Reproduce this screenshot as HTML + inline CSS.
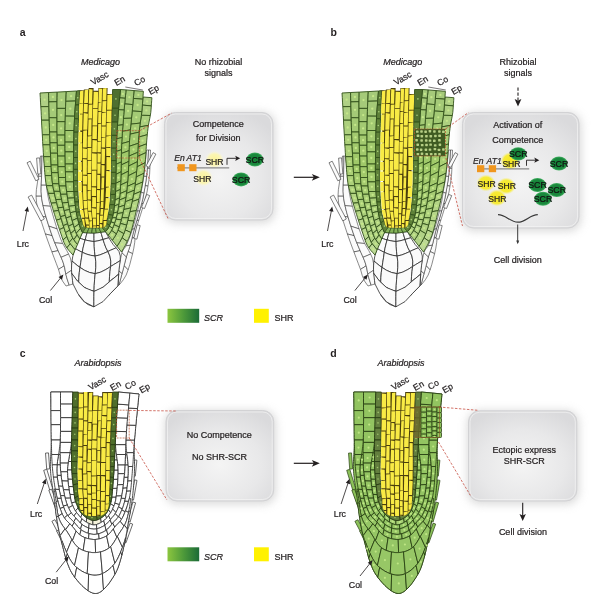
<!DOCTYPE html>
<html><head><meta charset="utf-8"><style>
html,body{margin:0;padding:0;background:#fff;width:600px;height:615px;overflow:hidden}
svg{display:block;will-change:transform}
text{font-family:"Liberation Sans",sans-serif}
</style></head><body>
<svg width="600" height="615" viewBox="0 0 600 615" font-family="Liberation Sans, sans-serif"><defs>
<radialGradient id="boxg" cx="50%" cy="60%" r="65%">
  <stop offset="0" stop-color="#f4f4f4"/>
  <stop offset="0.6" stop-color="#e8e8e9"/>
  <stop offset="1" stop-color="#dadadc"/>
</radialGradient>
<linearGradient id="scrg" x1="0" x2="1" y1="0" y2="0">
  <stop offset="0" stop-color="#8cc63f"/>
  <stop offset="0.5" stop-color="#4e9a3a"/>
  <stop offset="1" stop-color="#1b6b37"/>
</linearGradient>
<radialGradient id="shrA" cx="50%" cy="50%" r="50%">
  <stop offset="0" stop-color="#fbf39a"/>
  <stop offset="0.65" stop-color="#fbf5b4"/>
  <stop offset="1" stop-color="#fbf8d8" stop-opacity="0"/>
</radialGradient>
<radialGradient id="shrB" cx="50%" cy="50%" r="50%">
  <stop offset="0" stop-color="#f5e81e"/>
  <stop offset="0.7" stop-color="#f7eb3a"/>
  <stop offset="1" stop-color="#f8f080" stop-opacity="0"/>
</radialGradient>
<radialGradient id="scrBlob" cx="50%" cy="50%" r="50%">
  <stop offset="0" stop-color="#157d35"/>
  <stop offset="0.78" stop-color="#1a8a3d"/>
  <stop offset="1" stop-color="#47b266"/>
</radialGradient>
<filter id="shadow" x="-20%" y="-20%" width="140%" height="140%">
  <feGaussianBlur stdDeviation="4"/>
</filter>
<marker id="ah" viewBox="0 0 10 10" refX="9" refY="5" markerWidth="8" markerHeight="8" orient="auto" markerUnits="userSpaceOnUse">
  <path d="M0,0 L10,5 L0,10 L2.5,5 Z" fill="#231f20"/>
</marker>
</defs><rect width="600" height="615" fill="#fff"/><text x="19.8" y="36.4" font-size="10.5" font-weight="bold" fill="#231f20">a</text>
<text x="330.6" y="36.4" font-size="10.5" font-weight="bold" fill="#231f20">b</text>
<text x="19.8" y="357" font-size="10.5" font-weight="bold" fill="#231f20">c</text>
<text x="330.3" y="357" font-size="10.5" font-weight="bold" fill="#231f20">d</text>
<text x="81" y="64.6" font-size="9" font-style="italic" fill="#231f20" stroke="#231f20" stroke-width="0.22">Medicago</text>
<text x="383.3" y="64.6" font-size="9" font-style="italic" fill="#231f20" stroke="#231f20" stroke-width="0.22">Medicago</text>
<text x="74.5" y="365.8" font-size="9" font-style="italic" fill="#231f20" stroke="#231f20" stroke-width="0.22">Arabidopsis</text>
<text x="377.5" y="365.8" font-size="9" font-style="italic" fill="#231f20" stroke="#231f20" stroke-width="0.22">Arabidopsis</text>
<text x="218.5" y="65" font-size="9" text-anchor="middle" fill="#231f20" stroke="#231f20" stroke-width="0.22">No rhizobial</text>
<text x="218.5" y="75.8" font-size="9" text-anchor="middle" fill="#231f20" stroke="#231f20" stroke-width="0.22">signals</text>
<text x="518" y="65" font-size="9" text-anchor="middle" fill="#231f20" stroke="#231f20" stroke-width="0.22">Rhizobial</text>
<text x="518" y="75.6" font-size="9" text-anchor="middle" fill="#231f20" stroke="#231f20" stroke-width="0.22">signals</text>
<line x1="518" y1="87.5" x2="518" y2="100" stroke="#231f20" stroke-width="1.1" stroke-dasharray="3.2,1.8"/>
<path d="M518,106.6 L514.6,99 L518,100.5 L521.4,99 Z" fill="#231f20"/>
<rect x="163.0" y="112.0" width="112.5" height="111.5" rx="13" fill="#c4c4c4" opacity="0.6" filter="url(#shadow)"/>
<rect x="164.5" y="112.5" width="108.5" height="107.5" rx="11" fill="url(#boxg)" stroke="#d2d2d4" stroke-width="1"/>
<rect x="166.0" y="114.0" width="105.5" height="104.5" rx="9.5" fill="none" stroke="#f6f6f6" stroke-width="0.8" opacity="0.8"/>
<rect x="461.0" y="112.0" width="120.5" height="119.5" rx="13" fill="#c4c4c4" opacity="0.6" filter="url(#shadow)"/>
<rect x="462.5" y="112.5" width="116.5" height="115.5" rx="11" fill="url(#boxg)" stroke="#d2d2d4" stroke-width="1"/>
<rect x="464.0" y="114.0" width="113.5" height="112.5" rx="9.5" fill="none" stroke="#f6f6f6" stroke-width="0.8" opacity="0.8"/>
<rect x="164.5" y="410.0" width="111.69999999999999" height="94.5" rx="13" fill="#c4c4c4" opacity="0.6" filter="url(#shadow)"/>
<rect x="166" y="410.5" width="107.69999999999999" height="90.5" rx="11" fill="url(#boxg)" stroke="#d2d2d4" stroke-width="1"/>
<rect x="167.5" y="412.0" width="104.69999999999999" height="87.5" rx="9.5" fill="none" stroke="#f6f6f6" stroke-width="0.8" opacity="0.8"/>
<rect x="467.0" y="410.3" width="112.29999999999995" height="94.19999999999999" rx="13" fill="#c4c4c4" opacity="0.6" filter="url(#shadow)"/>
<rect x="468.5" y="410.8" width="108.29999999999995" height="90.19999999999999" rx="11" fill="url(#boxg)" stroke="#d2d2d4" stroke-width="1"/>
<rect x="470.0" y="412.3" width="105.29999999999995" height="87.19999999999999" rx="9.5" fill="none" stroke="#f6f6f6" stroke-width="0.8" opacity="0.8"/>
<line x1="293.8" y1="177.3" x2="314.8" y2="177.3" stroke="#231f20" stroke-width="1.2"/>
<path d="M319.8,177.3 L311.8,173.9 L313.8,177.3 L311.8,180.70000000000002 Z" fill="#231f20"/>
<line x1="293.8" y1="463.3" x2="314.8" y2="463.3" stroke="#231f20" stroke-width="1.2"/>
<path d="M319.8,463.3 L311.8,459.90000000000003 L313.8,463.3 L311.8,466.7 Z" fill="#231f20"/>
<rect x="167.5" y="308.8" width="31.7" height="14" fill="url(#scrg)"/>
<text x="204" y="321.40000000000003" font-size="9" font-style="italic" fill="#231f20" stroke="#231f20" stroke-width="0.22">SCR</text>
<rect x="254" y="308.8" width="14.8" height="14" fill="#fff100"/>
<text x="274.5" y="321.40000000000003" font-size="9" fill="#231f20" stroke="#231f20" stroke-width="0.22">SHR</text>
<rect x="167.5" y="547.3" width="31.7" height="14" fill="url(#scrg)"/>
<text x="204" y="559.9" font-size="9" font-style="italic" fill="#231f20" stroke="#231f20" stroke-width="0.22">SCR</text>
<rect x="254" y="547.3" width="14.8" height="14" fill="#fff100"/>
<text x="274.5" y="559.9" font-size="9" fill="#231f20" stroke="#231f20" stroke-width="0.22">SHR</text>
<text x="218.3" y="126.9" font-size="9" text-anchor="middle" fill="#231f20" stroke="#231f20" stroke-width="0.22">Competence</text>
<text x="218.3" y="141.2" font-size="9" text-anchor="middle" fill="#231f20" stroke="#231f20" stroke-width="0.22">for Division</text>
<text x="517.7" y="127.8" font-size="9" text-anchor="middle" fill="#231f20" stroke="#231f20" stroke-width="0.22">Activation of</text>
<text x="517.7" y="143" font-size="9" text-anchor="middle" fill="#231f20" stroke="#231f20" stroke-width="0.22">Competence</text>
<text x="219.3" y="437.8" font-size="9" text-anchor="middle" fill="#231f20" stroke="#231f20" stroke-width="0.22">No Competence</text>
<text x="219.4" y="460.2" font-size="9" text-anchor="middle" fill="#231f20" stroke="#231f20" stroke-width="0.22">No SHR-SCR</text>
<text x="524.3" y="453.3" font-size="9" text-anchor="middle" fill="#231f20" stroke="#231f20" stroke-width="0.22">Ectopic express</text>
<text x="524.3" y="463.7" font-size="9" text-anchor="middle" fill="#231f20" stroke="#231f20" stroke-width="0.22">SHR-SCR</text>
<text x="517.7" y="262.6" font-size="9" text-anchor="middle" fill="#231f20" stroke="#231f20" stroke-width="0.22">Cell division</text>
<text x="522.9" y="534.8" font-size="9" text-anchor="middle" fill="#231f20" stroke="#231f20" stroke-width="0.22">Cell division</text>
<line x1="522.7" y1="502.8" x2="522.7" y2="517" stroke="#231f20" stroke-width="1.1"/>
<path d="M522.7,521 L519.5,514 L522.7,515.5 L525.9000000000001,514 Z" fill="#231f20"/>
<path d="M498,214.6 C506,214.6 510,222.2 517.9,222.2 C525.8,222.2 529.8,214.6 537.8,214.6" fill="none" stroke="#3a3a3a" stroke-width="1.2"/>
<line x1="517.7" y1="224.5" x2="517.7" y2="243" stroke="#3a3a3a" stroke-width="1"/>
<path d="M517.7,244.2 L516.2,240.5 L519.2,240.5 Z" fill="#3a3a3a"/>
<ellipse cx="214.5" cy="159.8" rx="9.5" ry="9" fill="url(#shrA)"/>
<ellipse cx="203.5" cy="177.5" rx="9.5" ry="9" fill="url(#shrA)"/>
<line x1="177" y1="167.8" x2="229.2" y2="167.8" stroke="#8a8a8a" stroke-width="1.3"/>
<rect x="177.5" y="164.20000000000002" width="7.3" height="7" fill="#f0961e"/>
<rect x="189.2" y="164.20000000000002" width="7.3" height="7" fill="#f0961e"/>
<path d="M227,164.8 L227,158.3 L236.2,158.3" fill="none" stroke="#231f20" stroke-width="0.9"/>
<path d="M240.2,158.3 L235.2,155.70000000000002 L236.2,158.3 L235.2,160.9 Z" fill="#231f20"/>
<text x="174.3" y="161" font-size="8.6" font-style="italic" fill="#231f20" stroke="#231f20" stroke-width="0.22">En</text>
<text x="186.6" y="161" font-size="8.6" font-style="italic" fill="#231f20" stroke="#231f20" stroke-width="0.22">AT1</text>
<text x="205.4" y="165" font-size="8.6" fill="#231f20" stroke="#231f20" stroke-width="0.22">SHR</text>
<text x="193.2" y="182" font-size="8.6" fill="#231f20" stroke="#231f20" stroke-width="0.22">SHR</text>
<ellipse cx="254.9" cy="159.5" rx="8.5" ry="7" fill="url(#scrBlob)"/>
<text x="254.9" y="162.6" font-size="8.8" text-anchor="middle" fill="#111" stroke="#111" stroke-width="0.22">SCR</text>
<ellipse cx="241.1" cy="179.4" rx="8.5" ry="7" fill="url(#scrBlob)"/>
<text x="241.1" y="182.5" font-size="8.8" text-anchor="middle" fill="#111" stroke="#111" stroke-width="0.22">SCR</text>
<ellipse cx="510" cy="161" rx="9.5" ry="9" fill="url(#shrB)"/>
<ellipse cx="486" cy="183" rx="9.5" ry="8.5" fill="url(#shrB)"/>
<ellipse cx="506.3" cy="186" rx="9.5" ry="8.5" fill="url(#shrB)"/>
<ellipse cx="497" cy="197.8" rx="9.5" ry="8.5" fill="url(#shrB)"/>
<line x1="477" y1="168.8" x2="529.2" y2="168.8" stroke="#8a8a8a" stroke-width="1.3"/>
<rect x="477" y="165.20000000000002" width="7.3" height="7" fill="#f0961e"/>
<rect x="488.8" y="165.20000000000002" width="7.3" height="7" fill="#f0961e"/>
<path d="M526.5,165.8 L526.5,160.2 L535.3,160.2" fill="none" stroke="#231f20" stroke-width="0.9"/>
<path d="M539.3,160.2 L534.3,157.6 L535.3,160.2 L534.3,162.79999999999998 Z" fill="#231f20"/>
<ellipse cx="518.2" cy="153.8" rx="8.5" ry="6.6" fill="url(#scrBlob)"/>
<text x="518.2" y="156.9" font-size="8.8" text-anchor="middle" fill="#111" stroke="#111" stroke-width="0.22">SCR</text>
<text x="473" y="163.5" font-size="8.6" font-style="italic" fill="#231f20" stroke="#231f20" stroke-width="0.22">En</text>
<text x="486.6" y="163.5" font-size="8.6" font-style="italic" fill="#231f20" stroke="#231f20" stroke-width="0.22">AT1</text>
<text x="502.4" y="166.6" font-size="8.6" fill="#231f20" stroke="#231f20" stroke-width="0.22">SHR</text>
<text x="477.6" y="186.8" font-size="8.6" fill="#231f20" stroke="#231f20" stroke-width="0.22">SHR</text>
<text x="497.8" y="189.2" font-size="8.6" fill="#231f20" stroke="#231f20" stroke-width="0.22">SHR</text>
<text x="488.3" y="201.5" font-size="8.6" fill="#231f20" stroke="#231f20" stroke-width="0.22">SHR</text>
<ellipse cx="559" cy="163.5" rx="8.7" ry="7" fill="url(#scrBlob)"/>
<text x="559" y="166.6" font-size="8.8" text-anchor="middle" fill="#111" stroke="#111" stroke-width="0.22">SCR</text>
<ellipse cx="537.5" cy="185" rx="8.7" ry="7" fill="url(#scrBlob)"/>
<text x="537.5" y="188.1" font-size="8.8" text-anchor="middle" fill="#111" stroke="#111" stroke-width="0.22">SCR</text>
<ellipse cx="556.7" cy="190" rx="8.7" ry="7" fill="url(#scrBlob)"/>
<text x="556.7" y="193.1" font-size="8.8" text-anchor="middle" fill="#111" stroke="#111" stroke-width="0.22">SCR</text>
<ellipse cx="543" cy="198.7" rx="8.7" ry="7" fill="url(#scrBlob)"/>
<text x="543" y="201.79999999999998" font-size="8.8" text-anchor="middle" fill="#111" stroke="#111" stroke-width="0.22">SCR</text>
<polygon points="40.5,156.0 39.8,162.8 39.1,169.5 38.3,176.3 41.6,176.3 41.7,169.5 41.9,162.8 42.0,156.0" fill="#fbfbfb" stroke="#2b2b2b" stroke-width="0.55" stroke-linejoin="round"/>
<polygon points="38.3,176.3 37.4,182.9 36.4,189.5 36.0,196.2 41.4,196.2 41.1,189.5 41.3,182.9 41.6,176.3" fill="#fbfbfb" stroke="#2b2b2b" stroke-width="0.55" stroke-linejoin="round"/>
<polygon points="36.0,196.2 36.6,202.8 37.8,209.2 39.5,215.6 46.0,217.1 44.1,210.0 42.4,203.1 41.4,196.2" fill="#fbfbfb" stroke="#2b2b2b" stroke-width="0.55" stroke-linejoin="round"/>
<polygon points="39.5,215.6 41.4,221.7 43.4,227.9 45.4,234.0 52.1,235.7 50.2,230.1 48.1,223.8 46.0,217.1" fill="#fbfbfb" stroke="#2b2b2b" stroke-width="0.55" stroke-linejoin="round"/>
<polygon points="45.4,234.0 47.5,240.0 49.7,246.0 51.9,251.9 58.2,250.7 56.1,245.9 54.0,240.9 52.1,235.7" fill="#fbfbfb" stroke="#2b2b2b" stroke-width="0.55" stroke-linejoin="round"/>
<polygon points="51.9,251.9 54.1,257.8 56.3,263.6 58.5,269.4 64.2,265.8 62.4,260.4 60.3,255.5 58.2,250.7" fill="#fbfbfb" stroke="#2b2b2b" stroke-width="0.55" stroke-linejoin="round"/>
<polygon points="58.5,269.4 60.2,275.3 62.5,281.0 66.0,286.0 69.2,285.1 66.9,278.2 65.4,271.8 64.2,265.8" fill="#fbfbfb" stroke="#2b2b2b" stroke-width="0.55" stroke-linejoin="round"/>
<polygon points="42.0,156.0 41.8,165.8 41.6,175.6 41.2,185.2 46.4,185.2 45.6,175.6 44.6,165.8 43.8,156.0" fill="#fbfbfb" stroke="#2b2b2b" stroke-width="0.55" stroke-linejoin="round"/>
<polygon points="41.2,185.2 41.1,191.8 41.7,198.6 43.0,205.6 50.4,206.3 48.5,198.8 47.2,191.8 46.4,185.2" fill="#fbfbfb" stroke="#2b2b2b" stroke-width="0.55" stroke-linejoin="round"/>
<polygon points="43.0,205.6 44.7,212.5 46.8,219.5 48.9,226.2 57.1,228.9 54.8,221.6 52.5,213.8 50.4,206.3" fill="#fbfbfb" stroke="#2b2b2b" stroke-width="0.55" stroke-linejoin="round"/>
<polygon points="48.9,226.2 50.9,232.1 52.8,237.5 54.8,242.8 62.7,243.5 60.8,239.3 59.1,234.6 57.1,228.9" fill="#fbfbfb" stroke="#2b2b2b" stroke-width="0.55" stroke-linejoin="round"/>
<polygon points="54.8,242.8 56.8,247.6 58.9,252.4 61.1,257.3 68.6,254.1 66.7,250.4 64.7,247.0 62.7,243.5" fill="#fbfbfb" stroke="#2b2b2b" stroke-width="0.55" stroke-linejoin="round"/>
<polygon points="61.1,257.3 63.1,262.2 64.7,267.8 65.8,274.1 71.9,270.0 71.5,263.3 70.4,258.1 68.6,254.1" fill="#fbfbfb" stroke="#2b2b2b" stroke-width="0.55" stroke-linejoin="round"/>
<polygon points="65.8,274.1 66.7,277.6 67.9,281.3 69.2,285.1 73.0,284.0 72.6,278.9 72.2,274.1 71.9,270.0" fill="#fbfbfb" stroke="#2b2b2b" stroke-width="0.55" stroke-linejoin="round"/>
<polygon points="150.5,150.0 150.3,156.1 150.1,162.2 149.9,168.3 147.3,168.4 147.7,162.3 148.1,156.1 148.5,150.0" fill="#fbfbfb" stroke="#2b2b2b" stroke-width="0.55" stroke-linejoin="round"/>
<polygon points="149.9,168.3 149.6,174.3 148.9,180.3 148.0,186.2 145.2,185.5 146.1,180.0 146.8,174.3 147.3,168.4" fill="#fbfbfb" stroke="#2b2b2b" stroke-width="0.55" stroke-linejoin="round"/>
<polygon points="148.0,186.2 147.0,192.0 145.6,197.8 144.0,203.5 141.6,203.5 143.1,197.6 144.2,191.0 145.2,185.5" fill="#fbfbfb" stroke="#2b2b2b" stroke-width="0.55" stroke-linejoin="round"/>
<polygon points="144.0,203.5 142.3,209.1 140.6,214.6 138.8,220.2 136.9,220.5 138.6,214.6 140.2,209.0 141.6,203.5" fill="#fbfbfb" stroke="#2b2b2b" stroke-width="0.55" stroke-linejoin="round"/>
<polygon points="138.8,220.2 137.1,225.7 135.8,231.3 135.2,237.0 132.0,238.1 133.4,232.3 135.1,226.5 136.9,220.5" fill="#fbfbfb" stroke="#2b2b2b" stroke-width="0.55" stroke-linejoin="round"/>
<polygon points="135.2,237.0 134.7,242.6 133.8,248.2 132.6,253.7 128.1,251.5 129.4,247.9 130.8,243.4 132.0,238.1" fill="#fbfbfb" stroke="#2b2b2b" stroke-width="0.55" stroke-linejoin="round"/>
<polygon points="132.6,253.7 131.2,259.1 129.8,264.5 128.1,269.9 124.1,265.7 125.5,260.2 126.8,255.3 128.1,251.5" fill="#fbfbfb" stroke="#2b2b2b" stroke-width="0.55" stroke-linejoin="round"/>
<polygon points="128.1,269.9 126.2,275.0 123.4,279.7 120.0,284.0 118.9,285.0 120.8,278.0 122.6,271.5 124.1,265.7" fill="#fbfbfb" stroke="#2b2b2b" stroke-width="0.55" stroke-linejoin="round"/>
<polygon points="148.5,150.0 147.9,158.9 147.4,167.7 146.6,176.4 143.8,176.3 144.8,167.8 145.7,158.9 146.5,150.0" fill="#fbfbfb" stroke="#2b2b2b" stroke-width="0.55" stroke-linejoin="round"/>
<polygon points="146.6,176.4 145.8,182.0 144.9,187.4 143.9,193.2 141.2,192.3 142.1,186.6 143.0,181.6 143.8,176.3" fill="#fbfbfb" stroke="#2b2b2b" stroke-width="0.55" stroke-linejoin="round"/>
<polygon points="143.9,193.2 142.6,199.8 141.1,205.5 139.6,211.0 137.5,211.0 138.8,205.5 140.0,199.8 141.2,192.3" fill="#fbfbfb" stroke="#2b2b2b" stroke-width="0.55" stroke-linejoin="round"/>
<polygon points="139.6,211.0 138.0,216.7 136.2,222.6 134.4,228.6 132.3,229.5 134.3,223.1 136.0,216.8 137.5,211.0" fill="#fbfbfb" stroke="#2b2b2b" stroke-width="0.55" stroke-linejoin="round"/>
<polygon points="134.4,228.6 132.9,234.3 131.6,240.0 130.3,245.2 126.1,245.8 128.1,241.1 130.3,235.4 132.3,229.5" fill="#fbfbfb" stroke="#2b2b2b" stroke-width="0.55" stroke-linejoin="round"/>
<polygon points="130.3,245.2 129.0,249.2 127.7,252.7 126.3,257.0 121.9,252.8 123.2,249.8 124.5,248.3 126.1,245.8" fill="#fbfbfb" stroke="#2b2b2b" stroke-width="0.55" stroke-linejoin="round"/>
<polygon points="126.3,257.0 125.0,262.1 123.6,267.7 122.0,273.7 118.7,270.7 119.6,263.6 120.8,257.7 121.9,252.8" fill="#fbfbfb" stroke="#2b2b2b" stroke-width="0.55" stroke-linejoin="round"/>
<polygon points="122.0,273.7 121.0,277.4 120.0,281.2 118.9,285.0 117.8,286.0 118.1,280.7 118.3,275.5 118.7,270.7" fill="#fbfbfb" stroke="#2b2b2b" stroke-width="0.55" stroke-linejoin="round"/>
<polygon points="30.2,161.2 39.0,179.2 35.8,180.8 27.0,162.8" fill="#fbfbfb" stroke="#2b2b2b" stroke-width="0.6" stroke-linejoin="round"/>
<polygon points="39.6,157.9 40.8,173.9 37.8,174.1 36.6,158.1" fill="#fbfbfb" stroke="#2b2b2b" stroke-width="0.6" stroke-linejoin="round"/>
<polygon points="31.6,195.1 44.3,219.0 40.8,220.9 28.1,197.0" fill="#fbfbfb" stroke="#2b2b2b" stroke-width="0.6" stroke-linejoin="round"/>
<polygon points="155.9,154.1 148.9,167.4 146.1,165.9 153.1,152.6" fill="#fbfbfb" stroke="#2b2b2b" stroke-width="0.6" stroke-linejoin="round"/>
<polygon points="149.7,195.6 144.5,208.6 141.5,207.4 146.7,194.4" fill="#fbfbfb" stroke="#2b2b2b" stroke-width="0.6" stroke-linejoin="round"/>
<polygon points="140.2,225.6 136.9,239.2 133.8,238.4 137.1,224.8" fill="#fbfbfb" stroke="#2b2b2b" stroke-width="0.6" stroke-linejoin="round"/>
<polygon points="82.5,232.5 84.0,232.6 85.6,232.7 87.1,232.8 86.4,235.2 85.8,237.5 85.1,239.9 83.2,239.4 81.4,238.8 79.6,238.2 80.6,236.3 81.5,234.4" fill="#fbfbfb" stroke="#2b2b2b" stroke-width="0.8" stroke-linejoin="round"/>
<polygon points="79.6,238.2 81.4,238.8 83.2,239.4 85.1,239.9 84.0,244.0 83.0,248.2 82.3,252.3 79.8,251.1 77.4,249.8 75.1,248.5 76.4,245.0 77.9,241.6" fill="#fbfbfb" stroke="#2b2b2b" stroke-width="0.8" stroke-linejoin="round"/>
<polygon points="75.1,248.5 77.4,249.8 79.8,251.1 82.3,252.3 81.6,257.2 80.8,262.3 80.0,267.4 77.2,265.4 74.5,263.2 72.0,261.0 72.7,256.8 73.8,252.6" fill="#fbfbfb" stroke="#2b2b2b" stroke-width="0.8" stroke-linejoin="round"/>
<polygon points="72.0,261.0 74.5,263.2 77.2,265.4 80.0,267.4 79.3,272.4 78.9,277.4 78.7,282.4 76.2,279.5 73.9,276.4 71.7,273.3 71.5,269.2 71.6,265.1" fill="#fbfbfb" stroke="#2b2b2b" stroke-width="0.8" stroke-linejoin="round"/>
<polygon points="87.1,232.8 89.4,232.9 91.7,233.0 94.0,233.0 94.0,235.8 94.0,238.6 94.1,241.5 91.0,241.2 88.0,240.6 85.1,239.9 85.8,237.5 86.4,235.2" fill="#fbfbfb" stroke="#2b2b2b" stroke-width="0.8" stroke-linejoin="round"/>
<polygon points="85.1,239.9 88.0,240.6 91.0,241.2 94.1,241.5 94.2,246.4 94.5,251.3 95.1,256.0 90.5,255.3 86.2,254.0 82.3,252.3 83.0,248.2 84.0,244.0" fill="#fbfbfb" stroke="#2b2b2b" stroke-width="0.8" stroke-linejoin="round"/>
<polygon points="82.3,252.3 86.2,254.0 90.5,255.3 95.1,256.0 95.8,261.6 95.8,267.6 95.2,273.7 89.6,272.5 84.5,270.3 80.0,267.4 80.8,262.3 81.6,257.2" fill="#fbfbfb" stroke="#2b2b2b" stroke-width="0.8" stroke-linejoin="round"/>
<polygon points="80.0,267.4 84.5,270.3 89.6,272.5 95.2,273.7 94.6,279.6 94.2,285.5 94.0,291.4 88.1,289.6 83.0,286.5 78.7,282.4 78.9,277.4 79.3,272.4" fill="#fbfbfb" stroke="#2b2b2b" stroke-width="0.8" stroke-linejoin="round"/>
<polygon points="78.7,282.4 83.0,286.5 88.1,289.6 94.0,291.4 93.9,296.5 93.9,301.7 93.9,306.8 87.9,304.5 82.9,300.5 79.0,295.4 78.9,291.1 78.8,286.7" fill="#fbfbfb" stroke="#2b2b2b" stroke-width="0.8" stroke-linejoin="round"/>
<polygon points="94.0,233.0 96.3,232.8 98.6,232.6 100.8,232.3 101.6,234.7 102.3,237.1 103.0,239.5 100.1,240.3 97.2,241.0 94.1,241.5 94.0,238.6 94.0,235.8" fill="#fbfbfb" stroke="#2b2b2b" stroke-width="0.8" stroke-linejoin="round"/>
<polygon points="94.1,241.5 97.2,241.0 100.1,240.3 103.0,239.5 104.4,243.6 105.9,247.7 107.9,251.5 103.9,253.3 99.6,255.0 95.1,256.0 94.5,251.3 94.2,246.4" fill="#fbfbfb" stroke="#2b2b2b" stroke-width="0.8" stroke-linejoin="round"/>
<polygon points="95.1,256.0 99.6,255.0 103.9,253.3 107.9,251.5 109.9,256.0 110.8,261.2 110.6,266.5 105.9,269.5 100.8,272.1 95.2,273.7 95.8,267.6 95.8,261.6" fill="#fbfbfb" stroke="#2b2b2b" stroke-width="0.8" stroke-linejoin="round"/>
<polygon points="95.2,273.7 100.8,272.1 105.9,269.5 110.6,266.5 110.0,271.6 109.5,276.7 109.3,281.9 104.8,285.9 99.7,289.3 94.0,291.4 94.2,285.5 94.6,279.6" fill="#fbfbfb" stroke="#2b2b2b" stroke-width="0.8" stroke-linejoin="round"/>
<polygon points="100.8,232.3 102.4,232.0 103.9,231.8 105.4,231.6 106.6,233.7 107.7,235.7 108.9,237.8 106.9,238.3 105.0,238.9 103.0,239.5 102.3,237.1 101.6,234.7" fill="#fbfbfb" stroke="#2b2b2b" stroke-width="0.8" stroke-linejoin="round"/>
<polygon points="103.0,239.5 105.0,238.9 106.9,238.3 108.9,237.8 111.0,241.3 113.3,244.7 116.1,247.8 113.4,249.0 110.6,250.2 107.9,251.5 105.9,247.7 104.4,243.6" fill="#fbfbfb" stroke="#2b2b2b" stroke-width="0.8" stroke-linejoin="round"/>
<polygon points="107.9,251.5 110.6,250.2 113.4,249.0 116.1,247.8 119.0,251.5 120.3,256.0 120.2,260.7 117.0,262.6 113.7,264.6 110.6,266.5 110.8,261.2 109.9,256.0" fill="#fbfbfb" stroke="#2b2b2b" stroke-width="0.8" stroke-linejoin="round"/>
<polygon points="110.6,266.5 113.7,264.6 117.0,262.6 120.2,260.7 119.6,265.2 119.0,269.7 118.7,274.2 115.6,276.8 112.4,279.3 109.3,281.9 109.5,276.7 110.0,271.6" fill="#fbfbfb" stroke="#2b2b2b" stroke-width="0.8" stroke-linejoin="round"/>
<polygon points="109.3,281.9 112.4,279.3 115.6,276.8 118.7,274.2 118.4,278.1 118.1,282.1 117.8,286.0 114.8,289.1 111.8,292.1 108.8,295.3 109.0,290.8 109.1,286.3" fill="#fbfbfb" stroke="#2b2b2b" stroke-width="0.8" stroke-linejoin="round"/>
<polygon points="71.7,273.3 77.4,281.0 84.6,287.6 94.0,291.4 93.9,296.5 93.9,301.7 93.9,306.8 84.5,301.9 77.9,293.6 73.0,284.0 72.5,280.5 72.1,276.9" fill="#fbfbfb" stroke="#2b2b2b" stroke-width="0.8" stroke-linejoin="round"/>
<polygon points="94.0,291.4 103.2,287.1 110.8,280.6 118.7,274.2 118.4,278.1 118.1,282.1 117.8,286.0 110.3,293.7 103.0,301.6 93.9,306.8 93.9,301.7 93.9,296.5" fill="#fbfbfb" stroke="#2b2b2b" stroke-width="0.8" stroke-linejoin="round"/>
<polygon points="40.0,93.0 40.3,97.6 40.5,102.1 40.8,106.7 48.9,106.6 48.8,101.9 48.7,97.2 48.6,92.5" fill="#afd085" stroke="#31501a" stroke-width="0.9" stroke-linejoin="round"/>
<polygon points="40.8,106.7 41.1,111.2 41.3,115.7 41.5,120.2 49.2,120.2 49.1,115.7 49.0,111.2 48.9,106.6" fill="#aed082" stroke="#31501a" stroke-width="0.9" stroke-linejoin="round"/>
<polygon points="41.5,120.2 41.7,125.1 42.0,129.9 42.3,134.8 49.7,134.8 49.5,129.9 49.4,125.1 49.2,120.2" fill="#add07e" stroke="#31501a" stroke-width="0.9" stroke-linejoin="round"/>
<polygon points="42.3,134.8 42.5,138.1 42.6,141.4 42.8,144.8 50.1,144.8 49.9,141.4 49.8,138.1 49.7,134.8" fill="#accf7a" stroke="#31501a" stroke-width="0.9" stroke-linejoin="round"/>
<polygon points="42.8,144.8 43.1,148.8 43.3,152.7 43.6,156.7 50.6,156.7 50.4,152.7 50.3,148.8 50.1,144.8" fill="#abcf77" stroke="#31501a" stroke-width="0.9" stroke-linejoin="round"/>
<polygon points="43.6,156.7 43.8,160.0 44.1,163.3 44.3,166.5 51.2,166.5 51.0,163.3 50.8,160.0 50.6,156.7" fill="#aacf75" stroke="#31501a" stroke-width="0.9" stroke-linejoin="round"/>
<polygon points="44.3,166.5 44.5,169.6 44.8,172.6 45.0,175.6 51.7,175.6 51.5,172.6 51.3,169.6 51.2,166.5" fill="#abcf76" stroke="#31501a" stroke-width="0.9" stroke-linejoin="round"/>
<polygon points="45.0,175.6 45.4,179.0 45.8,182.3 46.4,185.7 52.8,185.7 52.3,182.3 52.0,179.0 51.7,175.6" fill="#add17a" stroke="#31501a" stroke-width="0.9" stroke-linejoin="round"/>
<polygon points="46.4,185.7 47.0,188.3 47.7,190.8 48.4,193.4 54.4,193.4 53.9,190.9 53.3,188.3 52.8,185.7" fill="#afd27e" stroke="#31501a" stroke-width="0.9" stroke-linejoin="round"/>
<polygon points="48.4,193.4 49.2,196.7 50.1,199.9 51.1,203.2 56.7,202.7 55.9,199.6 55.1,196.5 54.4,193.4" fill="#b2d381" stroke="#31501a" stroke-width="0.9" stroke-linejoin="round"/>
<polygon points="51.1,203.2 51.9,205.9 52.7,208.6 53.5,211.3 58.7,210.4 58.0,207.8 57.3,205.3 56.7,202.7" fill="#b4d485" stroke="#31501a" stroke-width="0.9" stroke-linejoin="round"/>
<polygon points="53.5,211.3 54.5,214.3 55.4,217.3 56.4,220.2 61.2,218.7 60.3,215.9 59.5,213.2 58.7,210.4" fill="#b6d589" stroke="#31501a" stroke-width="0.9" stroke-linejoin="round"/>
<polygon points="56.4,220.2 57.4,223.4 58.5,226.5 59.5,229.6 63.9,227.5 62.9,224.6 62.0,221.6 61.2,218.7" fill="#b8d68c" stroke="#31501a" stroke-width="0.9" stroke-linejoin="round"/>
<polygon points="59.5,229.6 60.7,233.1 61.8,236.5 63.0,239.9 66.9,236.6 65.9,233.6 64.9,230.6 63.9,227.5" fill="#bad890" stroke="#31501a" stroke-width="0.9" stroke-linejoin="round"/>
<polygon points="63.0,239.9 64.0,242.7 65.3,245.4 66.9,247.9 70.2,243.6 68.9,241.4 67.8,239.0 66.9,236.6" fill="#bcd994" stroke="#31501a" stroke-width="0.9" stroke-linejoin="round"/>
<polygon points="66.9,247.9 68.8,250.4 70.9,252.7 73.0,255.0 75.2,249.7 73.5,247.7 71.8,245.7 70.2,243.6" fill="#beda97" stroke="#31501a" stroke-width="0.9" stroke-linejoin="round"/>
<polygon points="48.6,92.5 48.6,95.6 48.7,98.8 48.8,101.9 57.0,101.7 57.1,98.5 57.1,95.3 57.2,92.1" fill="#a5ca7a" stroke="#31501a" stroke-width="0.9" stroke-linejoin="round"/>
<polygon points="48.8,101.9 48.9,107.2 49.1,112.5 49.2,117.7 57.0,117.8 57.0,112.5 57.0,107.2 57.0,101.7" fill="#a4ca77" stroke="#31501a" stroke-width="0.9" stroke-linejoin="round"/>
<polygon points="49.2,117.7 49.3,122.5 49.4,127.2 49.6,132.0 57.1,132.0 57.0,127.2 57.0,122.5 57.0,117.8" fill="#a3ca73" stroke="#31501a" stroke-width="0.9" stroke-linejoin="round"/>
<polygon points="49.6,132.0 49.7,135.6 49.9,139.2 50.0,142.8 57.3,142.8 57.2,139.2 57.1,135.6 57.1,132.0" fill="#a2c96f" stroke="#31501a" stroke-width="0.9" stroke-linejoin="round"/>
<polygon points="50.0,142.8 50.1,146.3 50.3,149.8 50.5,153.2 57.5,153.2 57.4,149.8 57.4,146.3 57.3,142.8" fill="#a1c96c" stroke="#31501a" stroke-width="0.9" stroke-linejoin="round"/>
<polygon points="50.5,153.2 50.7,157.2 50.9,161.1 51.1,165.0 57.9,165.0 57.8,161.1 57.7,157.2 57.5,153.2" fill="#a0c969" stroke="#31501a" stroke-width="0.9" stroke-linejoin="round"/>
<polygon points="51.1,165.0 51.2,167.6 51.4,170.2 51.5,172.7 58.3,172.7 58.1,170.2 58.0,167.6 57.9,165.0" fill="#a0c969" stroke="#31501a" stroke-width="0.9" stroke-linejoin="round"/>
<polygon points="51.5,172.7 51.8,176.4 52.1,180.1 52.5,183.7 59.0,183.8 58.7,180.1 58.4,176.4 58.3,172.7" fill="#a3ca6d" stroke="#31501a" stroke-width="0.9" stroke-linejoin="round"/>
<polygon points="52.5,183.7 52.9,186.3 53.4,188.9 54.0,191.3 60.1,191.4 59.7,188.9 59.3,186.4 59.0,183.8" fill="#a5cb71" stroke="#31501a" stroke-width="0.9" stroke-linejoin="round"/>
<polygon points="54.0,191.3 54.6,194.1 55.2,196.9 55.9,199.6 61.6,199.3 61.1,196.7 60.6,194.1 60.1,191.4" fill="#a7cd74" stroke="#31501a" stroke-width="0.9" stroke-linejoin="round"/>
<polygon points="55.9,199.6 56.6,202.4 57.3,205.2 58.0,207.9 63.4,207.2 62.8,204.6 62.2,202.0 61.6,199.3" fill="#a9ce78" stroke="#31501a" stroke-width="0.9" stroke-linejoin="round"/>
<polygon points="58.0,207.9 58.8,210.9 59.7,213.8 60.5,216.7 65.4,215.3 64.7,212.7 64.0,210.0 63.4,207.2" fill="#abcf7b" stroke="#31501a" stroke-width="0.9" stroke-linejoin="round"/>
<polygon points="60.5,216.7 61.5,219.7 62.4,222.7 63.3,225.7 67.7,223.7 66.9,220.9 66.1,218.1 65.4,215.3" fill="#add07f" stroke="#31501a" stroke-width="0.9" stroke-linejoin="round"/>
<polygon points="63.3,225.7 64.1,228.1 64.8,230.4 65.6,232.7 69.7,230.0 69.1,228.0 68.4,225.9 67.7,223.7" fill="#afd182" stroke="#31501a" stroke-width="0.9" stroke-linejoin="round"/>
<polygon points="65.6,232.7 66.7,236.0 67.9,239.2 69.3,242.3 72.8,238.1 71.6,235.5 70.7,232.8 69.7,230.0" fill="#b1d285" stroke="#31501a" stroke-width="0.9" stroke-linejoin="round"/>
<polygon points="69.3,242.3 71.2,244.9 73.2,247.3 75.2,249.7 77.5,244.4 75.8,242.4 74.3,240.3 72.8,238.1" fill="#b3d389" stroke="#31501a" stroke-width="0.9" stroke-linejoin="round"/>
<polygon points="57.2,92.1 57.1,97.5 57.0,103.0 57.0,108.4 65.5,108.4 65.8,102.8 66.0,97.2 66.3,91.6" fill="#a5ca79" stroke="#31501a" stroke-width="0.9" stroke-linejoin="round"/>
<polygon points="57.0,108.4 57.0,112.9 57.0,117.3 57.0,121.7 65.2,121.7 65.3,117.3 65.4,112.9 65.5,108.4" fill="#a4ca75" stroke="#31501a" stroke-width="0.9" stroke-linejoin="round"/>
<polygon points="57.0,121.7 57.0,126.1 57.0,130.6 57.1,135.1 65.0,135.1 65.0,130.6 65.1,126.1 65.2,121.7" fill="#a3ca72" stroke="#31501a" stroke-width="0.9" stroke-linejoin="round"/>
<polygon points="57.1,135.1 57.2,138.5 57.3,141.9 57.3,145.3 65.0,145.3 65.0,141.9 65.0,138.5 65.0,135.1" fill="#a2c96e" stroke="#31501a" stroke-width="0.9" stroke-linejoin="round"/>
<polygon points="57.3,145.3 57.4,148.9 57.5,152.5 57.6,156.1 65.1,156.1 65.1,152.5 65.0,148.9 65.0,145.3" fill="#a1c96b" stroke="#31501a" stroke-width="0.9" stroke-linejoin="round"/>
<polygon points="57.6,156.1 57.8,159.6 57.9,163.1 58.0,166.7 65.3,166.7 65.2,163.1 65.2,159.6 65.1,156.1" fill="#a0c969" stroke="#31501a" stroke-width="0.9" stroke-linejoin="round"/>
<polygon points="58.0,166.7 58.1,170.3 58.3,173.9 58.5,177.5 65.6,177.5 65.5,173.9 65.4,170.3 65.3,166.7" fill="#a1c96a" stroke="#31501a" stroke-width="0.9" stroke-linejoin="round"/>
<polygon points="58.5,177.5 58.7,180.3 58.9,183.1 59.2,186.0 66.0,186.0 65.8,183.2 65.7,180.3 65.6,177.5" fill="#a4cb6e" stroke="#31501a" stroke-width="0.9" stroke-linejoin="round"/>
<polygon points="59.2,186.0 59.7,188.9 60.2,191.6 60.6,194.3 67.0,194.2 66.7,191.7 66.3,188.9 66.0,186.0" fill="#a6cc72" stroke="#31501a" stroke-width="0.9" stroke-linejoin="round"/>
<polygon points="60.6,194.3 61.2,197.2 61.8,200.1 62.4,203.0 68.3,202.4 67.9,199.8 67.4,197.0 67.0,194.2" fill="#a8cd76" stroke="#31501a" stroke-width="0.9" stroke-linejoin="round"/>
<polygon points="62.4,203.0 63.0,205.5 63.6,208.1 64.2,210.6 69.6,209.5 69.2,207.2 68.7,204.8 68.3,202.4" fill="#aace79" stroke="#31501a" stroke-width="0.9" stroke-linejoin="round"/>
<polygon points="64.2,210.6 64.8,213.0 65.4,215.5 66.1,218.0 71.1,216.3 70.6,214.0 70.1,211.8 69.6,209.5" fill="#abcf7c" stroke="#31501a" stroke-width="0.9" stroke-linejoin="round"/>
<polygon points="66.1,218.0 66.9,220.8 67.7,223.6 68.5,226.3 73.1,223.9 72.4,221.4 71.7,218.8 71.1,216.3" fill="#add07f" stroke="#31501a" stroke-width="0.9" stroke-linejoin="round"/>
<polygon points="68.5,226.3 69.4,228.8 70.1,231.2 70.9,233.4 75.0,229.9 74.4,228.0 73.8,226.0 73.1,223.9" fill="#afd182" stroke="#31501a" stroke-width="0.9" stroke-linejoin="round"/>
<polygon points="70.9,233.4 71.7,235.6 72.6,237.7 73.8,239.7 77.2,234.9 76.4,233.3 75.7,231.6 75.0,229.9" fill="#b0d285" stroke="#31501a" stroke-width="0.9" stroke-linejoin="round"/>
<polygon points="73.8,239.7 75.0,241.3 76.2,242.9 77.5,244.4 79.8,238.8 79.0,237.5 78.1,236.3 77.2,234.9" fill="#b2d287" stroke="#31501a" stroke-width="0.9" stroke-linejoin="round"/>
<polygon points="66.3,91.6 66.1,94.8 66.0,98.0 65.8,101.3 75.7,101.0 75.9,97.7 76.2,94.3 76.5,91.0" fill="#a5ca7a" stroke="#31501a" stroke-width="0.9" stroke-linejoin="round"/>
<polygon points="65.8,101.3 65.6,106.4 65.4,111.3 65.3,116.1 74.6,116.2 74.9,111.3 75.3,106.3 75.7,101.0" fill="#a4ca77" stroke="#31501a" stroke-width="0.9" stroke-linejoin="round"/>
<polygon points="65.3,116.1 65.2,120.9 65.1,125.7 65.0,130.5 74.0,130.5 74.2,125.7 74.4,121.0 74.6,116.2" fill="#a3ca73" stroke="#31501a" stroke-width="0.9" stroke-linejoin="round"/>
<polygon points="65.0,130.5 65.0,134.4 65.0,138.2 65.0,142.1 73.7,142.1 73.8,138.2 73.9,134.4 74.0,130.5" fill="#a2c96f" stroke="#31501a" stroke-width="0.9" stroke-linejoin="round"/>
<polygon points="65.0,142.1 65.0,145.4 65.0,148.6 65.1,151.9 73.5,151.9 73.6,148.6 73.6,145.4 73.7,142.1" fill="#a1c96d" stroke="#31501a" stroke-width="0.9" stroke-linejoin="round"/>
<polygon points="65.1,151.9 65.1,156.0 65.2,160.0 65.2,164.0 73.4,164.0 73.5,160.0 73.5,156.0 73.5,151.9" fill="#a0c96a" stroke="#31501a" stroke-width="0.9" stroke-linejoin="round"/>
<polygon points="65.2,164.0 65.3,166.7 65.3,169.3 65.4,171.9 73.4,171.9 73.4,169.3 73.4,166.7 73.4,164.0" fill="#a0c969" stroke="#31501a" stroke-width="0.9" stroke-linejoin="round"/>
<polygon points="65.4,171.9 65.5,175.3 65.6,178.6 65.7,181.9 73.5,181.9 73.5,178.6 73.5,175.3 73.4,171.9" fill="#a2ca6c" stroke="#31501a" stroke-width="0.9" stroke-linejoin="round"/>
<polygon points="65.7,181.9 66.0,185.2 66.3,188.4 66.7,191.5 74.0,191.5 73.8,188.5 73.6,185.2 73.5,181.9" fill="#a5cb71" stroke="#31501a" stroke-width="0.9" stroke-linejoin="round"/>
<polygon points="66.7,191.5 67.0,193.8 67.3,196.0 67.6,198.2 74.5,197.9 74.3,195.9 74.1,193.7 74.0,191.5" fill="#a7cc74" stroke="#31501a" stroke-width="0.9" stroke-linejoin="round"/>
<polygon points="67.6,198.2 68.1,201.0 68.5,203.7 69.0,206.3 75.4,205.4 75.1,203.0 74.8,200.5 74.5,197.9" fill="#a8cd77" stroke="#31501a" stroke-width="0.9" stroke-linejoin="round"/>
<polygon points="69.0,206.3 69.4,208.5 69.8,210.7 70.3,212.8 76.2,211.3 75.9,209.4 75.6,207.4 75.4,205.4" fill="#aace7a" stroke="#31501a" stroke-width="0.9" stroke-linejoin="round"/>
<polygon points="70.3,212.8 70.9,215.3 71.5,217.9 72.2,220.5 77.5,218.2 77.0,215.9 76.5,213.6 76.2,211.3" fill="#accf7d" stroke="#31501a" stroke-width="0.9" stroke-linejoin="round"/>
<polygon points="72.2,220.5 72.9,222.9 73.5,225.2 74.2,227.3 79.1,224.0 78.6,222.3 78.1,220.3 77.5,218.2" fill="#aed080" stroke="#31501a" stroke-width="0.9" stroke-linejoin="round"/>
<polygon points="74.2,227.3 74.8,229.4 75.5,231.3 76.3,233.2 80.5,228.3 80.0,227.0 79.6,225.5 79.1,224.0" fill="#afd182" stroke="#31501a" stroke-width="0.9" stroke-linejoin="round"/>
<polygon points="76.3,233.2 77.4,235.2 78.6,237.0 79.8,238.8 82.5,232.5 81.8,231.2 81.2,229.8 80.5,228.3" fill="#b0d284" stroke="#31501a" stroke-width="0.9" stroke-linejoin="round"/>
<circle cx="44.6" cy="99.7" r="1.15" fill="#c6e88a"/>
<circle cx="45.1" cy="113.4" r="1.15" fill="#c6e88a"/>
<circle cx="45.7" cy="127.5" r="1.15" fill="#c6e88a"/>
<circle cx="46.2" cy="139.8" r="1.15" fill="#c6e88a"/>
<circle cx="46.8" cy="150.8" r="1.15" fill="#c6e88a"/>
<circle cx="47.4" cy="161.6" r="1.15" fill="#c6e88a"/>
<circle cx="48.0" cy="171.1" r="1.15" fill="#c6e88a"/>
<circle cx="48.9" cy="180.6" r="1.15" fill="#c6e88a"/>
<circle cx="50.5" cy="189.6" r="1.15" fill="#c6e88a"/>
<circle cx="52.6" cy="198.2" r="1.15" fill="#c6e88a"/>
<circle cx="55.0" cy="206.9" r="1.15" fill="#c6e88a"/>
<circle cx="57.4" cy="215.1" r="1.15" fill="#c6e88a"/>
<circle cx="60.2" cy="224.0" r="1.15" fill="#c6e88a"/>
<circle cx="63.3" cy="233.4" r="1.15" fill="#c6e88a"/>
<circle cx="66.6" cy="242.1" r="1.15" fill="#c6e88a"/>
<circle cx="71.3" cy="249.1" r="1.15" fill="#c6e88a"/>
<circle cx="52.9" cy="97.0" r="1.15" fill="#c6e88a"/>
<circle cx="53.0" cy="109.8" r="1.15" fill="#c6e88a"/>
<circle cx="53.2" cy="124.9" r="1.15" fill="#c6e88a"/>
<circle cx="53.5" cy="137.4" r="1.15" fill="#c6e88a"/>
<circle cx="53.8" cy="148.0" r="1.15" fill="#c6e88a"/>
<circle cx="54.3" cy="159.1" r="1.15" fill="#c6e88a"/>
<circle cx="54.7" cy="168.9" r="1.15" fill="#c6e88a"/>
<circle cx="55.3" cy="178.2" r="1.15" fill="#c6e88a"/>
<circle cx="56.4" cy="187.6" r="1.15" fill="#c6e88a"/>
<circle cx="57.9" cy="195.4" r="1.15" fill="#c6e88a"/>
<circle cx="59.7" cy="203.5" r="1.15" fill="#c6e88a"/>
<circle cx="61.8" cy="211.8" r="1.15" fill="#c6e88a"/>
<circle cx="64.2" cy="220.4" r="1.15" fill="#c6e88a"/>
<circle cx="66.6" cy="228.1" r="1.15" fill="#c6e88a"/>
<circle cx="69.3" cy="235.8" r="1.15" fill="#c6e88a"/>
<circle cx="73.7" cy="243.7" r="1.15" fill="#c6e88a"/>
<circle cx="61.5" cy="100.1" r="1.15" fill="#c6e88a"/>
<circle cx="61.2" cy="115.1" r="1.15" fill="#c6e88a"/>
<circle cx="61.1" cy="128.4" r="1.15" fill="#c6e88a"/>
<circle cx="61.1" cy="140.2" r="1.15" fill="#c6e88a"/>
<circle cx="61.3" cy="150.7" r="1.15" fill="#c6e88a"/>
<circle cx="61.5" cy="161.4" r="1.15" fill="#c6e88a"/>
<circle cx="61.8" cy="172.1" r="1.15" fill="#c6e88a"/>
<circle cx="62.3" cy="181.7" r="1.15" fill="#c6e88a"/>
<circle cx="63.2" cy="190.2" r="1.15" fill="#c6e88a"/>
<circle cx="64.6" cy="198.5" r="1.15" fill="#c6e88a"/>
<circle cx="66.1" cy="206.4" r="1.15" fill="#c6e88a"/>
<circle cx="67.7" cy="213.6" r="1.15" fill="#c6e88a"/>
<circle cx="69.7" cy="221.1" r="1.15" fill="#c6e88a"/>
<circle cx="71.9" cy="228.4" r="1.15" fill="#c6e88a"/>
<circle cx="74.2" cy="234.5" r="1.15" fill="#c6e88a"/>
<circle cx="77.1" cy="239.5" r="1.15" fill="#c6e88a"/>
<circle cx="71.1" cy="96.2" r="1.15" fill="#c6e88a"/>
<circle cx="70.3" cy="108.7" r="1.15" fill="#c6e88a"/>
<circle cx="69.7" cy="123.3" r="1.15" fill="#c6e88a"/>
<circle cx="69.4" cy="136.3" r="1.15" fill="#c6e88a"/>
<circle cx="69.3" cy="147.0" r="1.15" fill="#c6e88a"/>
<circle cx="69.3" cy="158.0" r="1.15" fill="#c6e88a"/>
<circle cx="69.4" cy="168.0" r="1.15" fill="#c6e88a"/>
<circle cx="69.5" cy="176.9" r="1.15" fill="#c6e88a"/>
<circle cx="69.9" cy="186.8" r="1.15" fill="#c6e88a"/>
<circle cx="70.7" cy="194.8" r="1.15" fill="#c6e88a"/>
<circle cx="71.6" cy="202.0" r="1.15" fill="#c6e88a"/>
<circle cx="72.7" cy="209.0" r="1.15" fill="#c6e88a"/>
<circle cx="74.0" cy="215.7" r="1.15" fill="#c6e88a"/>
<circle cx="75.8" cy="222.6" r="1.15" fill="#c6e88a"/>
<circle cx="77.5" cy="228.2" r="1.15" fill="#c6e88a"/>
<circle cx="79.8" cy="233.2" r="1.15" fill="#c6e88a"/>
<polygon points="151.9,97.7 151.7,100.4 151.5,103.2 151.3,105.9 142.4,105.1 142.6,102.4 142.8,99.7 143.0,97.0" fill="#afd085" stroke="#31501a" stroke-width="0.9" stroke-linejoin="round"/>
<polygon points="151.3,105.9 151.1,109.1 150.8,112.3 150.3,115.5 141.4,115.3 141.8,111.8 142.1,108.4 142.4,105.1" fill="#aed082" stroke="#31501a" stroke-width="0.9" stroke-linejoin="round"/>
<polygon points="150.3,115.5 149.7,118.8 149.0,122.1 148.4,125.4 139.7,126.9 140.2,123.1 140.8,119.1 141.4,115.3" fill="#add080" stroke="#31501a" stroke-width="0.9" stroke-linejoin="round"/>
<polygon points="148.4,125.4 148.0,128.5 147.6,131.6 147.3,134.7 138.7,137.1 139.0,133.7 139.4,130.3 139.7,126.9" fill="#accf7d" stroke="#31501a" stroke-width="0.9" stroke-linejoin="round"/>
<polygon points="147.3,134.7 147.0,137.8 146.7,140.9 146.5,143.9 138.1,147.0 138.2,143.7 138.5,140.4 138.7,137.1" fill="#accf7a" stroke="#31501a" stroke-width="0.9" stroke-linejoin="round"/>
<polygon points="146.5,143.9 146.3,146.8 146.1,149.7 146.0,152.6 137.7,156.4 137.8,153.3 137.9,150.2 138.1,147.0" fill="#abcf78" stroke="#31501a" stroke-width="0.9" stroke-linejoin="round"/>
<polygon points="146.0,152.6 145.7,156.0 145.5,159.3 145.1,162.7 137.0,166.9 137.3,163.5 137.5,160.0 137.7,156.4" fill="#aacf75" stroke="#31501a" stroke-width="0.9" stroke-linejoin="round"/>
<polygon points="145.1,162.7 144.8,166.2 144.4,169.8 143.9,173.3 136.1,177.0 136.4,173.7 136.7,170.3 137.0,166.9" fill="#abcf75" stroke="#31501a" stroke-width="0.9" stroke-linejoin="round"/>
<polygon points="143.9,173.3 143.5,176.2 143.1,179.1 142.7,182.0 135.1,185.3 135.5,182.5 135.8,179.7 136.1,177.0" fill="#add079" stroke="#31501a" stroke-width="0.9" stroke-linejoin="round"/>
<polygon points="142.7,182.0 142.1,185.2 141.5,188.3 140.8,191.4 133.6,194.4 134.1,191.4 134.6,188.4 135.1,185.3" fill="#afd27d" stroke="#31501a" stroke-width="0.9" stroke-linejoin="round"/>
<polygon points="140.8,191.4 140.2,194.0 139.6,196.6 139.0,199.2 132.1,201.6 132.6,199.3 133.1,196.9 133.6,194.4" fill="#b1d381" stroke="#31501a" stroke-width="0.9" stroke-linejoin="round"/>
<polygon points="139.0,199.2 138.2,203.0 137.3,206.8 136.3,210.6 129.9,211.7 130.7,208.4 131.4,205.0 132.1,201.6" fill="#b3d485" stroke="#31501a" stroke-width="0.9" stroke-linejoin="round"/>
<polygon points="136.3,210.6 135.5,214.1 134.7,217.6 133.8,221.1 127.8,220.4 128.5,217.5 129.2,214.6 129.9,211.7" fill="#b6d589" stroke="#31501a" stroke-width="0.9" stroke-linejoin="round"/>
<polygon points="133.8,221.1 132.9,224.9 131.9,228.7 130.8,232.5 125.2,229.9 126.1,226.8 127.0,223.6 127.8,220.4" fill="#b8d78d" stroke="#31501a" stroke-width="0.9" stroke-linejoin="round"/>
<polygon points="130.8,232.5 129.8,235.6 128.6,238.5 127.2,241.5 122.0,237.7 123.2,235.1 124.3,232.5 125.2,229.9" fill="#bbd891" stroke="#31501a" stroke-width="0.9" stroke-linejoin="round"/>
<polygon points="127.2,241.5 125.5,245.1 123.5,248.5 121.5,252.0 117.0,246.3 118.8,243.5 120.5,240.7 122.0,237.7" fill="#bdd995" stroke="#31501a" stroke-width="0.9" stroke-linejoin="round"/>
<polygon points="143.4,91.3 143.2,93.9 143.0,96.6 142.8,99.2 133.3,98.4 133.6,95.8 133.8,93.2 134.0,90.6" fill="#a5ca7b" stroke="#31501a" stroke-width="0.9" stroke-linejoin="round"/>
<polygon points="142.8,99.2 142.5,103.3 142.2,107.4 141.8,111.6 132.2,111.0 132.6,106.6 133.0,102.5 133.3,98.4" fill="#a4ca78" stroke="#31501a" stroke-width="0.9" stroke-linejoin="round"/>
<polygon points="141.8,111.6 141.4,115.3 140.8,119.1 140.2,123.1 130.9,124.1 131.4,119.5 131.8,115.0 132.2,111.0" fill="#a3ca75" stroke="#31501a" stroke-width="0.9" stroke-linejoin="round"/>
<polygon points="140.2,123.1 139.8,126.1 139.5,129.1 139.2,132.1 130.0,134.2 130.3,130.9 130.6,127.6 130.9,124.1" fill="#a3ca72" stroke="#31501a" stroke-width="0.9" stroke-linejoin="round"/>
<polygon points="139.2,132.1 138.8,135.8 138.5,139.6 138.3,143.3 129.2,146.3 129.4,142.3 129.7,138.2 130.0,134.2" fill="#a2c96f" stroke="#31501a" stroke-width="0.9" stroke-linejoin="round"/>
<polygon points="138.3,143.3 138.1,146.3 137.9,149.3 137.8,152.3 128.9,156.1 129.0,152.8 129.1,149.6 129.2,146.3" fill="#a1c96c" stroke="#31501a" stroke-width="0.9" stroke-linejoin="round"/>
<polygon points="137.8,152.3 137.7,155.5 137.6,158.6 137.4,161.7 128.6,166.1 128.7,162.8 128.8,159.5 128.9,156.1" fill="#a0c969" stroke="#31501a" stroke-width="0.9" stroke-linejoin="round"/>
<polygon points="137.4,161.7 137.2,165.1 136.9,168.4 136.6,171.6 128.1,175.9 128.3,172.8 128.5,169.6 128.6,166.1" fill="#a0c969" stroke="#31501a" stroke-width="0.9" stroke-linejoin="round"/>
<polygon points="136.6,171.6 136.3,175.3 135.9,179.0 135.4,182.8 127.3,186.4 127.6,182.8 127.9,179.4 128.1,175.9" fill="#a3ca6d" stroke="#31501a" stroke-width="0.9" stroke-linejoin="round"/>
<polygon points="135.4,182.8 135.1,185.2 134.7,187.7 134.3,190.2 126.4,193.5 126.8,191.1 127.0,188.7 127.3,186.4" fill="#a5cc71" stroke="#31501a" stroke-width="0.9" stroke-linejoin="round"/>
<polygon points="134.3,190.2 133.8,193.2 133.2,196.1 132.7,199.0 125.2,201.8 125.6,199.2 126.0,196.5 126.4,193.5" fill="#a7cd75" stroke="#31501a" stroke-width="0.9" stroke-linejoin="round"/>
<polygon points="132.7,199.0 132.1,202.0 131.4,205.0 130.8,207.9 123.7,209.6 124.2,207.1 124.7,204.5 125.2,201.8" fill="#a9ce78" stroke="#31501a" stroke-width="0.9" stroke-linejoin="round"/>
<polygon points="130.8,207.9 130.0,211.3 129.2,214.6 128.4,217.8 121.8,217.7 122.5,215.1 123.1,212.4 123.7,209.6" fill="#abcf7c" stroke="#31501a" stroke-width="0.9" stroke-linejoin="round"/>
<polygon points="128.4,217.8 127.8,220.3 127.2,222.7 126.6,225.1 120.3,223.4 120.8,221.5 121.3,219.6 121.8,217.7" fill="#add07f" stroke="#31501a" stroke-width="0.9" stroke-linejoin="round"/>
<polygon points="126.6,225.1 125.8,228.0 124.9,230.8 123.8,233.7 118.0,230.3 118.9,227.9 119.6,225.6 120.3,223.4" fill="#afd182" stroke="#31501a" stroke-width="0.9" stroke-linejoin="round"/>
<polygon points="123.8,233.7 121.8,238.2 119.5,242.3 117.0,246.3 112.3,240.3 114.3,237.3 116.2,234.0 118.0,230.3" fill="#b1d286" stroke="#31501a" stroke-width="0.9" stroke-linejoin="round"/>
<polygon points="134.0,90.6 133.6,95.2 133.2,99.9 132.8,104.6 124.7,103.9 125.1,99.2 125.6,94.6 126.0,89.9" fill="#a5ca7a" stroke="#31501a" stroke-width="0.9" stroke-linejoin="round"/>
<polygon points="132.8,104.6 132.5,108.7 132.0,113.2 131.5,118.2 123.4,118.4 123.9,112.8 124.3,108.1 124.7,103.9" fill="#a4ca76" stroke="#31501a" stroke-width="0.9" stroke-linejoin="round"/>
<polygon points="131.5,118.2 131.1,122.3 130.7,126.2 130.4,129.9 122.5,131.3 122.8,127.3 123.1,122.9 123.4,118.4" fill="#a3ca73" stroke="#31501a" stroke-width="0.9" stroke-linejoin="round"/>
<polygon points="130.4,129.9 130.0,133.8 129.7,137.6 129.5,141.4 121.7,143.6 121.9,139.6 122.2,135.5 122.5,131.3" fill="#a2c96f" stroke="#31501a" stroke-width="0.9" stroke-linejoin="round"/>
<polygon points="129.5,141.4 129.3,144.5 129.2,147.5 129.0,150.6 121.4,153.5 121.5,150.2 121.6,146.9 121.7,143.6" fill="#a1c96c" stroke="#31501a" stroke-width="0.9" stroke-linejoin="round"/>
<polygon points="129.0,150.6 128.9,154.3 128.9,157.9 128.8,161.4 121.3,164.9 121.3,161.2 121.3,157.4 121.4,153.5" fill="#a0c96a" stroke="#31501a" stroke-width="0.9" stroke-linejoin="round"/>
<polygon points="128.8,161.4 128.7,164.8 128.5,168.1 128.4,171.2 121.0,174.9 121.1,171.9 121.2,168.5 121.3,164.9" fill="#a0c969" stroke="#31501a" stroke-width="0.9" stroke-linejoin="round"/>
<polygon points="128.4,171.2 128.2,174.8 127.9,178.3 127.7,181.7 120.6,185.0 120.8,181.8 120.9,178.5 121.0,174.9" fill="#a3ca6d" stroke="#31501a" stroke-width="0.9" stroke-linejoin="round"/>
<polygon points="127.7,181.7 127.4,184.6 127.1,187.6 126.8,190.7 120.0,193.6 120.2,190.6 120.4,187.7 120.6,185.0" fill="#a5cb71" stroke="#31501a" stroke-width="0.9" stroke-linejoin="round"/>
<polygon points="126.8,190.7 126.5,193.0 126.2,195.2 125.9,197.4 119.3,200.1 119.6,198.0 119.8,195.8 120.0,193.6" fill="#a7cd74" stroke="#31501a" stroke-width="0.9" stroke-linejoin="round"/>
<polygon points="125.9,197.4 125.5,200.1 125.0,202.7 124.6,205.2 118.4,207.2 118.7,205.0 119.0,202.7 119.3,200.1" fill="#a9cd77" stroke="#31501a" stroke-width="0.9" stroke-linejoin="round"/>
<polygon points="124.6,205.2 124.1,207.7 123.6,210.2 123.0,212.7 117.2,213.6 117.6,211.6 118.0,209.5 118.4,207.2" fill="#aace7a" stroke="#31501a" stroke-width="0.9" stroke-linejoin="round"/>
<polygon points="123.0,212.7 122.5,215.1 121.9,217.5 121.3,219.8 115.8,219.2 116.3,217.4 116.7,215.6 117.2,213.6" fill="#accf7d" stroke="#31501a" stroke-width="0.9" stroke-linejoin="round"/>
<polygon points="121.3,219.8 120.6,222.2 119.9,224.6 119.2,227.0 114.0,224.7 114.7,222.8 115.2,221.0 115.8,219.2" fill="#aed080" stroke="#31501a" stroke-width="0.9" stroke-linejoin="round"/>
<polygon points="119.2,227.0 118.3,229.3 117.4,231.7 116.3,233.9 111.5,230.4 112.5,228.5 113.3,226.6 114.0,224.7" fill="#afd182" stroke="#31501a" stroke-width="0.9" stroke-linejoin="round"/>
<polygon points="116.3,233.9 115.0,236.2 113.7,238.3 112.3,240.3 108.2,235.1 109.4,233.7 110.5,232.2 111.5,230.4" fill="#b1d285" stroke="#31501a" stroke-width="0.9" stroke-linejoin="round"/>
<polygon points="126.0,89.9 125.8,92.7 125.5,95.5 125.2,98.3 119.7,97.8 119.9,95.0 120.2,92.3 120.5,89.5" fill="#a5ca7b" stroke="#31501a" stroke-width="0.9" stroke-linejoin="round"/>
<polygon points="125.2,98.3 124.9,102.0 124.5,105.9 124.1,110.0 118.5,109.7 118.9,105.5 119.3,101.6 119.7,97.8" fill="#a5ca78" stroke="#31501a" stroke-width="0.9" stroke-linejoin="round"/>
<polygon points="124.1,110.0 123.8,114.4 123.4,119.5 123.0,124.8 117.5,125.4 117.8,119.7 118.2,114.3 118.5,109.7" fill="#a3ca75" stroke="#31501a" stroke-width="0.9" stroke-linejoin="round"/>
<polygon points="123.0,124.8 122.6,129.3 122.3,133.5 122.1,137.5 116.7,138.8 116.9,134.6 117.2,130.2 117.5,125.4" fill="#a2c971" stroke="#31501a" stroke-width="0.9" stroke-linejoin="round"/>
<polygon points="122.1,137.5 121.8,141.6 121.6,145.7 121.5,149.7 116.2,151.5 116.3,147.3 116.5,143.1 116.7,138.8" fill="#a1c96d" stroke="#31501a" stroke-width="0.9" stroke-linejoin="round"/>
<polygon points="121.5,149.7 121.4,153.8 121.3,157.9 121.3,162.0 116.1,164.3 116.1,160.1 116.1,155.8 116.2,151.5" fill="#a0c96a" stroke="#31501a" stroke-width="0.9" stroke-linejoin="round"/>
<polygon points="121.3,162.0 121.2,165.4 121.2,168.7 121.1,171.8 116.0,174.4 116.0,171.2 116.1,167.8 116.1,164.3" fill="#a0c969" stroke="#31501a" stroke-width="0.9" stroke-linejoin="round"/>
<polygon points="121.1,171.8 121.0,175.1 120.9,178.1 120.8,180.9 115.8,183.3 115.9,180.6 116.0,177.7 116.0,174.4" fill="#a3ca6d" stroke="#31501a" stroke-width="0.9" stroke-linejoin="round"/>
<polygon points="120.8,180.9 120.7,183.8 120.5,186.6 120.3,189.5 115.5,191.6 115.6,188.8 115.7,186.1 115.8,183.3" fill="#a5cb70" stroke="#31501a" stroke-width="0.9" stroke-linejoin="round"/>
<polygon points="120.3,189.5 120.1,192.3 119.9,195.1 119.6,197.9 115.0,199.9 115.2,197.1 115.4,194.3 115.5,191.6" fill="#a7cc74" stroke="#31501a" stroke-width="0.9" stroke-linejoin="round"/>
<polygon points="119.6,197.9 119.3,200.2 119.1,202.3 118.8,204.3 114.4,206.0 114.6,204.1 114.8,202.1 115.0,199.9" fill="#a9cd77" stroke="#31501a" stroke-width="0.9" stroke-linejoin="round"/>
<polygon points="118.8,204.3 118.4,207.1 118.0,209.7 117.5,212.1 113.4,213.0 113.8,210.9 114.1,208.5 114.4,206.0" fill="#aace7a" stroke="#31501a" stroke-width="0.9" stroke-linejoin="round"/>
<polygon points="117.5,212.1 117.1,214.2 116.6,216.0 116.2,217.8 112.3,217.7 112.7,216.3 113.1,214.7 113.4,213.0" fill="#accf7d" stroke="#31501a" stroke-width="0.9" stroke-linejoin="round"/>
<polygon points="116.2,217.8 115.7,219.6 115.1,221.4 114.6,223.1 110.9,221.9 111.4,220.5 111.9,219.1 112.3,217.7" fill="#add07f" stroke="#31501a" stroke-width="0.9" stroke-linejoin="round"/>
<polygon points="114.6,223.1 114.0,224.7 113.4,226.4 112.6,228.2 109.2,226.1 109.9,224.6 110.5,223.1 110.9,221.9" fill="#aed081" stroke="#31501a" stroke-width="0.9" stroke-linejoin="round"/>
<polygon points="112.6,228.2 111.2,231.0 109.8,233.2 108.2,235.1 105.4,231.6 106.7,230.2 108.0,228.5 109.2,226.1" fill="#afd183" stroke="#31501a" stroke-width="0.9" stroke-linejoin="round"/>
<circle cx="147.1" cy="101.4" r="1.15" fill="#c6e88a"/>
<circle cx="146.4" cy="110.4" r="1.15" fill="#c6e88a"/>
<circle cx="144.9" cy="120.8" r="1.15" fill="#c6e88a"/>
<circle cx="143.5" cy="131.0" r="1.15" fill="#c6e88a"/>
<circle cx="142.6" cy="140.7" r="1.15" fill="#c6e88a"/>
<circle cx="142.0" cy="150.0" r="1.15" fill="#c6e88a"/>
<circle cx="141.5" cy="159.7" r="1.15" fill="#c6e88a"/>
<circle cx="140.6" cy="170.0" r="1.15" fill="#c6e88a"/>
<circle cx="139.5" cy="179.4" r="1.15" fill="#c6e88a"/>
<circle cx="138.1" cy="188.3" r="1.15" fill="#c6e88a"/>
<circle cx="136.4" cy="196.7" r="1.15" fill="#c6e88a"/>
<circle cx="134.4" cy="205.8" r="1.15" fill="#c6e88a"/>
<circle cx="132.0" cy="216.0" r="1.15" fill="#c6e88a"/>
<circle cx="129.4" cy="226.0" r="1.15" fill="#c6e88a"/>
<circle cx="126.4" cy="235.4" r="1.15" fill="#c6e88a"/>
<circle cx="122.0" cy="244.4" r="1.15" fill="#c6e88a"/>
<circle cx="138.4" cy="94.9" r="1.15" fill="#c6e88a"/>
<circle cx="137.6" cy="105.0" r="1.15" fill="#c6e88a"/>
<circle cx="136.3" cy="117.3" r="1.15" fill="#c6e88a"/>
<circle cx="135.1" cy="128.4" r="1.15" fill="#c6e88a"/>
<circle cx="134.1" cy="139.0" r="1.15" fill="#c6e88a"/>
<circle cx="133.5" cy="149.5" r="1.15" fill="#c6e88a"/>
<circle cx="133.2" cy="159.1" r="1.15" fill="#c6e88a"/>
<circle cx="132.7" cy="168.9" r="1.15" fill="#c6e88a"/>
<circle cx="131.9" cy="179.2" r="1.15" fill="#c6e88a"/>
<circle cx="130.9" cy="188.2" r="1.15" fill="#c6e88a"/>
<circle cx="129.7" cy="196.2" r="1.15" fill="#c6e88a"/>
<circle cx="128.1" cy="204.6" r="1.15" fill="#c6e88a"/>
<circle cx="126.2" cy="213.3" r="1.15" fill="#c6e88a"/>
<circle cx="124.3" cy="221.0" r="1.15" fill="#c6e88a"/>
<circle cx="122.2" cy="228.1" r="1.15" fill="#c6e88a"/>
<circle cx="117.9" cy="237.8" r="1.15" fill="#c6e88a"/>
<circle cx="129.4" cy="97.2" r="1.15" fill="#c6e88a"/>
<circle cx="128.1" cy="111.0" r="1.15" fill="#c6e88a"/>
<circle cx="126.9" cy="124.6" r="1.15" fill="#c6e88a"/>
<circle cx="126.0" cy="136.6" r="1.15" fill="#c6e88a"/>
<circle cx="125.4" cy="147.3" r="1.15" fill="#c6e88a"/>
<circle cx="125.1" cy="157.7" r="1.15" fill="#c6e88a"/>
<circle cx="124.9" cy="168.2" r="1.15" fill="#c6e88a"/>
<circle cx="124.4" cy="178.3" r="1.15" fill="#c6e88a"/>
<circle cx="123.8" cy="187.7" r="1.15" fill="#c6e88a"/>
<circle cx="123.0" cy="195.5" r="1.15" fill="#c6e88a"/>
<circle cx="122.0" cy="202.6" r="1.15" fill="#c6e88a"/>
<circle cx="120.8" cy="209.7" r="1.15" fill="#c6e88a"/>
<circle cx="119.3" cy="216.4" r="1.15" fill="#c6e88a"/>
<circle cx="117.6" cy="222.7" r="1.15" fill="#c6e88a"/>
<circle cx="115.3" cy="229.0" r="1.15" fill="#c6e88a"/>
<circle cx="112.1" cy="235.0" r="1.15" fill="#c6e88a"/>
<circle cx="122.8" cy="93.9" r="1.15" fill="#c6e88a"/>
<circle cx="121.9" cy="103.8" r="1.15" fill="#c6e88a"/>
<circle cx="120.8" cy="117.2" r="1.15" fill="#c6e88a"/>
<circle cx="119.8" cy="131.8" r="1.15" fill="#c6e88a"/>
<circle cx="119.1" cy="144.4" r="1.15" fill="#c6e88a"/>
<circle cx="118.7" cy="156.9" r="1.15" fill="#c6e88a"/>
<circle cx="118.6" cy="168.2" r="1.15" fill="#c6e88a"/>
<circle cx="118.4" cy="177.7" r="1.15" fill="#c6e88a"/>
<circle cx="118.1" cy="186.3" r="1.15" fill="#c6e88a"/>
<circle cx="117.6" cy="194.7" r="1.15" fill="#c6e88a"/>
<circle cx="116.9" cy="202.1" r="1.15" fill="#c6e88a"/>
<circle cx="116.0" cy="209.0" r="1.15" fill="#c6e88a"/>
<circle cx="114.9" cy="215.2" r="1.15" fill="#c6e88a"/>
<circle cx="113.5" cy="220.1" r="1.15" fill="#c6e88a"/>
<circle cx="111.9" cy="224.8" r="1.15" fill="#c6e88a"/>
<circle cx="108.9" cy="230.5" r="1.15" fill="#c6e88a"/>
<polygon points="76.5,91.0 76.1,95.7 75.7,100.3 75.4,105.0 79.0,104.9 79.3,100.1 79.5,95.3 79.8,90.5" fill="#5f8239" stroke="#31501a" stroke-width="0.9" stroke-linejoin="round"/>
<polygon points="75.4,105.0 75.0,109.5 74.7,114.1 74.5,118.7 78.5,118.8 78.6,114.1 78.8,109.5 79.0,104.9" fill="#5f8239" stroke="#31501a" stroke-width="0.9" stroke-linejoin="round"/>
<polygon points="74.5,118.7 74.3,123.2 74.1,127.7 73.9,132.2 78.2,132.2 78.3,127.7 78.4,123.2 78.5,118.8" fill="#5f8239" stroke="#31501a" stroke-width="0.9" stroke-linejoin="round"/>
<polygon points="73.9,132.2 73.8,136.5 73.7,140.8 73.6,145.1 77.9,145.1 78.0,140.8 78.1,136.5 78.2,132.2" fill="#5f8239" stroke="#31501a" stroke-width="0.9" stroke-linejoin="round"/>
<polygon points="73.6,145.1 73.6,149.2 73.5,153.3 73.5,157.5 77.8,157.5 77.8,153.3 77.9,149.2 77.9,145.1" fill="#5f8239" stroke="#31501a" stroke-width="0.9" stroke-linejoin="round"/>
<polygon points="73.5,157.5 73.5,161.4 73.4,165.4 73.4,169.4 77.8,169.4 77.8,165.4 77.8,161.4 77.8,157.5" fill="#5f8239" stroke="#31501a" stroke-width="0.9" stroke-linejoin="round"/>
<polygon points="73.4,169.4 73.4,173.1 73.5,176.9 73.5,180.7 77.8,180.7 77.8,176.9 77.8,173.1 77.8,169.4" fill="#5f8239" stroke="#31501a" stroke-width="0.9" stroke-linejoin="round"/>
<polygon points="73.5,180.7 73.6,184.4 73.7,188.0 74.0,191.6 78.0,191.6 77.9,188.0 77.8,184.4 77.8,180.7" fill="#5f8239" stroke="#31501a" stroke-width="0.9" stroke-linejoin="round"/>
<polygon points="74.0,191.6 74.2,195.1 74.6,198.5 74.9,201.9 78.6,202.0 78.3,198.5 78.1,195.1 78.0,191.6" fill="#5f8239" stroke="#31501a" stroke-width="0.9" stroke-linejoin="round"/>
<polygon points="74.9,201.9 75.3,205.3 75.8,208.8 76.3,212.5 79.6,211.8 79.2,208.5 78.8,205.3 78.6,202.0" fill="#5f8239" stroke="#31501a" stroke-width="0.9" stroke-linejoin="round"/>
<polygon points="76.3,212.5 77.0,216.0 77.8,219.4 78.8,222.8 81.9,220.8 81.0,217.9 80.2,214.9 79.6,211.8" fill="#5f8239" stroke="#31501a" stroke-width="0.9" stroke-linejoin="round"/>
<polygon points="78.8,222.8 79.7,226.0 80.9,229.2 82.5,232.5 87.0,228.0 84.9,226.0 83.2,223.5 81.9,220.8" fill="#5f8239" stroke="#31501a" stroke-width="0.9" stroke-linejoin="round"/>
<circle cx="77.7" cy="97.8" r="0.8" fill="#a9cf7c"/>
<circle cx="76.8" cy="111.8" r="0.8" fill="#a9cf7c"/>
<circle cx="76.3" cy="125.5" r="0.8" fill="#a9cf7c"/>
<circle cx="75.9" cy="138.6" r="0.8" fill="#a9cf7c"/>
<circle cx="75.7" cy="151.3" r="0.8" fill="#a9cf7c"/>
<circle cx="75.6" cy="163.4" r="0.8" fill="#a9cf7c"/>
<circle cx="75.6" cy="175.0" r="0.8" fill="#a9cf7c"/>
<circle cx="75.8" cy="186.2" r="0.8" fill="#a9cf7c"/>
<circle cx="76.3" cy="196.8" r="0.8" fill="#a9cf7c"/>
<circle cx="77.3" cy="207.0" r="0.8" fill="#a9cf7c"/>
<circle cx="79.1" cy="217.0" r="0.8" fill="#a9cf7c"/>
<circle cx="82.4" cy="226.1" r="0.8" fill="#a9cf7c"/>
<polygon points="120.5,89.5 119.9,95.8 119.2,102.0 118.6,108.3 112.0,108.3 112.2,102.0 112.4,95.8 112.6,89.5" fill="#4f7030" stroke="#31501a" stroke-width="0.9" stroke-linejoin="round"/>
<polygon points="118.6,108.3 118.3,112.9 118.0,117.5 117.7,122.1 111.7,122.1 111.8,117.5 111.9,112.9 112.0,108.3" fill="#4f7030" stroke="#31501a" stroke-width="0.9" stroke-linejoin="round"/>
<polygon points="117.7,122.1 117.4,126.5 117.1,131.0 116.9,135.4 111.5,135.4 111.6,131.0 111.7,126.5 111.7,122.1" fill="#5f8239" stroke="#31501a" stroke-width="0.9" stroke-linejoin="round"/>
<polygon points="116.9,135.4 116.6,139.7 116.4,144.0 116.3,148.2 111.3,148.2 111.4,144.0 111.4,139.7 111.5,135.4" fill="#5f8239" stroke="#31501a" stroke-width="0.9" stroke-linejoin="round"/>
<polygon points="116.3,148.2 116.1,152.4 116.1,156.5 116.1,160.6 111.3,160.6 111.3,156.5 111.3,152.4 111.3,148.2" fill="#5f8239" stroke="#31501a" stroke-width="0.9" stroke-linejoin="round"/>
<polygon points="116.1,160.6 116.1,164.5 116.1,168.4 116.0,172.4 111.2,172.4 111.3,168.4 111.3,164.5 111.3,160.6" fill="#5f8239" stroke="#31501a" stroke-width="0.9" stroke-linejoin="round"/>
<polygon points="116.0,172.4 116.0,176.1 115.9,179.9 115.8,183.7 111.0,183.7 111.1,179.9 111.2,176.1 111.2,172.4" fill="#5f8239" stroke="#31501a" stroke-width="0.9" stroke-linejoin="round"/>
<polygon points="115.8,183.7 115.7,187.3 115.6,190.9 115.4,194.4 110.5,194.5 110.7,190.9 110.8,187.3 111.0,183.7" fill="#5f8239" stroke="#31501a" stroke-width="0.9" stroke-linejoin="round"/>
<polygon points="115.4,194.4 115.1,197.8 114.9,201.2 114.5,204.7 109.6,204.7 109.9,201.3 110.2,197.9 110.5,194.5" fill="#5f8239" stroke="#31501a" stroke-width="0.9" stroke-linejoin="round"/>
<polygon points="114.5,204.7 114.1,208.2 113.6,211.8 112.9,215.4 108.3,214.4 108.8,211.2 109.3,208.0 109.6,204.7" fill="#5f8239" stroke="#31501a" stroke-width="0.9" stroke-linejoin="round"/>
<polygon points="112.9,215.4 112.0,218.6 110.9,221.8 109.6,225.4 106.0,223.3 107.1,220.5 107.8,217.5 108.3,214.4" fill="#5f8239" stroke="#31501a" stroke-width="0.9" stroke-linejoin="round"/>
<polygon points="109.6,225.4 108.4,227.9 107.0,229.9 105.4,231.6 102.0,228.0 103.5,226.6 104.8,225.0 106.0,223.3" fill="#5f8239" stroke="#31501a" stroke-width="0.9" stroke-linejoin="round"/>
<circle cx="115.9" cy="98.9" r="0.8" fill="#a9cf7c"/>
<circle cx="115.0" cy="115.2" r="0.8" fill="#a9cf7c"/>
<circle cx="114.4" cy="128.8" r="0.8" fill="#a9cf7c"/>
<circle cx="114.0" cy="141.8" r="0.8" fill="#a9cf7c"/>
<circle cx="113.7" cy="154.4" r="0.8" fill="#a9cf7c"/>
<circle cx="113.7" cy="166.5" r="0.8" fill="#a9cf7c"/>
<circle cx="113.5" cy="178.0" r="0.8" fill="#a9cf7c"/>
<circle cx="113.2" cy="189.1" r="0.8" fill="#a9cf7c"/>
<circle cx="112.5" cy="199.6" r="0.8" fill="#a9cf7c"/>
<circle cx="111.4" cy="209.8" r="0.8" fill="#a9cf7c"/>
<circle cx="109.3" cy="219.6" r="0.8" fill="#a9cf7c"/>
<circle cx="105.8" cy="227.2" r="0.8" fill="#a9cf7c"/>
<polygon points="86.0,227.5 87.1,227.6 88.1,227.8 89.2,227.9 88.5,229.5 87.8,231.2 87.1,232.8 85.6,232.7 84.0,232.6 82.5,232.5 83.7,230.8 84.8,229.2" fill="#86b45a" stroke="#31501a" stroke-width="0.8" stroke-linejoin="round"/>
<polygon points="89.2,227.9 90.3,228.0 91.3,228.1 92.4,228.2 92.2,229.8 91.9,231.4 91.7,233.0 90.2,233.0 88.6,232.9 87.1,232.8 87.8,231.2 88.5,229.5" fill="#86b45a" stroke="#31501a" stroke-width="0.8" stroke-linejoin="round"/>
<polygon points="92.4,228.2 93.5,228.3 94.5,228.3 95.6,228.2 95.8,229.8 96.1,231.3 96.3,232.8 94.8,233.0 93.2,233.0 91.7,233.0 91.9,231.4 92.2,229.8" fill="#86b45a" stroke="#31501a" stroke-width="0.8" stroke-linejoin="round"/>
<polygon points="95.6,228.2 96.7,228.1 97.7,228.0 98.8,227.9 99.5,229.4 100.2,230.8 100.8,232.3 99.3,232.5 97.8,232.7 96.3,232.8 96.1,231.3 95.8,229.8" fill="#86b45a" stroke="#31501a" stroke-width="0.8" stroke-linejoin="round"/>
<polygon points="98.8,227.9 99.9,227.8 100.9,227.6 102.0,227.5 103.1,228.9 104.3,230.2 105.4,231.6 103.9,231.8 102.4,232.0 100.8,232.3 100.2,230.8 99.5,229.4" fill="#86b45a" stroke="#31501a" stroke-width="0.8" stroke-linejoin="round"/>
<clipPath id="yc0_0"><path d="M79.8,88.0 L79.8,89.1 L79.7,90.4 L79.6,92.0 L79.5,93.8 L79.4,95.7 L79.3,97.8 L79.2,99.9 L79.1,102.0 L79.0,104.1 L79.0,106.2 L78.9,108.2 L78.8,110.0 L78.7,111.7 L78.7,113.4 L78.6,115.0 L78.6,116.6 L78.5,118.2 L78.5,119.8 L78.4,121.4 L78.4,123.0 L78.3,124.7 L78.3,126.4 L78.2,128.2 L78.2,130.0 L78.2,131.9 L78.1,133.9 L78.1,135.9 L78.0,138.0 L78.0,140.1 L78.0,142.2 L77.9,144.3 L77.9,146.5 L77.9,148.6 L77.8,150.8 L77.8,152.9 L77.8,155.0 L77.8,157.1 L77.8,159.3 L77.8,161.6 L77.8,163.8 L77.8,166.1 L77.8,168.3 L77.8,170.5 L77.8,172.6 L77.8,174.7 L77.8,176.6 L77.8,178.4 L77.8,180.0 L77.8,181.5 L77.8,182.7 L77.8,183.9 L77.8,184.9 L77.8,185.9 L77.8,186.8 L77.9,187.6 L77.9,188.4 L77.9,189.2 L77.9,190.1 L78.0,191.0 L78.0,192.0 L78.0,193.1 L78.1,194.2 L78.1,195.3 L78.2,196.4 L78.3,197.5 L78.3,198.7 L78.4,199.8 L78.5,200.9 L78.6,202.0 L78.6,203.1 L78.7,204.1 L78.8,205.0 L78.9,205.9 L79.0,206.7 L79.0,207.6 L79.1,208.4 L79.2,209.1 L79.3,209.8 L79.4,210.6 L79.5,211.3 L79.6,211.9 L79.7,212.6 L79.9,213.3 L80.0,214.0 L80.2,214.7 L80.4,215.4 L80.6,216.2 L80.8,216.9 L81.1,217.6 L81.3,218.3 L81.6,219.0 L81.8,219.6 L82.0,220.2 L82.2,220.7 L82.4,221.1 L82.5,221.5 Q82.5,227.8 88.5,227.8 L100.8,227.8 Q106.8,227.8 106.8,221.5 L106.8,221.5 L106.9,221.1 L107.0,220.7 L107.1,220.2 L107.2,219.6 L107.4,219.0 L107.5,218.3 L107.7,217.6 L107.8,216.9 L108.0,216.2 L108.1,215.4 L108.3,214.7 L108.4,214.0 L108.5,213.3 L108.6,212.6 L108.7,211.9 L108.8,211.3 L108.9,210.6 L109.0,209.8 L109.1,209.1 L109.2,208.4 L109.3,207.6 L109.4,206.7 L109.5,205.9 L109.6,205.0 L109.7,204.1 L109.8,203.1 L109.9,202.1 L110.0,201.1 L110.1,200.1 L110.1,199.0 L110.2,197.9 L110.3,196.8 L110.4,195.6 L110.5,194.4 L110.5,193.2 L110.6,192.0 L110.7,190.7 L110.7,189.5 L110.8,188.2 L110.8,186.9 L110.9,185.6 L111.0,184.2 L111.0,182.9 L111.1,181.4 L111.1,179.9 L111.1,178.3 L111.2,176.7 L111.2,175.0 L111.2,173.2 L111.2,171.2 L111.3,169.2 L111.3,167.1 L111.3,164.9 L111.3,162.7 L111.3,160.5 L111.3,158.3 L111.3,156.1 L111.3,154.0 L111.3,151.9 L111.3,150.0 L111.3,148.2 L111.3,146.4 L111.4,144.6 L111.4,143.0 L111.4,141.3 L111.4,139.7 L111.5,138.1 L111.5,136.5 L111.5,134.9 L111.5,133.3 L111.6,131.7 L111.6,130.0 L111.6,128.3 L111.7,126.7 L111.7,125.0 L111.7,123.4 L111.7,121.8 L111.8,120.1 L111.8,118.5 L111.8,116.8 L111.9,115.1 L111.9,113.4 L112.0,111.7 L112.0,110.0 L112.0,108.2 L112.1,106.2 L112.1,104.1 L112.2,102.0 L112.3,99.9 L112.3,97.8 L112.4,95.7 L112.4,93.8 L112.5,92.0 L112.5,90.4 L112.6,89.1 L112.6,88.0 Z"/></clipPath>
<g clip-path="url(#yc0_0)">
<polygon points="79.4,90.3 84.5,90.3 86.2,231.8 82.2,231.8" fill="#4a3f0c" stroke="none" stroke-width="0" stroke-linejoin="round"/>
<polygon points="80.0,91.2 83.5,90.5 83.1,103.4 79.4,103.4" fill="#f9eb45" stroke="none" stroke-width="0" stroke-linejoin="round"/>
<polygon points="79.2,104.3 83.1,103.6 82.8,113.7 79.0,113.7" fill="#f9eb45" stroke="none" stroke-width="0" stroke-linejoin="round"/>
<polygon points="79.2,114.6 82.6,114.3 82.2,130.6 78.6,130.6" fill="#f9eb45" stroke="none" stroke-width="0" stroke-linejoin="round"/>
<polygon points="78.5,131.5 82.1,132.0 82.0,142.7 78.3,142.7" fill="#f9eb45" stroke="none" stroke-width="0" stroke-linejoin="round"/>
<polygon points="78.4,143.6 82.2,143.1 82.0,160.7 78.2,160.7" fill="#f9eb45" stroke="none" stroke-width="0" stroke-linejoin="round"/>
<polygon points="78.1,161.6 81.8,162.0 81.9,170.6 78.1,170.6" fill="#f9eb45" stroke="none" stroke-width="0" stroke-linejoin="round"/>
<polygon points="77.9,171.5 82.3,171.5 82.2,181.1 78.1,181.1" fill="#f9eb45" stroke="none" stroke-width="0" stroke-linejoin="round"/>
<polygon points="78.3,182.0 81.7,182.0 81.9,191.4 78.4,191.4" fill="#f9eb45" stroke="none" stroke-width="0" stroke-linejoin="round"/>
<polygon points="78.7,192.3 82.2,191.9 83.1,209.2 79.8,209.2" fill="#f9eb45" stroke="none" stroke-width="0" stroke-linejoin="round"/>
<polygon points="79.5,210.1 83.2,210.1 84.6,217.8 81.6,217.8" fill="#f9eb45" stroke="none" stroke-width="0" stroke-linejoin="round"/>
<polygon points="81.6,218.7 84.3,219.1 85.3,229.0 82.9,229.0" fill="#f9eb45" stroke="none" stroke-width="0" stroke-linejoin="round"/>
<polygon points="83.2,229.9 85.7,230.3 85.6,231.4 83.0,231.4" fill="#f9eb45" stroke="none" stroke-width="0" stroke-linejoin="round"/>
<polygon points="83.9,89.4 89.2,89.4 89.6,231.8 85.6,231.8" fill="#4a3f0c" stroke="none" stroke-width="0" stroke-linejoin="round"/>
<polygon points="84.7,90.2 88.4,89.6 87.9,102.9 84.1,102.9" fill="#f9eb45" stroke="none" stroke-width="0" stroke-linejoin="round"/>
<polygon points="83.9,103.8 87.8,104.1 87.5,112.2 83.6,112.2" fill="#f9eb45" stroke="none" stroke-width="0" stroke-linejoin="round"/>
<polygon points="83.7,113.1 87.9,113.8 87.3,129.8 83.2,129.8" fill="#f9eb45" stroke="none" stroke-width="0" stroke-linejoin="round"/>
<polygon points="83.2,130.7 87.0,130.3 86.8,147.4 82.9,147.4" fill="#f9eb45" stroke="none" stroke-width="0" stroke-linejoin="round"/>
<polygon points="82.7,148.3 87.0,148.9 86.8,158.2 82.7,158.2" fill="#f9eb45" stroke="none" stroke-width="0" stroke-linejoin="round"/>
<polygon points="82.8,159.1 86.9,159.5 86.8,174.7 82.8,174.7" fill="#f9eb45" stroke="none" stroke-width="0" stroke-linejoin="round"/>
<polygon points="82.9,175.6 87.1,176.0 86.9,184.5 82.9,184.5" fill="#f9eb45" stroke="none" stroke-width="0" stroke-linejoin="round"/>
<polygon points="82.8,185.4 86.5,185.8 86.8,200.2 83.3,200.2" fill="#f9eb45" stroke="none" stroke-width="0" stroke-linejoin="round"/>
<polygon points="83.5,201.1 87.3,201.0 87.4,208.6 83.9,208.6" fill="#f9eb45" stroke="none" stroke-width="0" stroke-linejoin="round"/>
<polygon points="84.1,209.5 87.4,209.1 88.2,217.5 85.3,217.5" fill="#f9eb45" stroke="none" stroke-width="0" stroke-linejoin="round"/>
<polygon points="84.9,218.4 88.4,218.8 89.1,224.6 86.2,224.6" fill="#f9eb45" stroke="none" stroke-width="0" stroke-linejoin="round"/>
<polygon points="86.5,225.5 89.3,225.7 89.1,231.4 86.4,231.4" fill="#f9eb45" stroke="none" stroke-width="0" stroke-linejoin="round"/>
<polygon points="88.7,88.0 93.6,88.0 92.8,231.8 89.0,231.8" fill="#4a3f0c" stroke="none" stroke-width="0" stroke-linejoin="round"/>
<polygon points="89.2,88.9 92.6,89.5 92.1,103.8 88.7,103.8" fill="#f9eb45" stroke="none" stroke-width="0" stroke-linejoin="round"/>
<polygon points="88.8,104.7 92.6,104.6 92.0,118.6 88.3,118.6" fill="#f9eb45" stroke="none" stroke-width="0" stroke-linejoin="round"/>
<polygon points="88.5,119.5 91.6,119.2 91.3,135.5 88.0,135.5" fill="#f9eb45" stroke="none" stroke-width="0" stroke-linejoin="round"/>
<polygon points="87.7,136.4 91.5,136.0 91.3,147.1 87.6,147.1" fill="#f9eb45" stroke="none" stroke-width="0" stroke-linejoin="round"/>
<polygon points="87.5,148.0 91.5,147.8 91.3,159.9 87.5,159.9" fill="#f9eb45" stroke="none" stroke-width="0" stroke-linejoin="round"/>
<polygon points="87.7,160.8 91.5,160.7 91.3,173.0 87.6,173.0" fill="#f9eb45" stroke="none" stroke-width="0" stroke-linejoin="round"/>
<polygon points="87.6,173.9 91.2,173.9 91.1,190.3 87.6,190.3" fill="#f9eb45" stroke="none" stroke-width="0" stroke-linejoin="round"/>
<polygon points="87.6,191.2 90.8,190.5 90.9,199.4 87.7,199.4" fill="#f9eb45" stroke="none" stroke-width="0" stroke-linejoin="round"/>
<polygon points="87.5,200.3 91.0,200.7 91.2,210.8 88.1,210.8" fill="#f9eb45" stroke="none" stroke-width="0" stroke-linejoin="round"/>
<polygon points="88.1,211.7 91.2,211.8 92.1,220.6 89.6,220.6" fill="#f9eb45" stroke="none" stroke-width="0" stroke-linejoin="round"/>
<polygon points="89.4,221.5 92.1,221.1 92.1,231.4 89.6,231.4" fill="#f9eb45" stroke="none" stroke-width="0" stroke-linejoin="round"/>
<polygon points="92.9,90.8 98.9,90.8 96.8,231.8 92.2,231.8" fill="#4a3f0c" stroke="none" stroke-width="0" stroke-linejoin="round"/>
<polygon points="93.7,91.7 98.3,92.0 97.6,108.2 93.0,108.2" fill="#f9eb45" stroke="none" stroke-width="0" stroke-linejoin="round"/>
<polygon points="92.9,109.1 97.7,109.1 97.2,125.4 92.5,125.4" fill="#f9eb45" stroke="none" stroke-width="0" stroke-linejoin="round"/>
<polygon points="92.6,126.3 97.1,126.3 96.8,139.0 92.3,139.0" fill="#f9eb45" stroke="none" stroke-width="0" stroke-linejoin="round"/>
<polygon points="92.5,139.9 97.0,140.4 96.8,152.3 92.2,152.3" fill="#f9eb45" stroke="none" stroke-width="0" stroke-linejoin="round"/>
<polygon points="91.9,153.2 96.7,153.8 96.7,169.8 91.9,169.8" fill="#f9eb45" stroke="none" stroke-width="0" stroke-linejoin="round"/>
<polygon points="91.8,170.7 96.4,170.6 96.3,186.3 91.8,186.3" fill="#f9eb45" stroke="none" stroke-width="0" stroke-linejoin="round"/>
<polygon points="91.7,187.2 96.2,187.5 96.2,196.0 91.8,196.0" fill="#f9eb45" stroke="none" stroke-width="0" stroke-linejoin="round"/>
<polygon points="92.2,196.9 96.1,197.2 96.0,207.2 92.1,207.2" fill="#f9eb45" stroke="none" stroke-width="0" stroke-linejoin="round"/>
<polygon points="91.7,208.1 96.4,208.8 96.2,217.7 92.4,217.7" fill="#f9eb45" stroke="none" stroke-width="0" stroke-linejoin="round"/>
<polygon points="92.9,218.6 95.9,218.6 96.1,225.4 93.1,225.4" fill="#f9eb45" stroke="none" stroke-width="0" stroke-linejoin="round"/>
<polygon points="93.2,226.3 95.9,226.2 96.0,231.4 93.1,231.4" fill="#f9eb45" stroke="none" stroke-width="0" stroke-linejoin="round"/>
<polygon points="98.4,87.6 103.0,87.6 99.7,231.8 96.2,231.8" fill="#4a3f0c" stroke="none" stroke-width="0" stroke-linejoin="round"/>
<polygon points="98.9,88.5 102.1,88.8 101.7,101.9 98.5,101.9" fill="#f9eb45" stroke="none" stroke-width="0" stroke-linejoin="round"/>
<polygon points="98.7,102.8 101.7,102.1 101.4,111.1 98.3,111.1" fill="#f9eb45" stroke="none" stroke-width="0" stroke-linejoin="round"/>
<polygon points="98.4,112.0 101.5,111.4 101.2,123.1 98.1,123.1" fill="#f9eb45" stroke="none" stroke-width="0" stroke-linejoin="round"/>
<polygon points="98.2,124.0 101.5,123.4 101.0,140.9 97.8,140.9" fill="#f9eb45" stroke="none" stroke-width="0" stroke-linejoin="round"/>
<polygon points="97.4,141.8 101.0,141.5 100.8,152.3 97.4,152.3" fill="#f9eb45" stroke="none" stroke-width="0" stroke-linejoin="round"/>
<polygon points="97.5,153.2 101.0,153.7 100.8,162.5 97.5,162.5" fill="#f9eb45" stroke="none" stroke-width="0" stroke-linejoin="round"/>
<polygon points="97.3,163.4 101.0,163.5 100.8,173.8 97.4,173.8" fill="#f9eb45" stroke="none" stroke-width="0" stroke-linejoin="round"/>
<polygon points="97.2,174.7 100.3,175.0 100.2,189.1 97.1,189.1" fill="#f9eb45" stroke="none" stroke-width="0" stroke-linejoin="round"/>
<polygon points="97.0,190.0 100.7,190.2 100.1,202.0 96.9,202.0" fill="#f9eb45" stroke="none" stroke-width="0" stroke-linejoin="round"/>
<polygon points="96.7,202.9 100.2,202.3 99.5,213.3 96.7,213.3" fill="#f9eb45" stroke="none" stroke-width="0" stroke-linejoin="round"/>
<polygon points="96.8,214.2 99.3,214.3 99.0,225.0 96.9,225.0" fill="#f9eb45" stroke="none" stroke-width="0" stroke-linejoin="round"/>
<polygon points="96.8,225.9 98.8,226.0 98.9,231.4 96.9,231.4" fill="#f9eb45" stroke="none" stroke-width="0" stroke-linejoin="round"/>
<polygon points="102.4,87.6 107.6,87.6 103.2,231.8 99.1,231.8" fill="#4a3f0c" stroke="none" stroke-width="0" stroke-linejoin="round"/>
<polygon points="102.8,88.5 106.6,88.0 106.4,100.3 102.6,100.3" fill="#f9eb45" stroke="none" stroke-width="0" stroke-linejoin="round"/>
<polygon points="102.5,101.2 106.7,100.9 106.3,112.1 102.2,112.1" fill="#f9eb45" stroke="none" stroke-width="0" stroke-linejoin="round"/>
<polygon points="102.1,113.0 106.1,112.3 105.8,125.6 101.8,125.6" fill="#f9eb45" stroke="none" stroke-width="0" stroke-linejoin="round"/>
<polygon points="101.6,126.5 106.1,126.6 105.8,136.9 101.6,136.9" fill="#f9eb45" stroke="none" stroke-width="0" stroke-linejoin="round"/>
<polygon points="101.7,137.8 106.0,137.2 105.7,147.6 101.6,147.6" fill="#f9eb45" stroke="none" stroke-width="0" stroke-linejoin="round"/>
<polygon points="101.5,148.5 105.5,149.0 105.5,164.0 101.5,164.0" fill="#f9eb45" stroke="none" stroke-width="0" stroke-linejoin="round"/>
<polygon points="101.5,164.9 105.6,165.5 105.5,176.5 101.5,176.5" fill="#f9eb45" stroke="none" stroke-width="0" stroke-linejoin="round"/>
<polygon points="101.7,177.4 105.5,177.6 105.1,188.6 101.3,188.6" fill="#f9eb45" stroke="none" stroke-width="0" stroke-linejoin="round"/>
<polygon points="101.1,189.5 104.7,189.0 104.3,201.2 100.7,201.2" fill="#f9eb45" stroke="none" stroke-width="0" stroke-linejoin="round"/>
<polygon points="101.0,202.1 104.3,201.6 103.9,208.0 100.6,208.0" fill="#f9eb45" stroke="none" stroke-width="0" stroke-linejoin="round"/>
<polygon points="100.8,208.9 104.2,209.1 103.4,214.8 100.3,214.8" fill="#f9eb45" stroke="none" stroke-width="0" stroke-linejoin="round"/>
<polygon points="100.0,215.7 103.1,215.6 102.4,222.9 99.8,222.9" fill="#f9eb45" stroke="none" stroke-width="0" stroke-linejoin="round"/>
<polygon points="99.8,223.8 102.3,224.4 102.4,230.2 99.8,230.2" fill="#f9eb45" stroke="none" stroke-width="0" stroke-linejoin="round"/>
<polygon points="106.9,94.0 112.7,94.0 107.1,231.8 102.6,231.8" fill="#4a3f0c" stroke="none" stroke-width="0" stroke-linejoin="round"/>
<polygon points="107.4,94.9 112.3,94.6 111.7,109.8 107.0,109.8" fill="#f9eb45" stroke="none" stroke-width="0" stroke-linejoin="round"/>
<polygon points="106.8,110.7 111.5,110.6 111.3,122.0 106.6,122.0" fill="#f9eb45" stroke="none" stroke-width="0" stroke-linejoin="round"/>
<polygon points="106.6,122.9 111.3,122.2 111.1,135.5 106.4,135.5" fill="#f9eb45" stroke="none" stroke-width="0" stroke-linejoin="round"/>
<polygon points="106.3,136.4 111.0,135.8 110.9,146.9 106.2,146.9" fill="#f9eb45" stroke="none" stroke-width="0" stroke-linejoin="round"/>
<polygon points="106.2,147.8 110.7,147.9 110.8,156.1 106.3,156.1" fill="#f9eb45" stroke="none" stroke-width="0" stroke-linejoin="round"/>
<polygon points="106.5,157.0 111.0,157.3 110.9,169.9 106.4,169.9" fill="#f9eb45" stroke="none" stroke-width="0" stroke-linejoin="round"/>
<polygon points="106.2,170.8 110.7,171.4 110.4,186.8 105.9,186.8" fill="#f9eb45" stroke="none" stroke-width="0" stroke-linejoin="round"/>
<polygon points="106.1,187.7 110.5,187.0 109.9,197.1 105.6,197.1" fill="#f9eb45" stroke="none" stroke-width="0" stroke-linejoin="round"/>
<polygon points="105.8,198.0 109.9,198.3 108.8,208.7 104.9,208.7" fill="#f9eb45" stroke="none" stroke-width="0" stroke-linejoin="round"/>
<polygon points="104.5,209.6 108.7,209.6 106.6,220.1 103.3,220.1" fill="#f9eb45" stroke="none" stroke-width="0" stroke-linejoin="round"/>
<polygon points="103.6,221.0 106.8,221.1 106.5,231.4 103.4,231.4" fill="#f9eb45" stroke="none" stroke-width="0" stroke-linejoin="round"/>
</g>
<rect x="116.8" y="130.7" width="22.799999999999997" height="27.30000000000001" fill="none" stroke="#b5522e" stroke-width="0.7" stroke-dasharray="2,1"/>
<polygon points="342.5,156.0 341.8,162.8 341.1,169.5 340.3,176.3 343.6,176.3 343.7,169.5 343.9,162.8 344.0,156.0" fill="#fbfbfb" stroke="#2b2b2b" stroke-width="0.55" stroke-linejoin="round"/>
<polygon points="340.3,176.3 339.4,182.9 338.4,189.5 338.0,196.2 343.4,196.2 343.1,189.5 343.3,182.9 343.6,176.3" fill="#fbfbfb" stroke="#2b2b2b" stroke-width="0.55" stroke-linejoin="round"/>
<polygon points="338.0,196.2 338.6,202.8 339.8,209.2 341.5,215.6 348.0,217.1 346.1,210.0 344.4,203.1 343.4,196.2" fill="#fbfbfb" stroke="#2b2b2b" stroke-width="0.55" stroke-linejoin="round"/>
<polygon points="341.5,215.6 343.4,221.7 345.4,227.9 347.4,234.0 354.1,235.7 352.2,230.1 350.1,223.8 348.0,217.1" fill="#fbfbfb" stroke="#2b2b2b" stroke-width="0.55" stroke-linejoin="round"/>
<polygon points="347.4,234.0 349.5,240.0 351.7,246.0 353.9,251.9 360.2,250.7 358.1,245.9 356.0,240.9 354.1,235.7" fill="#fbfbfb" stroke="#2b2b2b" stroke-width="0.55" stroke-linejoin="round"/>
<polygon points="353.9,251.9 356.1,257.8 358.3,263.6 360.5,269.4 366.2,265.8 364.4,260.4 362.3,255.5 360.2,250.7" fill="#fbfbfb" stroke="#2b2b2b" stroke-width="0.55" stroke-linejoin="round"/>
<polygon points="360.5,269.4 362.2,275.3 364.5,281.0 368.0,286.0 371.1,285.1 368.9,278.2 367.4,271.8 366.2,265.8" fill="#fbfbfb" stroke="#2b2b2b" stroke-width="0.55" stroke-linejoin="round"/>
<polygon points="344.0,156.0 343.8,165.8 343.6,175.6 343.2,185.2 348.4,185.2 347.6,175.6 346.6,165.8 345.8,156.0" fill="#fbfbfb" stroke="#2b2b2b" stroke-width="0.55" stroke-linejoin="round"/>
<polygon points="343.2,185.2 343.1,191.8 343.7,198.6 345.0,205.6 352.4,206.3 350.5,198.8 349.2,191.8 348.4,185.2" fill="#fbfbfb" stroke="#2b2b2b" stroke-width="0.55" stroke-linejoin="round"/>
<polygon points="345.0,205.6 346.7,212.5 348.8,219.5 350.9,226.2 359.1,228.9 356.8,221.6 354.5,213.8 352.4,206.3" fill="#fbfbfb" stroke="#2b2b2b" stroke-width="0.55" stroke-linejoin="round"/>
<polygon points="350.9,226.2 352.9,232.1 354.8,237.5 356.8,242.8 364.7,243.5 362.8,239.3 361.1,234.6 359.1,228.9" fill="#fbfbfb" stroke="#2b2b2b" stroke-width="0.55" stroke-linejoin="round"/>
<polygon points="356.8,242.8 358.8,247.6 360.9,252.4 363.1,257.3 370.6,254.1 368.7,250.4 366.7,247.0 364.7,243.5" fill="#fbfbfb" stroke="#2b2b2b" stroke-width="0.55" stroke-linejoin="round"/>
<polygon points="363.1,257.3 365.1,262.2 366.7,267.8 367.8,274.1 373.9,270.0 373.5,263.3 372.4,258.1 370.6,254.1" fill="#fbfbfb" stroke="#2b2b2b" stroke-width="0.55" stroke-linejoin="round"/>
<polygon points="367.8,274.1 368.7,277.6 369.9,281.3 371.1,285.1 375.0,284.0 374.6,278.9 374.2,274.1 373.9,270.0" fill="#fbfbfb" stroke="#2b2b2b" stroke-width="0.55" stroke-linejoin="round"/>
<polygon points="452.5,150.0 452.3,156.1 452.1,162.2 451.9,168.3 449.3,168.4 449.7,162.3 450.1,156.1 450.5,150.0" fill="#fbfbfb" stroke="#2b2b2b" stroke-width="0.55" stroke-linejoin="round"/>
<polygon points="451.9,168.3 451.6,174.3 450.9,180.3 450.0,186.2 447.2,185.5 448.1,180.0 448.8,174.3 449.3,168.4" fill="#fbfbfb" stroke="#2b2b2b" stroke-width="0.55" stroke-linejoin="round"/>
<polygon points="450.0,186.2 449.0,192.0 447.6,197.8 446.0,203.5 443.6,203.5 445.1,197.6 446.2,191.0 447.2,185.5" fill="#fbfbfb" stroke="#2b2b2b" stroke-width="0.55" stroke-linejoin="round"/>
<polygon points="446.0,203.5 444.3,209.1 442.6,214.6 440.8,220.2 438.9,220.5 440.6,214.6 442.2,209.0 443.6,203.5" fill="#fbfbfb" stroke="#2b2b2b" stroke-width="0.55" stroke-linejoin="round"/>
<polygon points="440.8,220.2 439.1,225.7 437.8,231.3 437.2,237.0 434.0,238.1 435.4,232.3 437.1,226.5 438.9,220.5" fill="#fbfbfb" stroke="#2b2b2b" stroke-width="0.55" stroke-linejoin="round"/>
<polygon points="437.2,237.0 436.7,242.6 435.8,248.2 434.6,253.7 430.1,251.5 431.4,247.9 432.8,243.4 434.0,238.1" fill="#fbfbfb" stroke="#2b2b2b" stroke-width="0.55" stroke-linejoin="round"/>
<polygon points="434.6,253.7 433.2,259.1 431.8,264.5 430.1,269.9 426.1,265.7 427.5,260.2 428.8,255.3 430.1,251.5" fill="#fbfbfb" stroke="#2b2b2b" stroke-width="0.55" stroke-linejoin="round"/>
<polygon points="430.1,269.9 428.2,275.0 425.4,279.7 422.0,284.0 420.9,285.0 422.8,278.0 424.6,271.5 426.1,265.7" fill="#fbfbfb" stroke="#2b2b2b" stroke-width="0.55" stroke-linejoin="round"/>
<polygon points="450.5,150.0 449.9,158.9 449.4,167.7 448.6,176.4 445.8,176.3 446.8,167.8 447.7,158.9 448.5,150.0" fill="#fbfbfb" stroke="#2b2b2b" stroke-width="0.55" stroke-linejoin="round"/>
<polygon points="448.6,176.4 447.8,182.0 446.9,187.4 445.9,193.2 443.2,192.3 444.1,186.6 445.0,181.6 445.8,176.3" fill="#fbfbfb" stroke="#2b2b2b" stroke-width="0.55" stroke-linejoin="round"/>
<polygon points="445.9,193.2 444.6,199.8 443.1,205.5 441.6,211.0 439.5,211.0 440.8,205.5 442.0,199.8 443.2,192.3" fill="#fbfbfb" stroke="#2b2b2b" stroke-width="0.55" stroke-linejoin="round"/>
<polygon points="441.6,211.0 440.0,216.7 438.2,222.6 436.4,228.6 434.3,229.5 436.3,223.1 438.0,216.8 439.5,211.0" fill="#fbfbfb" stroke="#2b2b2b" stroke-width="0.55" stroke-linejoin="round"/>
<polygon points="436.4,228.6 434.9,234.3 433.6,240.0 432.3,245.2 428.1,245.8 430.1,241.1 432.3,235.4 434.3,229.5" fill="#fbfbfb" stroke="#2b2b2b" stroke-width="0.55" stroke-linejoin="round"/>
<polygon points="432.3,245.2 431.0,249.2 429.7,252.7 428.3,257.0 423.9,252.8 425.2,249.8 426.5,248.3 428.1,245.8" fill="#fbfbfb" stroke="#2b2b2b" stroke-width="0.55" stroke-linejoin="round"/>
<polygon points="428.3,257.0 427.0,262.1 425.6,267.7 424.0,273.7 420.7,270.7 421.6,263.6 422.8,257.7 423.9,252.8" fill="#fbfbfb" stroke="#2b2b2b" stroke-width="0.55" stroke-linejoin="round"/>
<polygon points="424.0,273.7 423.0,277.4 422.0,281.2 420.9,285.0 419.8,286.0 420.1,280.7 420.3,275.5 420.7,270.7" fill="#fbfbfb" stroke="#2b2b2b" stroke-width="0.55" stroke-linejoin="round"/>
<polygon points="332.2,161.2 341.0,179.2 337.8,180.8 329.0,162.8" fill="#fbfbfb" stroke="#2b2b2b" stroke-width="0.6" stroke-linejoin="round"/>
<polygon points="341.6,157.9 342.8,173.9 339.8,174.1 338.6,158.1" fill="#fbfbfb" stroke="#2b2b2b" stroke-width="0.6" stroke-linejoin="round"/>
<polygon points="333.6,195.1 346.3,219.0 342.8,220.9 330.1,197.0" fill="#fbfbfb" stroke="#2b2b2b" stroke-width="0.6" stroke-linejoin="round"/>
<polygon points="457.9,154.1 450.9,167.4 448.1,165.9 455.1,152.6" fill="#fbfbfb" stroke="#2b2b2b" stroke-width="0.6" stroke-linejoin="round"/>
<polygon points="451.7,195.6 446.5,208.6 443.5,207.4 448.7,194.4" fill="#fbfbfb" stroke="#2b2b2b" stroke-width="0.6" stroke-linejoin="round"/>
<polygon points="442.2,225.6 438.9,239.2 435.8,238.4 439.1,224.8" fill="#fbfbfb" stroke="#2b2b2b" stroke-width="0.6" stroke-linejoin="round"/>
<polygon points="384.5,232.5 386.0,232.6 387.6,232.7 389.1,232.8 388.4,235.2 387.8,237.5 387.1,239.9 385.2,239.4 383.4,238.8 381.6,238.2 382.6,236.3 383.5,234.4" fill="#fbfbfb" stroke="#2b2b2b" stroke-width="0.8" stroke-linejoin="round"/>
<polygon points="381.6,238.2 383.4,238.8 385.2,239.4 387.1,239.9 386.0,244.0 385.0,248.2 384.3,252.3 381.8,251.1 379.4,249.8 377.1,248.5 378.4,245.0 379.9,241.6" fill="#fbfbfb" stroke="#2b2b2b" stroke-width="0.8" stroke-linejoin="round"/>
<polygon points="377.1,248.5 379.4,249.8 381.8,251.1 384.3,252.3 383.6,257.2 382.8,262.3 382.0,267.4 379.2,265.4 376.5,263.2 374.0,261.0 374.7,256.8 375.8,252.6" fill="#fbfbfb" stroke="#2b2b2b" stroke-width="0.8" stroke-linejoin="round"/>
<polygon points="374.0,261.0 376.5,263.2 379.2,265.4 382.0,267.4 381.3,272.4 380.9,277.4 380.7,282.4 378.2,279.5 375.9,276.4 373.7,273.3 373.5,269.2 373.6,265.1" fill="#fbfbfb" stroke="#2b2b2b" stroke-width="0.8" stroke-linejoin="round"/>
<polygon points="389.1,232.8 391.4,232.9 393.7,233.0 396.0,233.0 396.0,235.8 396.0,238.6 396.1,241.5 393.0,241.2 390.0,240.6 387.1,239.9 387.8,237.5 388.4,235.2" fill="#fbfbfb" stroke="#2b2b2b" stroke-width="0.8" stroke-linejoin="round"/>
<polygon points="387.1,239.9 390.0,240.6 393.0,241.2 396.1,241.5 396.2,246.4 396.5,251.3 397.1,256.0 392.5,255.3 388.2,254.0 384.3,252.3 385.0,248.2 386.0,244.0" fill="#fbfbfb" stroke="#2b2b2b" stroke-width="0.8" stroke-linejoin="round"/>
<polygon points="384.3,252.3 388.2,254.0 392.5,255.3 397.1,256.0 397.8,261.6 397.8,267.6 397.2,273.7 391.6,272.5 386.5,270.3 382.0,267.4 382.8,262.3 383.6,257.2" fill="#fbfbfb" stroke="#2b2b2b" stroke-width="0.8" stroke-linejoin="round"/>
<polygon points="382.0,267.4 386.5,270.3 391.6,272.5 397.2,273.7 396.6,279.6 396.2,285.5 396.0,291.4 390.1,289.6 385.0,286.5 380.7,282.4 380.9,277.4 381.3,272.4" fill="#fbfbfb" stroke="#2b2b2b" stroke-width="0.8" stroke-linejoin="round"/>
<polygon points="380.7,282.4 385.0,286.5 390.1,289.6 396.0,291.4 395.9,296.5 395.9,301.7 395.9,306.8 389.9,304.5 384.9,300.5 381.0,295.4 380.9,291.1 380.8,286.7" fill="#fbfbfb" stroke="#2b2b2b" stroke-width="0.8" stroke-linejoin="round"/>
<polygon points="396.0,233.0 398.3,232.8 400.6,232.6 402.8,232.3 403.6,234.7 404.3,237.1 405.0,239.5 402.1,240.3 399.2,241.0 396.1,241.5 396.0,238.6 396.0,235.8" fill="#fbfbfb" stroke="#2b2b2b" stroke-width="0.8" stroke-linejoin="round"/>
<polygon points="396.1,241.5 399.2,241.0 402.1,240.3 405.0,239.5 406.4,243.6 407.9,247.7 409.9,251.5 405.9,253.3 401.6,255.0 397.1,256.0 396.5,251.3 396.2,246.4" fill="#fbfbfb" stroke="#2b2b2b" stroke-width="0.8" stroke-linejoin="round"/>
<polygon points="397.1,256.0 401.6,255.0 405.9,253.3 409.9,251.5 411.9,256.0 412.8,261.2 412.6,266.5 407.9,269.5 402.8,272.1 397.2,273.7 397.8,267.6 397.8,261.6" fill="#fbfbfb" stroke="#2b2b2b" stroke-width="0.8" stroke-linejoin="round"/>
<polygon points="397.2,273.7 402.8,272.1 407.9,269.5 412.6,266.5 412.0,271.6 411.5,276.7 411.3,281.9 406.8,285.9 401.7,289.3 396.0,291.4 396.2,285.5 396.6,279.6" fill="#fbfbfb" stroke="#2b2b2b" stroke-width="0.8" stroke-linejoin="round"/>
<polygon points="402.8,232.3 404.4,232.0 405.9,231.8 407.4,231.6 408.6,233.7 409.7,235.7 410.9,237.8 408.9,238.3 407.0,238.9 405.0,239.5 404.3,237.1 403.6,234.7" fill="#fbfbfb" stroke="#2b2b2b" stroke-width="0.8" stroke-linejoin="round"/>
<polygon points="405.0,239.5 407.0,238.9 408.9,238.3 410.9,237.8 413.0,241.3 415.3,244.7 418.1,247.8 415.4,249.0 412.6,250.2 409.9,251.5 407.9,247.7 406.4,243.6" fill="#fbfbfb" stroke="#2b2b2b" stroke-width="0.8" stroke-linejoin="round"/>
<polygon points="409.9,251.5 412.6,250.2 415.4,249.0 418.1,247.8 421.0,251.5 422.3,256.0 422.2,260.7 419.0,262.6 415.7,264.6 412.6,266.5 412.8,261.2 411.9,256.0" fill="#fbfbfb" stroke="#2b2b2b" stroke-width="0.8" stroke-linejoin="round"/>
<polygon points="412.6,266.5 415.7,264.6 419.0,262.6 422.2,260.7 421.6,265.2 421.0,269.7 420.7,274.2 417.6,276.8 414.4,279.3 411.3,281.9 411.5,276.7 412.0,271.6" fill="#fbfbfb" stroke="#2b2b2b" stroke-width="0.8" stroke-linejoin="round"/>
<polygon points="411.3,281.9 414.4,279.3 417.6,276.8 420.7,274.2 420.4,278.1 420.1,282.1 419.8,286.0 416.8,289.1 413.8,292.1 410.8,295.3 411.0,290.8 411.1,286.3" fill="#fbfbfb" stroke="#2b2b2b" stroke-width="0.8" stroke-linejoin="round"/>
<polygon points="373.7,273.3 379.4,281.0 386.6,287.6 396.0,291.4 395.9,296.5 395.9,301.7 395.9,306.8 386.5,301.9 379.9,293.6 375.0,284.0 374.5,280.5 374.1,276.9" fill="#fbfbfb" stroke="#2b2b2b" stroke-width="0.8" stroke-linejoin="round"/>
<polygon points="396.0,291.4 405.2,287.1 412.8,280.6 420.7,274.2 420.4,278.1 420.1,282.1 419.8,286.0 412.3,293.7 405.0,301.6 395.9,306.8 395.9,301.7 395.9,296.5" fill="#fbfbfb" stroke="#2b2b2b" stroke-width="0.8" stroke-linejoin="round"/>
<polygon points="342.0,93.0 342.3,97.6 342.5,102.1 342.8,106.7 350.9,106.6 350.8,101.9 350.7,97.2 350.6,92.5" fill="#afd085" stroke="#31501a" stroke-width="0.9" stroke-linejoin="round"/>
<polygon points="342.8,106.7 343.1,111.2 343.3,115.7 343.5,120.2 351.2,120.2 351.1,115.7 351.0,111.2 350.9,106.6" fill="#aed082" stroke="#31501a" stroke-width="0.9" stroke-linejoin="round"/>
<polygon points="343.5,120.2 343.7,125.1 344.0,129.9 344.3,134.8 351.7,134.8 351.5,129.9 351.4,125.1 351.2,120.2" fill="#add07e" stroke="#31501a" stroke-width="0.9" stroke-linejoin="round"/>
<polygon points="344.3,134.8 344.5,138.1 344.6,141.4 344.8,144.8 352.1,144.8 351.9,141.4 351.8,138.1 351.7,134.8" fill="#accf7a" stroke="#31501a" stroke-width="0.9" stroke-linejoin="round"/>
<polygon points="344.8,144.8 345.1,148.8 345.3,152.7 345.6,156.7 352.6,156.7 352.4,152.7 352.3,148.8 352.1,144.8" fill="#abcf77" stroke="#31501a" stroke-width="0.9" stroke-linejoin="round"/>
<polygon points="345.6,156.7 345.8,160.0 346.1,163.3 346.3,166.5 353.2,166.5 353.0,163.3 352.8,160.0 352.6,156.7" fill="#aacf75" stroke="#31501a" stroke-width="0.9" stroke-linejoin="round"/>
<polygon points="346.3,166.5 346.5,169.6 346.8,172.6 347.0,175.6 353.7,175.6 353.5,172.6 353.3,169.6 353.2,166.5" fill="#abcf76" stroke="#31501a" stroke-width="0.9" stroke-linejoin="round"/>
<polygon points="347.0,175.6 347.4,179.0 347.8,182.3 348.4,185.7 354.8,185.7 354.3,182.3 354.0,179.0 353.7,175.6" fill="#add17a" stroke="#31501a" stroke-width="0.9" stroke-linejoin="round"/>
<polygon points="348.4,185.7 349.0,188.3 349.7,190.8 350.4,193.4 356.4,193.4 355.9,190.9 355.3,188.3 354.8,185.7" fill="#afd27e" stroke="#31501a" stroke-width="0.9" stroke-linejoin="round"/>
<polygon points="350.4,193.4 351.2,196.7 352.1,199.9 353.1,203.2 358.7,202.7 357.9,199.6 357.1,196.5 356.4,193.4" fill="#b2d381" stroke="#31501a" stroke-width="0.9" stroke-linejoin="round"/>
<polygon points="353.1,203.2 353.9,205.9 354.7,208.6 355.5,211.3 360.7,210.4 360.0,207.8 359.3,205.3 358.7,202.7" fill="#b4d485" stroke="#31501a" stroke-width="0.9" stroke-linejoin="round"/>
<polygon points="355.5,211.3 356.5,214.3 357.4,217.3 358.4,220.2 363.2,218.7 362.3,215.9 361.5,213.2 360.7,210.4" fill="#b6d589" stroke="#31501a" stroke-width="0.9" stroke-linejoin="round"/>
<polygon points="358.4,220.2 359.4,223.4 360.5,226.5 361.5,229.6 365.9,227.5 364.9,224.6 364.0,221.6 363.2,218.7" fill="#b8d68c" stroke="#31501a" stroke-width="0.9" stroke-linejoin="round"/>
<polygon points="361.5,229.6 362.7,233.1 363.8,236.5 365.0,239.9 368.9,236.6 367.9,233.6 366.9,230.6 365.9,227.5" fill="#bad890" stroke="#31501a" stroke-width="0.9" stroke-linejoin="round"/>
<polygon points="365.0,239.9 366.0,242.7 367.3,245.4 368.9,247.9 372.2,243.6 370.9,241.4 369.8,239.0 368.9,236.6" fill="#bcd994" stroke="#31501a" stroke-width="0.9" stroke-linejoin="round"/>
<polygon points="368.9,247.9 370.8,250.4 372.9,252.7 375.0,255.0 377.2,249.7 375.5,247.7 373.8,245.7 372.2,243.6" fill="#beda97" stroke="#31501a" stroke-width="0.9" stroke-linejoin="round"/>
<polygon points="350.6,92.5 350.6,95.6 350.7,98.8 350.8,101.9 359.0,101.7 359.1,98.5 359.1,95.3 359.2,92.1" fill="#a5ca7a" stroke="#31501a" stroke-width="0.9" stroke-linejoin="round"/>
<polygon points="350.8,101.9 350.9,107.2 351.1,112.5 351.2,117.7 359.0,117.8 359.0,112.5 359.0,107.2 359.0,101.7" fill="#a4ca77" stroke="#31501a" stroke-width="0.9" stroke-linejoin="round"/>
<polygon points="351.2,117.7 351.3,122.5 351.4,127.2 351.6,132.0 359.1,132.0 359.0,127.2 359.0,122.5 359.0,117.8" fill="#a3ca73" stroke="#31501a" stroke-width="0.9" stroke-linejoin="round"/>
<polygon points="351.6,132.0 351.7,135.6 351.9,139.2 352.0,142.8 359.3,142.8 359.2,139.2 359.1,135.6 359.1,132.0" fill="#a2c96f" stroke="#31501a" stroke-width="0.9" stroke-linejoin="round"/>
<polygon points="352.0,142.8 352.1,146.3 352.3,149.8 352.5,153.2 359.5,153.2 359.4,149.8 359.4,146.3 359.3,142.8" fill="#a1c96c" stroke="#31501a" stroke-width="0.9" stroke-linejoin="round"/>
<polygon points="352.5,153.2 352.7,157.2 352.9,161.1 353.1,165.0 359.9,165.0 359.8,161.1 359.7,157.2 359.5,153.2" fill="#a0c969" stroke="#31501a" stroke-width="0.9" stroke-linejoin="round"/>
<polygon points="353.1,165.0 353.2,167.6 353.4,170.2 353.5,172.7 360.3,172.7 360.1,170.2 360.0,167.6 359.9,165.0" fill="#a0c969" stroke="#31501a" stroke-width="0.9" stroke-linejoin="round"/>
<polygon points="353.5,172.7 353.8,176.4 354.1,180.1 354.5,183.7 361.0,183.8 360.7,180.1 360.4,176.4 360.3,172.7" fill="#a3ca6d" stroke="#31501a" stroke-width="0.9" stroke-linejoin="round"/>
<polygon points="354.5,183.7 354.9,186.3 355.4,188.9 356.0,191.3 362.1,191.4 361.7,188.9 361.3,186.4 361.0,183.8" fill="#a5cb71" stroke="#31501a" stroke-width="0.9" stroke-linejoin="round"/>
<polygon points="356.0,191.3 356.6,194.1 357.2,196.9 357.9,199.6 363.6,199.3 363.1,196.7 362.6,194.1 362.1,191.4" fill="#a7cd74" stroke="#31501a" stroke-width="0.9" stroke-linejoin="round"/>
<polygon points="357.9,199.6 358.6,202.4 359.3,205.2 360.0,207.9 365.4,207.2 364.8,204.6 364.2,202.0 363.6,199.3" fill="#a9ce78" stroke="#31501a" stroke-width="0.9" stroke-linejoin="round"/>
<polygon points="360.0,207.9 360.8,210.9 361.7,213.8 362.5,216.7 367.4,215.3 366.7,212.7 366.0,210.0 365.4,207.2" fill="#abcf7b" stroke="#31501a" stroke-width="0.9" stroke-linejoin="round"/>
<polygon points="362.5,216.7 363.5,219.7 364.4,222.7 365.3,225.7 369.7,223.7 368.9,220.9 368.1,218.1 367.4,215.3" fill="#add07f" stroke="#31501a" stroke-width="0.9" stroke-linejoin="round"/>
<polygon points="365.3,225.7 366.1,228.1 366.8,230.4 367.6,232.7 371.7,230.0 371.1,228.0 370.4,225.9 369.7,223.7" fill="#afd182" stroke="#31501a" stroke-width="0.9" stroke-linejoin="round"/>
<polygon points="367.6,232.7 368.7,236.0 369.9,239.2 371.3,242.3 374.8,238.1 373.6,235.5 372.7,232.8 371.7,230.0" fill="#b1d285" stroke="#31501a" stroke-width="0.9" stroke-linejoin="round"/>
<polygon points="371.3,242.3 373.2,244.9 375.2,247.3 377.2,249.7 379.5,244.4 377.8,242.4 376.3,240.3 374.8,238.1" fill="#b3d389" stroke="#31501a" stroke-width="0.9" stroke-linejoin="round"/>
<polygon points="359.2,92.1 359.1,97.5 359.0,103.0 359.0,108.4 367.5,108.4 367.8,102.8 368.0,97.2 368.3,91.6" fill="#a5ca79" stroke="#31501a" stroke-width="0.9" stroke-linejoin="round"/>
<polygon points="359.0,108.4 359.0,112.9 359.0,117.3 359.0,121.7 367.2,121.7 367.3,117.3 367.4,112.9 367.5,108.4" fill="#a4ca75" stroke="#31501a" stroke-width="0.9" stroke-linejoin="round"/>
<polygon points="359.0,121.7 359.0,126.1 359.0,130.6 359.1,135.1 367.0,135.1 367.0,130.6 367.1,126.1 367.2,121.7" fill="#a3ca72" stroke="#31501a" stroke-width="0.9" stroke-linejoin="round"/>
<polygon points="359.1,135.1 359.2,138.5 359.3,141.9 359.3,145.3 367.0,145.3 367.0,141.9 367.0,138.5 367.0,135.1" fill="#a2c96e" stroke="#31501a" stroke-width="0.9" stroke-linejoin="round"/>
<polygon points="359.3,145.3 359.4,148.9 359.5,152.5 359.6,156.1 367.1,156.1 367.1,152.5 367.0,148.9 367.0,145.3" fill="#a1c96b" stroke="#31501a" stroke-width="0.9" stroke-linejoin="round"/>
<polygon points="359.6,156.1 359.8,159.6 359.9,163.1 360.0,166.7 367.3,166.7 367.2,163.1 367.2,159.6 367.1,156.1" fill="#a0c969" stroke="#31501a" stroke-width="0.9" stroke-linejoin="round"/>
<polygon points="360.0,166.7 360.1,170.3 360.3,173.9 360.5,177.5 367.6,177.5 367.5,173.9 367.4,170.3 367.3,166.7" fill="#a1c96a" stroke="#31501a" stroke-width="0.9" stroke-linejoin="round"/>
<polygon points="360.5,177.5 360.7,180.3 360.9,183.1 361.2,186.0 368.0,186.0 367.8,183.2 367.7,180.3 367.6,177.5" fill="#a4cb6e" stroke="#31501a" stroke-width="0.9" stroke-linejoin="round"/>
<polygon points="361.2,186.0 361.7,188.9 362.2,191.6 362.6,194.3 369.0,194.2 368.7,191.7 368.3,188.9 368.0,186.0" fill="#a6cc72" stroke="#31501a" stroke-width="0.9" stroke-linejoin="round"/>
<polygon points="362.6,194.3 363.2,197.2 363.8,200.1 364.4,203.0 370.3,202.4 369.9,199.8 369.4,197.0 369.0,194.2" fill="#a8cd76" stroke="#31501a" stroke-width="0.9" stroke-linejoin="round"/>
<polygon points="364.4,203.0 365.0,205.5 365.6,208.1 366.2,210.6 371.6,209.5 371.2,207.2 370.7,204.8 370.3,202.4" fill="#aace79" stroke="#31501a" stroke-width="0.9" stroke-linejoin="round"/>
<polygon points="366.2,210.6 366.8,213.0 367.4,215.5 368.1,218.0 373.1,216.3 372.6,214.0 372.1,211.8 371.6,209.5" fill="#abcf7c" stroke="#31501a" stroke-width="0.9" stroke-linejoin="round"/>
<polygon points="368.1,218.0 368.9,220.8 369.7,223.6 370.5,226.3 375.1,223.9 374.4,221.4 373.7,218.8 373.1,216.3" fill="#add07f" stroke="#31501a" stroke-width="0.9" stroke-linejoin="round"/>
<polygon points="370.5,226.3 371.4,228.8 372.1,231.2 372.9,233.4 377.0,229.9 376.4,228.0 375.8,226.0 375.1,223.9" fill="#afd182" stroke="#31501a" stroke-width="0.9" stroke-linejoin="round"/>
<polygon points="372.9,233.4 373.7,235.6 374.6,237.7 375.8,239.7 379.2,234.9 378.4,233.3 377.7,231.6 377.0,229.9" fill="#b0d285" stroke="#31501a" stroke-width="0.9" stroke-linejoin="round"/>
<polygon points="375.8,239.7 377.0,241.3 378.2,242.9 379.5,244.4 381.8,238.8 381.0,237.5 380.1,236.3 379.2,234.9" fill="#b2d287" stroke="#31501a" stroke-width="0.9" stroke-linejoin="round"/>
<polygon points="368.3,91.6 368.1,94.8 368.0,98.0 367.8,101.3 377.7,101.0 377.9,97.7 378.2,94.3 378.5,91.0" fill="#a5ca7a" stroke="#31501a" stroke-width="0.9" stroke-linejoin="round"/>
<polygon points="367.8,101.3 367.6,106.4 367.4,111.3 367.3,116.1 376.6,116.2 376.9,111.3 377.3,106.3 377.7,101.0" fill="#a4ca77" stroke="#31501a" stroke-width="0.9" stroke-linejoin="round"/>
<polygon points="367.3,116.1 367.2,120.9 367.1,125.7 367.0,130.5 376.0,130.5 376.2,125.7 376.4,121.0 376.6,116.2" fill="#a3ca73" stroke="#31501a" stroke-width="0.9" stroke-linejoin="round"/>
<polygon points="367.0,130.5 367.0,134.4 367.0,138.2 367.0,142.1 375.7,142.1 375.8,138.2 375.9,134.4 376.0,130.5" fill="#a2c96f" stroke="#31501a" stroke-width="0.9" stroke-linejoin="round"/>
<polygon points="367.0,142.1 367.0,145.4 367.0,148.6 367.1,151.9 375.5,151.9 375.6,148.6 375.6,145.4 375.7,142.1" fill="#a1c96d" stroke="#31501a" stroke-width="0.9" stroke-linejoin="round"/>
<polygon points="367.1,151.9 367.1,156.0 367.2,160.0 367.2,164.0 375.4,164.0 375.5,160.0 375.5,156.0 375.5,151.9" fill="#a0c96a" stroke="#31501a" stroke-width="0.9" stroke-linejoin="round"/>
<polygon points="367.2,164.0 367.3,166.7 367.3,169.3 367.4,171.9 375.4,171.9 375.4,169.3 375.4,166.7 375.4,164.0" fill="#a0c969" stroke="#31501a" stroke-width="0.9" stroke-linejoin="round"/>
<polygon points="367.4,171.9 367.5,175.3 367.6,178.6 367.7,181.9 375.5,181.9 375.5,178.6 375.5,175.3 375.4,171.9" fill="#a2ca6c" stroke="#31501a" stroke-width="0.9" stroke-linejoin="round"/>
<polygon points="367.7,181.9 368.0,185.2 368.3,188.4 368.7,191.5 376.0,191.5 375.8,188.5 375.6,185.2 375.5,181.9" fill="#a5cb71" stroke="#31501a" stroke-width="0.9" stroke-linejoin="round"/>
<polygon points="368.7,191.5 369.0,193.8 369.3,196.0 369.6,198.2 376.5,197.9 376.3,195.9 376.1,193.7 376.0,191.5" fill="#a7cc74" stroke="#31501a" stroke-width="0.9" stroke-linejoin="round"/>
<polygon points="369.6,198.2 370.1,201.0 370.5,203.7 371.0,206.3 377.4,205.4 377.1,203.0 376.8,200.5 376.5,197.9" fill="#a8cd77" stroke="#31501a" stroke-width="0.9" stroke-linejoin="round"/>
<polygon points="371.0,206.3 371.4,208.5 371.8,210.7 372.3,212.8 378.2,211.3 377.9,209.4 377.6,207.4 377.4,205.4" fill="#aace7a" stroke="#31501a" stroke-width="0.9" stroke-linejoin="round"/>
<polygon points="372.3,212.8 372.9,215.3 373.5,217.9 374.2,220.5 379.5,218.2 379.0,215.9 378.5,213.6 378.2,211.3" fill="#accf7d" stroke="#31501a" stroke-width="0.9" stroke-linejoin="round"/>
<polygon points="374.2,220.5 374.9,222.9 375.5,225.2 376.2,227.3 381.1,224.0 380.6,222.3 380.1,220.3 379.5,218.2" fill="#aed080" stroke="#31501a" stroke-width="0.9" stroke-linejoin="round"/>
<polygon points="376.2,227.3 376.8,229.4 377.5,231.3 378.3,233.2 382.5,228.3 382.0,227.0 381.6,225.5 381.1,224.0" fill="#afd182" stroke="#31501a" stroke-width="0.9" stroke-linejoin="round"/>
<polygon points="378.3,233.2 379.4,235.2 380.6,237.0 381.8,238.8 384.5,232.5 383.8,231.2 383.2,229.8 382.5,228.3" fill="#b0d284" stroke="#31501a" stroke-width="0.9" stroke-linejoin="round"/>
<circle cx="346.6" cy="99.7" r="1.15" fill="#c6e88a"/>
<circle cx="347.1" cy="113.4" r="1.15" fill="#c6e88a"/>
<circle cx="347.7" cy="127.5" r="1.15" fill="#c6e88a"/>
<circle cx="348.2" cy="139.8" r="1.15" fill="#c6e88a"/>
<circle cx="348.8" cy="150.8" r="1.15" fill="#c6e88a"/>
<circle cx="349.4" cy="161.6" r="1.15" fill="#c6e88a"/>
<circle cx="350.0" cy="171.1" r="1.15" fill="#c6e88a"/>
<circle cx="350.9" cy="180.6" r="1.15" fill="#c6e88a"/>
<circle cx="352.5" cy="189.6" r="1.15" fill="#c6e88a"/>
<circle cx="354.6" cy="198.2" r="1.15" fill="#c6e88a"/>
<circle cx="357.0" cy="206.9" r="1.15" fill="#c6e88a"/>
<circle cx="359.4" cy="215.1" r="1.15" fill="#c6e88a"/>
<circle cx="362.2" cy="224.0" r="1.15" fill="#c6e88a"/>
<circle cx="365.3" cy="233.4" r="1.15" fill="#c6e88a"/>
<circle cx="368.6" cy="242.1" r="1.15" fill="#c6e88a"/>
<circle cx="373.3" cy="249.1" r="1.15" fill="#c6e88a"/>
<circle cx="354.9" cy="97.0" r="1.15" fill="#c6e88a"/>
<circle cx="355.0" cy="109.8" r="1.15" fill="#c6e88a"/>
<circle cx="355.2" cy="124.9" r="1.15" fill="#c6e88a"/>
<circle cx="355.5" cy="137.4" r="1.15" fill="#c6e88a"/>
<circle cx="355.8" cy="148.0" r="1.15" fill="#c6e88a"/>
<circle cx="356.3" cy="159.1" r="1.15" fill="#c6e88a"/>
<circle cx="356.7" cy="168.9" r="1.15" fill="#c6e88a"/>
<circle cx="357.3" cy="178.2" r="1.15" fill="#c6e88a"/>
<circle cx="358.4" cy="187.6" r="1.15" fill="#c6e88a"/>
<circle cx="359.9" cy="195.4" r="1.15" fill="#c6e88a"/>
<circle cx="361.7" cy="203.5" r="1.15" fill="#c6e88a"/>
<circle cx="363.8" cy="211.8" r="1.15" fill="#c6e88a"/>
<circle cx="366.2" cy="220.4" r="1.15" fill="#c6e88a"/>
<circle cx="368.6" cy="228.1" r="1.15" fill="#c6e88a"/>
<circle cx="371.3" cy="235.8" r="1.15" fill="#c6e88a"/>
<circle cx="375.7" cy="243.7" r="1.15" fill="#c6e88a"/>
<circle cx="363.5" cy="100.1" r="1.15" fill="#c6e88a"/>
<circle cx="363.2" cy="115.1" r="1.15" fill="#c6e88a"/>
<circle cx="363.1" cy="128.4" r="1.15" fill="#c6e88a"/>
<circle cx="363.1" cy="140.2" r="1.15" fill="#c6e88a"/>
<circle cx="363.3" cy="150.7" r="1.15" fill="#c6e88a"/>
<circle cx="363.5" cy="161.4" r="1.15" fill="#c6e88a"/>
<circle cx="363.8" cy="172.1" r="1.15" fill="#c6e88a"/>
<circle cx="364.3" cy="181.7" r="1.15" fill="#c6e88a"/>
<circle cx="365.2" cy="190.2" r="1.15" fill="#c6e88a"/>
<circle cx="366.6" cy="198.5" r="1.15" fill="#c6e88a"/>
<circle cx="368.1" cy="206.4" r="1.15" fill="#c6e88a"/>
<circle cx="369.7" cy="213.6" r="1.15" fill="#c6e88a"/>
<circle cx="371.7" cy="221.1" r="1.15" fill="#c6e88a"/>
<circle cx="373.9" cy="228.4" r="1.15" fill="#c6e88a"/>
<circle cx="376.2" cy="234.5" r="1.15" fill="#c6e88a"/>
<circle cx="379.1" cy="239.5" r="1.15" fill="#c6e88a"/>
<circle cx="373.1" cy="96.2" r="1.15" fill="#c6e88a"/>
<circle cx="372.3" cy="108.7" r="1.15" fill="#c6e88a"/>
<circle cx="371.7" cy="123.3" r="1.15" fill="#c6e88a"/>
<circle cx="371.4" cy="136.3" r="1.15" fill="#c6e88a"/>
<circle cx="371.3" cy="147.0" r="1.15" fill="#c6e88a"/>
<circle cx="371.3" cy="158.0" r="1.15" fill="#c6e88a"/>
<circle cx="371.4" cy="168.0" r="1.15" fill="#c6e88a"/>
<circle cx="371.5" cy="176.9" r="1.15" fill="#c6e88a"/>
<circle cx="371.9" cy="186.8" r="1.15" fill="#c6e88a"/>
<circle cx="372.7" cy="194.8" r="1.15" fill="#c6e88a"/>
<circle cx="373.6" cy="202.0" r="1.15" fill="#c6e88a"/>
<circle cx="374.7" cy="209.0" r="1.15" fill="#c6e88a"/>
<circle cx="376.0" cy="215.7" r="1.15" fill="#c6e88a"/>
<circle cx="377.8" cy="222.6" r="1.15" fill="#c6e88a"/>
<circle cx="379.5" cy="228.2" r="1.15" fill="#c6e88a"/>
<circle cx="381.8" cy="233.2" r="1.15" fill="#c6e88a"/>
<polygon points="453.9,97.7 453.7,100.4 453.5,103.2 453.3,105.9 444.4,105.1 444.6,102.4 444.8,99.7 445.0,97.0" fill="#afd085" stroke="#31501a" stroke-width="0.9" stroke-linejoin="round"/>
<polygon points="453.3,105.9 453.1,109.1 452.8,112.3 452.3,115.5 443.4,115.3 443.8,111.8 444.1,108.4 444.4,105.1" fill="#aed082" stroke="#31501a" stroke-width="0.9" stroke-linejoin="round"/>
<polygon points="452.3,115.5 451.7,118.8 451.0,122.1 450.4,125.4 441.7,126.9 442.2,123.1 442.8,119.1 443.4,115.3" fill="#add080" stroke="#31501a" stroke-width="0.9" stroke-linejoin="round"/>
<polygon points="450.4,125.4 450.0,128.5 449.6,131.6 449.3,134.7 440.7,137.1 441.0,133.7 441.4,130.3 441.7,126.9" fill="#accf7d" stroke="#31501a" stroke-width="0.9" stroke-linejoin="round"/>
<polygon points="449.3,134.7 449.0,137.8 448.7,140.9 448.5,143.9 440.1,147.0 440.2,143.7 440.5,140.4 440.7,137.1" fill="#accf7a" stroke="#31501a" stroke-width="0.9" stroke-linejoin="round"/>
<polygon points="448.5,143.9 448.3,146.8 448.1,149.7 448.0,152.6 439.7,156.4 439.8,153.3 439.9,150.2 440.1,147.0" fill="#abcf78" stroke="#31501a" stroke-width="0.9" stroke-linejoin="round"/>
<polygon points="448.0,152.6 447.7,156.0 447.5,159.3 447.1,162.7 439.0,166.9 439.3,163.5 439.5,160.0 439.7,156.4" fill="#aacf75" stroke="#31501a" stroke-width="0.9" stroke-linejoin="round"/>
<polygon points="447.1,162.7 446.8,166.2 446.4,169.8 445.9,173.3 438.1,177.0 438.4,173.7 438.7,170.3 439.0,166.9" fill="#abcf75" stroke="#31501a" stroke-width="0.9" stroke-linejoin="round"/>
<polygon points="445.9,173.3 445.5,176.2 445.1,179.1 444.7,182.0 437.1,185.3 437.5,182.5 437.8,179.7 438.1,177.0" fill="#add079" stroke="#31501a" stroke-width="0.9" stroke-linejoin="round"/>
<polygon points="444.7,182.0 444.1,185.2 443.5,188.3 442.8,191.4 435.6,194.4 436.1,191.4 436.6,188.4 437.1,185.3" fill="#afd27d" stroke="#31501a" stroke-width="0.9" stroke-linejoin="round"/>
<polygon points="442.8,191.4 442.2,194.0 441.6,196.6 441.0,199.2 434.1,201.6 434.6,199.3 435.1,196.9 435.6,194.4" fill="#b1d381" stroke="#31501a" stroke-width="0.9" stroke-linejoin="round"/>
<polygon points="441.0,199.2 440.2,203.0 439.3,206.8 438.3,210.6 431.9,211.7 432.7,208.4 433.4,205.0 434.1,201.6" fill="#b3d485" stroke="#31501a" stroke-width="0.9" stroke-linejoin="round"/>
<polygon points="438.3,210.6 437.5,214.1 436.7,217.6 435.8,221.1 429.8,220.4 430.5,217.5 431.2,214.6 431.9,211.7" fill="#b6d589" stroke="#31501a" stroke-width="0.9" stroke-linejoin="round"/>
<polygon points="435.8,221.1 434.9,224.9 433.9,228.7 432.8,232.5 427.2,229.9 428.1,226.8 429.0,223.6 429.8,220.4" fill="#b8d78d" stroke="#31501a" stroke-width="0.9" stroke-linejoin="round"/>
<polygon points="432.8,232.5 431.8,235.6 430.6,238.5 429.2,241.5 424.0,237.7 425.2,235.1 426.3,232.5 427.2,229.9" fill="#bbd891" stroke="#31501a" stroke-width="0.9" stroke-linejoin="round"/>
<polygon points="429.2,241.5 427.5,245.1 425.5,248.5 423.5,252.0 419.0,246.3 420.8,243.5 422.5,240.7 424.0,237.7" fill="#bdd995" stroke="#31501a" stroke-width="0.9" stroke-linejoin="round"/>
<polygon points="445.4,91.3 445.2,93.9 445.0,96.6 444.8,99.2 435.3,98.4 435.6,95.8 435.8,93.2 436.0,90.6" fill="#a5ca7b" stroke="#31501a" stroke-width="0.9" stroke-linejoin="round"/>
<polygon points="444.8,99.2 444.5,103.3 444.2,107.4 443.8,111.6 434.2,111.0 434.6,106.6 435.0,102.5 435.3,98.4" fill="#a4ca78" stroke="#31501a" stroke-width="0.9" stroke-linejoin="round"/>
<polygon points="443.8,111.6 443.4,115.3 442.8,119.1 442.2,123.1 432.9,124.1 433.4,119.5 433.8,115.0 434.2,111.0" fill="#a3ca75" stroke="#31501a" stroke-width="0.9" stroke-linejoin="round"/>
<polygon points="442.2,123.1 441.8,126.1 441.5,129.1 441.2,132.1 432.0,134.2 432.3,130.9 432.6,127.6 432.9,124.1" fill="#a3ca72" stroke="#31501a" stroke-width="0.9" stroke-linejoin="round"/>
<polygon points="441.2,132.1 440.8,135.8 440.5,139.6 440.3,143.3 431.2,146.3 431.4,142.3 431.7,138.2 432.0,134.2" fill="#a2c96f" stroke="#31501a" stroke-width="0.9" stroke-linejoin="round"/>
<polygon points="440.3,143.3 440.1,146.3 439.9,149.3 439.8,152.3 430.9,156.1 431.0,152.8 431.1,149.6 431.2,146.3" fill="#a1c96c" stroke="#31501a" stroke-width="0.9" stroke-linejoin="round"/>
<polygon points="439.8,152.3 439.7,155.5 439.6,158.6 439.4,161.7 430.6,166.1 430.7,162.8 430.8,159.5 430.9,156.1" fill="#a0c969" stroke="#31501a" stroke-width="0.9" stroke-linejoin="round"/>
<polygon points="439.4,161.7 439.2,165.1 438.9,168.4 438.6,171.6 430.1,175.9 430.3,172.8 430.5,169.6 430.6,166.1" fill="#a0c969" stroke="#31501a" stroke-width="0.9" stroke-linejoin="round"/>
<polygon points="438.6,171.6 438.3,175.3 437.9,179.0 437.4,182.8 429.3,186.4 429.6,182.8 429.9,179.4 430.1,175.9" fill="#a3ca6d" stroke="#31501a" stroke-width="0.9" stroke-linejoin="round"/>
<polygon points="437.4,182.8 437.1,185.2 436.7,187.7 436.3,190.2 428.4,193.5 428.8,191.1 429.0,188.7 429.3,186.4" fill="#a5cc71" stroke="#31501a" stroke-width="0.9" stroke-linejoin="round"/>
<polygon points="436.3,190.2 435.8,193.2 435.2,196.1 434.7,199.0 427.2,201.8 427.6,199.2 428.0,196.5 428.4,193.5" fill="#a7cd75" stroke="#31501a" stroke-width="0.9" stroke-linejoin="round"/>
<polygon points="434.7,199.0 434.1,202.0 433.4,205.0 432.8,207.9 425.7,209.6 426.2,207.1 426.7,204.5 427.2,201.8" fill="#a9ce78" stroke="#31501a" stroke-width="0.9" stroke-linejoin="round"/>
<polygon points="432.8,207.9 432.0,211.3 431.2,214.6 430.4,217.8 423.8,217.7 424.5,215.1 425.1,212.4 425.7,209.6" fill="#abcf7c" stroke="#31501a" stroke-width="0.9" stroke-linejoin="round"/>
<polygon points="430.4,217.8 429.8,220.3 429.2,222.7 428.6,225.1 422.3,223.4 422.8,221.5 423.3,219.6 423.8,217.7" fill="#add07f" stroke="#31501a" stroke-width="0.9" stroke-linejoin="round"/>
<polygon points="428.6,225.1 427.8,228.0 426.9,230.8 425.8,233.7 420.0,230.3 420.9,227.9 421.6,225.6 422.3,223.4" fill="#afd182" stroke="#31501a" stroke-width="0.9" stroke-linejoin="round"/>
<polygon points="425.8,233.7 423.8,238.2 421.5,242.3 419.0,246.3 414.3,240.3 416.3,237.3 418.2,234.0 420.0,230.3" fill="#b1d286" stroke="#31501a" stroke-width="0.9" stroke-linejoin="round"/>
<polygon points="436.0,90.6 435.6,95.2 435.2,99.9 434.8,104.6 426.7,103.9 427.1,99.2 427.6,94.6 428.0,89.9" fill="#a5ca7a" stroke="#31501a" stroke-width="0.9" stroke-linejoin="round"/>
<polygon points="434.8,104.6 434.5,108.7 434.0,113.2 433.5,118.2 425.4,118.4 425.9,112.8 426.3,108.1 426.7,103.9" fill="#a4ca76" stroke="#31501a" stroke-width="0.9" stroke-linejoin="round"/>
<polygon points="433.5,118.2 433.1,122.3 432.7,126.2 432.4,129.9 424.5,131.3 424.8,127.3 425.1,122.9 425.4,118.4" fill="#a3ca73" stroke="#31501a" stroke-width="0.9" stroke-linejoin="round"/>
<polygon points="432.4,129.9 432.0,133.8 431.7,137.6 431.5,141.4 423.7,143.6 423.9,139.6 424.2,135.5 424.5,131.3" fill="#a2c96f" stroke="#31501a" stroke-width="0.9" stroke-linejoin="round"/>
<polygon points="431.5,141.4 431.3,144.5 431.2,147.5 431.0,150.6 423.4,153.5 423.5,150.2 423.6,146.9 423.7,143.6" fill="#a1c96c" stroke="#31501a" stroke-width="0.9" stroke-linejoin="round"/>
<polygon points="431.0,150.6 430.9,154.3 430.9,157.9 430.8,161.4 423.3,164.9 423.3,161.2 423.3,157.4 423.4,153.5" fill="#a0c96a" stroke="#31501a" stroke-width="0.9" stroke-linejoin="round"/>
<polygon points="430.8,161.4 430.7,164.8 430.5,168.1 430.4,171.2 423.0,174.9 423.1,171.9 423.2,168.5 423.3,164.9" fill="#a0c969" stroke="#31501a" stroke-width="0.9" stroke-linejoin="round"/>
<polygon points="430.4,171.2 430.2,174.8 429.9,178.3 429.7,181.7 422.6,185.0 422.8,181.8 422.9,178.5 423.0,174.9" fill="#a3ca6d" stroke="#31501a" stroke-width="0.9" stroke-linejoin="round"/>
<polygon points="429.7,181.7 429.4,184.6 429.1,187.6 428.8,190.7 422.0,193.6 422.2,190.6 422.4,187.7 422.6,185.0" fill="#a5cb71" stroke="#31501a" stroke-width="0.9" stroke-linejoin="round"/>
<polygon points="428.8,190.7 428.5,193.0 428.2,195.2 427.9,197.4 421.3,200.1 421.6,198.0 421.8,195.8 422.0,193.6" fill="#a7cd74" stroke="#31501a" stroke-width="0.9" stroke-linejoin="round"/>
<polygon points="427.9,197.4 427.5,200.1 427.0,202.7 426.6,205.2 420.4,207.2 420.7,205.0 421.0,202.7 421.3,200.1" fill="#a9cd77" stroke="#31501a" stroke-width="0.9" stroke-linejoin="round"/>
<polygon points="426.6,205.2 426.1,207.7 425.6,210.2 425.0,212.7 419.2,213.6 419.6,211.6 420.0,209.5 420.4,207.2" fill="#aace7a" stroke="#31501a" stroke-width="0.9" stroke-linejoin="round"/>
<polygon points="425.0,212.7 424.5,215.1 423.9,217.5 423.3,219.8 417.8,219.2 418.3,217.4 418.7,215.6 419.2,213.6" fill="#accf7d" stroke="#31501a" stroke-width="0.9" stroke-linejoin="round"/>
<polygon points="423.3,219.8 422.6,222.2 421.9,224.6 421.2,227.0 416.0,224.7 416.7,222.8 417.2,221.0 417.8,219.2" fill="#aed080" stroke="#31501a" stroke-width="0.9" stroke-linejoin="round"/>
<polygon points="421.2,227.0 420.3,229.3 419.4,231.7 418.3,233.9 413.5,230.4 414.5,228.5 415.3,226.6 416.0,224.7" fill="#afd182" stroke="#31501a" stroke-width="0.9" stroke-linejoin="round"/>
<polygon points="418.3,233.9 417.0,236.2 415.7,238.3 414.3,240.3 410.2,235.1 411.4,233.7 412.5,232.2 413.5,230.4" fill="#b1d285" stroke="#31501a" stroke-width="0.9" stroke-linejoin="round"/>
<polygon points="428.0,89.9 427.8,92.7 427.5,95.5 427.2,98.3 421.7,97.8 421.9,95.0 422.2,92.3 422.5,89.5" fill="#a5ca7b" stroke="#31501a" stroke-width="0.9" stroke-linejoin="round"/>
<polygon points="427.2,98.3 426.9,102.0 426.5,105.9 426.1,110.0 420.5,109.7 420.9,105.5 421.3,101.6 421.7,97.8" fill="#a5ca78" stroke="#31501a" stroke-width="0.9" stroke-linejoin="round"/>
<polygon points="426.1,110.0 425.8,114.4 425.4,119.5 425.0,124.8 419.5,125.4 419.8,119.7 420.2,114.3 420.5,109.7" fill="#a3ca75" stroke="#31501a" stroke-width="0.9" stroke-linejoin="round"/>
<polygon points="425.0,124.8 424.6,129.3 424.3,133.5 424.1,137.5 418.7,138.8 418.9,134.6 419.2,130.2 419.5,125.4" fill="#a2c971" stroke="#31501a" stroke-width="0.9" stroke-linejoin="round"/>
<polygon points="424.1,137.5 423.8,141.6 423.6,145.7 423.5,149.7 418.2,151.5 418.3,147.3 418.5,143.1 418.7,138.8" fill="#a1c96d" stroke="#31501a" stroke-width="0.9" stroke-linejoin="round"/>
<polygon points="423.5,149.7 423.4,153.8 423.3,157.9 423.3,162.0 418.1,164.3 418.1,160.1 418.1,155.8 418.2,151.5" fill="#a0c96a" stroke="#31501a" stroke-width="0.9" stroke-linejoin="round"/>
<polygon points="423.3,162.0 423.2,165.4 423.2,168.7 423.1,171.8 418.0,174.4 418.0,171.2 418.1,167.8 418.1,164.3" fill="#a0c969" stroke="#31501a" stroke-width="0.9" stroke-linejoin="round"/>
<polygon points="423.1,171.8 423.0,175.1 422.9,178.1 422.8,180.9 417.8,183.3 417.9,180.6 418.0,177.7 418.0,174.4" fill="#a3ca6d" stroke="#31501a" stroke-width="0.9" stroke-linejoin="round"/>
<polygon points="422.8,180.9 422.7,183.8 422.5,186.6 422.3,189.5 417.5,191.6 417.6,188.8 417.7,186.1 417.8,183.3" fill="#a5cb70" stroke="#31501a" stroke-width="0.9" stroke-linejoin="round"/>
<polygon points="422.3,189.5 422.1,192.3 421.9,195.1 421.6,197.9 417.0,199.9 417.2,197.1 417.4,194.3 417.5,191.6" fill="#a7cc74" stroke="#31501a" stroke-width="0.9" stroke-linejoin="round"/>
<polygon points="421.6,197.9 421.3,200.2 421.1,202.3 420.8,204.3 416.4,206.0 416.6,204.1 416.8,202.1 417.0,199.9" fill="#a9cd77" stroke="#31501a" stroke-width="0.9" stroke-linejoin="round"/>
<polygon points="420.8,204.3 420.4,207.1 420.0,209.7 419.5,212.1 415.4,213.0 415.8,210.9 416.1,208.5 416.4,206.0" fill="#aace7a" stroke="#31501a" stroke-width="0.9" stroke-linejoin="round"/>
<polygon points="419.5,212.1 419.1,214.2 418.6,216.0 418.2,217.8 414.3,217.7 414.7,216.3 415.1,214.7 415.4,213.0" fill="#accf7d" stroke="#31501a" stroke-width="0.9" stroke-linejoin="round"/>
<polygon points="418.2,217.8 417.7,219.6 417.1,221.4 416.6,223.1 412.9,221.9 413.4,220.5 413.9,219.1 414.3,217.7" fill="#add07f" stroke="#31501a" stroke-width="0.9" stroke-linejoin="round"/>
<polygon points="416.6,223.1 416.0,224.7 415.4,226.4 414.6,228.2 411.2,226.1 411.9,224.6 412.5,223.1 412.9,221.9" fill="#aed081" stroke="#31501a" stroke-width="0.9" stroke-linejoin="round"/>
<polygon points="414.6,228.2 413.2,231.0 411.8,233.2 410.2,235.1 407.4,231.6 408.7,230.2 410.0,228.5 411.2,226.1" fill="#afd183" stroke="#31501a" stroke-width="0.9" stroke-linejoin="round"/>
<circle cx="449.1" cy="101.4" r="1.15" fill="#c6e88a"/>
<circle cx="448.4" cy="110.4" r="1.15" fill="#c6e88a"/>
<circle cx="446.9" cy="120.8" r="1.15" fill="#c6e88a"/>
<circle cx="445.5" cy="131.0" r="1.15" fill="#c6e88a"/>
<circle cx="444.6" cy="140.7" r="1.15" fill="#c6e88a"/>
<circle cx="444.0" cy="150.0" r="1.15" fill="#c6e88a"/>
<circle cx="443.5" cy="159.7" r="1.15" fill="#c6e88a"/>
<circle cx="442.6" cy="170.0" r="1.15" fill="#c6e88a"/>
<circle cx="441.5" cy="179.4" r="1.15" fill="#c6e88a"/>
<circle cx="440.1" cy="188.3" r="1.15" fill="#c6e88a"/>
<circle cx="438.4" cy="196.7" r="1.15" fill="#c6e88a"/>
<circle cx="436.4" cy="205.8" r="1.15" fill="#c6e88a"/>
<circle cx="434.0" cy="216.0" r="1.15" fill="#c6e88a"/>
<circle cx="431.4" cy="226.0" r="1.15" fill="#c6e88a"/>
<circle cx="428.4" cy="235.4" r="1.15" fill="#c6e88a"/>
<circle cx="424.0" cy="244.4" r="1.15" fill="#c6e88a"/>
<circle cx="440.4" cy="94.9" r="1.15" fill="#c6e88a"/>
<circle cx="439.6" cy="105.0" r="1.15" fill="#c6e88a"/>
<circle cx="438.3" cy="117.3" r="1.15" fill="#c6e88a"/>
<circle cx="437.1" cy="128.4" r="1.15" fill="#c6e88a"/>
<circle cx="436.1" cy="139.0" r="1.15" fill="#c6e88a"/>
<circle cx="435.5" cy="149.5" r="1.15" fill="#c6e88a"/>
<circle cx="435.2" cy="159.1" r="1.15" fill="#c6e88a"/>
<circle cx="434.7" cy="168.9" r="1.15" fill="#c6e88a"/>
<circle cx="433.9" cy="179.2" r="1.15" fill="#c6e88a"/>
<circle cx="432.9" cy="188.2" r="1.15" fill="#c6e88a"/>
<circle cx="431.7" cy="196.2" r="1.15" fill="#c6e88a"/>
<circle cx="430.1" cy="204.6" r="1.15" fill="#c6e88a"/>
<circle cx="428.2" cy="213.3" r="1.15" fill="#c6e88a"/>
<circle cx="426.3" cy="221.0" r="1.15" fill="#c6e88a"/>
<circle cx="424.2" cy="228.1" r="1.15" fill="#c6e88a"/>
<circle cx="419.9" cy="237.8" r="1.15" fill="#c6e88a"/>
<circle cx="431.4" cy="97.2" r="1.15" fill="#c6e88a"/>
<circle cx="430.1" cy="111.0" r="1.15" fill="#c6e88a"/>
<circle cx="428.9" cy="124.6" r="1.15" fill="#c6e88a"/>
<circle cx="428.0" cy="136.6" r="1.15" fill="#c6e88a"/>
<circle cx="427.4" cy="147.3" r="1.15" fill="#c6e88a"/>
<circle cx="427.1" cy="157.7" r="1.15" fill="#c6e88a"/>
<circle cx="426.9" cy="168.2" r="1.15" fill="#c6e88a"/>
<circle cx="426.4" cy="178.3" r="1.15" fill="#c6e88a"/>
<circle cx="425.8" cy="187.7" r="1.15" fill="#c6e88a"/>
<circle cx="425.0" cy="195.5" r="1.15" fill="#c6e88a"/>
<circle cx="424.0" cy="202.6" r="1.15" fill="#c6e88a"/>
<circle cx="422.8" cy="209.7" r="1.15" fill="#c6e88a"/>
<circle cx="421.3" cy="216.4" r="1.15" fill="#c6e88a"/>
<circle cx="419.6" cy="222.7" r="1.15" fill="#c6e88a"/>
<circle cx="417.3" cy="229.0" r="1.15" fill="#c6e88a"/>
<circle cx="414.1" cy="235.0" r="1.15" fill="#c6e88a"/>
<circle cx="424.8" cy="93.9" r="1.15" fill="#c6e88a"/>
<circle cx="423.9" cy="103.8" r="1.15" fill="#c6e88a"/>
<circle cx="422.8" cy="117.2" r="1.15" fill="#c6e88a"/>
<circle cx="421.8" cy="131.8" r="1.15" fill="#c6e88a"/>
<circle cx="421.1" cy="144.4" r="1.15" fill="#c6e88a"/>
<circle cx="420.7" cy="156.9" r="1.15" fill="#c6e88a"/>
<circle cx="420.6" cy="168.2" r="1.15" fill="#c6e88a"/>
<circle cx="420.4" cy="177.7" r="1.15" fill="#c6e88a"/>
<circle cx="420.1" cy="186.3" r="1.15" fill="#c6e88a"/>
<circle cx="419.6" cy="194.7" r="1.15" fill="#c6e88a"/>
<circle cx="418.9" cy="202.1" r="1.15" fill="#c6e88a"/>
<circle cx="418.0" cy="209.0" r="1.15" fill="#c6e88a"/>
<circle cx="416.9" cy="215.2" r="1.15" fill="#c6e88a"/>
<circle cx="415.5" cy="220.1" r="1.15" fill="#c6e88a"/>
<circle cx="413.9" cy="224.8" r="1.15" fill="#c6e88a"/>
<circle cx="410.9" cy="230.5" r="1.15" fill="#c6e88a"/>
<polygon points="378.5,91.0 378.1,95.7 377.7,100.3 377.4,105.0 381.0,104.9 381.3,100.1 381.5,95.3 381.8,90.5" fill="#5f8239" stroke="#31501a" stroke-width="0.9" stroke-linejoin="round"/>
<polygon points="377.4,105.0 377.0,109.5 376.7,114.1 376.5,118.7 380.5,118.8 380.6,114.1 380.8,109.5 381.0,104.9" fill="#5f8239" stroke="#31501a" stroke-width="0.9" stroke-linejoin="round"/>
<polygon points="376.5,118.7 376.3,123.2 376.1,127.7 375.9,132.2 380.2,132.2 380.3,127.7 380.4,123.2 380.5,118.8" fill="#5f8239" stroke="#31501a" stroke-width="0.9" stroke-linejoin="round"/>
<polygon points="375.9,132.2 375.8,136.5 375.7,140.8 375.6,145.1 379.9,145.1 380.0,140.8 380.1,136.5 380.2,132.2" fill="#5f8239" stroke="#31501a" stroke-width="0.9" stroke-linejoin="round"/>
<polygon points="375.6,145.1 375.6,149.2 375.5,153.3 375.5,157.5 379.8,157.5 379.8,153.3 379.9,149.2 379.9,145.1" fill="#5f8239" stroke="#31501a" stroke-width="0.9" stroke-linejoin="round"/>
<polygon points="375.5,157.5 375.5,161.4 375.4,165.4 375.4,169.4 379.8,169.4 379.8,165.4 379.8,161.4 379.8,157.5" fill="#5f8239" stroke="#31501a" stroke-width="0.9" stroke-linejoin="round"/>
<polygon points="375.4,169.4 375.4,173.1 375.5,176.9 375.5,180.7 379.8,180.7 379.8,176.9 379.8,173.1 379.8,169.4" fill="#5f8239" stroke="#31501a" stroke-width="0.9" stroke-linejoin="round"/>
<polygon points="375.5,180.7 375.6,184.4 375.7,188.0 376.0,191.6 380.0,191.6 379.9,188.0 379.8,184.4 379.8,180.7" fill="#5f8239" stroke="#31501a" stroke-width="0.9" stroke-linejoin="round"/>
<polygon points="376.0,191.6 376.2,195.1 376.6,198.5 376.9,201.9 380.6,202.0 380.3,198.5 380.1,195.1 380.0,191.6" fill="#5f8239" stroke="#31501a" stroke-width="0.9" stroke-linejoin="round"/>
<polygon points="376.9,201.9 377.3,205.3 377.8,208.8 378.3,212.5 381.6,211.8 381.2,208.5 380.8,205.3 380.6,202.0" fill="#5f8239" stroke="#31501a" stroke-width="0.9" stroke-linejoin="round"/>
<polygon points="378.3,212.5 379.0,216.0 379.8,219.4 380.8,222.8 383.9,220.8 383.0,217.9 382.2,214.9 381.6,211.8" fill="#5f8239" stroke="#31501a" stroke-width="0.9" stroke-linejoin="round"/>
<polygon points="380.8,222.8 381.7,226.0 382.9,229.2 384.5,232.5 389.0,228.0 386.9,226.0 385.2,223.5 383.9,220.8" fill="#5f8239" stroke="#31501a" stroke-width="0.9" stroke-linejoin="round"/>
<circle cx="379.7" cy="97.8" r="0.8" fill="#a9cf7c"/>
<circle cx="378.8" cy="111.8" r="0.8" fill="#a9cf7c"/>
<circle cx="378.3" cy="125.5" r="0.8" fill="#a9cf7c"/>
<circle cx="377.9" cy="138.6" r="0.8" fill="#a9cf7c"/>
<circle cx="377.7" cy="151.3" r="0.8" fill="#a9cf7c"/>
<circle cx="377.6" cy="163.4" r="0.8" fill="#a9cf7c"/>
<circle cx="377.6" cy="175.0" r="0.8" fill="#a9cf7c"/>
<circle cx="377.8" cy="186.2" r="0.8" fill="#a9cf7c"/>
<circle cx="378.3" cy="196.8" r="0.8" fill="#a9cf7c"/>
<circle cx="379.3" cy="207.0" r="0.8" fill="#a9cf7c"/>
<circle cx="381.1" cy="217.0" r="0.8" fill="#a9cf7c"/>
<circle cx="384.4" cy="226.1" r="0.8" fill="#a9cf7c"/>
<polygon points="422.5,89.5 421.9,95.8 421.2,102.0 420.6,108.3 414.0,108.3 414.2,102.0 414.4,95.8 414.6,89.5" fill="#4f7030" stroke="#31501a" stroke-width="0.9" stroke-linejoin="round"/>
<polygon points="420.6,108.3 420.3,112.9 420.0,117.5 419.7,122.1 413.7,122.1 413.8,117.5 413.9,112.9 414.0,108.3" fill="#4f7030" stroke="#31501a" stroke-width="0.9" stroke-linejoin="round"/>
<polygon points="419.7,122.1 419.4,126.5 419.1,131.0 418.9,135.4 413.5,135.4 413.6,131.0 413.7,126.5 413.7,122.1" fill="#5f8239" stroke="#31501a" stroke-width="0.9" stroke-linejoin="round"/>
<polygon points="418.9,135.4 418.6,139.7 418.4,144.0 418.3,148.2 413.3,148.2 413.4,144.0 413.4,139.7 413.5,135.4" fill="#5f8239" stroke="#31501a" stroke-width="0.9" stroke-linejoin="round"/>
<polygon points="418.3,148.2 418.1,152.4 418.1,156.5 418.1,160.6 413.3,160.6 413.3,156.5 413.3,152.4 413.3,148.2" fill="#5f8239" stroke="#31501a" stroke-width="0.9" stroke-linejoin="round"/>
<polygon points="418.1,160.6 418.1,164.5 418.1,168.4 418.0,172.4 413.2,172.4 413.3,168.4 413.3,164.5 413.3,160.6" fill="#5f8239" stroke="#31501a" stroke-width="0.9" stroke-linejoin="round"/>
<polygon points="418.0,172.4 418.0,176.1 417.9,179.9 417.8,183.7 413.0,183.7 413.1,179.9 413.2,176.1 413.2,172.4" fill="#5f8239" stroke="#31501a" stroke-width="0.9" stroke-linejoin="round"/>
<polygon points="417.8,183.7 417.7,187.3 417.6,190.9 417.4,194.4 412.5,194.5 412.7,190.9 412.8,187.3 413.0,183.7" fill="#5f8239" stroke="#31501a" stroke-width="0.9" stroke-linejoin="round"/>
<polygon points="417.4,194.4 417.1,197.8 416.9,201.2 416.5,204.7 411.6,204.7 411.9,201.3 412.2,197.9 412.5,194.5" fill="#5f8239" stroke="#31501a" stroke-width="0.9" stroke-linejoin="round"/>
<polygon points="416.5,204.7 416.1,208.2 415.6,211.8 414.9,215.4 410.3,214.4 410.8,211.2 411.3,208.0 411.6,204.7" fill="#5f8239" stroke="#31501a" stroke-width="0.9" stroke-linejoin="round"/>
<polygon points="414.9,215.4 414.0,218.6 412.9,221.8 411.6,225.4 408.0,223.3 409.1,220.5 409.8,217.5 410.3,214.4" fill="#5f8239" stroke="#31501a" stroke-width="0.9" stroke-linejoin="round"/>
<polygon points="411.6,225.4 410.4,227.9 409.0,229.9 407.4,231.6 404.0,228.0 405.5,226.6 406.8,225.0 408.0,223.3" fill="#5f8239" stroke="#31501a" stroke-width="0.9" stroke-linejoin="round"/>
<circle cx="417.9" cy="98.9" r="0.8" fill="#a9cf7c"/>
<circle cx="417.0" cy="115.2" r="0.8" fill="#a9cf7c"/>
<circle cx="416.4" cy="128.8" r="0.8" fill="#a9cf7c"/>
<circle cx="416.0" cy="141.8" r="0.8" fill="#a9cf7c"/>
<circle cx="415.7" cy="154.4" r="0.8" fill="#a9cf7c"/>
<circle cx="415.7" cy="166.5" r="0.8" fill="#a9cf7c"/>
<circle cx="415.5" cy="178.0" r="0.8" fill="#a9cf7c"/>
<circle cx="415.2" cy="189.1" r="0.8" fill="#a9cf7c"/>
<circle cx="414.5" cy="199.6" r="0.8" fill="#a9cf7c"/>
<circle cx="413.4" cy="209.8" r="0.8" fill="#a9cf7c"/>
<circle cx="411.3" cy="219.6" r="0.8" fill="#a9cf7c"/>
<circle cx="407.8" cy="227.2" r="0.8" fill="#a9cf7c"/>
<polygon points="388.0,227.5 389.1,227.6 390.1,227.8 391.2,227.9 390.5,229.5 389.8,231.2 389.1,232.8 387.6,232.7 386.0,232.6 384.5,232.5 385.7,230.8 386.8,229.2" fill="#86b45a" stroke="#31501a" stroke-width="0.8" stroke-linejoin="round"/>
<polygon points="391.2,227.9 392.3,228.0 393.3,228.1 394.4,228.2 394.2,229.8 393.9,231.4 393.7,233.0 392.2,233.0 390.6,232.9 389.1,232.8 389.8,231.2 390.5,229.5" fill="#86b45a" stroke="#31501a" stroke-width="0.8" stroke-linejoin="round"/>
<polygon points="394.4,228.2 395.5,228.3 396.5,228.3 397.6,228.2 397.8,229.8 398.1,231.3 398.3,232.8 396.8,233.0 395.2,233.0 393.7,233.0 393.9,231.4 394.2,229.8" fill="#86b45a" stroke="#31501a" stroke-width="0.8" stroke-linejoin="round"/>
<polygon points="397.6,228.2 398.7,228.1 399.7,228.0 400.8,227.9 401.5,229.4 402.2,230.8 402.8,232.3 401.3,232.5 399.8,232.7 398.3,232.8 398.1,231.3 397.8,229.8" fill="#86b45a" stroke="#31501a" stroke-width="0.8" stroke-linejoin="round"/>
<polygon points="400.8,227.9 401.9,227.8 402.9,227.6 404.0,227.5 405.1,228.9 406.3,230.2 407.4,231.6 405.9,231.8 404.4,232.0 402.8,232.3 402.2,230.8 401.5,229.4" fill="#86b45a" stroke="#31501a" stroke-width="0.8" stroke-linejoin="round"/>
<clipPath id="yc302_0"><path d="M381.8,88.0 L381.8,89.1 L381.7,90.4 L381.6,92.0 L381.5,93.8 L381.4,95.7 L381.3,97.8 L381.2,99.9 L381.1,102.0 L381.0,104.1 L381.0,106.2 L380.9,108.2 L380.8,110.0 L380.7,111.7 L380.7,113.4 L380.6,115.0 L380.6,116.6 L380.5,118.2 L380.5,119.8 L380.4,121.4 L380.4,123.0 L380.3,124.7 L380.3,126.4 L380.2,128.2 L380.2,130.0 L380.2,131.9 L380.1,133.9 L380.1,135.9 L380.0,138.0 L380.0,140.1 L380.0,142.2 L379.9,144.3 L379.9,146.5 L379.9,148.6 L379.8,150.8 L379.8,152.9 L379.8,155.0 L379.8,157.1 L379.8,159.3 L379.8,161.6 L379.8,163.8 L379.8,166.1 L379.8,168.3 L379.8,170.5 L379.8,172.6 L379.8,174.7 L379.8,176.6 L379.8,178.4 L379.8,180.0 L379.8,181.5 L379.8,182.7 L379.8,183.9 L379.8,184.9 L379.8,185.9 L379.9,186.8 L379.9,187.6 L379.9,188.4 L379.9,189.2 L379.9,190.1 L380.0,191.0 L380.0,192.0 L380.0,193.1 L380.1,194.2 L380.1,195.3 L380.2,196.4 L380.3,197.5 L380.3,198.7 L380.4,199.8 L380.5,200.9 L380.6,202.0 L380.6,203.1 L380.7,204.1 L380.8,205.0 L380.9,205.9 L381.0,206.7 L381.0,207.6 L381.1,208.4 L381.2,209.1 L381.3,209.8 L381.4,210.6 L381.5,211.3 L381.6,211.9 L381.7,212.6 L381.9,213.3 L382.0,214.0 L382.2,214.7 L382.4,215.4 L382.6,216.2 L382.8,216.9 L383.1,217.6 L383.3,218.3 L383.6,219.0 L383.8,219.6 L384.0,220.2 L384.2,220.7 L384.4,221.1 L384.5,221.5 Q384.5,227.8 390.5,227.8 L402.8,227.8 Q408.8,227.8 408.8,221.5 L408.8,221.5 L408.9,221.1 L409.0,220.7 L409.1,220.2 L409.2,219.6 L409.4,219.0 L409.5,218.3 L409.7,217.6 L409.8,216.9 L410.0,216.2 L410.1,215.4 L410.3,214.7 L410.4,214.0 L410.5,213.3 L410.6,212.6 L410.7,211.9 L410.8,211.3 L410.9,210.6 L411.0,209.8 L411.1,209.1 L411.2,208.4 L411.3,207.6 L411.4,206.7 L411.5,205.9 L411.6,205.0 L411.7,204.1 L411.8,203.1 L411.9,202.1 L412.0,201.1 L412.1,200.1 L412.1,199.0 L412.2,197.9 L412.3,196.8 L412.4,195.6 L412.5,194.4 L412.5,193.2 L412.6,192.0 L412.7,190.7 L412.7,189.5 L412.8,188.2 L412.8,186.9 L412.9,185.6 L413.0,184.2 L413.0,182.9 L413.1,181.4 L413.1,179.9 L413.1,178.3 L413.2,176.7 L413.2,175.0 L413.2,173.2 L413.2,171.2 L413.3,169.2 L413.3,167.1 L413.3,164.9 L413.3,162.7 L413.3,160.5 L413.3,158.3 L413.3,156.1 L413.3,154.0 L413.3,151.9 L413.3,150.0 L413.3,148.2 L413.3,146.4 L413.4,144.6 L413.4,143.0 L413.4,141.3 L413.4,139.7 L413.5,138.1 L413.5,136.5 L413.5,134.9 L413.5,133.3 L413.6,131.7 L413.6,130.0 L413.6,128.3 L413.7,126.7 L413.7,125.0 L413.7,123.4 L413.7,121.8 L413.8,120.1 L413.8,118.5 L413.8,116.8 L413.9,115.1 L413.9,113.4 L414.0,111.7 L414.0,110.0 L414.0,108.2 L414.1,106.2 L414.2,104.1 L414.2,102.0 L414.3,99.9 L414.3,97.8 L414.4,95.7 L414.4,93.8 L414.5,92.0 L414.5,90.4 L414.6,89.1 L414.6,88.0 Z"/></clipPath>
<g clip-path="url(#yc302_0)">
<polygon points="381.4,90.3 386.5,90.3 388.2,231.8 384.2,231.8" fill="#4a3f0c" stroke="none" stroke-width="0" stroke-linejoin="round"/>
<polygon points="382.0,91.2 385.5,90.5 385.1,103.4 381.4,103.4" fill="#f9eb45" stroke="none" stroke-width="0" stroke-linejoin="round"/>
<polygon points="381.2,104.3 385.1,103.6 384.8,113.7 381.0,113.7" fill="#f9eb45" stroke="none" stroke-width="0" stroke-linejoin="round"/>
<polygon points="381.2,114.6 384.6,114.3 384.2,130.6 380.6,130.6" fill="#f9eb45" stroke="none" stroke-width="0" stroke-linejoin="round"/>
<polygon points="380.5,131.5 384.1,132.0 384.0,142.7 380.3,142.7" fill="#f9eb45" stroke="none" stroke-width="0" stroke-linejoin="round"/>
<polygon points="380.4,143.6 384.2,143.1 384.0,160.7 380.2,160.7" fill="#f9eb45" stroke="none" stroke-width="0" stroke-linejoin="round"/>
<polygon points="380.1,161.6 383.8,162.0 383.9,170.6 380.1,170.6" fill="#f9eb45" stroke="none" stroke-width="0" stroke-linejoin="round"/>
<polygon points="379.9,171.5 384.3,171.5 384.2,181.1 380.1,181.1" fill="#f9eb45" stroke="none" stroke-width="0" stroke-linejoin="round"/>
<polygon points="380.3,182.0 383.7,182.0 383.9,191.4 380.4,191.4" fill="#f9eb45" stroke="none" stroke-width="0" stroke-linejoin="round"/>
<polygon points="380.7,192.3 384.2,191.9 385.1,209.2 381.8,209.2" fill="#f9eb45" stroke="none" stroke-width="0" stroke-linejoin="round"/>
<polygon points="381.5,210.1 385.2,210.1 386.6,217.8 383.6,217.8" fill="#f9eb45" stroke="none" stroke-width="0" stroke-linejoin="round"/>
<polygon points="383.6,218.7 386.3,219.1 387.3,229.0 384.9,229.0" fill="#f9eb45" stroke="none" stroke-width="0" stroke-linejoin="round"/>
<polygon points="385.2,229.9 387.7,230.3 387.6,231.4 385.0,231.4" fill="#f9eb45" stroke="none" stroke-width="0" stroke-linejoin="round"/>
<polygon points="385.9,89.4 391.2,89.4 391.6,231.8 387.6,231.8" fill="#4a3f0c" stroke="none" stroke-width="0" stroke-linejoin="round"/>
<polygon points="386.7,90.2 390.4,89.6 389.9,102.9 386.1,102.9" fill="#f9eb45" stroke="none" stroke-width="0" stroke-linejoin="round"/>
<polygon points="385.9,103.8 389.8,104.1 389.5,112.2 385.6,112.2" fill="#f9eb45" stroke="none" stroke-width="0" stroke-linejoin="round"/>
<polygon points="385.7,113.1 389.9,113.8 389.3,129.8 385.2,129.8" fill="#f9eb45" stroke="none" stroke-width="0" stroke-linejoin="round"/>
<polygon points="385.2,130.7 389.0,130.3 388.8,147.4 384.9,147.4" fill="#f9eb45" stroke="none" stroke-width="0" stroke-linejoin="round"/>
<polygon points="384.7,148.3 389.0,148.9 388.8,158.2 384.7,158.2" fill="#f9eb45" stroke="none" stroke-width="0" stroke-linejoin="round"/>
<polygon points="384.8,159.1 388.9,159.5 388.8,174.7 384.8,174.7" fill="#f9eb45" stroke="none" stroke-width="0" stroke-linejoin="round"/>
<polygon points="384.9,175.6 389.1,176.0 388.9,184.5 384.9,184.5" fill="#f9eb45" stroke="none" stroke-width="0" stroke-linejoin="round"/>
<polygon points="384.8,185.4 388.5,185.8 388.8,200.2 385.3,200.2" fill="#f9eb45" stroke="none" stroke-width="0" stroke-linejoin="round"/>
<polygon points="385.5,201.1 389.3,201.0 389.4,208.6 385.9,208.6" fill="#f9eb45" stroke="none" stroke-width="0" stroke-linejoin="round"/>
<polygon points="386.1,209.5 389.4,209.1 390.2,217.5 387.3,217.5" fill="#f9eb45" stroke="none" stroke-width="0" stroke-linejoin="round"/>
<polygon points="386.9,218.4 390.4,218.8 391.1,224.6 388.2,224.6" fill="#f9eb45" stroke="none" stroke-width="0" stroke-linejoin="round"/>
<polygon points="388.5,225.5 391.3,225.7 391.1,231.4 388.4,231.4" fill="#f9eb45" stroke="none" stroke-width="0" stroke-linejoin="round"/>
<polygon points="390.7,88.0 395.6,88.0 394.8,231.8 391.0,231.8" fill="#4a3f0c" stroke="none" stroke-width="0" stroke-linejoin="round"/>
<polygon points="391.2,88.9 394.6,89.5 394.1,103.8 390.7,103.8" fill="#f9eb45" stroke="none" stroke-width="0" stroke-linejoin="round"/>
<polygon points="390.8,104.7 394.6,104.6 394.0,118.6 390.3,118.6" fill="#f9eb45" stroke="none" stroke-width="0" stroke-linejoin="round"/>
<polygon points="390.5,119.5 393.6,119.2 393.3,135.5 390.0,135.5" fill="#f9eb45" stroke="none" stroke-width="0" stroke-linejoin="round"/>
<polygon points="389.7,136.4 393.5,136.0 393.3,147.1 389.6,147.1" fill="#f9eb45" stroke="none" stroke-width="0" stroke-linejoin="round"/>
<polygon points="389.5,148.0 393.5,147.8 393.3,159.9 389.5,159.9" fill="#f9eb45" stroke="none" stroke-width="0" stroke-linejoin="round"/>
<polygon points="389.7,160.8 393.5,160.7 393.3,173.0 389.6,173.0" fill="#f9eb45" stroke="none" stroke-width="0" stroke-linejoin="round"/>
<polygon points="389.6,173.9 393.2,173.9 393.1,190.3 389.6,190.3" fill="#f9eb45" stroke="none" stroke-width="0" stroke-linejoin="round"/>
<polygon points="389.6,191.2 392.8,190.5 392.9,199.4 389.7,199.4" fill="#f9eb45" stroke="none" stroke-width="0" stroke-linejoin="round"/>
<polygon points="389.5,200.3 393.0,200.7 393.2,210.8 390.1,210.8" fill="#f9eb45" stroke="none" stroke-width="0" stroke-linejoin="round"/>
<polygon points="390.1,211.7 393.2,211.8 394.1,220.6 391.6,220.6" fill="#f9eb45" stroke="none" stroke-width="0" stroke-linejoin="round"/>
<polygon points="391.4,221.5 394.1,221.1 394.1,231.4 391.6,231.4" fill="#f9eb45" stroke="none" stroke-width="0" stroke-linejoin="round"/>
<polygon points="394.9,90.8 400.9,90.8 398.8,231.8 394.2,231.8" fill="#4a3f0c" stroke="none" stroke-width="0" stroke-linejoin="round"/>
<polygon points="395.7,91.7 400.3,92.0 399.6,108.2 395.0,108.2" fill="#f9eb45" stroke="none" stroke-width="0" stroke-linejoin="round"/>
<polygon points="394.9,109.1 399.7,109.1 399.2,125.4 394.5,125.4" fill="#f9eb45" stroke="none" stroke-width="0" stroke-linejoin="round"/>
<polygon points="394.6,126.3 399.1,126.3 398.8,139.0 394.3,139.0" fill="#f9eb45" stroke="none" stroke-width="0" stroke-linejoin="round"/>
<polygon points="394.5,139.9 399.0,140.4 398.8,152.3 394.2,152.3" fill="#f9eb45" stroke="none" stroke-width="0" stroke-linejoin="round"/>
<polygon points="393.9,153.2 398.7,153.8 398.7,169.8 393.9,169.8" fill="#f9eb45" stroke="none" stroke-width="0" stroke-linejoin="round"/>
<polygon points="393.8,170.7 398.4,170.6 398.3,186.3 393.8,186.3" fill="#f9eb45" stroke="none" stroke-width="0" stroke-linejoin="round"/>
<polygon points="393.7,187.2 398.2,187.5 398.2,196.0 393.8,196.0" fill="#f9eb45" stroke="none" stroke-width="0" stroke-linejoin="round"/>
<polygon points="394.2,196.9 398.1,197.2 398.0,207.2 394.1,207.2" fill="#f9eb45" stroke="none" stroke-width="0" stroke-linejoin="round"/>
<polygon points="393.7,208.1 398.4,208.8 398.2,217.7 394.4,217.7" fill="#f9eb45" stroke="none" stroke-width="0" stroke-linejoin="round"/>
<polygon points="394.9,218.6 397.9,218.6 398.1,225.4 395.1,225.4" fill="#f9eb45" stroke="none" stroke-width="0" stroke-linejoin="round"/>
<polygon points="395.2,226.3 397.9,226.2 398.0,231.4 395.1,231.4" fill="#f9eb45" stroke="none" stroke-width="0" stroke-linejoin="round"/>
<polygon points="400.4,87.6 405.0,87.6 401.7,231.8 398.2,231.8" fill="#4a3f0c" stroke="none" stroke-width="0" stroke-linejoin="round"/>
<polygon points="400.9,88.5 404.1,88.8 403.7,101.9 400.5,101.9" fill="#f9eb45" stroke="none" stroke-width="0" stroke-linejoin="round"/>
<polygon points="400.7,102.8 403.7,102.1 403.4,111.1 400.3,111.1" fill="#f9eb45" stroke="none" stroke-width="0" stroke-linejoin="round"/>
<polygon points="400.4,112.0 403.5,111.4 403.2,123.1 400.1,123.1" fill="#f9eb45" stroke="none" stroke-width="0" stroke-linejoin="round"/>
<polygon points="400.2,124.0 403.5,123.4 403.0,140.9 399.8,140.9" fill="#f9eb45" stroke="none" stroke-width="0" stroke-linejoin="round"/>
<polygon points="399.4,141.8 403.0,141.5 402.8,152.3 399.4,152.3" fill="#f9eb45" stroke="none" stroke-width="0" stroke-linejoin="round"/>
<polygon points="399.5,153.2 403.0,153.7 402.8,162.5 399.5,162.5" fill="#f9eb45" stroke="none" stroke-width="0" stroke-linejoin="round"/>
<polygon points="399.3,163.4 403.0,163.5 402.8,173.8 399.4,173.8" fill="#f9eb45" stroke="none" stroke-width="0" stroke-linejoin="round"/>
<polygon points="399.2,174.7 402.3,175.0 402.2,189.1 399.1,189.1" fill="#f9eb45" stroke="none" stroke-width="0" stroke-linejoin="round"/>
<polygon points="399.0,190.0 402.7,190.2 402.1,202.0 398.9,202.0" fill="#f9eb45" stroke="none" stroke-width="0" stroke-linejoin="round"/>
<polygon points="398.7,202.9 402.2,202.3 401.5,213.3 398.7,213.3" fill="#f9eb45" stroke="none" stroke-width="0" stroke-linejoin="round"/>
<polygon points="398.8,214.2 401.3,214.3 401.0,225.0 398.9,225.0" fill="#f9eb45" stroke="none" stroke-width="0" stroke-linejoin="round"/>
<polygon points="398.8,225.9 400.8,226.0 400.9,231.4 398.9,231.4" fill="#f9eb45" stroke="none" stroke-width="0" stroke-linejoin="round"/>
<polygon points="404.4,87.6 409.6,87.6 405.2,231.8 401.1,231.8" fill="#4a3f0c" stroke="none" stroke-width="0" stroke-linejoin="round"/>
<polygon points="404.8,88.5 408.6,88.0 408.4,100.3 404.6,100.3" fill="#f9eb45" stroke="none" stroke-width="0" stroke-linejoin="round"/>
<polygon points="404.5,101.2 408.7,100.9 408.3,112.1 404.2,112.1" fill="#f9eb45" stroke="none" stroke-width="0" stroke-linejoin="round"/>
<polygon points="404.1,113.0 408.1,112.3 407.8,125.6 403.8,125.6" fill="#f9eb45" stroke="none" stroke-width="0" stroke-linejoin="round"/>
<polygon points="403.6,126.5 408.1,126.6 407.8,136.9 403.6,136.9" fill="#f9eb45" stroke="none" stroke-width="0" stroke-linejoin="round"/>
<polygon points="403.7,137.8 408.0,137.2 407.7,147.6 403.6,147.6" fill="#f9eb45" stroke="none" stroke-width="0" stroke-linejoin="round"/>
<polygon points="403.5,148.5 407.5,149.0 407.5,164.0 403.5,164.0" fill="#f9eb45" stroke="none" stroke-width="0" stroke-linejoin="round"/>
<polygon points="403.5,164.9 407.6,165.5 407.5,176.5 403.5,176.5" fill="#f9eb45" stroke="none" stroke-width="0" stroke-linejoin="round"/>
<polygon points="403.7,177.4 407.5,177.6 407.1,188.6 403.3,188.6" fill="#f9eb45" stroke="none" stroke-width="0" stroke-linejoin="round"/>
<polygon points="403.1,189.5 406.7,189.0 406.3,201.2 402.7,201.2" fill="#f9eb45" stroke="none" stroke-width="0" stroke-linejoin="round"/>
<polygon points="403.0,202.1 406.3,201.6 405.9,208.0 402.6,208.0" fill="#f9eb45" stroke="none" stroke-width="0" stroke-linejoin="round"/>
<polygon points="402.8,208.9 406.2,209.1 405.4,214.8 402.3,214.8" fill="#f9eb45" stroke="none" stroke-width="0" stroke-linejoin="round"/>
<polygon points="402.0,215.7 405.1,215.6 404.4,222.9 401.8,222.9" fill="#f9eb45" stroke="none" stroke-width="0" stroke-linejoin="round"/>
<polygon points="401.8,223.8 404.3,224.4 404.4,230.2 401.8,230.2" fill="#f9eb45" stroke="none" stroke-width="0" stroke-linejoin="round"/>
<polygon points="408.9,94.0 414.7,94.0 409.1,231.8 404.6,231.8" fill="#4a3f0c" stroke="none" stroke-width="0" stroke-linejoin="round"/>
<polygon points="409.4,94.9 414.3,94.6 413.7,109.8 409.0,109.8" fill="#f9eb45" stroke="none" stroke-width="0" stroke-linejoin="round"/>
<polygon points="408.8,110.7 413.5,110.6 413.3,122.0 408.6,122.0" fill="#f9eb45" stroke="none" stroke-width="0" stroke-linejoin="round"/>
<polygon points="408.6,122.9 413.3,122.2 413.1,135.5 408.4,135.5" fill="#f9eb45" stroke="none" stroke-width="0" stroke-linejoin="round"/>
<polygon points="408.3,136.4 413.0,135.8 412.9,146.9 408.2,146.9" fill="#f9eb45" stroke="none" stroke-width="0" stroke-linejoin="round"/>
<polygon points="408.2,147.8 412.7,147.9 412.8,156.1 408.3,156.1" fill="#f9eb45" stroke="none" stroke-width="0" stroke-linejoin="round"/>
<polygon points="408.5,157.0 413.0,157.3 412.9,169.9 408.4,169.9" fill="#f9eb45" stroke="none" stroke-width="0" stroke-linejoin="round"/>
<polygon points="408.2,170.8 412.7,171.4 412.4,186.8 407.9,186.8" fill="#f9eb45" stroke="none" stroke-width="0" stroke-linejoin="round"/>
<polygon points="408.1,187.7 412.5,187.0 411.9,197.1 407.6,197.1" fill="#f9eb45" stroke="none" stroke-width="0" stroke-linejoin="round"/>
<polygon points="407.8,198.0 411.9,198.3 410.8,208.7 406.9,208.7" fill="#f9eb45" stroke="none" stroke-width="0" stroke-linejoin="round"/>
<polygon points="406.5,209.6 410.7,209.6 408.6,220.1 405.3,220.1" fill="#f9eb45" stroke="none" stroke-width="0" stroke-linejoin="round"/>
<polygon points="405.6,221.0 408.8,221.1 408.5,231.4 405.4,231.4" fill="#f9eb45" stroke="none" stroke-width="0" stroke-linejoin="round"/>
</g>
<rect x="414.5" y="129" width="30.5" height="27" fill="#3f5b22"/>
<rect x="416.0" y="130.4" width="2.6" height="2.4" rx="0.6" fill="#b7cf86"/>
<rect x="416.7" y="134.6" width="2.6" height="2.4" rx="0.6" fill="#b7cf86"/>
<rect x="415.3" y="139.0" width="2.6" height="2.4" rx="0.6" fill="#b7cf86"/>
<rect x="416.4" y="143.5" width="2.6" height="2.4" rx="0.6" fill="#b7cf86"/>
<rect x="416.0" y="148.3" width="2.6" height="2.4" rx="0.6" fill="#b7cf86"/>
<rect x="416.6" y="152.9" width="2.6" height="2.4" rx="0.6" fill="#b7cf86"/>
<rect x="420.2" y="130.3" width="2.6" height="2.4" rx="0.6" fill="#b7cf86"/>
<rect x="420.5" y="135.0" width="2.6" height="2.4" rx="0.6" fill="#b7cf86"/>
<rect x="420.3" y="139.3" width="2.6" height="2.4" rx="0.6" fill="#b7cf86"/>
<rect x="420.9" y="143.9" width="2.6" height="2.4" rx="0.6" fill="#b7cf86"/>
<rect x="419.8" y="148.5" width="2.6" height="2.4" rx="0.6" fill="#b7cf86"/>
<rect x="420.7" y="152.5" width="2.6" height="2.4" rx="0.6" fill="#b7cf86"/>
<rect x="424.3" y="130.5" width="2.6" height="2.4" rx="0.6" fill="#b7cf86"/>
<rect x="425.1" y="135.0" width="2.6" height="2.4" rx="0.6" fill="#b7cf86"/>
<rect x="424.9" y="139.3" width="2.6" height="2.4" rx="0.6" fill="#b7cf86"/>
<rect x="425.2" y="143.8" width="2.6" height="2.4" rx="0.6" fill="#b7cf86"/>
<rect x="424.6" y="148.5" width="2.6" height="2.4" rx="0.6" fill="#b7cf86"/>
<rect x="425.4" y="152.9" width="2.6" height="2.4" rx="0.6" fill="#b7cf86"/>
<rect x="428.6" y="130.0" width="2.6" height="2.4" rx="0.6" fill="#b7cf86"/>
<rect x="429.5" y="135.0" width="2.6" height="2.4" rx="0.6" fill="#b7cf86"/>
<rect x="428.7" y="139.4" width="2.6" height="2.4" rx="0.6" fill="#b7cf86"/>
<rect x="429.3" y="143.4" width="2.6" height="2.4" rx="0.6" fill="#b7cf86"/>
<rect x="428.7" y="148.4" width="2.6" height="2.4" rx="0.6" fill="#b7cf86"/>
<rect x="429.9" y="152.9" width="2.6" height="2.4" rx="0.6" fill="#b7cf86"/>
<rect x="433.1" y="130.3" width="2.6" height="2.4" rx="0.6" fill="#b7cf86"/>
<rect x="434.1" y="134.8" width="2.6" height="2.4" rx="0.6" fill="#b7cf86"/>
<rect x="433.0" y="139.6" width="2.6" height="2.4" rx="0.6" fill="#b7cf86"/>
<rect x="433.9" y="144.2" width="2.6" height="2.4" rx="0.6" fill="#b7cf86"/>
<rect x="433.6" y="147.9" width="2.6" height="2.4" rx="0.6" fill="#b7cf86"/>
<rect x="434.1" y="153.1" width="2.6" height="2.4" rx="0.6" fill="#b7cf86"/>
<rect x="438.1" y="130.3" width="2.6" height="2.4" rx="0.6" fill="#b7cf86"/>
<rect x="438.3" y="134.6" width="2.6" height="2.4" rx="0.6" fill="#b7cf86"/>
<rect x="438.1" y="139.1" width="2.6" height="2.4" rx="0.6" fill="#b7cf86"/>
<rect x="438.6" y="143.5" width="2.6" height="2.4" rx="0.6" fill="#b7cf86"/>
<rect x="437.7" y="148.7" width="2.6" height="2.4" rx="0.6" fill="#b7cf86"/>
<rect x="438.2" y="153.1" width="2.6" height="2.4" rx="0.6" fill="#b7cf86"/>
<rect x="442.1" y="130.6" width="2.6" height="2.4" rx="0.6" fill="#b7cf86"/>
<rect x="442.1" y="148.3" width="2.6" height="2.4" rx="0.6" fill="#b7cf86"/>
<rect x="414.5" y="129" width="31.0" height="27" fill="none" stroke="#b5522e" stroke-width="0.7" stroke-dasharray="2,1"/>
<polygon points="48.5,452.9 49.7,468.9 46.7,469.1 45.5,453.1" fill="#fbfbfb" stroke="#2b2b2b" stroke-width="0.7" stroke-linejoin="round"/>
<polygon points="46.8,469.3 57.3,503.7 54.2,504.7 43.7,470.3" fill="#fbfbfb" stroke="#2b2b2b" stroke-width="0.7" stroke-linejoin="round"/>
<polygon points="51.6,489.2 59.2,509.8 56.4,510.8 48.8,490.2" fill="#fbfbfb" stroke="#2b2b2b" stroke-width="0.7" stroke-linejoin="round"/>
<polygon points="54.9,519.7 67.1,542.7 64.1,544.3 51.9,521.3" fill="#fbfbfb" stroke="#2b2b2b" stroke-width="0.7" stroke-linejoin="round"/>
<polygon points="59.7,529.4 69.4,549.1 66.3,550.6 56.6,530.9" fill="#fbfbfb" stroke="#2b2b2b" stroke-width="0.7" stroke-linejoin="round"/>
<polygon points="136.9,460.2 135.3,476.1 132.7,475.8 134.3,459.9" fill="#fbfbfb" stroke="#2b2b2b" stroke-width="0.7" stroke-linejoin="round"/>
<polygon points="137.0,480.4 133.5,500.1 131.0,499.6 134.5,479.9" fill="#fbfbfb" stroke="#2b2b2b" stroke-width="0.7" stroke-linejoin="round"/>
<polygon points="135.6,502.8 130.1,522.0 127.4,521.2 132.9,502.0" fill="#fbfbfb" stroke="#2b2b2b" stroke-width="0.7" stroke-linejoin="round"/>
<polygon points="132.7,524.1 125.9,542.9 123.3,541.9 130.1,523.1" fill="#fbfbfb" stroke="#2b2b2b" stroke-width="0.7" stroke-linejoin="round"/>
<polygon points="50.8,392.0 50.8,393.7 50.8,395.8 50.9,398.3 50.9,401.0 51.0,404.1 51.0,407.3 51.1,410.6 51.1,414.1 51.1,417.7 51.2,421.2 51.2,424.7 51.3,428.1 51.3,431.4 51.3,434.5 51.3,437.4 51.3,440.0 51.3,442.4 51.2,444.6 51.2,446.8 51.1,448.8 51.0,450.8 50.9,452.7 50.8,454.5 50.7,456.3 50.6,458.1 50.5,459.8 50.5,461.5 50.4,463.1 50.4,464.8 50.4,466.5 50.4,468.2 50.5,470.0 50.6,471.8 50.7,473.5 50.9,475.3 51.1,477.1 51.3,478.8 51.5,480.5 51.8,482.2 52.0,483.9 52.3,485.6 52.5,487.3 52.8,489.0 53.1,490.6 53.3,492.2 53.6,493.8 53.8,495.4 54.0,497.0 54.2,498.5 54.4,500.1 54.6,501.6 54.8,503.1 54.9,504.5 55.1,506.0 55.3,507.4 55.4,508.8 55.6,510.2 55.8,511.6 56.0,513.0 56.2,514.4 56.4,515.8 56.6,517.2 56.8,518.6 57.0,520.0 57.2,521.4 57.4,522.7 57.7,524.0 57.9,525.3 58.1,526.6 58.3,527.9 58.5,529.2 58.8,530.4 59.0,531.7 59.3,533.1 59.6,534.4 59.9,535.8 60.2,537.3 60.6,538.8 61.0,540.4 61.5,542.0 62.0,543.7 62.5,545.6 63.0,547.6 63.5,549.6 64.1,551.7 64.6,553.8 65.2,556.0 65.8,558.2 66.5,560.3 67.2,562.5 68.0,564.6 68.8,566.6 69.6,568.6 70.5,570.5 71.5,572.3 72.5,574.0 73.6,575.6 74.8,577.3 76.1,579.0 77.5,580.7 78.9,582.3 80.4,583.9 81.9,585.5 83.5,587.0 85.0,588.3 86.6,589.6 88.2,590.7 89.7,591.7 91.2,592.4 92.7,593.0 94.1,593.4 95.5,593.5 96.8,593.4 98.2,593.0 99.5,592.4 100.9,591.6 102.2,590.6 103.5,589.5 104.8,588.2 106.1,586.8 107.3,585.4 108.6,583.8 109.8,582.2 110.9,580.5 112.0,578.9 113.1,577.2 114.1,575.6 115.0,574.0 115.9,572.4 116.7,570.7 117.5,568.9 118.2,567.1 118.9,565.1 119.5,563.2 120.1,561.2 120.7,559.2 121.3,557.1 121.8,555.1 122.3,553.1 122.8,551.2 123.2,549.3 123.6,547.4 124.1,545.7 124.5,544.0 124.9,542.4 125.3,540.9 125.6,539.4 125.9,538.0 126.1,536.6 126.4,535.3 126.6,534.0 126.8,532.7 127.0,531.4 127.2,530.1 127.4,528.8 127.5,527.5 127.7,526.2 127.9,524.8 128.2,523.4 128.4,522.0 128.7,520.5 128.9,519.0 129.2,517.5 129.5,516.0 129.7,514.5 130.0,512.9 130.3,511.4 130.6,509.8 130.8,508.2 131.1,506.7 131.4,505.1 131.6,503.5 131.9,501.9 132.1,500.2 132.3,498.6 132.5,497.0 132.7,495.4 132.9,493.7 133.0,492.1 133.2,490.5 133.3,488.8 133.5,487.2 133.6,485.5 133.8,483.8 133.9,482.1 134.0,480.4 134.1,478.7 134.2,477.0 134.3,475.3 134.4,473.5 134.4,471.8 134.5,470.0 134.5,468.2 134.6,466.5 134.6,464.8 134.5,463.1 134.5,461.4 134.4,459.7 134.4,457.9 134.3,456.2 134.3,454.4 134.3,452.6 134.2,450.7 134.2,448.7 134.3,446.7 134.3,444.5 134.4,442.3 134.5,440.0 134.7,437.5 134.9,434.7 135.1,431.7 135.4,428.5 135.7,425.3 136.1,421.9 136.4,418.5 136.8,415.1 137.1,411.8 137.4,408.6 137.8,405.5 138.1,402.6 138.4,400.0 138.6,397.7 138.8,395.6 139.0,394.0 118.3,392.0 118.2,393.7 118.1,395.8 117.9,398.3 117.7,401.0 117.6,404.1 117.4,407.3 117.2,410.6 116.9,414.1 116.7,417.7 116.5,421.2 116.3,424.7 116.1,428.1 115.9,431.4 115.7,434.5 115.5,437.4 115.4,440.0 115.3,442.4 115.2,444.6 115.1,446.8 115.0,448.8 114.9,450.8 114.8,452.7 114.7,454.5 114.7,456.3 114.6,458.1 114.5,459.8 114.4,461.5 114.4,463.1 114.3,464.8 114.2,466.5 114.1,468.2 114.0,470.0 113.9,471.8 113.8,473.6 113.6,475.5 113.5,477.4 113.4,479.3 113.2,481.2 113.1,483.0 112.9,484.9 112.8,486.7 112.6,488.4 112.5,490.1 112.3,491.7 112.2,493.2 112.1,494.6 111.9,495.8 111.8,497.0 111.7,498.0 111.6,498.9 111.4,499.7 111.3,500.4 111.2,501.0 111.1,501.5 111.0,501.9 110.9,502.3 110.8,502.6 110.7,502.9 110.6,503.2 110.5,503.6 110.4,503.9 110.3,504.2 110.1,504.6 110.0,505.0 109.9,505.4 109.7,505.9 109.6,506.3 109.5,506.8 109.4,507.2 109.2,507.6 109.1,508.0 109.0,508.4 108.8,508.8 108.7,509.2 108.5,509.6 108.3,510.0 108.1,510.4 107.9,510.7 107.7,511.1 107.5,511.5 107.3,511.9 107.0,512.2 106.8,512.6 106.5,513.0 106.2,513.4 106.0,513.7 105.7,514.1 105.4,514.4 105.1,514.8 104.7,515.1 104.4,515.5 104.1,515.8 103.7,516.1 103.3,516.4 102.9,516.7 102.5,517.0 102.1,517.3 101.6,517.6 101.1,517.9 100.6,518.2 100.1,518.5 99.6,518.8 99.0,519.0 98.5,519.3 97.9,519.6 97.3,519.8 96.8,520.0 96.2,520.2 95.6,520.3 95.1,520.4 94.5,520.5 94.0,520.5 93.5,520.5 92.9,520.4 92.4,520.3 91.8,520.2 91.2,520.0 90.7,519.8 90.1,519.6 89.6,519.3 89.0,519.0 88.5,518.8 87.9,518.5 87.4,518.2 86.9,517.9 86.4,517.6 85.9,517.3 85.5,517.0 85.1,516.7 84.7,516.4 84.2,516.1 83.9,515.8 83.5,515.5 83.1,515.1 82.8,514.8 82.4,514.4 82.1,514.1 81.7,513.7 81.4,513.4 81.1,513.0 80.8,512.6 80.5,512.2 80.3,511.9 80.0,511.5 79.7,511.1 79.5,510.7 79.3,510.4 79.1,510.0 78.9,509.6 78.7,509.2 78.5,508.8 78.3,508.4 78.1,508.0 78.0,507.6 77.8,507.2 77.6,506.8 77.5,506.3 77.3,505.9 77.2,505.4 77.0,505.0 76.8,504.6 76.7,504.2 76.5,503.9 76.4,503.6 76.2,503.2 76.1,502.9 75.9,502.6 75.8,502.3 75.6,501.9 75.5,501.5 75.4,501.0 75.2,500.4 75.1,499.7 74.9,498.9 74.8,498.0 74.6,497.0 74.4,495.8 74.3,494.6 74.1,493.2 73.9,491.7 73.7,490.1 73.5,488.4 73.3,486.7 73.1,484.9 72.9,483.0 72.7,481.2 72.5,479.3 72.3,477.4 72.2,475.5 72.0,473.6 71.9,471.8 71.8,470.0 71.7,468.2 71.6,466.5 71.6,464.8 71.5,463.1 71.5,461.5 71.5,459.8 71.5,458.1 71.5,456.3 71.5,454.5 71.5,452.7 71.5,450.8 71.5,448.8 71.5,446.8 71.5,444.6 71.6,442.4 71.6,440.0 71.6,437.4 71.7,434.5 71.8,431.4 71.8,428.1 71.9,424.7 72.0,421.2 72.1,417.7 72.2,414.1 72.3,410.6 72.4,407.3 72.5,404.1 72.6,401.0 72.6,398.3 72.7,395.8 72.8,393.7 72.8,392.0" fill="#ffffff" stroke="#2e2e2e" stroke-width="0.85" stroke-linejoin="round"/>
<polygon points="71.5,452.7 71.5,454.5 71.5,456.3 71.5,458.1 71.5,459.8 71.5,461.5 68.4,461.5 68.7,459.8 69.0,458.1 69.3,456.3 69.7,454.5 70.0,452.7" fill="#ffffff" stroke="#2e2e2e" stroke-width="0.85" stroke-linejoin="round"/>
<polygon points="71.5,461.5 71.5,463.1 71.6,464.8 71.6,466.5 71.7,468.2 71.8,470.0 67.5,470.0 67.6,468.2 67.7,466.5 67.9,464.8 68.1,463.1 68.4,461.5" fill="#ffffff" stroke="#2e2e2e" stroke-width="0.85" stroke-linejoin="round"/>
<polygon points="71.8,470.0 71.9,471.8 72.0,473.6 72.2,475.5 72.3,477.4 72.5,479.3 67.9,479.2 67.7,477.3 67.6,475.5 67.6,473.6 67.5,471.8 67.5,470.0" fill="#ffffff" stroke="#2e2e2e" stroke-width="0.85" stroke-linejoin="round"/>
<polygon points="72.5,479.3 72.7,481.2 72.9,483.0 73.1,484.9 73.3,486.7 68.7,486.5 68.4,484.7 68.2,482.9 68.0,481.1 67.9,479.2" fill="#ffffff" stroke="#2e2e2e" stroke-width="0.85" stroke-linejoin="round"/>
<polygon points="73.3,486.7 73.5,488.4 73.7,490.1 73.9,491.7 74.1,493.2 74.3,494.6 69.9,494.4 69.6,493.0 69.4,491.5 69.1,489.9 68.9,488.2 68.7,486.5" fill="#ffffff" stroke="#2e2e2e" stroke-width="0.85" stroke-linejoin="round"/>
<polygon points="74.3,494.6 74.4,495.8 74.6,497.0 74.8,498.0 74.9,498.9 75.1,499.7 75.2,500.4 75.4,501.0 75.5,501.5 75.6,501.9 71.6,502.9 71.4,502.3 71.2,501.6 71.0,500.9 70.8,500.0 70.7,499.1 70.5,498.1 70.3,497.0 70.1,495.8 69.9,494.4" fill="#ffffff" stroke="#2e2e2e" stroke-width="0.85" stroke-linejoin="round"/>
<polygon points="75.6,501.9 75.8,502.3 75.9,502.6 76.1,502.9 76.2,503.2 76.4,503.6 76.5,503.9 76.7,504.2 76.8,504.6 77.0,505.0 77.2,505.4 77.3,505.9 77.5,506.3 77.6,506.8 77.8,507.2 78.0,507.6 78.1,508.0 75.4,510.9 75.1,510.5 74.9,510.0 74.6,509.6 74.4,509.1 74.1,508.6 73.8,508.1 73.6,507.6 73.4,507.0 73.1,506.5 72.9,506.0 72.7,505.5 72.5,505.1 72.2,504.6 72.0,504.1 71.8,503.5 71.6,502.9" fill="#ffffff" stroke="#2e2e2e" stroke-width="0.85" stroke-linejoin="round"/>
<polygon points="78.1,508.0 78.3,508.4 78.5,508.8 78.7,509.2 78.9,509.6 79.1,510.0 79.3,510.4 79.5,510.7 79.7,511.1 80.0,511.5 80.3,511.9 80.5,512.2 80.8,512.6 81.1,513.0 81.4,513.4 81.7,513.7 82.1,514.1 80.7,517.5 80.3,517.1 79.9,516.7 79.6,516.3 79.2,515.8 78.8,515.4 78.5,515.0 78.2,514.5 77.8,514.1 77.5,513.7 77.2,513.3 76.9,512.9 76.5,512.5 76.3,512.1 76.0,511.7 75.7,511.3 75.4,510.9" fill="#ffffff" stroke="#2e2e2e" stroke-width="0.85" stroke-linejoin="round"/>
<polygon points="82.1,514.1 82.4,514.4 82.8,514.8 83.1,515.1 83.5,515.5 83.9,515.8 84.2,516.1 84.7,516.4 85.1,516.7 85.5,517.0 85.9,517.3 86.4,517.6 86.9,517.9 86.2,522.0 85.6,521.7 85.1,521.3 84.6,521.0 84.1,520.7 83.6,520.3 83.2,519.9 82.7,519.6 82.3,519.2 81.9,518.8 81.5,518.4 81.1,518.0 80.7,517.5" fill="#ffffff" stroke="#2e2e2e" stroke-width="0.85" stroke-linejoin="round"/>
<polygon points="86.9,517.9 87.4,518.2 87.9,518.5 88.5,518.8 89.0,519.0 89.6,519.3 90.1,519.6 90.7,519.8 91.2,520.0 91.8,520.2 92.4,520.3 92.9,520.4 92.9,524.8 92.3,524.7 91.7,524.5 91.0,524.3 90.4,524.1 89.8,523.9 89.2,523.6 88.5,523.3 87.9,523.0 87.3,522.7 86.8,522.3 86.2,522.0" fill="#f3f1da" stroke="#2e2e2e" stroke-width="0.85" stroke-linejoin="round"/>
<polygon points="92.9,520.4 93.5,520.5 94.0,520.5 94.5,520.5 95.1,520.4 95.6,520.3 96.2,520.2 96.8,520.0 97.3,519.8 97.9,519.6 98.5,519.3 99.0,519.0 99.6,518.8 100.1,518.5 100.6,518.2 101.3,522.3 100.7,522.6 100.2,523.0 99.6,523.3 99.0,523.6 98.4,523.8 97.7,524.1 97.1,524.3 96.5,524.5 95.9,524.7 95.3,524.8 94.7,524.9 94.1,524.9 93.5,524.9 92.9,524.8" fill="#f3f1da" stroke="#2e2e2e" stroke-width="0.85" stroke-linejoin="round"/>
<polygon points="100.6,518.2 101.1,517.9 101.6,517.6 102.1,517.3 102.5,517.0 102.9,516.7 103.3,516.4 103.7,516.1 104.1,515.8 104.4,515.5 104.7,515.1 105.1,514.8 105.4,514.4 106.6,518.1 106.3,518.5 105.9,518.8 105.5,519.2 105.1,519.6 104.7,520.0 104.3,520.3 103.8,520.7 103.4,521.0 102.9,521.3 102.4,521.6 101.9,522.0 101.3,522.3" fill="#ffffff" stroke="#2e2e2e" stroke-width="0.85" stroke-linejoin="round"/>
<polygon points="105.4,514.4 105.7,514.1 106.0,513.7 106.2,513.4 106.5,513.0 106.8,512.6 107.0,512.2 107.3,511.9 107.5,511.5 107.7,511.1 107.9,510.7 108.1,510.4 108.3,510.0 108.5,509.6 110.6,512.8 110.3,513.2 110.1,513.6 109.8,513.9 109.5,514.3 109.2,514.8 108.9,515.2 108.6,515.6 108.3,516.0 108.0,516.4 107.6,516.8 107.3,517.2 107.0,517.6 106.6,518.1" fill="#ffffff" stroke="#2e2e2e" stroke-width="0.85" stroke-linejoin="round"/>
<polygon points="108.5,509.6 108.7,509.2 108.8,508.8 109.0,508.4 109.1,508.0 109.2,507.6 109.4,507.2 109.5,506.8 109.6,506.3 109.7,505.9 109.9,505.4 110.0,505.0 110.1,504.6 110.3,504.2 110.4,503.9 110.5,503.6 114.0,505.8 113.8,506.3 113.6,506.8 113.3,507.3 113.1,507.9 112.9,508.4 112.7,508.9 112.5,509.4 112.3,509.9 112.0,510.4 111.8,510.8 111.6,511.2 111.3,511.6 111.1,512.0 110.9,512.4 110.6,512.8" fill="#ffffff" stroke="#2e2e2e" stroke-width="0.85" stroke-linejoin="round"/>
<polygon points="110.5,503.6 110.6,503.2 110.7,502.9 110.8,502.6 110.9,502.3 111.0,501.9 111.1,501.5 111.2,501.0 111.3,500.4 111.4,499.7 111.6,498.9 111.7,498.0 111.8,497.0 116.1,497.0 116.0,498.1 115.8,499.2 115.7,500.1 115.5,500.9 115.3,501.7 115.1,502.4 114.9,503.1 114.8,503.7 114.6,504.3 114.4,504.8 114.2,505.3 114.0,505.8" fill="#ffffff" stroke="#2e2e2e" stroke-width="0.85" stroke-linejoin="round"/>
<polygon points="111.8,497.0 111.9,495.8 112.1,494.6 112.2,493.2 112.3,491.7 112.5,490.1 112.6,488.4 117.2,488.2 117.0,489.9 116.8,491.5 116.6,493.0 116.5,494.4 116.3,495.8 116.1,497.0" fill="#ffffff" stroke="#2e2e2e" stroke-width="0.85" stroke-linejoin="round"/>
<polygon points="112.6,488.4 112.8,486.7 112.9,484.9 113.1,483.0 113.2,481.2 113.4,479.3 117.9,479.2 117.8,481.1 117.6,482.9 117.5,484.7 117.3,486.5 117.2,488.2" fill="#ffffff" stroke="#2e2e2e" stroke-width="0.85" stroke-linejoin="round"/>
<polygon points="113.4,479.3 113.5,477.4 113.6,475.5 113.8,473.6 113.9,471.8 114.0,470.0 118.1,470.0 118.1,471.8 118.1,473.6 118.0,475.5 118.0,477.3 117.9,479.2" fill="#ffffff" stroke="#2e2e2e" stroke-width="0.85" stroke-linejoin="round"/>
<polygon points="114.0,470.0 114.1,468.2 114.2,466.5 114.3,464.8 114.4,463.1 114.4,461.5 114.5,459.8 117.2,459.8 117.4,461.5 117.6,463.1 117.8,464.8 117.9,466.5 118.0,468.2 118.1,470.0" fill="#ffffff" stroke="#2e2e2e" stroke-width="0.85" stroke-linejoin="round"/>
<polygon points="114.5,459.8 114.6,458.1 114.7,456.3 114.7,454.5 114.8,452.7 114.9,450.8 116.0,450.8 116.2,452.7 116.4,454.5 116.7,456.3 116.9,458.1 117.2,459.8" fill="#ffffff" stroke="#2e2e2e" stroke-width="0.85" stroke-linejoin="round"/>
<polygon points="72.8,392.0 72.8,393.7 72.7,395.8 72.7,398.3 72.7,401.0 72.6,404.1 60.4,404.1 60.4,401.0 60.4,398.3 60.5,395.8 60.5,393.7 60.5,392.0" fill="#ffffff" stroke="#2e2e2e" stroke-width="0.85" stroke-linejoin="round"/>
<polygon points="72.6,404.1 72.6,407.3 72.5,410.6 72.5,414.1 72.4,417.7 60.3,417.7 60.3,414.1 60.4,410.6 60.4,407.3 60.4,404.1" fill="#ffffff" stroke="#2e2e2e" stroke-width="0.85" stroke-linejoin="round"/>
<polygon points="72.4,417.7 72.3,421.2 72.2,424.7 72.1,428.1 72.0,431.4 60.2,431.4 60.3,428.1 60.3,424.7 60.3,421.2 60.3,417.7" fill="#ffffff" stroke="#2e2e2e" stroke-width="0.85" stroke-linejoin="round"/>
<polygon points="72.0,431.4 71.9,434.5 71.8,437.4 71.6,440.0 71.4,442.4 60.2,442.4 60.2,440.0 60.2,437.4 60.2,434.5 60.2,431.4" fill="#ffffff" stroke="#2e2e2e" stroke-width="0.85" stroke-linejoin="round"/>
<polygon points="71.4,442.4 71.2,444.6 70.9,446.8 70.6,448.8 70.3,450.8 70.0,452.7 60.1,452.7 60.1,450.8 60.2,448.8 60.2,446.8 60.2,444.6 60.2,442.4" fill="#ffffff" stroke="#2e2e2e" stroke-width="0.85" stroke-linejoin="round"/>
<polygon points="70.0,452.7 69.7,454.5 69.3,456.3 69.0,458.1 68.7,459.8 68.4,461.5 68.1,463.1 60.1,463.1 60.1,461.5 60.1,459.8 60.1,458.1 60.1,456.3 60.1,454.5 60.1,452.7" fill="#ffffff" stroke="#2e2e2e" stroke-width="0.85" stroke-linejoin="round"/>
<polygon points="68.1,463.1 67.9,464.8 67.7,466.5 67.6,468.2 67.5,470.0 67.5,471.8 60.7,471.8 60.5,470.0 60.4,468.2 60.3,466.5 60.2,464.8 60.1,463.1" fill="#ffffff" stroke="#2e2e2e" stroke-width="0.85" stroke-linejoin="round"/>
<polygon points="67.5,471.8 67.6,473.6 67.6,475.5 67.7,477.3 67.9,479.2 68.0,481.1 61.8,480.9 61.6,479.1 61.3,477.3 61.1,475.4 60.9,473.6 60.7,471.8" fill="#ffffff" stroke="#2e2e2e" stroke-width="0.85" stroke-linejoin="round"/>
<polygon points="68.0,481.1 68.2,482.9 68.4,484.7 68.7,486.5 68.9,488.2 69.1,489.9 63.4,489.7 63.0,488.0 62.7,486.3 62.4,484.5 62.1,482.8 61.8,480.9" fill="#ffffff" stroke="#2e2e2e" stroke-width="0.85" stroke-linejoin="round"/>
<polygon points="69.1,489.9 69.4,491.5 69.6,493.0 69.9,494.4 70.1,495.8 70.3,497.0 70.5,498.1 65.2,498.2 64.9,497.0 64.6,495.7 64.3,494.3 64.0,492.8 63.7,491.3 63.4,489.7" fill="#ffffff" stroke="#2e2e2e" stroke-width="0.85" stroke-linejoin="round"/>
<polygon points="70.5,498.1 70.7,499.1 70.8,500.0 71.0,500.9 71.2,501.6 71.4,502.3 71.6,502.9 71.8,503.5 72.0,504.1 72.2,504.6 72.5,505.1 72.7,505.5 68.5,507.8 68.2,507.1 67.9,506.4 67.6,505.7 67.3,504.9 67.0,504.1 66.7,503.3 66.4,502.4 66.1,501.4 65.8,500.4 65.5,499.4 65.2,498.2" fill="#ffffff" stroke="#2e2e2e" stroke-width="0.85" stroke-linejoin="round"/>
<polygon points="72.7,505.5 72.9,506.0 73.1,506.5 73.4,507.0 73.6,507.6 73.8,508.1 74.1,508.6 74.4,509.1 74.6,509.6 74.9,510.0 75.1,510.5 75.4,510.9 75.7,511.3 76.0,511.7 76.3,512.1 76.5,512.5 73.9,516.0 73.5,515.6 73.1,515.1 72.7,514.7 72.3,514.2 71.9,513.8 71.6,513.3 71.2,512.8 70.9,512.2 70.5,511.6 70.1,511.0 69.8,510.4 69.5,509.7 69.1,509.1 68.8,508.4 68.5,507.8" fill="#ffffff" stroke="#2e2e2e" stroke-width="0.85" stroke-linejoin="round"/>
<polygon points="76.5,512.5 76.9,512.9 77.2,513.3 77.5,513.7 77.8,514.1 78.2,514.5 78.5,515.0 78.8,515.4 79.2,515.8 79.6,516.3 79.9,516.7 80.3,517.1 80.7,517.5 81.1,518.0 81.5,518.4 81.9,518.8 80.4,523.1 79.9,522.6 79.5,522.1 79.0,521.7 78.5,521.2 78.1,520.7 77.7,520.2 77.2,519.7 76.8,519.2 76.4,518.7 75.9,518.2 75.5,517.7 75.1,517.3 74.7,516.9 74.3,516.4 73.9,516.0" fill="#ffffff" stroke="#2e2e2e" stroke-width="0.85" stroke-linejoin="round"/>
<polygon points="81.9,518.8 82.3,519.2 82.7,519.6 83.2,519.9 83.6,520.3 84.1,520.7 84.6,521.0 85.1,521.3 85.6,521.7 86.2,522.0 86.8,522.3 87.3,522.7 87.9,523.0 88.5,523.3 89.2,523.6 88.7,528.0 88.0,527.8 87.3,527.5 86.7,527.2 86.0,526.9 85.4,526.6 84.7,526.2 84.1,525.9 83.5,525.5 83.0,525.2 82.4,524.8 81.9,524.4 81.4,524.0 80.9,523.6 80.4,523.1" fill="#ffffff" stroke="#2e2e2e" stroke-width="0.85" stroke-linejoin="round"/>
<polygon points="89.2,523.6 89.8,523.9 90.4,524.1 91.0,524.3 91.7,524.5 92.3,524.7 92.9,524.8 93.5,524.9 94.1,524.9 94.7,524.9 95.3,524.8 95.9,524.7 96.5,524.5 96.8,528.8 96.2,528.9 95.5,529.0 94.8,529.1 94.2,529.1 93.5,529.1 92.8,529.0 92.2,528.9 91.5,528.8 90.8,528.7 90.1,528.5 89.4,528.3 88.7,528.0" fill="#ffffff" stroke="#2e2e2e" stroke-width="0.85" stroke-linejoin="round"/>
<polygon points="96.5,524.5 97.1,524.3 97.7,524.1 98.4,523.8 99.0,523.6 99.6,523.3 100.2,523.0 100.7,522.6 101.3,522.3 101.9,522.0 102.4,521.6 102.9,521.3 103.4,521.0 103.8,520.7 104.9,525.2 104.4,525.5 103.8,525.9 103.3,526.2 102.7,526.5 102.1,526.8 101.4,527.1 100.8,527.4 100.2,527.7 99.5,528.0 98.8,528.2 98.2,528.4 97.5,528.6 96.8,528.8" fill="#ffffff" stroke="#2e2e2e" stroke-width="0.85" stroke-linejoin="round"/>
<polygon points="103.8,520.7 104.3,520.3 104.7,520.0 105.1,519.6 105.5,519.2 105.9,518.8 106.3,518.5 106.6,518.1 107.0,517.6 107.3,517.2 107.6,516.8 108.0,516.4 108.3,516.0 108.6,515.6 110.5,519.6 110.1,520.0 109.7,520.5 109.3,521.0 108.9,521.4 108.5,521.9 108.1,522.3 107.7,522.8 107.3,523.2 106.8,523.7 106.4,524.1 105.9,524.5 105.4,524.9 104.9,525.2" fill="#ffffff" stroke="#2e2e2e" stroke-width="0.85" stroke-linejoin="round"/>
<polygon points="108.6,515.6 108.9,515.2 109.2,514.8 109.5,514.3 109.8,513.9 110.1,513.6 110.3,513.2 110.6,512.8 110.9,512.4 111.1,512.0 111.3,511.6 111.6,511.2 111.8,510.8 112.0,510.4 112.3,509.9 112.5,509.4 112.7,508.9 116.0,512.4 115.7,512.9 115.3,513.5 115.0,514.0 114.7,514.5 114.4,514.9 114.1,515.3 113.7,515.8 113.4,516.2 113.0,516.6 112.7,517.0 112.3,517.4 112.0,517.8 111.6,518.2 111.2,518.6 110.9,519.1 110.5,519.6" fill="#ffffff" stroke="#2e2e2e" stroke-width="0.85" stroke-linejoin="round"/>
<polygon points="112.7,508.9 112.9,508.4 113.1,507.9 113.3,507.3 113.6,506.8 113.8,506.3 114.0,505.8 114.2,505.3 114.4,504.8 114.6,504.3 114.8,503.7 114.9,503.1 119.5,504.4 119.2,505.3 118.9,506.1 118.6,506.9 118.2,507.6 117.9,508.4 117.6,509.1 117.3,509.8 116.9,510.4 116.6,511.1 116.3,511.8 116.0,512.4" fill="#ffffff" stroke="#2e2e2e" stroke-width="0.85" stroke-linejoin="round"/>
<polygon points="114.9,503.1 115.1,502.4 115.3,501.7 115.5,500.9 115.7,500.1 115.8,499.2 116.0,498.1 116.1,497.0 116.3,495.8 121.8,495.7 121.5,497.0 121.3,498.2 121.0,499.4 120.7,500.5 120.4,501.6 120.1,502.6 119.8,503.5 119.5,504.4" fill="#ffffff" stroke="#2e2e2e" stroke-width="0.85" stroke-linejoin="round"/>
<polygon points="116.3,495.8 116.5,494.4 116.6,493.0 116.8,491.5 117.0,489.9 117.2,488.2 117.3,486.5 117.5,484.7 123.4,484.5 123.2,486.2 123.0,488.0 122.8,489.6 122.5,491.2 122.3,492.8 122.0,494.3 121.8,495.7" fill="#ffffff" stroke="#2e2e2e" stroke-width="0.85" stroke-linejoin="round"/>
<polygon points="117.5,484.7 117.6,482.9 117.8,481.1 117.9,479.2 118.0,477.3 118.0,475.5 118.1,473.6 124.6,473.6 124.4,475.4 124.2,477.3 124.0,479.1 123.8,480.9 123.6,482.7 123.4,484.5" fill="#ffffff" stroke="#2e2e2e" stroke-width="0.85" stroke-linejoin="round"/>
<polygon points="118.1,473.6 118.1,471.8 118.1,470.0 118.0,468.2 117.9,466.5 117.8,464.8 125.2,464.8 125.1,466.5 125.0,468.2 124.9,470.0 124.7,471.8 124.6,473.6" fill="#ffffff" stroke="#2e2e2e" stroke-width="0.85" stroke-linejoin="round"/>
<polygon points="117.8,464.8 117.6,463.1 117.4,461.5 117.2,459.8 116.9,458.1 116.7,456.3 116.4,454.5 125.5,454.5 125.5,456.2 125.4,458.0 125.4,459.7 125.3,461.4 125.3,463.1 125.2,464.8" fill="#ffffff" stroke="#2e2e2e" stroke-width="0.85" stroke-linejoin="round"/>
<polygon points="116.4,454.5 116.2,452.7 116.0,450.8 115.8,448.8 115.6,446.8 115.5,444.6 125.8,444.6 125.7,446.7 125.7,448.8 125.6,450.7 125.5,452.6 125.5,454.5" fill="#ffffff" stroke="#2e2e2e" stroke-width="0.85" stroke-linejoin="round"/>
<polygon points="115.5,444.6 115.4,442.4 115.4,440.0 115.4,437.4 115.5,434.5 115.6,431.4 126.7,431.6 126.5,434.6 126.3,437.4 126.1,440.0 126.0,442.3 125.8,444.6" fill="#ffffff" stroke="#2e2e2e" stroke-width="0.85" stroke-linejoin="round"/>
<polygon points="115.6,431.4 115.8,428.1 116.0,424.7 116.2,421.2 116.4,417.7 127.8,418.1 127.5,421.6 127.2,425.0 127.0,428.4 126.7,431.6" fill="#ffffff" stroke="#2e2e2e" stroke-width="0.85" stroke-linejoin="round"/>
<polygon points="116.4,417.7 116.7,414.1 116.9,410.6 117.2,407.3 117.4,404.1 128.9,404.9 128.6,408.0 128.4,411.3 128.1,414.7 127.8,418.1" fill="#ffffff" stroke="#2e2e2e" stroke-width="0.85" stroke-linejoin="round"/>
<polygon points="117.4,404.1 117.6,401.0 117.9,398.3 118.0,395.8 118.2,393.7 118.3,392.0 129.9,393.1 129.8,394.8 129.6,396.9 129.4,399.2 129.1,401.9 128.9,404.9" fill="#ffffff" stroke="#2e2e2e" stroke-width="0.85" stroke-linejoin="round"/>
<polygon points="60.1,454.5 60.1,456.3 60.1,458.1 60.1,459.8 60.1,461.5 60.1,463.1 60.2,464.8 57.1,464.8 57.3,463.1 57.5,461.5 57.7,459.8 58.0,458.1 58.3,456.3 58.6,454.5" fill="#ffffff" stroke="#2e2e2e" stroke-width="0.85" stroke-linejoin="round"/>
<polygon points="60.2,464.8 60.3,466.5 60.4,468.2 60.5,470.0 60.7,471.8 60.9,473.6 61.1,475.4 57.2,475.4 57.0,473.6 56.9,471.8 56.9,470.0 56.9,468.2 57.0,466.5 57.1,464.8" fill="#ffffff" stroke="#2e2e2e" stroke-width="0.85" stroke-linejoin="round"/>
<polygon points="61.1,475.4 61.3,477.3 61.6,479.1 61.8,480.9 62.1,482.8 62.4,484.5 62.7,486.3 58.6,486.1 58.3,484.4 58.0,482.6 57.8,480.8 57.5,479.0 57.3,477.2 57.2,475.4" fill="#ffffff" stroke="#2e2e2e" stroke-width="0.85" stroke-linejoin="round"/>
<polygon points="62.7,486.3 63.0,488.0 63.4,489.7 63.7,491.3 64.0,492.8 64.3,494.3 64.6,495.7 60.5,495.6 60.2,494.2 59.9,492.7 59.5,491.1 59.2,489.5 58.9,487.8 58.6,486.1" fill="#ffffff" stroke="#2e2e2e" stroke-width="0.85" stroke-linejoin="round"/>
<polygon points="64.6,495.7 64.9,497.0 65.2,498.2 65.5,499.4 65.8,500.4 66.1,501.4 66.4,502.4 66.7,503.3 67.0,504.1 67.3,504.9 63.3,506.2 62.9,505.2 62.6,504.2 62.3,503.1 62.0,502.0 61.7,500.8 61.4,499.6 61.1,498.3 60.8,497.0 60.5,495.6" fill="#ffffff" stroke="#2e2e2e" stroke-width="0.85" stroke-linejoin="round"/>
<polygon points="67.3,504.9 67.6,505.7 67.9,506.4 68.2,507.1 68.5,507.8 68.8,508.4 69.1,509.1 69.5,509.7 69.8,510.4 70.1,511.0 70.5,511.6 70.9,512.2 71.2,512.8 67.9,515.8 67.5,515.2 67.0,514.5 66.6,513.8 66.2,513.1 65.8,512.3 65.4,511.5 65.0,510.7 64.7,509.8 64.3,509.0 64.0,508.1 63.6,507.2 63.3,506.2" fill="#ffffff" stroke="#2e2e2e" stroke-width="0.85" stroke-linejoin="round"/>
<polygon points="71.2,512.8 71.6,513.3 71.9,513.8 72.3,514.2 72.7,514.7 73.1,515.1 73.5,515.6 73.9,516.0 74.3,516.4 74.7,516.9 75.1,517.3 75.5,517.7 75.9,518.2 73.7,521.9 73.2,521.3 72.7,520.8 72.2,520.3 71.7,519.8 71.2,519.4 70.7,518.9 70.2,518.4 69.8,517.9 69.3,517.4 68.8,516.9 68.4,516.4 67.9,515.8" fill="#ffffff" stroke="#2e2e2e" stroke-width="0.85" stroke-linejoin="round"/>
<polygon points="75.9,518.2 76.4,518.7 76.8,519.2 77.2,519.7 77.7,520.2 78.1,520.7 78.5,521.2 79.0,521.7 79.5,522.1 79.9,522.6 80.4,523.1 80.9,523.6 81.4,524.0 81.9,524.4 80.5,529.3 80.0,528.8 79.4,528.3 78.8,527.7 78.3,527.2 77.8,526.6 77.2,526.0 76.7,525.4 76.2,524.8 75.7,524.2 75.2,523.6 74.7,523.0 74.2,522.4 73.7,521.9" fill="#ffffff" stroke="#2e2e2e" stroke-width="0.85" stroke-linejoin="round"/>
<polygon points="81.9,524.4 82.4,524.8 83.0,525.2 83.5,525.5 84.1,525.9 84.7,526.2 85.4,526.6 86.0,526.9 86.7,527.2 87.3,527.5 88.0,527.8 88.7,528.0 88.2,533.3 87.4,533.0 86.6,532.8 85.9,532.5 85.1,532.1 84.4,531.8 83.7,531.4 83.0,531.1 82.4,530.7 81.7,530.3 81.1,529.8 80.5,529.3" fill="#ffffff" stroke="#2e2e2e" stroke-width="0.85" stroke-linejoin="round"/>
<polygon points="88.7,528.0 89.4,528.3 90.1,528.5 90.8,528.7 91.5,528.8 92.2,528.9 92.8,529.0 93.5,529.1 94.2,529.1 94.8,529.1 95.5,529.0 96.2,528.9 96.8,528.8 97.2,534.1 96.5,534.2 95.7,534.3 95.0,534.4 94.3,534.4 93.6,534.4 92.8,534.3 92.0,534.2 91.3,534.1 90.5,533.9 89.7,533.8 89.0,533.5 88.2,533.3" fill="#ffffff" stroke="#2e2e2e" stroke-width="0.85" stroke-linejoin="round"/>
<polygon points="96.8,528.8 97.5,528.6 98.2,528.4 98.8,528.2 99.5,528.0 100.2,527.7 100.8,527.4 101.4,527.1 102.1,526.8 102.7,526.5 103.3,526.2 103.8,525.9 104.4,525.5 104.9,525.2 106.1,530.3 105.5,530.7 104.9,531.0 104.3,531.4 103.6,531.8 103.0,532.1 102.3,532.4 101.6,532.7 100.9,533.0 100.2,533.3 99.4,533.5 98.7,533.7 98.0,533.9 97.2,534.1" fill="#ffffff" stroke="#2e2e2e" stroke-width="0.85" stroke-linejoin="round"/>
<polygon points="104.9,525.2 105.4,524.9 105.9,524.5 106.4,524.1 106.8,523.7 107.3,523.2 107.7,522.8 108.1,522.3 108.5,521.9 108.9,521.4 109.3,521.0 109.7,520.5 110.1,520.0 111.9,524.2 111.5,524.7 111.0,525.3 110.6,525.8 110.1,526.4 109.7,526.9 109.2,527.4 108.7,528.0 108.2,528.5 107.7,529.0 107.2,529.4 106.6,529.9 106.1,530.3" fill="#ffffff" stroke="#2e2e2e" stroke-width="0.85" stroke-linejoin="round"/>
<polygon points="110.1,520.0 110.5,519.6 110.9,519.1 111.2,518.6 111.6,518.2 112.0,517.8 112.3,517.4 112.7,517.0 113.0,516.6 113.4,516.2 113.7,515.8 114.1,515.3 114.4,514.9 114.7,514.5 115.0,514.0 115.3,513.5 118.4,516.9 118.0,517.5 117.6,518.0 117.1,518.5 116.7,518.9 116.3,519.4 115.9,519.8 115.5,520.2 115.0,520.7 114.6,521.1 114.2,521.6 113.7,522.0 113.3,522.5 112.8,523.1 112.4,523.6 111.9,524.2" fill="#ffffff" stroke="#2e2e2e" stroke-width="0.85" stroke-linejoin="round"/>
<polygon points="115.3,513.5 115.7,512.9 116.0,512.4 116.3,511.8 116.6,511.1 116.9,510.4 117.3,509.8 117.6,509.1 117.9,508.4 118.2,507.6 118.6,506.9 122.3,508.8 121.9,509.8 121.5,510.7 121.1,511.6 120.7,512.5 120.3,513.4 119.9,514.2 119.5,514.9 119.2,515.6 118.8,516.3 118.4,516.9" fill="#ffffff" stroke="#2e2e2e" stroke-width="0.85" stroke-linejoin="round"/>
<polygon points="118.6,506.9 118.9,506.1 119.2,505.3 119.5,504.4 119.8,503.5 120.1,502.6 120.4,501.6 120.7,500.5 121.0,499.4 121.3,498.2 125.4,498.4 125.1,499.7 124.8,501.0 124.5,502.2 124.1,503.4 123.8,504.5 123.4,505.7 123.1,506.8 122.7,507.8 122.3,508.8" fill="#ffffff" stroke="#2e2e2e" stroke-width="0.85" stroke-linejoin="round"/>
<polygon points="121.3,498.2 121.5,497.0 121.8,495.7 122.0,494.3 122.3,492.8 122.5,491.2 122.8,489.6 123.0,488.0 127.1,487.7 126.9,489.4 126.7,491.0 126.4,492.6 126.2,494.1 125.9,495.6 125.7,497.0 125.4,498.4" fill="#ffffff" stroke="#2e2e2e" stroke-width="0.85" stroke-linejoin="round"/>
<polygon points="123.0,488.0 123.2,486.2 123.4,484.5 123.6,482.7 123.8,480.9 124.0,479.1 124.2,477.3 128.1,477.2 128.0,479.0 127.8,480.8 127.7,482.5 127.5,484.3 127.3,486.0 127.1,487.7" fill="#ffffff" stroke="#2e2e2e" stroke-width="0.85" stroke-linejoin="round"/>
<polygon points="124.2,477.3 124.4,475.4 124.6,473.6 124.7,471.8 124.9,470.0 125.0,468.2 125.1,466.5 125.2,464.8 128.1,464.8 128.3,466.5 128.3,468.2 128.3,470.0 128.3,471.8 128.3,473.6 128.2,475.4 128.1,477.2" fill="#ffffff" stroke="#2e2e2e" stroke-width="0.85" stroke-linejoin="round"/>
<polygon points="125.2,464.8 125.3,463.1 125.3,461.4 125.4,459.7 125.4,458.0 125.5,456.2 125.5,454.5 126.9,454.5 127.2,456.2 127.4,458.0 127.6,459.7 127.8,461.4 128.0,463.1 128.1,464.8" fill="#ffffff" stroke="#2e2e2e" stroke-width="0.85" stroke-linejoin="round"/>
<polygon points="60.5,392.0 60.5,393.7 60.5,395.8 60.5,398.3 60.5,401.0 60.5,404.1 60.5,407.3 60.6,410.6 50.9,410.6 50.9,407.3 50.9,404.1 50.9,401.0 50.9,398.3 50.8,395.8 50.8,393.7 50.8,392.0" fill="#ffffff" stroke="#2e2e2e" stroke-width="0.85" stroke-linejoin="round"/>
<polygon points="60.6,410.6 60.6,414.1 60.6,417.7 60.6,421.2 60.5,424.7 51.1,424.7 51.0,421.2 51.0,417.7 51.0,414.1 50.9,410.6" fill="#ffffff" stroke="#2e2e2e" stroke-width="0.85" stroke-linejoin="round"/>
<polygon points="60.5,424.7 60.5,428.1 60.5,431.4 60.4,434.5 60.3,437.4 60.2,440.0 51.3,440.0 51.2,437.4 51.2,434.5 51.1,431.4 51.1,428.1 51.1,424.7" fill="#ffffff" stroke="#2e2e2e" stroke-width="0.85" stroke-linejoin="round"/>
<polygon points="60.2,440.0 60.1,442.4 59.9,444.6 59.7,446.8 59.4,448.8 59.2,450.8 58.9,452.7 58.6,454.5 51.7,454.5 51.6,452.7 51.6,450.8 51.5,448.8 51.5,446.8 51.4,444.6 51.4,442.4 51.3,440.0" fill="#ffffff" stroke="#2e2e2e" stroke-width="0.85" stroke-linejoin="round"/>
<polygon points="58.6,454.5 58.3,456.3 58.0,458.1 57.7,459.8 57.5,461.5 57.3,463.1 57.1,464.8 52.2,464.8 52.1,463.1 52.0,461.5 51.9,459.8 51.8,458.1 51.7,456.3 51.7,454.5" fill="#ffffff" stroke="#2e2e2e" stroke-width="0.85" stroke-linejoin="round"/>
<polygon points="57.1,464.8 57.0,466.5 56.9,468.2 56.9,470.0 56.9,471.8 57.0,473.6 57.2,475.4 57.3,477.2 53.4,477.2 53.2,475.4 53.0,473.6 52.8,471.8 52.6,470.0 52.5,468.2 52.3,466.5 52.2,464.8" fill="#ffffff" stroke="#2e2e2e" stroke-width="0.85" stroke-linejoin="round"/>
<polygon points="57.3,477.2 57.5,479.0 57.8,480.8 58.0,482.6 58.3,484.4 58.6,486.1 58.9,487.8 59.2,489.5 55.3,489.3 55.0,487.6 54.7,485.9 54.5,484.2 54.2,482.5 53.9,480.7 53.7,478.9 53.4,477.2" fill="#ffffff" stroke="#2e2e2e" stroke-width="0.85" stroke-linejoin="round"/>
<polygon points="59.2,489.5 59.5,491.1 59.9,492.7 60.2,494.2 60.5,495.6 60.8,497.0 61.1,498.3 57.2,498.4 56.9,497.0 56.6,495.6 56.2,494.1 55.9,492.5 55.6,490.9 55.3,489.3" fill="#ffffff" stroke="#2e2e2e" stroke-width="0.85" stroke-linejoin="round"/>
<polygon points="61.1,498.3 61.4,499.6 61.7,500.8 62.0,502.0 62.3,503.1 62.6,504.2 62.9,505.2 63.3,506.2 63.6,507.2 60.1,508.5 59.7,507.3 59.3,506.1 58.9,504.9 58.6,503.7 58.2,502.4 57.9,501.1 57.5,499.8 57.2,498.4" fill="#ffffff" stroke="#2e2e2e" stroke-width="0.85" stroke-linejoin="round"/>
<polygon points="63.6,507.2 64.0,508.1 64.3,509.0 64.7,509.8 65.0,510.7 65.4,511.5 65.8,512.3 66.2,513.1 66.6,513.8 67.0,514.5 67.5,515.2 64.4,517.9 63.9,517.2 63.5,516.4 63.0,515.5 62.5,514.6 62.1,513.7 61.7,512.7 61.3,511.7 60.9,510.6 60.5,509.6 60.1,508.5" fill="#ffffff" stroke="#2e2e2e" stroke-width="0.85" stroke-linejoin="round"/>
<polygon points="67.5,515.2 67.9,515.8 68.4,516.4 68.8,516.9 69.3,517.4 69.8,517.9 70.2,518.4 70.7,518.9 71.2,519.4 71.7,519.8 72.2,520.3 72.7,520.8 73.2,521.3 73.7,521.9 74.2,522.4 72.1,526.2 71.5,525.5 70.9,524.9 70.4,524.3 69.8,523.8 69.2,523.2 68.7,522.7 68.1,522.1 67.6,521.6 67.0,521.0 66.5,520.5 66.0,519.9 65.4,519.3 64.9,518.6 64.4,517.9" fill="#ffffff" stroke="#2e2e2e" stroke-width="0.85" stroke-linejoin="round"/>
<polygon points="74.2,522.4 74.7,523.0 75.2,523.6 75.7,524.2 76.2,524.8 76.7,525.4 77.2,526.0 77.8,526.6 78.3,527.2 78.8,527.7 79.4,528.3 80.0,528.8 80.5,529.3 81.1,529.8 79.8,534.8 79.2,534.3 78.5,533.7 77.9,533.1 77.3,532.4 76.7,531.8 76.1,531.1 75.5,530.4 74.9,529.7 74.3,528.9 73.8,528.2 73.2,527.5 72.6,526.8 72.1,526.2" fill="#ffffff" stroke="#2e2e2e" stroke-width="0.85" stroke-linejoin="round"/>
<polygon points="81.1,529.8 81.7,530.3 82.4,530.7 83.0,531.1 83.7,531.4 84.4,531.8 85.1,532.1 85.9,532.5 86.6,532.8 87.4,533.0 88.2,533.3 89.0,533.5 88.5,538.7 87.6,538.5 86.8,538.3 85.9,538.0 85.1,537.7 84.3,537.4 83.5,537.0 82.7,536.6 81.9,536.2 81.2,535.8 80.5,535.3 79.8,534.8" fill="#ffffff" stroke="#2e2e2e" stroke-width="0.85" stroke-linejoin="round"/>
<polygon points="89.0,533.5 89.7,533.8 90.5,533.9 91.3,534.1 92.0,534.2 92.8,534.3 93.6,534.4 94.3,534.4 95.0,534.4 95.7,534.3 96.5,534.2 97.2,534.1 98.0,533.9 98.7,533.7 99.2,538.9 98.4,539.1 97.6,539.2 96.8,539.3 96.0,539.4 95.2,539.5 94.4,539.5 93.6,539.5 92.8,539.4 91.9,539.3 91.1,539.2 90.2,539.1 89.4,538.9 88.5,538.7" fill="#ffffff" stroke="#2e2e2e" stroke-width="0.85" stroke-linejoin="round"/>
<polygon points="98.7,533.7 99.4,533.5 100.2,533.3 100.9,533.0 101.6,532.7 102.3,532.4 103.0,532.1 103.6,531.8 104.3,531.4 104.9,531.0 105.5,530.7 106.1,530.3 106.6,529.9 107.9,534.9 107.3,535.4 106.6,535.8 106.0,536.2 105.3,536.6 104.6,537.0 103.8,537.3 103.1,537.6 102.3,537.9 101.6,538.2 100.8,538.5 100.0,538.7 99.2,538.9" fill="#ffffff" stroke="#2e2e2e" stroke-width="0.85" stroke-linejoin="round"/>
<polygon points="106.6,529.9 107.2,529.4 107.7,529.0 108.2,528.5 108.7,528.0 109.2,527.4 109.7,526.9 110.1,526.4 110.6,525.8 111.0,525.3 111.5,524.7 111.9,524.2 112.4,523.6 112.8,523.1 114.8,527.1 114.3,527.7 113.8,528.3 113.3,528.9 112.8,529.6 112.3,530.2 111.8,530.9 111.3,531.5 110.7,532.1 110.2,532.7 109.6,533.3 109.1,533.9 108.5,534.4 107.9,534.9" fill="#ffffff" stroke="#2e2e2e" stroke-width="0.85" stroke-linejoin="round"/>
<polygon points="112.8,523.1 113.3,522.5 113.7,522.0 114.2,521.6 114.6,521.1 115.0,520.7 115.5,520.2 115.9,519.8 116.3,519.4 116.7,518.9 117.1,518.5 117.6,518.0 118.0,517.5 118.4,516.9 118.8,516.3 121.5,519.3 121.1,520.0 120.6,520.7 120.2,521.2 119.7,521.8 119.2,522.3 118.8,522.8 118.3,523.3 117.8,523.8 117.3,524.3 116.8,524.8 116.3,525.3 115.8,525.9 115.3,526.5 114.8,527.1" fill="#ffffff" stroke="#2e2e2e" stroke-width="0.85" stroke-linejoin="round"/>
<polygon points="118.8,516.3 119.2,515.6 119.5,514.9 119.9,514.2 120.3,513.4 120.7,512.5 121.1,511.6 121.5,510.7 121.9,509.8 125.2,511.7 124.7,512.8 124.2,513.9 123.8,515.0 123.3,516.0 122.9,516.9 122.4,517.8 122.0,518.6 121.5,519.3" fill="#ffffff" stroke="#2e2e2e" stroke-width="0.85" stroke-linejoin="round"/>
<polygon points="121.9,509.8 122.3,508.8 122.7,507.8 123.1,506.8 123.4,505.7 123.8,504.5 124.1,503.4 124.5,502.2 124.8,501.0 128.6,501.3 128.2,502.7 127.8,504.1 127.4,505.4 127.0,506.8 126.5,508.0 126.1,509.3 125.6,510.5 125.2,511.7" fill="#ffffff" stroke="#2e2e2e" stroke-width="0.85" stroke-linejoin="round"/>
<polygon points="124.8,501.0 125.1,499.7 125.4,498.4 125.7,497.0 125.9,495.6 126.2,494.1 126.4,492.6 126.7,491.0 130.6,490.8 130.4,492.4 130.1,494.0 129.9,495.5 129.6,497.0 129.3,498.5 129.0,499.9 128.6,501.3" fill="#ffffff" stroke="#2e2e2e" stroke-width="0.85" stroke-linejoin="round"/>
<polygon points="126.7,491.0 126.9,489.4 127.1,487.7 127.3,486.0 127.5,484.3 127.7,482.5 127.8,480.8 131.6,480.7 131.5,482.4 131.3,484.1 131.2,485.8 131.0,487.5 130.8,489.2 130.6,490.8" fill="#ffffff" stroke="#2e2e2e" stroke-width="0.85" stroke-linejoin="round"/>
<polygon points="127.8,480.8 128.0,479.0 128.1,477.2 128.2,475.4 128.3,473.6 128.3,471.8 128.3,470.0 128.3,468.2 128.3,466.5 132.7,466.5 132.6,468.2 132.4,470.0 132.3,471.8 132.2,473.6 132.0,475.3 131.9,477.1 131.7,478.9 131.6,480.7" fill="#ffffff" stroke="#2e2e2e" stroke-width="0.85" stroke-linejoin="round"/>
<polygon points="128.3,466.5 128.1,464.8 128.0,463.1 127.8,461.4 127.6,459.7 127.4,458.0 127.2,456.2 126.9,454.5 126.7,452.6 133.6,452.6 133.5,454.4 133.4,456.2 133.3,457.9 133.2,459.7 133.1,461.4 133.0,463.1 132.8,464.8 132.7,466.5" fill="#ffffff" stroke="#2e2e2e" stroke-width="0.85" stroke-linejoin="round"/>
<polygon points="126.7,452.6 126.5,450.7 126.3,448.8 126.2,446.7 126.1,444.6 126.1,442.3 126.1,440.0 134.5,440.0 134.3,442.3 134.1,444.5 134.0,446.7 133.8,448.7 133.7,450.7 133.6,452.6" fill="#ffffff" stroke="#2e2e2e" stroke-width="0.85" stroke-linejoin="round"/>
<polygon points="126.1,440.0 126.2,437.4 126.3,434.6 126.5,431.6 126.7,428.4 127.0,425.0 135.9,425.3 135.6,428.5 135.3,431.7 135.0,434.7 134.7,437.5 134.5,440.0" fill="#ffffff" stroke="#2e2e2e" stroke-width="0.85" stroke-linejoin="round"/>
<polygon points="127.0,425.0 127.2,421.6 127.5,418.1 127.9,414.7 128.2,411.3 128.5,408.0 137.5,408.6 137.2,411.8 136.9,415.1 136.5,418.5 136.2,421.9 135.9,425.3" fill="#ffffff" stroke="#2e2e2e" stroke-width="0.85" stroke-linejoin="round"/>
<polygon points="128.5,408.0 128.8,404.9 129.1,401.9 129.3,399.2 129.6,396.9 129.7,394.8 129.9,393.1 139.0,394.0 138.8,395.6 138.6,397.7 138.4,400.0 138.1,402.6 137.8,405.5 137.5,408.6" fill="#ffffff" stroke="#2e2e2e" stroke-width="0.85" stroke-linejoin="round"/>
<polygon points="55.3,489.3 55.6,490.9 55.9,492.5 56.2,494.1 56.6,495.6 56.9,497.0 57.2,498.4 57.5,499.8 57.9,501.1 56.1,501.5 55.9,500.0 55.7,498.5 55.4,497.0 55.2,495.5 54.9,493.9 54.7,492.3 54.4,490.7 54.1,489.1" fill="#ffffff" stroke="#2e2e2e" stroke-width="0.85" stroke-linejoin="round"/>
<polygon points="57.9,501.1 58.2,502.4 58.6,503.7 58.9,504.9 59.3,506.1 59.7,507.3 60.1,508.5 60.5,509.6 60.9,510.6 61.3,511.7 61.7,512.7 62.1,513.7 58.3,516.2 58.0,515.0 57.8,513.8 57.5,512.5 57.3,511.2 57.1,509.9 56.9,508.6 56.8,507.2 56.6,505.8 56.4,504.4 56.2,502.9 56.1,501.5" fill="#ffffff" stroke="#2e2e2e" stroke-width="0.85" stroke-linejoin="round"/>
<polygon points="62.1,513.7 62.5,514.6 63.0,515.5 63.5,516.4 63.9,517.2 64.4,517.9 64.9,518.6 65.4,519.3 66.0,519.9 66.5,520.5 67.0,521.0 67.6,521.6 68.1,522.1 68.7,522.7 69.2,523.2 69.8,523.8 65.6,529.7 65.0,528.9 64.4,528.1 63.9,527.3 63.3,526.5 62.7,525.7 62.2,525.0 61.7,524.1 61.2,523.3 60.7,522.4 60.2,521.5 59.8,520.6 59.4,519.6 59.0,518.5 58.6,517.4 58.3,516.2" fill="#ffffff" stroke="#2e2e2e" stroke-width="0.85" stroke-linejoin="round"/>
<polygon points="69.8,523.8 70.4,524.3 70.9,524.9 71.5,525.5 72.1,526.2 72.6,526.8 73.2,527.5 73.8,528.2 74.3,528.9 74.9,529.7 75.5,530.4 76.1,531.1 72.5,540.6 71.8,539.5 71.1,538.4 70.5,537.3 69.9,536.2 69.3,535.2 68.6,534.2 68.0,533.2 67.4,532.2 66.8,531.3 66.2,530.5 65.6,529.7" fill="#ffffff" stroke="#2e2e2e" stroke-width="0.85" stroke-linejoin="round"/>
<polygon points="76.1,531.1 76.7,531.8 77.3,532.4 77.9,533.1 78.5,533.7 79.2,534.3 79.8,534.8 80.5,535.3 81.2,535.8 81.9,536.2 82.7,536.6 83.5,537.0 84.3,537.4 85.1,537.7 83.2,550.4 82.2,550.0 81.2,549.5 80.3,549.0 79.4,548.4 78.5,547.8 77.6,547.1 76.8,546.3 76.1,545.5 75.3,544.6 74.6,543.7 73.8,542.7 73.1,541.6 72.5,540.6" fill="#ffffff" stroke="#2e2e2e" stroke-width="0.85" stroke-linejoin="round"/>
<polygon points="85.1,537.7 85.9,538.0 86.8,538.3 87.6,538.5 88.5,538.7 89.4,538.9 90.2,539.1 91.1,539.2 91.9,539.3 92.8,539.4 93.6,539.5 94.4,539.5 95.2,539.5 95.6,552.6 94.7,552.6 93.7,552.6 92.7,552.6 91.7,552.5 90.6,552.3 89.5,552.2 88.5,552.0 87.4,551.7 86.3,551.5 85.3,551.2 84.2,550.8 83.2,550.4" fill="#ffffff" stroke="#2e2e2e" stroke-width="0.85" stroke-linejoin="round"/>
<polygon points="95.2,539.5 96.0,539.4 96.8,539.3 97.6,539.2 98.4,539.1 99.2,538.9 100.0,538.7 100.8,538.5 101.6,538.2 102.3,537.9 103.1,537.6 103.8,537.3 104.6,537.0 105.3,536.6 106.0,536.2 106.6,535.8 109.2,547.8 108.5,548.4 107.7,548.9 106.8,549.4 106.0,549.9 105.1,550.3 104.2,550.7 103.3,551.1 102.4,551.4 101.4,551.7 100.5,551.9 99.5,552.1 98.5,552.3 97.6,552.4 96.6,552.5 95.6,552.6" fill="#ffffff" stroke="#2e2e2e" stroke-width="0.85" stroke-linejoin="round"/>
<polygon points="106.6,535.8 107.3,535.4 107.9,534.9 108.5,534.4 109.1,533.9 109.6,533.3 110.2,532.7 110.7,532.1 111.3,531.5 111.8,530.9 112.3,530.2 112.8,529.6 113.3,528.9 116.9,537.3 116.3,538.3 115.8,539.3 115.2,540.2 114.6,541.2 114.0,542.2 113.4,543.1 112.7,544.0 112.1,544.9 111.4,545.7 110.7,546.4 110.0,547.1 109.2,547.8" fill="#ffffff" stroke="#2e2e2e" stroke-width="0.85" stroke-linejoin="round"/>
<polygon points="113.3,528.9 113.8,528.3 114.3,527.7 114.8,527.1 115.3,526.5 115.8,525.9 116.3,525.3 116.8,524.8 117.3,524.3 117.8,523.8 118.3,523.3 118.8,522.8 119.2,522.3 119.7,521.8 120.2,521.2 124.1,526.0 123.6,526.8 123.1,527.5 122.7,528.3 122.2,529.0 121.7,529.7 121.2,530.4 120.7,531.2 120.1,532.0 119.6,532.8 119.1,533.6 118.5,534.5 118.0,535.4 117.4,536.3 116.9,537.3" fill="#ffffff" stroke="#2e2e2e" stroke-width="0.85" stroke-linejoin="round"/>
<polygon points="120.2,521.2 120.6,520.7 121.1,520.0 121.5,519.3 122.0,518.6 122.4,517.8 122.9,516.9 123.3,516.0 123.8,515.0 124.2,513.9 124.7,512.8 125.2,511.7 125.6,510.5 128.6,512.5 128.3,513.9 127.9,515.3 127.6,516.6 127.3,517.9 126.9,519.1 126.6,520.3 126.2,521.4 125.8,522.4 125.4,523.4 125.0,524.3 124.5,525.2 124.1,526.0" fill="#ffffff" stroke="#2e2e2e" stroke-width="0.85" stroke-linejoin="round"/>
<polygon points="125.6,510.5 126.1,509.3 126.5,508.0 127.0,506.8 127.4,505.4 127.8,504.1 128.2,502.7 128.6,501.3 129.0,499.9 129.3,498.5 130.8,498.6 130.6,500.2 130.4,501.7 130.1,503.3 129.9,504.9 129.7,506.4 129.4,508.0 129.1,509.5 128.8,511.0 128.6,512.5" fill="#ffffff" stroke="#2e2e2e" stroke-width="0.85" stroke-linejoin="round"/>
<polygon points="56.2,502.9 56.4,504.4 56.6,505.8 56.8,507.2 56.9,508.6 57.1,509.9 57.3,511.2 57.5,512.5 57.8,513.8 58.0,515.0 58.3,516.2 56.5,517.2 56.3,515.9 56.1,514.5 55.9,513.1 55.7,511.7 55.6,510.3 55.4,508.9 55.2,507.4 55.1,506.0 54.9,504.5 54.7,503.1" fill="#ffffff" stroke="#2e2e2e" stroke-width="0.85" stroke-linejoin="round"/>
<polygon points="58.3,516.2 58.6,517.4 59.0,518.5 59.4,519.6 59.8,520.6 60.2,521.5 60.7,522.4 61.2,523.3 61.7,524.1 62.2,525.0 62.7,525.7 63.3,526.5 63.9,527.3 64.4,528.1 65.0,528.9 60.2,535.6 59.9,534.3 59.5,533.0 59.2,531.7 58.9,530.5 58.7,529.2 58.4,527.9 58.2,526.6 57.9,525.3 57.7,524.0 57.5,522.7 57.2,521.4 57.0,520.0 56.8,518.6 56.5,517.2" fill="#ffffff" stroke="#2e2e2e" stroke-width="0.85" stroke-linejoin="round"/>
<polygon points="65.0,528.9 65.6,529.7 66.2,530.5 66.8,531.3 67.4,532.2 68.0,533.2 68.6,534.2 69.3,535.2 69.9,536.2 70.5,537.3 71.1,538.4 71.8,539.5 66.5,552.3 65.8,550.6 65.1,548.9 64.4,547.3 63.8,545.7 63.2,544.1 62.6,542.5 62.1,541.1 61.5,539.7 61.1,538.3 60.6,537.0 60.2,535.6" fill="#ffffff" stroke="#2e2e2e" stroke-width="0.85" stroke-linejoin="round"/>
<polygon points="71.8,539.5 72.5,540.6 73.1,541.6 73.8,542.7 74.6,543.7 75.3,544.6 76.1,545.5 76.8,546.3 77.6,547.1 78.5,547.8 74.5,565.5 73.4,564.3 72.5,563.1 71.5,561.7 70.6,560.3 69.7,558.8 68.9,557.2 68.1,555.6 67.3,554.0 66.5,552.3" fill="#ffffff" stroke="#2e2e2e" stroke-width="0.85" stroke-linejoin="round"/>
<polygon points="78.5,547.8 79.4,548.4 80.3,549.0 81.2,549.5 82.2,550.0 83.2,550.4 84.2,550.8 85.3,551.2 86.3,551.5 87.4,551.7 88.5,552.0 87.2,573.7 85.8,573.1 84.4,572.5 83.1,571.8 81.7,571.1 80.4,570.2 79.1,569.4 77.9,568.5 76.7,567.5 75.5,566.5 74.5,565.5" fill="#ffffff" stroke="#2e2e2e" stroke-width="0.85" stroke-linejoin="round"/>
<polygon points="88.5,552.0 89.5,552.2 90.6,552.3 91.7,552.5 92.7,552.6 93.7,552.6 94.7,552.6 95.6,552.6 96.6,552.5 97.6,552.4 98.5,552.3 99.5,552.1 100.5,551.9 102.4,573.6 101.2,574.1 100.0,574.5 98.8,574.8 97.6,575.0 96.3,575.2 95.1,575.2 93.9,575.2 92.6,575.1 91.3,574.8 90.0,574.5 88.6,574.1 87.2,573.7" fill="#ffffff" stroke="#2e2e2e" stroke-width="0.85" stroke-linejoin="round"/>
<polygon points="100.5,551.9 101.4,551.7 102.4,551.4 103.3,551.1 104.2,550.7 105.1,550.3 106.0,549.9 106.8,549.4 107.7,548.9 108.5,548.4 109.2,547.8 110.0,547.1 110.7,546.4 114.9,563.2 114.0,564.4 113.1,565.5 112.2,566.4 111.2,567.4 110.2,568.3 109.2,569.2 108.1,570.1 107.0,570.9 105.9,571.7 104.7,572.4 103.6,573.0 102.4,573.6" fill="#ffffff" stroke="#2e2e2e" stroke-width="0.85" stroke-linejoin="round"/>
<polygon points="110.7,546.4 111.4,545.7 112.1,544.9 112.7,544.0 113.4,543.1 114.0,542.2 114.6,541.2 115.2,540.2 115.8,539.3 116.3,538.3 116.9,537.3 117.4,536.3 122.5,547.3 121.9,548.8 121.3,550.4 120.7,551.9 120.1,553.4 119.4,554.9 118.7,556.4 118.0,557.9 117.3,559.3 116.5,560.7 115.7,562.0 114.9,563.2" fill="#ffffff" stroke="#2e2e2e" stroke-width="0.85" stroke-linejoin="round"/>
<polygon points="117.4,536.3 118.0,535.4 118.5,534.5 119.1,533.6 119.6,532.8 120.1,532.0 120.7,531.2 121.2,530.4 121.7,529.7 122.2,529.0 122.7,528.3 123.1,527.5 123.6,526.8 124.1,526.0 124.5,525.2 127.3,528.8 127.1,530.1 126.8,531.4 126.6,532.7 126.4,533.9 126.1,535.2 125.9,536.5 125.6,537.8 125.2,539.1 124.9,540.4 124.4,541.7 124.0,543.0 123.5,544.4 123.0,545.8 122.5,547.3" fill="#ffffff" stroke="#2e2e2e" stroke-width="0.85" stroke-linejoin="round"/>
<polygon points="124.5,525.2 125.0,524.3 125.4,523.4 125.8,522.4 126.2,521.4 126.6,520.3 126.9,519.1 127.3,517.9 127.6,516.6 127.9,515.3 128.3,513.9 128.6,512.5 128.8,511.0 130.3,511.4 130.1,513.0 129.8,514.5 129.5,516.1 129.2,517.6 128.9,519.1 128.7,520.6 128.4,522.0 128.1,523.4 127.9,524.8 127.7,526.2 127.5,527.5 127.3,528.8" fill="#ffffff" stroke="#2e2e2e" stroke-width="0.85" stroke-linejoin="round"/>
<polygon points="62.1,541.1 62.6,542.5 63.2,544.1 63.8,545.7 64.4,547.3 65.1,548.9 65.8,550.6 66.5,552.3 67.3,554.0 65.8,558.2 65.2,556.0 64.6,553.8 64.1,551.7 63.5,549.6 63.0,547.6 62.5,545.6 62.0,543.7 61.5,542.0" fill="#ffffff" stroke="#2e2e2e" stroke-width="0.85" stroke-linejoin="round"/>
<polygon points="67.3,554.0 68.1,555.6 68.9,557.2 69.7,558.8 70.6,560.3 71.5,561.7 72.5,563.1 73.4,564.3 74.5,565.5 75.5,566.5 76.7,567.5 74.8,577.3 73.6,575.6 72.5,574.0 71.5,572.3 70.5,570.5 69.6,568.6 68.8,566.6 68.0,564.6 67.2,562.5 66.5,560.3 65.8,558.2" fill="#ffffff" stroke="#2e2e2e" stroke-width="0.85" stroke-linejoin="round"/>
<polygon points="76.7,567.5 77.9,568.5 79.1,569.4 80.4,570.2 81.7,571.1 83.1,571.8 84.4,572.5 85.8,573.1 87.2,573.7 88.6,574.1 88.2,590.7 86.6,589.6 85.0,588.3 83.5,587.0 81.9,585.5 80.4,583.9 78.9,582.3 77.5,580.7 76.1,579.0 74.8,577.3" fill="#ffffff" stroke="#2e2e2e" stroke-width="0.85" stroke-linejoin="round"/>
<polygon points="88.6,574.1 90.0,574.5 91.3,574.8 92.6,575.1 93.9,575.2 95.1,575.2 96.3,575.2 97.6,575.0 98.8,574.8 100.0,574.5 101.2,574.1 102.4,573.6 103.5,589.5 102.2,590.6 100.9,591.6 99.5,592.4 98.2,593.0 96.8,593.4 95.5,593.5 94.1,593.4 92.7,593.0 91.2,592.4 89.7,591.7 88.2,590.7" fill="#ffffff" stroke="#2e2e2e" stroke-width="0.85" stroke-linejoin="round"/>
<polygon points="102.4,573.6 103.6,573.0 104.7,572.4 105.9,571.7 107.0,570.9 108.1,570.1 109.2,569.2 110.2,568.3 111.2,567.4 112.2,566.4 113.1,565.5 115.0,574.0 114.1,575.6 113.1,577.2 112.0,578.9 110.9,580.5 109.8,582.2 108.6,583.8 107.3,585.4 106.1,586.8 104.8,588.2 103.5,589.5" fill="#ffffff" stroke="#2e2e2e" stroke-width="0.85" stroke-linejoin="round"/>
<polygon points="113.1,565.5 114.0,564.4 114.9,563.2 115.7,562.0 116.5,560.7 117.3,559.3 118.0,557.9 118.7,556.4 119.4,554.9 120.1,553.4 120.7,551.9 121.8,555.1 121.3,557.1 120.7,559.2 120.1,561.2 119.5,563.2 118.9,565.1 118.2,567.1 117.5,568.9 116.7,570.7 115.9,572.4 115.0,574.0" fill="#ffffff" stroke="#2e2e2e" stroke-width="0.85" stroke-linejoin="round"/>
<polygon points="120.7,551.9 121.3,550.4 121.9,548.8 122.5,547.3 123.0,545.8 123.5,544.4 124.0,543.0 124.4,541.7 124.9,540.4 125.2,539.1 125.6,537.8 125.9,538.0 125.6,539.4 125.3,540.9 124.9,542.4 124.5,544.0 124.1,545.7 123.6,547.4 123.2,549.3 122.8,551.2 122.3,553.1 121.8,555.1" fill="#ffffff" stroke="#2e2e2e" stroke-width="0.85" stroke-linejoin="round"/>
<polygon points="78.3,392.0 78.3,393.7 78.3,395.8 78.3,398.3 78.2,401.0 78.2,404.1 78.2,407.3 72.4,407.3 72.5,404.1 72.6,401.0 72.6,398.3 72.7,395.8 72.8,393.7 72.8,392.0" fill="#4f6e2c" stroke="#23380f" stroke-width="0.8" stroke-linejoin="round"/>
<polygon points="78.2,407.3 78.2,410.6 78.1,414.1 78.1,417.7 72.1,417.7 72.2,414.1 72.3,410.6 72.4,407.3" fill="#4f6e2c" stroke="#23380f" stroke-width="0.8" stroke-linejoin="round"/>
<polygon points="78.1,417.7 78.1,421.2 78.1,424.7 78.0,428.1 71.8,428.1 71.9,424.7 72.0,421.2 72.1,417.7" fill="#4f6e2c" stroke="#23380f" stroke-width="0.8" stroke-linejoin="round"/>
<polygon points="78.0,428.1 78.0,431.4 78.0,434.5 77.9,437.4 77.9,440.0 71.6,440.0 71.6,437.4 71.7,434.5 71.8,431.4 71.8,428.1" fill="#4f6e2c" stroke="#23380f" stroke-width="0.8" stroke-linejoin="round"/>
<polygon points="77.9,440.0 77.9,442.4 77.8,444.6 77.8,446.8 77.7,448.9 77.6,450.9 71.5,450.8 71.5,448.8 71.5,446.8 71.5,444.6 71.6,442.4 71.6,440.0" fill="#4f6e2c" stroke="#23380f" stroke-width="0.8" stroke-linejoin="round"/>
<polygon points="77.6,450.9 77.6,452.8 77.5,454.6 77.5,456.4 77.4,458.2 77.3,459.9 77.3,461.6 71.5,461.5 71.5,459.8 71.5,458.1 71.5,456.3 71.5,454.5 71.5,452.7 71.5,450.8" fill="#4f6e2c" stroke="#23380f" stroke-width="0.8" stroke-linejoin="round"/>
<polygon points="77.3,461.6 77.3,463.3 77.2,464.9 77.2,466.6 77.2,468.3 77.2,470.0 77.2,471.7 77.3,473.5 72.0,473.6 71.9,471.8 71.8,470.0 71.7,468.2 71.6,466.5 71.6,464.8 71.5,463.1 71.5,461.5" fill="#4f6e2c" stroke="#23380f" stroke-width="0.8" stroke-linejoin="round"/>
<polygon points="77.3,473.5 77.3,475.3 77.3,477.0 77.4,478.8 77.5,480.5 77.6,482.3 77.6,483.9 73.1,484.9 72.9,483.0 72.7,481.2 72.5,479.3 72.3,477.4 72.2,475.5 72.0,473.6" fill="#4f6e2c" stroke="#23380f" stroke-width="0.8" stroke-linejoin="round"/>
<polygon points="77.6,483.9 77.7,485.6 77.8,487.2 77.9,488.7 78.0,490.1 78.1,491.5 78.1,492.8 78.2,493.9 78.3,495.0 78.4,495.9 74.8,498.0 74.6,497.0 74.4,495.8 74.3,494.6 74.1,493.2 73.9,491.7 73.7,490.1 73.5,488.4 73.3,486.7 73.1,484.9" fill="#4f6e2c" stroke="#23380f" stroke-width="0.8" stroke-linejoin="round"/>
<polygon points="78.4,495.9 78.4,496.7 78.5,497.4 78.6,498.0 78.6,498.6 78.7,499.0 78.7,499.4 78.8,499.7 78.9,500.0 79.0,500.2 79.0,500.5 79.1,500.7 79.2,501.0 79.3,501.3 79.4,501.6 79.5,502.0 79.6,502.4 79.7,502.8 79.9,503.2 80.0,503.6 80.1,504.0 80.2,504.3 80.4,504.7 78.1,508.0 78.0,507.6 77.8,507.2 77.6,506.8 77.5,506.3 77.3,505.9 77.2,505.4 77.0,505.0 76.8,504.6 76.7,504.2 76.5,503.9 76.4,503.6 76.2,503.2 76.1,502.9 75.9,502.6 75.8,502.3 75.6,501.9 75.5,501.5 75.4,501.0 75.2,500.4 75.1,499.7 74.9,498.9 74.8,498.0" fill="#4f6e2c" stroke="#23380f" stroke-width="0.8" stroke-linejoin="round"/>
<polygon points="80.4,504.7 80.5,505.1 80.7,505.5 80.8,505.8 81.0,506.2 81.2,506.6 81.4,506.9 81.6,507.3 81.8,507.6 82.0,508.0 82.2,508.4 82.5,508.7 82.8,509.1 83.0,509.5 83.3,509.8 83.6,510.2 83.9,510.6 84.2,510.9 84.5,511.3 84.9,511.7 85.2,512.0 85.6,512.3 85.9,512.6 86.3,512.9 86.6,513.2 87.0,513.5 87.4,513.8 87.8,514.0 86.4,517.6 85.9,517.3 85.5,517.0 85.1,516.7 84.7,516.4 84.2,516.1 83.9,515.8 83.5,515.5 83.1,515.1 82.8,514.8 82.4,514.4 82.1,514.1 81.7,513.7 81.4,513.4 81.1,513.0 80.8,512.6 80.5,512.2 80.3,511.9 80.0,511.5 79.7,511.1 79.5,510.7 79.3,510.4 79.1,510.0 78.9,509.6 78.7,509.2 78.5,508.8 78.3,508.4 78.1,508.0" fill="#4f6e2c" stroke="#23380f" stroke-width="0.8" stroke-linejoin="round"/>
<polygon points="87.8,514.0 88.2,514.3 88.6,514.5 89.0,514.8 89.5,515.0 89.9,515.2 90.4,515.4 90.8,515.6 91.3,515.8 91.7,515.9 92.2,516.1 92.7,516.2 93.1,516.2 93.6,516.3 94.0,516.3 94.4,516.3 94.9,516.2 95.3,516.2 95.8,516.1 96.3,515.9 96.7,515.8 97.3,519.8 96.8,520.0 96.2,520.2 95.6,520.3 95.1,520.4 94.5,520.5 94.0,520.5 93.5,520.5 92.9,520.4 92.4,520.3 91.8,520.2 91.2,520.0 90.7,519.8 90.1,519.6 89.6,519.3 89.0,519.0 88.5,518.8 87.9,518.5 87.4,518.2 86.9,517.9 86.4,517.6" fill="#4f6e2c" stroke="#23380f" stroke-width="0.8" stroke-linejoin="round"/>
<polygon points="96.7,515.8 97.2,515.6 97.7,515.4 98.1,515.2 98.6,515.0 99.0,514.8 99.4,514.5 99.8,514.3 100.2,514.0 100.6,513.8 101.0,513.5 101.4,513.2 101.7,512.9 102.0,512.6 102.3,512.3 102.7,512.0 103.0,511.7 103.2,511.3 103.5,510.9 103.8,510.6 104.1,510.2 104.3,509.8 104.6,509.5 106.5,513.0 106.2,513.4 106.0,513.7 105.7,514.1 105.4,514.4 105.1,514.8 104.7,515.1 104.4,515.5 104.1,515.8 103.7,516.1 103.3,516.4 102.9,516.7 102.5,517.0 102.1,517.3 101.6,517.6 101.1,517.9 100.6,518.2 100.1,518.5 99.6,518.8 99.0,519.0 98.5,519.3 97.9,519.6 97.3,519.8" fill="#4f6e2c" stroke="#23380f" stroke-width="0.8" stroke-linejoin="round"/>
<polygon points="104.6,509.5 104.8,509.1 105.1,508.7 105.3,508.4 105.5,508.0 105.7,507.6 105.9,507.3 106.1,506.9 106.3,506.6 106.5,506.2 106.6,505.8 106.8,505.5 107.0,505.1 107.1,504.7 107.2,504.3 107.4,504.0 107.5,503.6 107.6,503.2 107.8,502.8 107.9,502.4 108.0,502.0 108.1,501.6 108.2,501.3 108.3,501.0 108.4,500.7 108.5,500.5 108.5,500.2 108.6,500.0 108.7,499.7 108.8,499.4 111.0,501.9 110.9,502.3 110.8,502.6 110.7,502.9 110.6,503.2 110.5,503.6 110.4,503.9 110.3,504.2 110.1,504.6 110.0,505.0 109.9,505.4 109.7,505.9 109.6,506.3 109.5,506.8 109.4,507.2 109.2,507.6 109.1,508.0 109.0,508.4 108.8,508.8 108.7,509.2 108.5,509.6 108.3,510.0 108.1,510.4 107.9,510.7 107.7,511.1 107.5,511.5 107.3,511.9 107.0,512.2 106.8,512.6 106.5,513.0" fill="#4f6e2c" stroke="#23380f" stroke-width="0.8" stroke-linejoin="round"/>
<polygon points="108.8,499.4 108.8,499.0 108.9,498.6 108.9,498.0 109.0,497.4 109.1,496.7 109.1,495.9 109.2,495.0 109.3,493.9 109.3,492.8 109.4,491.5 109.5,490.1 109.6,488.7 112.5,490.1 112.3,491.7 112.2,493.2 112.1,494.6 111.9,495.8 111.8,497.0 111.7,498.0 111.6,498.9 111.4,499.7 111.3,500.4 111.2,501.0 111.1,501.5 111.0,501.9" fill="#4f6e2c" stroke="#23380f" stroke-width="0.8" stroke-linejoin="round"/>
<polygon points="109.6,488.7 109.7,487.2 109.7,485.6 109.8,483.9 109.9,482.3 110.0,480.5 110.0,478.8 110.1,477.0 113.5,477.4 113.4,479.3 113.2,481.2 113.1,483.0 112.9,484.9 112.8,486.7 112.6,488.4 112.5,490.1" fill="#4f6e2c" stroke="#23380f" stroke-width="0.8" stroke-linejoin="round"/>
<polygon points="110.1,477.0 110.2,475.3 110.2,473.5 110.3,471.7 110.3,470.0 110.3,468.3 110.4,466.6 114.2,466.5 114.1,468.2 114.0,470.0 113.9,471.8 113.8,473.6 113.6,475.5 113.5,477.4" fill="#4f6e2c" stroke="#23380f" stroke-width="0.8" stroke-linejoin="round"/>
<polygon points="110.4,466.6 110.4,464.9 110.4,463.3 110.4,461.6 110.4,459.9 110.4,458.2 110.3,456.4 114.7,456.3 114.6,458.1 114.5,459.8 114.4,461.5 114.4,463.1 114.3,464.8 114.2,466.5" fill="#4f6e2c" stroke="#23380f" stroke-width="0.8" stroke-linejoin="round"/>
<polygon points="110.3,456.4 110.3,454.6 110.3,452.8 110.3,450.9 110.3,448.9 110.4,446.8 110.4,444.6 115.2,444.6 115.1,446.8 115.0,448.8 114.9,450.8 114.8,452.7 114.7,454.5 114.7,456.3" fill="#4f6e2c" stroke="#23380f" stroke-width="0.8" stroke-linejoin="round"/>
<polygon points="110.4,444.6 110.4,442.4 110.5,440.0 110.6,437.4 110.7,434.5 110.8,431.4 115.9,431.4 115.7,434.5 115.5,437.4 115.4,440.0 115.3,442.4 115.2,444.6" fill="#4f6e2c" stroke="#23380f" stroke-width="0.8" stroke-linejoin="round"/>
<polygon points="110.8,431.4 110.9,428.1 111.1,424.7 111.2,421.2 111.4,417.7 116.7,417.7 116.5,421.2 116.3,424.7 116.1,428.1 115.9,431.4" fill="#4f6e2c" stroke="#23380f" stroke-width="0.8" stroke-linejoin="round"/>
<polygon points="111.4,417.7 111.5,414.1 111.7,410.6 111.8,407.3 117.4,407.3 117.2,410.6 116.9,414.1 116.7,417.7" fill="#4f6e2c" stroke="#23380f" stroke-width="0.8" stroke-linejoin="round"/>
<polygon points="111.8,407.3 112.0,404.1 112.1,401.0 112.2,398.3 112.3,395.8 112.4,393.7 112.5,392.0 118.3,392.0 118.2,393.7 118.1,395.8 117.9,398.3 117.7,401.0 117.6,404.1 117.4,407.3" fill="#4f6e2c" stroke="#23380f" stroke-width="0.8" stroke-linejoin="round"/>
<circle cx="75.4" cy="398.9" r="0.8" fill="#9cc06a"/>
<circle cx="75.2" cy="412.4" r="0.8" fill="#9cc06a"/>
<circle cx="75.0" cy="422.9" r="0.8" fill="#9cc06a"/>
<circle cx="74.8" cy="434.3" r="0.8" fill="#9cc06a"/>
<circle cx="74.7" cy="445.6" r="0.8" fill="#9cc06a"/>
<circle cx="74.5" cy="456.3" r="0.8" fill="#9cc06a"/>
<circle cx="74.5" cy="467.5" r="0.8" fill="#9cc06a"/>
<circle cx="75.0" cy="479.0" r="0.8" fill="#9cc06a"/>
<circle cx="76.0" cy="491.2" r="0.8" fill="#9cc06a"/>
<circle cx="77.8" cy="502.1" r="0.8" fill="#9cc06a"/>
<circle cx="82.6" cy="511.3" r="0.8" fill="#9cc06a"/>
<circle cx="92.0" cy="517.6" r="0.8" fill="#9cc06a"/>
<circle cx="101.8" cy="514.8" r="0.8" fill="#9cc06a"/>
<circle cx="108.1" cy="505.8" r="0.8" fill="#9cc06a"/>
<circle cx="110.4" cy="496.2" r="0.8" fill="#9cc06a"/>
<circle cx="111.4" cy="483.4" r="0.8" fill="#9cc06a"/>
<circle cx="112.1" cy="471.8" r="0.8" fill="#9cc06a"/>
<circle cx="112.4" cy="461.5" r="0.8" fill="#9cc06a"/>
<circle cx="112.6" cy="450.7" r="0.8" fill="#9cc06a"/>
<circle cx="113.0" cy="438.4" r="0.8" fill="#9cc06a"/>
<circle cx="113.7" cy="424.6" r="0.8" fill="#9cc06a"/>
<circle cx="114.3" cy="412.4" r="0.8" fill="#9cc06a"/>
<circle cx="115.0" cy="398.9" r="0.8" fill="#9cc06a"/>
<clipPath id="ya0_0"><path d="M78.3,392.0 L78.3,394.4 L78.3,397.4 L78.2,401.0 L78.2,405.1 L78.2,409.5 L78.1,414.1 L78.1,418.8 L78.1,423.6 L78.0,428.1 L78.0,432.5 L77.9,436.5 L77.9,440.0 L77.8,443.2 L77.8,446.2 L77.7,449.0 L77.6,451.7 L77.6,454.3 L77.5,456.8 L77.4,459.1 L77.3,461.4 L77.3,463.6 L77.2,465.8 L77.2,467.9 L77.2,470.0 L77.2,472.0 L77.2,474.0 L77.2,475.9 L77.3,477.8 L77.3,479.5 L77.4,481.2 L77.5,482.9 L77.5,484.4 L77.6,485.9 L77.7,487.4 L77.7,488.7 L77.8,490.0 L77.9,491.2 L78.0,492.4 L78.0,493.4 L78.1,494.4 L78.2,495.4 L78.3,496.2 L78.4,497.0 L78.5,497.8 L78.6,498.4 L78.7,499.0 L78.8,499.5 L78.8,500.0 Q78.8,516.3 90.8,516.3 L97.2,516.3 Q109.2,516.3 109.2,500.0 L109.2,500.0 L109.2,499.5 L109.3,499.0 L109.3,498.4 L109.4,497.8 L109.4,497.0 L109.5,496.2 L109.5,495.4 L109.6,494.4 L109.6,493.4 L109.7,492.4 L109.8,491.2 L109.8,490.0 L109.8,488.7 L109.9,487.4 L109.9,485.9 L110.0,484.4 L110.0,482.9 L110.1,481.2 L110.1,479.5 L110.2,477.8 L110.2,475.9 L110.2,474.0 L110.3,472.0 L110.3,470.0 L110.3,467.9 L110.3,465.8 L110.3,463.6 L110.3,461.4 L110.3,459.1 L110.3,456.8 L110.3,454.3 L110.3,451.7 L110.3,449.0 L110.4,446.2 L110.4,443.2 L110.5,440.0 L110.6,436.5 L110.8,432.5 L110.9,428.1 L111.1,423.6 L111.3,418.8 L111.5,414.1 L111.7,409.5 L111.9,405.1 L112.1,401.0 L112.3,397.4 L112.4,394.4 L112.5,392.0 Z"/></clipPath>
<g clip-path="url(#ya0_0)">
<polygon points="78.0,392.6 84.0,392.6 83.9,520.3 78.5,520.3" fill="#4a3f0c" stroke="none" stroke-width="0" stroke-linejoin="round"/>
<polygon points="78.9,393.4 83.6,394.0 83.2,407.6 78.7,407.6" fill="#f9eb45" stroke="none" stroke-width="0" stroke-linejoin="round"/>
<polygon points="78.7,408.5 83.0,408.0 82.9,418.6 78.6,418.6" fill="#f9eb45" stroke="none" stroke-width="0" stroke-linejoin="round"/>
<polygon points="78.8,419.5 83.2,419.8 82.9,430.6 78.5,430.6" fill="#f9eb45" stroke="none" stroke-width="0" stroke-linejoin="round"/>
<polygon points="78.3,431.5 82.5,431.4 82.4,446.2 78.1,446.2" fill="#f9eb45" stroke="none" stroke-width="0" stroke-linejoin="round"/>
<polygon points="78.0,447.1 82.5,447.3 82.3,456.4 77.8,456.4" fill="#f9eb45" stroke="none" stroke-width="0" stroke-linejoin="round"/>
<polygon points="77.8,457.3 82.5,458.0 82.2,468.4 77.6,468.4" fill="#f9eb45" stroke="none" stroke-width="0" stroke-linejoin="round"/>
<polygon points="77.3,469.3 81.7,469.8 82.0,480.0 77.7,480.0" fill="#f9eb45" stroke="none" stroke-width="0" stroke-linejoin="round"/>
<polygon points="78.0,480.9 82.2,480.6 82.4,488.3 78.2,488.3" fill="#f9eb45" stroke="none" stroke-width="0" stroke-linejoin="round"/>
<polygon points="77.8,489.2 82.2,489.2 83.0,498.3 78.9,498.3" fill="#f9eb45" stroke="none" stroke-width="0" stroke-linejoin="round"/>
<polygon points="79.3,499.2 82.9,498.7 83.1,504.1 79.3,504.1" fill="#f9eb45" stroke="none" stroke-width="0" stroke-linejoin="round"/>
<polygon points="79.3,505.0 83.2,505.2 83.2,510.0 79.3,510.0" fill="#f9eb45" stroke="none" stroke-width="0" stroke-linejoin="round"/>
<polygon points="79.4,510.9 83.5,511.1 83.4,519.2 79.3,519.2" fill="#f9eb45" stroke="none" stroke-width="0" stroke-linejoin="round"/>
<polygon points="83.4,391.3 88.6,391.3 88.0,520.3 83.3,520.3" fill="#4a3f0c" stroke="none" stroke-width="0" stroke-linejoin="round"/>
<polygon points="83.9,392.1 87.5,392.1 87.5,406.6 83.9,406.6" fill="#f9eb45" stroke="none" stroke-width="0" stroke-linejoin="round"/>
<polygon points="83.8,407.5 87.5,407.3 87.3,420.3 83.7,420.3" fill="#f9eb45" stroke="none" stroke-width="0" stroke-linejoin="round"/>
<polygon points="83.8,421.2 87.5,421.5 87.2,433.9 83.6,433.9" fill="#f9eb45" stroke="none" stroke-width="0" stroke-linejoin="round"/>
<polygon points="83.8,434.8 87.4,434.2 87.0,445.0 83.5,445.0" fill="#f9eb45" stroke="none" stroke-width="0" stroke-linejoin="round"/>
<polygon points="83.5,445.9 86.6,445.9 86.4,460.5 83.1,460.5" fill="#f9eb45" stroke="none" stroke-width="0" stroke-linejoin="round"/>
<polygon points="83.3,461.4 86.5,461.5 86.4,473.5 83.0,473.5" fill="#f9eb45" stroke="none" stroke-width="0" stroke-linejoin="round"/>
<polygon points="83.1,474.4 86.8,474.3 86.8,488.5 83.4,488.5" fill="#f9eb45" stroke="none" stroke-width="0" stroke-linejoin="round"/>
<polygon points="83.1,489.4 86.8,489.9 87.2,497.8 83.8,497.8" fill="#f9eb45" stroke="none" stroke-width="0" stroke-linejoin="round"/>
<polygon points="84.1,498.7 87.0,499.2 87.2,507.0 84.1,507.0" fill="#f9eb45" stroke="none" stroke-width="0" stroke-linejoin="round"/>
<polygon points="84.4,507.9 87.3,508.3 87.3,518.0 84.2,518.0" fill="#f9eb45" stroke="none" stroke-width="0" stroke-linejoin="round"/>
<polygon points="88.0,392.1 93.2,392.1 92.1,520.3 87.4,520.3" fill="#4a3f0c" stroke="none" stroke-width="0" stroke-linejoin="round"/>
<polygon points="89.0,392.9 92.4,392.4 92.0,410.4 88.5,410.4" fill="#f9eb45" stroke="none" stroke-width="0" stroke-linejoin="round"/>
<polygon points="88.4,411.3 92.2,411.3 91.8,421.9 88.2,421.9" fill="#f9eb45" stroke="none" stroke-width="0" stroke-linejoin="round"/>
<polygon points="88.4,422.8 91.4,423.3 91.4,430.2 88.1,430.2" fill="#f9eb45" stroke="none" stroke-width="0" stroke-linejoin="round"/>
<polygon points="87.9,431.1 91.7,430.6 91.5,439.6 87.8,439.6" fill="#f9eb45" stroke="none" stroke-width="0" stroke-linejoin="round"/>
<polygon points="87.9,440.5 91.5,440.9 91.3,448.7 87.7,448.7" fill="#f9eb45" stroke="none" stroke-width="0" stroke-linejoin="round"/>
<polygon points="88.0,449.6 91.2,450.3 91.0,462.3 87.5,462.3" fill="#f9eb45" stroke="none" stroke-width="0" stroke-linejoin="round"/>
<polygon points="87.2,463.2 91.0,462.9 90.9,471.0 87.2,471.0" fill="#f9eb45" stroke="none" stroke-width="0" stroke-linejoin="round"/>
<polygon points="87.4,471.9 90.9,472.3 91.0,484.8 87.5,484.8" fill="#f9eb45" stroke="none" stroke-width="0" stroke-linejoin="round"/>
<polygon points="87.3,485.7 90.9,486.2 91.1,493.5 87.7,493.5" fill="#f9eb45" stroke="none" stroke-width="0" stroke-linejoin="round"/>
<polygon points="87.5,494.4 91.4,495.1 91.5,504.2 88.0,504.2" fill="#f9eb45" stroke="none" stroke-width="0" stroke-linejoin="round"/>
<polygon points="88.2,505.1 91.1,505.1 91.2,512.7 88.1,512.7" fill="#f9eb45" stroke="none" stroke-width="0" stroke-linejoin="round"/>
<polygon points="88.2,513.6 91.0,514.3 91.2,519.8 88.1,519.8" fill="#f9eb45" stroke="none" stroke-width="0" stroke-linejoin="round"/>
<polygon points="92.5,395.4 98.6,395.4 96.9,520.3 91.5,520.3" fill="#4a3f0c" stroke="none" stroke-width="0" stroke-linejoin="round"/>
<polygon points="93.5,396.2 97.9,396.2 97.5,410.2 93.0,410.2" fill="#f9eb45" stroke="none" stroke-width="0" stroke-linejoin="round"/>
<polygon points="92.6,411.1 97.5,410.9 97.1,423.7 92.4,423.7" fill="#f9eb45" stroke="none" stroke-width="0" stroke-linejoin="round"/>
<polygon points="92.9,424.6 96.9,424.5 96.5,439.3 92.4,439.3" fill="#f9eb45" stroke="none" stroke-width="0" stroke-linejoin="round"/>
<polygon points="92.2,440.2 96.8,440.8 96.6,448.4 92.0,448.4" fill="#f9eb45" stroke="none" stroke-width="0" stroke-linejoin="round"/>
<polygon points="91.9,449.3 96.2,449.4 96.2,460.2 91.8,460.2" fill="#f9eb45" stroke="none" stroke-width="0" stroke-linejoin="round"/>
<polygon points="91.6,461.1 96.5,460.4 96.3,475.6 91.6,475.6" fill="#f9eb45" stroke="none" stroke-width="0" stroke-linejoin="round"/>
<polygon points="91.5,476.5 96.3,476.2 96.2,485.1 91.7,485.1" fill="#f9eb45" stroke="none" stroke-width="0" stroke-linejoin="round"/>
<polygon points="91.9,486.0 95.9,486.3 96.0,492.7 92.0,492.7" fill="#f9eb45" stroke="none" stroke-width="0" stroke-linejoin="round"/>
<polygon points="91.9,493.6 96.0,493.2 96.1,499.0 92.2,499.0" fill="#f9eb45" stroke="none" stroke-width="0" stroke-linejoin="round"/>
<polygon points="92.1,499.9 96.1,499.8 96.2,507.6 92.2,507.6" fill="#f9eb45" stroke="none" stroke-width="0" stroke-linejoin="round"/>
<polygon points="91.9,508.5 96.0,508.7 96.1,516.1 92.1,516.1" fill="#f9eb45" stroke="none" stroke-width="0" stroke-linejoin="round"/>
<polygon points="92.2,517.0 96.5,517.2 96.4,519.8 92.2,519.8" fill="#f9eb45" stroke="none" stroke-width="0" stroke-linejoin="round"/>
<polygon points="97.9,396.3 102.6,396.3 100.6,520.3 96.3,520.3" fill="#4a3f0c" stroke="none" stroke-width="0" stroke-linejoin="round"/>
<polygon points="98.8,397.1 102.1,397.7 101.6,409.9 98.4,409.9" fill="#f9eb45" stroke="none" stroke-width="0" stroke-linejoin="round"/>
<polygon points="98.2,410.8 101.8,410.4 101.3,420.4 98.0,420.4" fill="#f9eb45" stroke="none" stroke-width="0" stroke-linejoin="round"/>
<polygon points="98.3,421.3 100.9,420.9 100.5,436.4 97.7,436.4" fill="#f9eb45" stroke="none" stroke-width="0" stroke-linejoin="round"/>
<polygon points="97.4,437.3 100.3,437.8 100.2,450.2 97.2,450.2" fill="#f9eb45" stroke="none" stroke-width="0" stroke-linejoin="round"/>
<polygon points="97.4,451.1 100.1,451.0 100.1,461.6 97.2,461.6" fill="#f9eb45" stroke="none" stroke-width="0" stroke-linejoin="round"/>
<polygon points="96.8,462.5 100.0,462.7 100.0,475.1 96.8,475.1" fill="#f9eb45" stroke="none" stroke-width="0" stroke-linejoin="round"/>
<polygon points="97.3,476.0 99.9,476.0 99.9,490.4 97.2,490.4" fill="#f9eb45" stroke="none" stroke-width="0" stroke-linejoin="round"/>
<polygon points="97.0,491.3 100.1,490.8 99.9,500.2 97.1,500.2" fill="#f9eb45" stroke="none" stroke-width="0" stroke-linejoin="round"/>
<polygon points="96.8,501.1 99.6,501.2 99.7,506.2 96.9,506.2" fill="#f9eb45" stroke="none" stroke-width="0" stroke-linejoin="round"/>
<polygon points="97.1,507.1 99.6,506.6 99.8,514.7 97.1,514.7" fill="#f9eb45" stroke="none" stroke-width="0" stroke-linejoin="round"/>
<polygon points="97.3,515.6 100.2,516.2 100.1,519.8 97.2,519.8" fill="#f9eb45" stroke="none" stroke-width="0" stroke-linejoin="round"/>
<polygon points="102.2,392.1 108.1,392.1 105.4,520.3 100.0,520.3" fill="#4a3f0c" stroke="none" stroke-width="0" stroke-linejoin="round"/>
<polygon points="103.2,392.9 107.4,393.3 106.9,404.5 102.6,404.5" fill="#f9eb45" stroke="none" stroke-width="0" stroke-linejoin="round"/>
<polygon points="102.4,405.4 106.9,405.3 106.6,415.1 102.2,415.1" fill="#f9eb45" stroke="none" stroke-width="0" stroke-linejoin="round"/>
<polygon points="101.8,416.0 106.7,416.5 106.1,427.9 101.5,427.9" fill="#f9eb45" stroke="none" stroke-width="0" stroke-linejoin="round"/>
<polygon points="101.7,428.8 106.2,428.7 105.8,437.4 101.5,437.4" fill="#f9eb45" stroke="none" stroke-width="0" stroke-linejoin="round"/>
<polygon points="101.2,438.3 105.7,437.6 105.5,446.9 101.1,446.9" fill="#f9eb45" stroke="none" stroke-width="0" stroke-linejoin="round"/>
<polygon points="101.5,447.8 105.7,448.3 105.5,462.1 101.2,462.1" fill="#f9eb45" stroke="none" stroke-width="0" stroke-linejoin="round"/>
<polygon points="101.0,463.0 105.5,463.0 105.3,475.1 100.9,475.1" fill="#f9eb45" stroke="none" stroke-width="0" stroke-linejoin="round"/>
<polygon points="101.2,476.0 105.1,476.6 104.9,491.0 100.9,491.0" fill="#f9eb45" stroke="none" stroke-width="0" stroke-linejoin="round"/>
<polygon points="101.0,491.9 105.2,491.7 104.7,500.7 100.8,500.7" fill="#f9eb45" stroke="none" stroke-width="0" stroke-linejoin="round"/>
<polygon points="101.0,501.6 104.8,502.0 104.7,511.3 100.9,511.3" fill="#f9eb45" stroke="none" stroke-width="0" stroke-linejoin="round"/>
<polygon points="100.7,512.2 104.8,511.6 104.7,519.8 100.7,519.8" fill="#f9eb45" stroke="none" stroke-width="0" stroke-linejoin="round"/>
<polygon points="107.5,392.1 112.8,392.1 109.5,520.3 104.8,520.3" fill="#4a3f0c" stroke="none" stroke-width="0" stroke-linejoin="round"/>
<polygon points="107.9,392.9 112.0,393.1 111.2,407.3 107.4,407.3" fill="#f9eb45" stroke="none" stroke-width="0" stroke-linejoin="round"/>
<polygon points="107.4,408.2 111.6,408.5 111.0,420.3 107.1,420.3" fill="#f9eb45" stroke="none" stroke-width="0" stroke-linejoin="round"/>
<polygon points="107.3,421.2 110.9,421.3 110.4,431.0 106.8,431.0" fill="#f9eb45" stroke="none" stroke-width="0" stroke-linejoin="round"/>
<polygon points="107.1,431.9 110.4,432.2 110.1,442.1 106.6,442.1" fill="#f9eb45" stroke="none" stroke-width="0" stroke-linejoin="round"/>
<polygon points="106.7,443.0 109.7,443.2 109.7,456.2 106.4,456.2" fill="#f9eb45" stroke="none" stroke-width="0" stroke-linejoin="round"/>
<polygon points="106.1,457.1 109.8,456.5 109.8,470.1 106.1,470.1" fill="#f9eb45" stroke="none" stroke-width="0" stroke-linejoin="round"/>
<polygon points="106.1,471.0 109.6,470.7 109.6,479.7 106.0,479.7" fill="#f9eb45" stroke="none" stroke-width="0" stroke-linejoin="round"/>
<polygon points="106.1,480.6 109.7,481.3 109.1,495.0 105.7,495.0" fill="#f9eb45" stroke="none" stroke-width="0" stroke-linejoin="round"/>
<polygon points="106.0,495.9 109.2,496.3 108.8,503.7 105.7,503.7" fill="#f9eb45" stroke="none" stroke-width="0" stroke-linejoin="round"/>
<polygon points="105.5,504.6 109.0,504.0 108.9,509.8 105.5,509.8" fill="#f9eb45" stroke="none" stroke-width="0" stroke-linejoin="round"/>
<polygon points="105.2,510.7 108.8,510.2 108.8,519.8 105.4,519.8" fill="#f9eb45" stroke="none" stroke-width="0" stroke-linejoin="round"/>
</g>
<polygon points="351.5,452.9 352.7,468.9 349.7,469.1 348.5,453.1" fill="#8cc25a" stroke="#263d12" stroke-width="0.7" stroke-linejoin="round"/>
<polygon points="349.8,469.3 360.3,503.7 357.2,504.7 346.7,470.3" fill="#8cc25a" stroke="#263d12" stroke-width="0.7" stroke-linejoin="round"/>
<polygon points="354.6,489.2 362.2,509.8 359.4,510.8 351.8,490.2" fill="#8cc25a" stroke="#263d12" stroke-width="0.7" stroke-linejoin="round"/>
<polygon points="357.9,519.7 370.1,542.7 367.1,544.3 354.9,521.3" fill="#8cc25a" stroke="#263d12" stroke-width="0.7" stroke-linejoin="round"/>
<polygon points="362.7,529.4 372.4,549.1 369.3,550.6 359.6,530.9" fill="#8cc25a" stroke="#263d12" stroke-width="0.7" stroke-linejoin="round"/>
<polygon points="439.9,460.2 438.3,476.1 435.7,475.8 437.3,459.9" fill="#8cc25a" stroke="#263d12" stroke-width="0.7" stroke-linejoin="round"/>
<polygon points="440.0,480.4 436.5,500.1 434.0,499.6 437.5,479.9" fill="#8cc25a" stroke="#263d12" stroke-width="0.7" stroke-linejoin="round"/>
<polygon points="438.6,502.8 433.1,522.0 430.4,521.2 435.9,502.0" fill="#8cc25a" stroke="#263d12" stroke-width="0.7" stroke-linejoin="round"/>
<polygon points="435.7,524.1 428.9,542.9 426.3,541.9 433.1,523.1" fill="#8cc25a" stroke="#263d12" stroke-width="0.7" stroke-linejoin="round"/>
<polygon points="353.8,392.0 353.8,393.7 353.8,395.8 353.9,398.3 353.9,401.0 354.0,404.1 354.0,407.3 354.1,410.6 354.1,414.1 354.1,417.7 354.2,421.2 354.2,424.7 354.3,428.1 354.3,431.4 354.3,434.5 354.3,437.4 354.3,440.0 354.3,442.4 354.2,444.6 354.2,446.8 354.1,448.8 354.0,450.8 353.9,452.7 353.8,454.5 353.7,456.3 353.6,458.1 353.5,459.8 353.5,461.5 353.4,463.1 353.4,464.8 353.4,466.5 353.4,468.2 353.5,470.0 353.6,471.8 353.7,473.5 353.9,475.3 354.1,477.1 354.3,478.8 354.5,480.5 354.8,482.2 355.0,483.9 355.3,485.6 355.5,487.3 355.8,489.0 356.1,490.6 356.3,492.2 356.6,493.8 356.8,495.4 357.0,497.0 357.2,498.5 357.4,500.1 357.6,501.6 357.8,503.1 357.9,504.5 358.1,506.0 358.3,507.4 358.4,508.8 358.6,510.2 358.8,511.6 359.0,513.0 359.2,514.4 359.4,515.8 359.6,517.2 359.8,518.6 360.0,520.0 360.2,521.4 360.4,522.7 360.7,524.0 360.9,525.3 361.1,526.6 361.3,527.9 361.5,529.2 361.8,530.4 362.0,531.7 362.3,533.1 362.6,534.4 362.9,535.8 363.2,537.3 363.6,538.8 364.0,540.4 364.5,542.0 365.0,543.7 365.5,545.6 366.0,547.6 366.5,549.6 367.1,551.7 367.6,553.8 368.2,556.0 368.8,558.2 369.5,560.3 370.2,562.5 371.0,564.6 371.8,566.6 372.6,568.6 373.5,570.5 374.5,572.3 375.5,574.0 376.6,575.6 377.8,577.3 379.1,579.0 380.5,580.7 381.9,582.3 383.4,583.9 384.9,585.5 386.5,587.0 388.0,588.3 389.6,589.6 391.2,590.7 392.7,591.7 394.2,592.4 395.7,593.0 397.1,593.4 398.5,593.5 399.8,593.4 401.2,593.0 402.5,592.4 403.9,591.6 405.2,590.6 406.5,589.5 407.8,588.2 409.1,586.8 410.3,585.4 411.6,583.8 412.8,582.2 413.9,580.5 415.0,578.9 416.1,577.2 417.1,575.6 418.0,574.0 418.9,572.4 419.7,570.7 420.5,568.9 421.2,567.1 421.9,565.1 422.5,563.2 423.1,561.2 423.7,559.2 424.3,557.1 424.8,555.1 425.3,553.1 425.8,551.2 426.2,549.3 426.6,547.4 427.1,545.7 427.5,544.0 427.9,542.4 428.3,540.9 428.6,539.4 428.9,538.0 429.1,536.6 429.4,535.3 429.6,534.0 429.8,532.7 430.0,531.4 430.2,530.1 430.4,528.8 430.5,527.5 430.7,526.2 430.9,524.8 431.2,523.4 431.4,522.0 431.7,520.5 431.9,519.0 432.2,517.5 432.5,516.0 432.7,514.5 433.0,512.9 433.3,511.4 433.6,509.8 433.8,508.2 434.1,506.7 434.4,505.1 434.6,503.5 434.9,501.9 435.1,500.2 435.3,498.6 435.5,497.0 435.7,495.4 435.9,493.7 436.0,492.1 436.2,490.5 436.3,488.8 436.5,487.2 436.6,485.5 436.8,483.8 436.9,482.1 437.0,480.4 437.1,478.7 437.2,477.0 437.3,475.3 437.4,473.5 437.4,471.8 437.5,470.0 437.5,468.2 437.6,466.5 437.6,464.8 437.5,463.1 437.5,461.4 437.4,459.7 437.4,457.9 437.3,456.2 437.3,454.4 437.3,452.6 437.2,450.7 437.2,448.7 437.3,446.7 437.3,444.5 437.4,442.3 437.5,440.0 437.7,437.5 437.9,434.7 438.1,431.7 438.4,428.5 438.7,425.3 439.1,421.9 439.4,418.5 439.8,415.1 440.1,411.8 440.4,408.6 440.8,405.5 441.1,402.6 441.4,400.0 441.6,397.7 441.8,395.6 442.0,394.0 421.3,392.0 421.2,393.7 421.1,395.8 420.9,398.3 420.7,401.0 420.6,404.1 420.4,407.3 420.2,410.6 419.9,414.1 419.7,417.7 419.5,421.2 419.3,424.7 419.1,428.1 418.9,431.4 418.7,434.5 418.5,437.4 418.4,440.0 418.3,442.4 418.2,444.6 418.1,446.8 418.0,448.8 417.9,450.8 417.8,452.7 417.7,454.5 417.7,456.3 417.6,458.1 417.5,459.8 417.4,461.5 417.4,463.1 417.3,464.8 417.2,466.5 417.1,468.2 417.0,470.0 416.9,471.8 416.8,473.6 416.6,475.5 416.5,477.4 416.4,479.3 416.2,481.2 416.1,483.0 415.9,484.9 415.8,486.7 415.6,488.4 415.5,490.1 415.3,491.7 415.2,493.2 415.1,494.6 414.9,495.8 414.8,497.0 414.7,498.0 414.6,498.9 414.4,499.7 414.3,500.4 414.2,501.0 414.1,501.5 414.0,501.9 413.9,502.3 413.8,502.6 413.7,502.9 413.6,503.2 413.5,503.6 413.4,503.9 413.3,504.2 413.1,504.6 413.0,505.0 412.9,505.4 412.7,505.9 412.6,506.3 412.5,506.8 412.4,507.2 412.2,507.6 412.1,508.0 411.9,508.4 411.8,508.8 411.7,509.2 411.5,509.6 411.3,510.0 411.1,510.4 410.9,510.7 410.7,511.1 410.5,511.5 410.3,511.9 410.0,512.2 409.8,512.6 409.5,513.0 409.2,513.4 409.0,513.7 408.7,514.1 408.4,514.4 408.1,514.8 407.7,515.1 407.4,515.5 407.1,515.8 406.7,516.1 406.3,516.4 405.9,516.7 405.5,517.0 405.1,517.3 404.6,517.6 404.1,517.9 403.6,518.2 403.1,518.5 402.6,518.8 402.0,519.0 401.5,519.3 400.9,519.6 400.3,519.8 399.8,520.0 399.2,520.2 398.6,520.3 398.1,520.4 397.5,520.5 397.0,520.5 396.5,520.5 395.9,520.4 395.4,520.3 394.8,520.2 394.2,520.0 393.7,519.8 393.1,519.6 392.6,519.3 392.0,519.0 391.5,518.8 390.9,518.5 390.4,518.2 389.9,517.9 389.4,517.6 388.9,517.3 388.5,517.0 388.1,516.7 387.7,516.4 387.2,516.1 386.9,515.8 386.5,515.5 386.1,515.1 385.8,514.8 385.4,514.4 385.1,514.1 384.7,513.7 384.4,513.4 384.1,513.0 383.8,512.6 383.5,512.2 383.3,511.9 383.0,511.5 382.7,511.1 382.5,510.7 382.3,510.4 382.1,510.0 381.9,509.6 381.7,509.2 381.5,508.8 381.3,508.4 381.1,508.0 381.0,507.6 380.8,507.2 380.6,506.8 380.5,506.3 380.3,505.9 380.2,505.4 380.0,505.0 379.8,504.6 379.7,504.2 379.5,503.9 379.4,503.6 379.2,503.2 379.1,502.9 378.9,502.6 378.8,502.3 378.6,501.9 378.5,501.5 378.4,501.0 378.2,500.4 378.1,499.7 377.9,498.9 377.8,498.0 377.6,497.0 377.4,495.8 377.3,494.6 377.1,493.2 376.9,491.7 376.7,490.1 376.5,488.4 376.3,486.7 376.1,484.9 375.9,483.0 375.7,481.2 375.5,479.3 375.3,477.4 375.2,475.5 375.0,473.6 374.9,471.8 374.8,470.0 374.7,468.2 374.6,466.5 374.6,464.8 374.5,463.1 374.5,461.5 374.5,459.8 374.5,458.1 374.4,456.3 374.5,454.5 374.5,452.7 374.5,450.8 374.5,448.8 374.5,446.8 374.5,444.6 374.6,442.4 374.6,440.0 374.6,437.4 374.7,434.5 374.8,431.4 374.8,428.1 374.9,424.7 375.0,421.2 375.1,417.7 375.2,414.1 375.3,410.6 375.4,407.3 375.5,404.1 375.6,401.0 375.6,398.3 375.7,395.8 375.8,393.7 375.8,392.0" fill="#8fc35c" stroke="#263d12" stroke-width="0.85" stroke-linejoin="round"/>
<polygon points="374.5,452.7 374.5,454.5 374.4,456.3 374.5,458.1 374.5,459.8 374.5,461.5 371.4,461.5 371.7,459.8 372.0,458.1 372.3,456.3 372.7,454.5 373.0,452.7" fill="#93c562" stroke="#263d12" stroke-width="0.85" stroke-linejoin="round"/>
<polygon points="374.5,461.5 374.5,463.1 374.6,464.8 374.6,466.5 374.7,468.2 374.8,470.0 370.5,470.0 370.6,468.2 370.7,466.5 370.9,464.8 371.1,463.1 371.4,461.5" fill="#94c562" stroke="#263d12" stroke-width="0.85" stroke-linejoin="round"/>
<polygon points="374.8,470.0 374.9,471.8 375.0,473.6 375.2,475.5 375.3,477.4 375.5,479.3 370.9,479.2 370.7,477.3 370.6,475.5 370.6,473.6 370.5,471.8 370.5,470.0" fill="#94c563" stroke="#263d12" stroke-width="0.85" stroke-linejoin="round"/>
<polygon points="375.5,479.3 375.7,481.2 375.9,483.0 376.1,484.9 376.3,486.7 371.7,486.5 371.4,484.7 371.2,482.9 371.0,481.1 370.9,479.2" fill="#94c563" stroke="#263d12" stroke-width="0.85" stroke-linejoin="round"/>
<polygon points="376.3,486.7 376.5,488.4 376.7,490.1 376.9,491.7 377.1,493.2 377.3,494.6 372.9,494.4 372.6,493.0 372.4,491.5 372.1,489.9 371.9,488.2 371.7,486.5" fill="#94c563" stroke="#263d12" stroke-width="0.85" stroke-linejoin="round"/>
<polygon points="377.3,494.6 377.4,495.8 377.6,497.0 377.8,498.0 377.9,498.9 378.1,499.7 378.2,500.4 378.4,501.0 378.5,501.5 378.6,501.9 374.6,502.9 374.4,502.3 374.2,501.6 374.0,500.9 373.8,500.0 373.7,499.1 373.5,498.1 373.3,497.0 373.1,495.8 372.9,494.4" fill="#95c664" stroke="#263d12" stroke-width="0.85" stroke-linejoin="round"/>
<polygon points="378.6,501.9 378.8,502.3 378.9,502.6 379.1,502.9 379.2,503.2 379.4,503.6 379.5,503.9 379.7,504.2 379.8,504.6 380.0,505.0 380.2,505.4 380.3,505.9 380.5,506.3 380.6,506.8 380.8,507.2 381.0,507.6 381.1,508.0 378.4,510.9 378.1,510.5 377.9,510.0 377.6,509.6 377.4,509.1 377.1,508.6 376.8,508.1 376.6,507.6 376.4,507.0 376.1,506.5 375.9,506.0 375.7,505.5 375.5,505.1 375.2,504.6 375.0,504.1 374.8,503.5 374.6,502.9" fill="#95c664" stroke="#263d12" stroke-width="0.85" stroke-linejoin="round"/>
<polygon points="381.1,508.0 381.3,508.4 381.5,508.8 381.7,509.2 381.9,509.6 382.1,510.0 382.3,510.4 382.5,510.7 382.7,511.1 383.0,511.5 383.3,511.9 383.5,512.2 383.8,512.6 384.1,513.0 384.4,513.4 384.7,513.7 385.1,514.1 383.7,517.5 383.3,517.1 382.9,516.7 382.6,516.3 382.2,515.8 381.8,515.4 381.5,515.0 381.1,514.5 380.8,514.1 380.5,513.7 380.2,513.3 379.9,512.9 379.5,512.5 379.3,512.1 379.0,511.7 378.7,511.3 378.4,510.9" fill="#95c664" stroke="#263d12" stroke-width="0.85" stroke-linejoin="round"/>
<polygon points="385.1,514.1 385.4,514.4 385.8,514.8 386.1,515.1 386.5,515.5 386.9,515.8 387.2,516.1 387.7,516.4 388.1,516.7 388.5,517.0 388.9,517.3 389.4,517.6 389.9,517.9 389.2,522.0 388.6,521.7 388.1,521.3 387.6,521.0 387.1,520.7 386.6,520.3 386.2,519.9 385.7,519.6 385.3,519.2 384.9,518.8 384.5,518.4 384.1,518.0 383.7,517.5" fill="#95c665" stroke="#263d12" stroke-width="0.85" stroke-linejoin="round"/>
<polygon points="389.9,517.9 390.4,518.2 390.9,518.5 391.5,518.8 392.0,519.0 392.6,519.3 393.1,519.6 393.7,519.8 394.2,520.0 394.8,520.2 395.4,520.3 395.9,520.4 395.9,524.8 395.3,524.7 394.7,524.5 394.0,524.3 393.4,524.1 392.8,523.9 392.2,523.6 391.5,523.3 390.9,523.0 390.3,522.7 389.8,522.3 389.2,522.0" fill="#a6cf74" stroke="#263d12" stroke-width="0.85" stroke-linejoin="round"/>
<polygon points="395.9,520.4 396.5,520.5 397.0,520.5 397.5,520.5 398.1,520.4 398.6,520.3 399.2,520.2 399.8,520.0 400.3,519.8 400.9,519.6 401.5,519.3 402.0,519.0 402.6,518.8 403.1,518.5 403.6,518.2 404.3,522.3 403.7,522.6 403.2,523.0 402.6,523.3 402.0,523.6 401.4,523.8 400.7,524.1 400.1,524.3 399.5,524.5 398.9,524.7 398.3,524.8 397.7,524.9 397.1,524.9 396.5,524.9 395.9,524.8" fill="#a6cf74" stroke="#263d12" stroke-width="0.85" stroke-linejoin="round"/>
<polygon points="403.6,518.2 404.1,517.9 404.6,517.6 405.1,517.3 405.5,517.0 405.9,516.7 406.3,516.4 406.7,516.1 407.1,515.8 407.4,515.5 407.7,515.1 408.1,514.8 408.4,514.4 409.6,518.1 409.3,518.5 408.9,518.8 408.5,519.2 408.1,519.6 407.7,520.0 407.3,520.3 406.8,520.7 406.4,521.0 405.9,521.3 405.4,521.6 404.9,522.0 404.3,522.3" fill="#95c665" stroke="#263d12" stroke-width="0.85" stroke-linejoin="round"/>
<polygon points="408.4,514.4 408.7,514.1 409.0,513.7 409.2,513.4 409.5,513.0 409.8,512.6 410.0,512.2 410.3,511.9 410.5,511.5 410.7,511.1 410.9,510.7 411.1,510.4 411.3,510.0 411.5,509.6 413.6,512.8 413.3,513.2 413.1,513.6 412.8,513.9 412.5,514.3 412.2,514.8 411.9,515.2 411.6,515.6 411.3,516.0 411.0,516.4 410.6,516.8 410.3,517.2 410.0,517.6 409.6,518.1" fill="#95c664" stroke="#263d12" stroke-width="0.85" stroke-linejoin="round"/>
<polygon points="411.5,509.6 411.7,509.2 411.8,508.8 411.9,508.4 412.1,508.0 412.2,507.6 412.4,507.2 412.5,506.8 412.6,506.3 412.7,505.9 412.9,505.4 413.0,505.0 413.1,504.6 413.3,504.2 413.4,503.9 413.5,503.6 417.0,505.8 416.8,506.3 416.6,506.8 416.3,507.3 416.1,507.9 415.9,508.4 415.7,508.9 415.5,509.4 415.3,509.9 415.0,510.4 414.8,510.8 414.6,511.2 414.3,511.6 414.1,512.0 413.9,512.4 413.6,512.8" fill="#95c664" stroke="#263d12" stroke-width="0.85" stroke-linejoin="round"/>
<polygon points="413.5,503.6 413.6,503.2 413.7,502.9 413.8,502.6 413.9,502.3 414.0,501.9 414.1,501.5 414.2,501.0 414.3,500.4 414.4,499.7 414.6,498.9 414.7,498.0 414.8,497.0 419.1,497.0 419.0,498.1 418.8,499.2 418.7,500.1 418.5,500.9 418.3,501.7 418.1,502.4 417.9,503.1 417.8,503.7 417.6,504.3 417.4,504.8 417.2,505.3 417.0,505.8" fill="#95c664" stroke="#263d12" stroke-width="0.85" stroke-linejoin="round"/>
<polygon points="414.8,497.0 414.9,495.8 415.1,494.6 415.2,493.2 415.3,491.7 415.5,490.1 415.6,488.4 420.2,488.2 420.0,489.9 419.8,491.5 419.6,493.0 419.5,494.4 419.3,495.8 419.1,497.0" fill="#95c664" stroke="#263d12" stroke-width="0.85" stroke-linejoin="round"/>
<polygon points="415.6,488.4 415.8,486.7 415.9,484.9 416.1,483.0 416.2,481.2 416.4,479.3 420.9,479.2 420.8,481.1 420.6,482.9 420.5,484.7 420.3,486.5 420.2,488.2" fill="#94c563" stroke="#263d12" stroke-width="0.85" stroke-linejoin="round"/>
<polygon points="416.4,479.3 416.5,477.4 416.6,475.5 416.8,473.6 416.9,471.8 417.0,470.0 421.1,470.0 421.1,471.8 421.1,473.6 421.0,475.5 421.0,477.3 420.9,479.2" fill="#94c563" stroke="#263d12" stroke-width="0.85" stroke-linejoin="round"/>
<polygon points="417.0,470.0 417.1,468.2 417.2,466.5 417.3,464.8 417.4,463.1 417.4,461.5 417.5,459.8 420.2,459.8 420.4,461.5 420.6,463.1 420.8,464.8 420.9,466.5 421.0,468.2 421.1,470.0" fill="#94c562" stroke="#263d12" stroke-width="0.85" stroke-linejoin="round"/>
<polygon points="417.5,459.8 417.6,458.1 417.7,456.3 417.7,454.5 417.8,452.7 417.9,450.8 419.0,450.8 419.2,452.7 419.4,454.5 419.7,456.3 419.9,458.1 420.2,459.8" fill="#93c562" stroke="#263d12" stroke-width="0.85" stroke-linejoin="round"/>
<polygon points="375.8,392.0 375.8,393.7 375.7,395.8 375.7,398.3 375.7,401.0 375.6,404.1 363.4,404.1 363.4,401.0 363.4,398.3 363.5,395.8 363.5,393.7 363.5,392.0" fill="#92c460" stroke="#263d12" stroke-width="0.85" stroke-linejoin="round"/>
<polygon points="375.6,404.1 375.6,407.3 375.5,410.6 375.5,414.1 375.4,417.7 363.3,417.7 363.3,414.1 363.4,410.6 363.4,407.3 363.4,404.1" fill="#92c460" stroke="#263d12" stroke-width="0.85" stroke-linejoin="round"/>
<polygon points="375.4,417.7 375.3,421.2 375.2,424.7 375.1,428.1 375.0,431.4 363.2,431.4 363.3,428.1 363.3,424.7 363.3,421.2 363.3,417.7" fill="#92c461" stroke="#263d12" stroke-width="0.85" stroke-linejoin="round"/>
<polygon points="375.0,431.4 374.9,434.5 374.8,437.4 374.6,440.0 374.4,442.4 363.2,442.4 363.2,440.0 363.2,437.4 363.2,434.5 363.2,431.4" fill="#93c461" stroke="#263d12" stroke-width="0.85" stroke-linejoin="round"/>
<polygon points="374.4,442.4 374.2,444.6 373.9,446.8 373.6,448.8 373.3,450.8 373.0,452.7 363.1,452.7 363.1,450.8 363.2,448.8 363.2,446.8 363.2,444.6 363.2,442.4" fill="#93c562" stroke="#263d12" stroke-width="0.85" stroke-linejoin="round"/>
<polygon points="373.0,452.7 372.7,454.5 372.3,456.3 372.0,458.1 371.7,459.8 371.4,461.5 371.1,463.1 363.1,463.1 363.1,461.5 363.1,459.8 363.1,458.1 363.1,456.3 363.1,454.5 363.1,452.7" fill="#93c562" stroke="#263d12" stroke-width="0.85" stroke-linejoin="round"/>
<polygon points="371.1,463.1 370.9,464.8 370.7,466.5 370.6,468.2 370.5,470.0 370.5,471.8 363.7,471.8 363.5,470.0 363.4,468.2 363.3,466.5 363.2,464.8 363.1,463.1" fill="#94c563" stroke="#263d12" stroke-width="0.85" stroke-linejoin="round"/>
<polygon points="370.5,471.8 370.6,473.6 370.6,475.5 370.7,477.3 370.9,479.2 371.0,481.1 364.8,480.9 364.6,479.1 364.3,477.3 364.1,475.4 363.9,473.6 363.7,471.8" fill="#94c563" stroke="#263d12" stroke-width="0.85" stroke-linejoin="round"/>
<polygon points="371.0,481.1 371.2,482.9 371.4,484.7 371.7,486.5 371.9,488.2 372.1,489.9 366.4,489.7 366.0,488.0 365.7,486.3 365.4,484.5 365.1,482.8 364.8,480.9" fill="#94c563" stroke="#263d12" stroke-width="0.85" stroke-linejoin="round"/>
<polygon points="372.1,489.9 372.4,491.5 372.6,493.0 372.9,494.4 373.1,495.8 373.3,497.0 373.5,498.1 368.2,498.2 367.9,497.0 367.6,495.7 367.3,494.3 367.0,492.8 366.7,491.3 366.4,489.7" fill="#95c664" stroke="#263d12" stroke-width="0.85" stroke-linejoin="round"/>
<polygon points="373.5,498.1 373.7,499.1 373.8,500.0 374.0,500.9 374.2,501.6 374.4,502.3 374.6,502.9 374.8,503.5 375.0,504.1 375.2,504.6 375.5,505.1 375.7,505.5 371.5,507.8 371.2,507.1 370.9,506.4 370.6,505.7 370.3,504.9 370.0,504.1 369.7,503.3 369.4,502.4 369.1,501.4 368.8,500.4 368.5,499.4 368.2,498.2" fill="#95c664" stroke="#263d12" stroke-width="0.85" stroke-linejoin="round"/>
<polygon points="375.7,505.5 375.9,506.0 376.1,506.5 376.4,507.0 376.6,507.6 376.8,508.1 377.1,508.6 377.4,509.1 377.6,509.6 377.9,510.0 378.1,510.5 378.4,510.9 378.7,511.3 379.0,511.7 379.3,512.1 379.5,512.5 376.9,516.0 376.5,515.6 376.1,515.1 375.7,514.7 375.3,514.2 374.9,513.8 374.6,513.3 374.2,512.8 373.9,512.2 373.5,511.6 373.1,511.0 372.8,510.4 372.5,509.7 372.1,509.1 371.8,508.4 371.5,507.8" fill="#95c664" stroke="#263d12" stroke-width="0.85" stroke-linejoin="round"/>
<polygon points="379.5,512.5 379.9,512.9 380.2,513.3 380.5,513.7 380.8,514.1 381.1,514.5 381.5,515.0 381.8,515.4 382.2,515.8 382.6,516.3 382.9,516.7 383.3,517.1 383.7,517.5 384.1,518.0 384.5,518.4 384.9,518.8 383.4,523.1 382.9,522.6 382.5,522.1 382.0,521.7 381.5,521.2 381.1,520.7 380.7,520.2 380.2,519.7 379.8,519.2 379.4,518.7 378.9,518.2 378.5,517.7 378.1,517.3 377.7,516.9 377.3,516.4 376.9,516.0" fill="#95c665" stroke="#263d12" stroke-width="0.85" stroke-linejoin="round"/>
<polygon points="384.9,518.8 385.3,519.2 385.7,519.6 386.2,519.9 386.6,520.3 387.1,520.7 387.6,521.0 388.1,521.3 388.6,521.7 389.2,522.0 389.8,522.3 390.3,522.7 390.9,523.0 391.5,523.3 392.2,523.6 391.7,528.0 391.0,527.8 390.3,527.5 389.7,527.2 389.0,526.9 388.4,526.6 387.7,526.2 387.1,525.9 386.6,525.5 386.0,525.2 385.4,524.8 384.9,524.4 384.4,524.0 383.9,523.6 383.4,523.1" fill="#95c665" stroke="#263d12" stroke-width="0.85" stroke-linejoin="round"/>
<polygon points="392.2,523.6 392.8,523.9 393.4,524.1 394.0,524.3 394.7,524.5 395.3,524.7 395.9,524.8 396.5,524.9 397.1,524.9 397.7,524.9 398.3,524.8 398.9,524.7 399.5,524.5 399.8,528.8 399.2,528.9 398.5,529.0 397.8,529.1 397.2,529.1 396.5,529.1 395.8,529.0 395.2,528.9 394.5,528.8 393.8,528.7 393.1,528.5 392.4,528.3 391.7,528.0" fill="#96c665" stroke="#263d12" stroke-width="0.85" stroke-linejoin="round"/>
<polygon points="399.5,524.5 400.1,524.3 400.7,524.1 401.4,523.8 402.0,523.6 402.6,523.3 403.2,523.0 403.7,522.6 404.3,522.3 404.9,522.0 405.4,521.6 405.9,521.3 406.4,521.0 406.8,520.7 407.9,525.2 407.4,525.5 406.8,525.9 406.3,526.2 405.7,526.5 405.1,526.8 404.4,527.1 403.8,527.4 403.2,527.7 402.5,528.0 401.8,528.2 401.2,528.4 400.5,528.6 399.8,528.8" fill="#95c665" stroke="#263d12" stroke-width="0.85" stroke-linejoin="round"/>
<polygon points="406.8,520.7 407.3,520.3 407.7,520.0 408.1,519.6 408.5,519.2 408.9,518.8 409.3,518.5 409.6,518.1 410.0,517.6 410.3,517.2 410.6,516.8 411.0,516.4 411.3,516.0 411.6,515.6 413.5,519.6 413.1,520.0 412.7,520.5 412.3,521.0 411.9,521.4 411.5,521.9 411.1,522.3 410.7,522.8 410.3,523.2 409.8,523.7 409.4,524.1 408.9,524.5 408.4,524.9 407.9,525.2" fill="#95c665" stroke="#263d12" stroke-width="0.85" stroke-linejoin="round"/>
<polygon points="411.6,515.6 411.9,515.2 412.2,514.8 412.5,514.3 412.8,513.9 413.1,513.6 413.3,513.2 413.6,512.8 413.9,512.4 414.1,512.0 414.3,511.6 414.6,511.2 414.8,510.8 415.0,510.4 415.3,509.9 415.5,509.4 415.7,508.9 419.0,512.4 418.7,512.9 418.3,513.5 418.0,514.0 417.7,514.5 417.4,514.9 417.1,515.3 416.7,515.8 416.4,516.2 416.0,516.6 415.7,517.0 415.3,517.4 415.0,517.8 414.6,518.2 414.2,518.6 413.9,519.1 413.5,519.6" fill="#95c664" stroke="#263d12" stroke-width="0.85" stroke-linejoin="round"/>
<polygon points="415.7,508.9 415.9,508.4 416.1,507.9 416.3,507.3 416.6,506.8 416.8,506.3 417.0,505.8 417.2,505.3 417.4,504.8 417.6,504.3 417.8,503.7 417.9,503.1 422.5,504.4 422.2,505.3 421.9,506.1 421.6,506.9 421.2,507.6 420.9,508.4 420.6,509.1 420.3,509.8 419.9,510.4 419.6,511.1 419.3,511.8 419.0,512.4" fill="#95c664" stroke="#263d12" stroke-width="0.85" stroke-linejoin="round"/>
<polygon points="417.9,503.1 418.1,502.4 418.3,501.7 418.5,500.9 418.7,500.1 418.8,499.2 419.0,498.1 419.1,497.0 419.3,495.8 424.8,495.7 424.5,497.0 424.3,498.2 424.0,499.4 423.7,500.5 423.4,501.6 423.1,502.6 422.8,503.5 422.5,504.4" fill="#95c664" stroke="#263d12" stroke-width="0.85" stroke-linejoin="round"/>
<polygon points="419.3,495.8 419.5,494.4 419.6,493.0 419.8,491.5 420.0,489.9 420.2,488.2 420.3,486.5 420.5,484.7 426.4,484.5 426.2,486.2 426.0,488.0 425.8,489.6 425.5,491.2 425.3,492.8 425.0,494.3 424.8,495.7" fill="#94c563" stroke="#263d12" stroke-width="0.85" stroke-linejoin="round"/>
<polygon points="420.5,484.7 420.6,482.9 420.8,481.1 420.9,479.2 421.0,477.3 421.0,475.5 421.1,473.6 427.6,473.6 427.4,475.4 427.2,477.3 427.0,479.1 426.8,480.9 426.6,482.7 426.4,484.5" fill="#94c563" stroke="#263d12" stroke-width="0.85" stroke-linejoin="round"/>
<polygon points="421.1,473.6 421.1,471.8 421.1,470.0 421.0,468.2 420.9,466.5 420.8,464.8 428.2,464.8 428.1,466.5 428.0,468.2 427.9,470.0 427.7,471.8 427.6,473.6" fill="#94c563" stroke="#263d12" stroke-width="0.85" stroke-linejoin="round"/>
<polygon points="420.8,464.8 420.6,463.1 420.4,461.5 420.2,459.8 419.9,458.1 419.7,456.3 419.4,454.5 428.5,454.5 428.5,456.2 428.4,458.0 428.4,459.7 428.3,461.4 428.3,463.1 428.2,464.8" fill="#94c562" stroke="#263d12" stroke-width="0.85" stroke-linejoin="round"/>
<polygon points="419.4,454.5 419.2,452.7 419.0,450.8 418.8,448.8 418.6,446.8 418.5,444.6 428.8,444.6 428.7,446.7 428.7,448.8 428.6,450.7 428.5,452.6 428.5,454.5" fill="#93c562" stroke="#263d12" stroke-width="0.85" stroke-linejoin="round"/>
<polygon points="418.5,444.6 418.4,442.4 418.4,440.0 418.4,437.4 418.5,434.5 418.6,431.4 429.7,431.6 429.5,434.6 429.3,437.4 429.1,440.0 429.0,442.3 428.8,444.6" fill="#93c461" stroke="#263d12" stroke-width="0.85" stroke-linejoin="round"/>
<polygon points="418.6,431.4 418.8,428.1 419.0,424.7 419.2,421.2 419.4,417.7 430.8,418.1 430.5,421.6 430.2,425.0 430.0,428.4 429.7,431.6" fill="#92c461" stroke="#263d12" stroke-width="0.85" stroke-linejoin="round"/>
<polygon points="419.4,417.7 419.7,414.1 419.9,410.6 420.2,407.3 420.4,404.1 431.9,404.9 431.6,408.0 431.4,411.3 431.1,414.7 430.8,418.1" fill="#92c460" stroke="#263d12" stroke-width="0.85" stroke-linejoin="round"/>
<polygon points="420.4,404.1 420.6,401.0 420.9,398.3 421.0,395.8 421.2,393.7 421.3,392.0 432.9,393.1 432.8,394.8 432.6,396.9 432.4,399.2 432.1,401.9 431.9,404.9" fill="#92c460" stroke="#263d12" stroke-width="0.85" stroke-linejoin="round"/>
<polygon points="363.1,454.5 363.1,456.3 363.1,458.1 363.1,459.8 363.1,461.5 363.1,463.1 363.2,464.8 360.1,464.8 360.3,463.1 360.5,461.5 360.7,459.8 361.0,458.1 361.3,456.3 361.6,454.5" fill="#94c562" stroke="#263d12" stroke-width="0.85" stroke-linejoin="round"/>
<polygon points="363.2,464.8 363.3,466.5 363.4,468.2 363.5,470.0 363.7,471.8 363.9,473.6 364.1,475.4 360.2,475.4 360.0,473.6 359.9,471.8 359.9,470.0 359.9,468.2 360.0,466.5 360.1,464.8" fill="#94c563" stroke="#263d12" stroke-width="0.85" stroke-linejoin="round"/>
<polygon points="364.1,475.4 364.3,477.3 364.6,479.1 364.8,480.9 365.1,482.8 365.4,484.5 365.7,486.3 361.6,486.1 361.3,484.4 361.0,482.6 360.8,480.8 360.5,479.0 360.3,477.2 360.2,475.4" fill="#94c563" stroke="#263d12" stroke-width="0.85" stroke-linejoin="round"/>
<polygon points="365.7,486.3 366.0,488.0 366.4,489.7 366.7,491.3 367.0,492.8 367.3,494.3 367.6,495.7 363.5,495.6 363.2,494.2 362.9,492.7 362.5,491.1 362.2,489.5 361.9,487.8 361.6,486.1" fill="#94c563" stroke="#263d12" stroke-width="0.85" stroke-linejoin="round"/>
<polygon points="367.6,495.7 367.9,497.0 368.2,498.2 368.5,499.4 368.8,500.4 369.1,501.4 369.4,502.4 369.7,503.3 370.0,504.1 370.3,504.9 366.3,506.2 365.9,505.2 365.6,504.2 365.3,503.1 365.0,502.0 364.7,500.8 364.4,499.6 364.1,498.3 363.8,497.0 363.5,495.6" fill="#95c664" stroke="#263d12" stroke-width="0.85" stroke-linejoin="round"/>
<polygon points="370.3,504.9 370.6,505.7 370.9,506.4 371.2,507.1 371.5,507.8 371.8,508.4 372.1,509.1 372.5,509.7 372.8,510.4 373.1,511.0 373.5,511.6 373.9,512.2 374.2,512.8 370.9,515.8 370.5,515.2 370.0,514.5 369.6,513.8 369.2,513.1 368.8,512.3 368.4,511.5 368.0,510.7 367.7,509.8 367.3,509.0 367.0,508.1 366.6,507.2 366.3,506.2" fill="#95c664" stroke="#263d12" stroke-width="0.85" stroke-linejoin="round"/>
<polygon points="374.2,512.8 374.6,513.3 374.9,513.8 375.3,514.2 375.7,514.7 376.1,515.1 376.5,515.6 376.9,516.0 377.3,516.4 377.7,516.9 378.1,517.3 378.5,517.7 378.9,518.2 376.7,521.9 376.2,521.3 375.7,520.8 375.2,520.3 374.7,519.8 374.2,519.4 373.7,518.9 373.2,518.4 372.8,517.9 372.3,517.4 371.8,516.9 371.4,516.4 370.9,515.8" fill="#95c665" stroke="#263d12" stroke-width="0.85" stroke-linejoin="round"/>
<polygon points="378.9,518.2 379.4,518.7 379.8,519.2 380.2,519.7 380.7,520.2 381.1,520.7 381.5,521.2 382.0,521.7 382.5,522.1 382.9,522.6 383.4,523.1 383.9,523.6 384.4,524.0 384.9,524.4 383.5,529.3 383.0,528.8 382.4,528.3 381.8,527.7 381.3,527.2 380.8,526.6 380.2,526.0 379.7,525.4 379.2,524.8 378.7,524.2 378.2,523.6 377.7,523.0 377.2,522.4 376.7,521.9" fill="#95c665" stroke="#263d12" stroke-width="0.85" stroke-linejoin="round"/>
<polygon points="384.9,524.4 385.4,524.8 386.0,525.2 386.6,525.5 387.1,525.9 387.7,526.2 388.4,526.6 389.0,526.9 389.7,527.2 390.3,527.5 391.0,527.8 391.7,528.0 391.2,533.3 390.4,533.0 389.6,532.8 388.9,532.5 388.1,532.1 387.4,531.8 386.7,531.4 386.0,531.1 385.4,530.7 384.7,530.3 384.1,529.8 383.5,529.3" fill="#96c665" stroke="#263d12" stroke-width="0.85" stroke-linejoin="round"/>
<polygon points="391.7,528.0 392.4,528.3 393.1,528.5 393.8,528.7 394.5,528.8 395.2,528.9 395.8,529.0 396.5,529.1 397.2,529.1 397.8,529.1 398.5,529.0 399.2,528.9 399.8,528.8 400.2,534.1 399.5,534.2 398.7,534.3 398.0,534.4 397.3,534.4 396.6,534.4 395.8,534.3 395.0,534.2 394.3,534.1 393.5,533.9 392.7,533.8 392.0,533.5 391.2,533.3" fill="#96c665" stroke="#263d12" stroke-width="0.85" stroke-linejoin="round"/>
<polygon points="399.8,528.8 400.5,528.6 401.2,528.4 401.8,528.2 402.5,528.0 403.2,527.7 403.8,527.4 404.4,527.1 405.1,526.8 405.7,526.5 406.3,526.2 406.8,525.9 407.4,525.5 407.9,525.2 409.1,530.3 408.5,530.7 407.9,531.0 407.3,531.4 406.6,531.8 406.0,532.1 405.3,532.4 404.6,532.7 403.9,533.0 403.2,533.3 402.4,533.5 401.7,533.7 401.0,533.9 400.2,534.1" fill="#96c665" stroke="#263d12" stroke-width="0.85" stroke-linejoin="round"/>
<polygon points="407.9,525.2 408.4,524.9 408.9,524.5 409.4,524.1 409.8,523.7 410.3,523.2 410.7,522.8 411.1,522.3 411.5,521.9 411.9,521.4 412.3,521.0 412.7,520.5 413.1,520.0 414.9,524.2 414.5,524.7 414.0,525.3 413.6,525.8 413.1,526.4 412.7,526.9 412.2,527.4 411.7,528.0 411.2,528.5 410.7,529.0 410.2,529.4 409.6,529.9 409.1,530.3" fill="#95c665" stroke="#263d12" stroke-width="0.85" stroke-linejoin="round"/>
<polygon points="413.1,520.0 413.5,519.6 413.9,519.1 414.2,518.6 414.6,518.2 415.0,517.8 415.3,517.4 415.7,517.0 416.0,516.6 416.4,516.2 416.7,515.8 417.1,515.3 417.4,514.9 417.7,514.5 418.0,514.0 418.3,513.5 421.4,516.9 421.0,517.5 420.6,518.0 420.1,518.5 419.7,518.9 419.3,519.4 418.9,519.8 418.5,520.2 418.0,520.7 417.6,521.1 417.2,521.6 416.7,522.0 416.3,522.5 415.8,523.1 415.4,523.6 414.9,524.2" fill="#95c665" stroke="#263d12" stroke-width="0.85" stroke-linejoin="round"/>
<polygon points="418.3,513.5 418.7,512.9 419.0,512.4 419.3,511.8 419.6,511.1 419.9,510.4 420.3,509.8 420.6,509.1 420.9,508.4 421.2,507.6 421.6,506.9 425.3,508.8 424.9,509.8 424.5,510.7 424.1,511.6 423.7,512.5 423.3,513.4 422.9,514.2 422.5,514.9 422.2,515.6 421.8,516.3 421.4,516.9" fill="#95c664" stroke="#263d12" stroke-width="0.85" stroke-linejoin="round"/>
<polygon points="421.6,506.9 421.9,506.1 422.2,505.3 422.5,504.4 422.8,503.5 423.1,502.6 423.4,501.6 423.7,500.5 424.0,499.4 424.3,498.2 428.4,498.4 428.1,499.7 427.8,501.0 427.5,502.2 427.1,503.4 426.8,504.5 426.4,505.7 426.1,506.8 425.7,507.8 425.3,508.8" fill="#95c664" stroke="#263d12" stroke-width="0.85" stroke-linejoin="round"/>
<polygon points="424.3,498.2 424.5,497.0 424.8,495.7 425.0,494.3 425.3,492.8 425.5,491.2 425.8,489.6 426.0,488.0 430.1,487.7 429.9,489.4 429.7,491.0 429.4,492.6 429.2,494.1 428.9,495.6 428.7,497.0 428.4,498.4" fill="#95c664" stroke="#263d12" stroke-width="0.85" stroke-linejoin="round"/>
<polygon points="426.0,488.0 426.2,486.2 426.4,484.5 426.6,482.7 426.8,480.9 427.0,479.1 427.2,477.3 431.1,477.2 431.0,479.0 430.8,480.8 430.7,482.5 430.5,484.3 430.3,486.0 430.1,487.7" fill="#94c563" stroke="#263d12" stroke-width="0.85" stroke-linejoin="round"/>
<polygon points="427.2,477.3 427.4,475.4 427.6,473.6 427.7,471.8 427.9,470.0 428.0,468.2 428.1,466.5 428.2,464.8 431.1,464.8 431.3,466.5 431.3,468.2 431.4,470.0 431.3,471.8 431.3,473.6 431.2,475.4 431.1,477.2" fill="#94c563" stroke="#263d12" stroke-width="0.85" stroke-linejoin="round"/>
<polygon points="428.2,464.8 428.3,463.1 428.3,461.4 428.4,459.7 428.4,458.0 428.5,456.2 428.5,454.5 429.9,454.5 430.2,456.2 430.4,458.0 430.6,459.7 430.8,461.4 431.0,463.1 431.1,464.8" fill="#94c562" stroke="#263d12" stroke-width="0.85" stroke-linejoin="round"/>
<polygon points="363.5,392.0 363.5,393.7 363.5,395.8 363.5,398.3 363.5,401.0 363.5,404.1 363.5,407.3 363.6,410.6 353.9,410.6 353.9,407.3 353.9,404.1 353.9,401.0 353.9,398.3 353.8,395.8 353.8,393.7 353.8,392.0" fill="#92c460" stroke="#263d12" stroke-width="0.85" stroke-linejoin="round"/>
<polygon points="363.6,410.6 363.6,414.1 363.6,417.7 363.6,421.2 363.5,424.7 354.1,424.7 354.0,421.2 354.0,417.7 354.0,414.1 353.9,410.6" fill="#92c461" stroke="#263d12" stroke-width="0.85" stroke-linejoin="round"/>
<polygon points="363.5,424.7 363.5,428.1 363.5,431.4 363.4,434.5 363.3,437.4 363.2,440.0 354.3,440.0 354.2,437.4 354.2,434.5 354.1,431.4 354.1,428.1 354.1,424.7" fill="#93c461" stroke="#263d12" stroke-width="0.85" stroke-linejoin="round"/>
<polygon points="363.2,440.0 363.1,442.4 362.9,444.6 362.7,446.8 362.4,448.8 362.2,450.8 361.9,452.7 361.6,454.5 354.7,454.5 354.6,452.7 354.6,450.8 354.5,448.8 354.5,446.8 354.4,444.6 354.4,442.4 354.3,440.0" fill="#93c562" stroke="#263d12" stroke-width="0.85" stroke-linejoin="round"/>
<polygon points="361.6,454.5 361.3,456.3 361.0,458.1 360.7,459.8 360.5,461.5 360.3,463.1 360.1,464.8 355.2,464.8 355.1,463.1 355.0,461.5 354.9,459.8 354.8,458.1 354.7,456.3 354.7,454.5" fill="#94c562" stroke="#263d12" stroke-width="0.85" stroke-linejoin="round"/>
<polygon points="360.1,464.8 360.0,466.5 359.9,468.2 359.9,470.0 359.9,471.8 360.0,473.6 360.2,475.4 360.3,477.2 356.4,477.2 356.2,475.4 356.0,473.6 355.8,471.8 355.6,470.0 355.5,468.2 355.3,466.5 355.2,464.8" fill="#94c563" stroke="#263d12" stroke-width="0.85" stroke-linejoin="round"/>
<polygon points="360.3,477.2 360.5,479.0 360.8,480.8 361.0,482.6 361.3,484.4 361.6,486.1 361.9,487.8 362.2,489.5 358.3,489.3 358.0,487.6 357.7,485.9 357.5,484.2 357.2,482.5 356.9,480.7 356.7,478.9 356.4,477.2" fill="#94c563" stroke="#263d12" stroke-width="0.85" stroke-linejoin="round"/>
<polygon points="362.2,489.5 362.5,491.1 362.9,492.7 363.2,494.2 363.5,495.6 363.8,497.0 364.1,498.3 360.2,498.4 359.9,497.0 359.6,495.6 359.2,494.1 358.9,492.5 358.6,490.9 358.3,489.3" fill="#95c664" stroke="#263d12" stroke-width="0.85" stroke-linejoin="round"/>
<polygon points="364.1,498.3 364.4,499.6 364.7,500.8 365.0,502.0 365.3,503.1 365.6,504.2 365.9,505.2 366.3,506.2 366.6,507.2 363.1,508.5 362.7,507.3 362.3,506.1 361.9,504.9 361.6,503.7 361.2,502.4 360.9,501.1 360.5,499.8 360.2,498.4" fill="#95c664" stroke="#263d12" stroke-width="0.85" stroke-linejoin="round"/>
<polygon points="366.6,507.2 367.0,508.1 367.3,509.0 367.7,509.8 368.0,510.7 368.4,511.5 368.8,512.3 369.2,513.1 369.6,513.8 370.0,514.5 370.5,515.2 367.4,517.9 366.9,517.2 366.5,516.4 366.0,515.5 365.5,514.6 365.1,513.7 364.7,512.7 364.3,511.7 363.9,510.6 363.5,509.6 363.1,508.5" fill="#95c664" stroke="#263d12" stroke-width="0.85" stroke-linejoin="round"/>
<polygon points="370.5,515.2 370.9,515.8 371.4,516.4 371.8,516.9 372.3,517.4 372.8,517.9 373.2,518.4 373.7,518.9 374.2,519.4 374.7,519.8 375.2,520.3 375.7,520.8 376.2,521.3 376.7,521.9 377.2,522.4 375.1,526.2 374.5,525.5 373.9,524.9 373.4,524.3 372.8,523.8 372.2,523.2 371.7,522.7 371.1,522.1 370.6,521.6 370.0,521.0 369.5,520.5 369.0,519.9 368.4,519.3 367.9,518.6 367.4,517.9" fill="#95c665" stroke="#263d12" stroke-width="0.85" stroke-linejoin="round"/>
<polygon points="377.2,522.4 377.7,523.0 378.2,523.6 378.7,524.2 379.2,524.8 379.7,525.4 380.2,526.0 380.8,526.6 381.3,527.2 381.8,527.7 382.4,528.3 383.0,528.8 383.5,529.3 384.1,529.8 382.8,534.8 382.2,534.3 381.5,533.7 380.9,533.1 380.3,532.4 379.7,531.8 379.1,531.1 378.5,530.4 377.9,529.7 377.3,528.9 376.8,528.2 376.2,527.5 375.6,526.8 375.1,526.2" fill="#96c665" stroke="#263d12" stroke-width="0.85" stroke-linejoin="round"/>
<polygon points="384.1,529.8 384.7,530.3 385.4,530.7 386.0,531.1 386.7,531.4 387.4,531.8 388.1,532.1 388.9,532.5 389.6,532.8 390.4,533.0 391.2,533.3 392.0,533.5 391.5,538.7 390.6,538.5 389.8,538.3 388.9,538.0 388.1,537.7 387.3,537.4 386.5,537.0 385.7,536.6 384.9,536.2 384.2,535.8 383.5,535.3 382.8,534.8" fill="#96c665" stroke="#263d12" stroke-width="0.85" stroke-linejoin="round"/>
<polygon points="392.0,533.5 392.7,533.8 393.5,533.9 394.3,534.1 395.0,534.2 395.8,534.3 396.6,534.4 397.3,534.4 398.0,534.4 398.7,534.3 399.5,534.2 400.2,534.1 401.0,533.9 401.7,533.7 402.2,538.9 401.4,539.1 400.6,539.2 399.8,539.3 399.0,539.4 398.2,539.5 397.4,539.5 396.6,539.5 395.8,539.4 394.9,539.3 394.1,539.2 393.2,539.1 392.4,538.9 391.5,538.7" fill="#96c665" stroke="#263d12" stroke-width="0.85" stroke-linejoin="round"/>
<polygon points="401.7,533.7 402.4,533.5 403.2,533.3 403.9,533.0 404.6,532.7 405.3,532.4 406.0,532.1 406.6,531.8 407.3,531.4 407.9,531.0 408.5,530.7 409.1,530.3 409.6,529.9 410.9,534.9 410.3,535.4 409.6,535.8 409.0,536.2 408.3,536.6 407.6,537.0 406.8,537.3 406.1,537.6 405.3,537.9 404.6,538.2 403.8,538.5 403.0,538.7 402.2,538.9" fill="#96c665" stroke="#263d12" stroke-width="0.85" stroke-linejoin="round"/>
<polygon points="409.6,529.9 410.2,529.4 410.7,529.0 411.2,528.5 411.7,528.0 412.2,527.4 412.7,526.9 413.1,526.4 413.6,525.8 414.0,525.3 414.5,524.7 414.9,524.2 415.4,523.6 415.8,523.1 417.8,527.1 417.3,527.7 416.8,528.3 416.3,528.9 415.8,529.6 415.3,530.2 414.8,530.9 414.3,531.5 413.7,532.1 413.2,532.7 412.6,533.3 412.1,533.9 411.5,534.4 410.9,534.9" fill="#96c665" stroke="#263d12" stroke-width="0.85" stroke-linejoin="round"/>
<polygon points="415.8,523.1 416.3,522.5 416.7,522.0 417.2,521.6 417.6,521.1 418.0,520.7 418.5,520.2 418.9,519.8 419.3,519.4 419.7,518.9 420.1,518.5 420.6,518.0 421.0,517.5 421.4,516.9 421.8,516.3 424.5,519.3 424.1,520.0 423.6,520.7 423.2,521.2 422.7,521.8 422.2,522.3 421.8,522.8 421.3,523.3 420.8,523.8 420.3,524.3 419.8,524.8 419.3,525.3 418.8,525.9 418.3,526.5 417.8,527.1" fill="#95c665" stroke="#263d12" stroke-width="0.85" stroke-linejoin="round"/>
<polygon points="421.8,516.3 422.2,515.6 422.5,514.9 422.9,514.2 423.3,513.4 423.7,512.5 424.1,511.6 424.5,510.7 424.9,509.8 428.2,511.7 427.7,512.8 427.2,513.9 426.8,515.0 426.3,516.0 425.9,516.9 425.4,517.8 425.0,518.6 424.5,519.3" fill="#95c664" stroke="#263d12" stroke-width="0.85" stroke-linejoin="round"/>
<polygon points="424.9,509.8 425.3,508.8 425.7,507.8 426.1,506.8 426.4,505.7 426.8,504.5 427.1,503.4 427.5,502.2 427.8,501.0 431.6,501.3 431.2,502.7 430.8,504.1 430.4,505.4 430.0,506.8 429.5,508.0 429.1,509.3 428.6,510.5 428.2,511.7" fill="#95c664" stroke="#263d12" stroke-width="0.85" stroke-linejoin="round"/>
<polygon points="427.8,501.0 428.1,499.7 428.4,498.4 428.7,497.0 428.9,495.6 429.2,494.1 429.4,492.6 429.7,491.0 433.6,490.8 433.4,492.4 433.1,494.0 432.9,495.5 432.6,497.0 432.3,498.5 432.0,499.9 431.6,501.3" fill="#95c664" stroke="#263d12" stroke-width="0.85" stroke-linejoin="round"/>
<polygon points="429.7,491.0 429.9,489.4 430.1,487.7 430.3,486.0 430.5,484.3 430.7,482.5 430.8,480.8 434.6,480.7 434.5,482.4 434.3,484.1 434.2,485.8 434.0,487.5 433.8,489.2 433.6,490.8" fill="#94c563" stroke="#263d12" stroke-width="0.85" stroke-linejoin="round"/>
<polygon points="430.8,480.8 431.0,479.0 431.1,477.2 431.2,475.4 431.3,473.6 431.3,471.8 431.4,470.0 431.3,468.2 431.3,466.5 435.7,466.5 435.6,468.2 435.4,470.0 435.3,471.8 435.2,473.6 435.0,475.3 434.9,477.1 434.7,478.9 434.6,480.7" fill="#94c563" stroke="#263d12" stroke-width="0.85" stroke-linejoin="round"/>
<polygon points="431.3,466.5 431.1,464.8 431.0,463.1 430.8,461.4 430.6,459.7 430.4,458.0 430.2,456.2 429.9,454.5 429.7,452.6 436.6,452.6 436.5,454.4 436.4,456.2 436.3,457.9 436.2,459.7 436.1,461.4 436.0,463.1 435.8,464.8 435.7,466.5" fill="#94c562" stroke="#263d12" stroke-width="0.85" stroke-linejoin="round"/>
<polygon points="429.7,452.6 429.5,450.7 429.3,448.8 429.2,446.7 429.1,444.6 429.1,442.3 429.1,440.0 437.5,440.0 437.3,442.3 437.1,444.5 437.0,446.7 436.8,448.7 436.7,450.7 436.6,452.6" fill="#93c562" stroke="#263d12" stroke-width="0.85" stroke-linejoin="round"/>
<polygon points="429.1,440.0 429.2,437.4 429.3,434.6 429.5,431.6 429.7,428.4 430.0,425.0 438.9,425.3 438.6,428.5 438.3,431.7 438.0,434.7 437.7,437.5 437.5,440.0" fill="#93c461" stroke="#263d12" stroke-width="0.85" stroke-linejoin="round"/>
<polygon points="430.0,425.0 430.2,421.6 430.5,418.1 430.9,414.7 431.2,411.3 431.5,408.0 440.5,408.6 440.2,411.8 439.9,415.1 439.5,418.5 439.2,421.9 438.9,425.3" fill="#92c460" stroke="#263d12" stroke-width="0.85" stroke-linejoin="round"/>
<polygon points="431.5,408.0 431.8,404.9 432.1,401.9 432.3,399.2 432.6,396.9 432.7,394.8 432.9,393.1 442.0,394.0 441.8,395.6 441.6,397.7 441.4,400.0 441.1,402.6 440.8,405.5 440.5,408.6" fill="#92c460" stroke="#263d12" stroke-width="0.85" stroke-linejoin="round"/>
<polygon points="358.3,489.3 358.6,490.9 358.9,492.5 359.2,494.1 359.6,495.6 359.9,497.0 360.2,498.4 360.5,499.8 360.9,501.1 359.1,501.5 358.9,500.0 358.7,498.5 358.4,497.0 358.2,495.5 357.9,493.9 357.7,492.3 357.4,490.7 357.1,489.1" fill="#95c664" stroke="#263d12" stroke-width="0.85" stroke-linejoin="round"/>
<polygon points="360.9,501.1 361.2,502.4 361.6,503.7 361.9,504.9 362.3,506.1 362.7,507.3 363.1,508.5 363.5,509.6 363.9,510.6 364.3,511.7 364.7,512.7 365.1,513.7 361.3,516.2 361.0,515.0 360.8,513.8 360.5,512.5 360.3,511.2 360.1,509.9 359.9,508.6 359.8,507.2 359.6,505.8 359.4,504.4 359.2,502.9 359.1,501.5" fill="#95c664" stroke="#263d12" stroke-width="0.85" stroke-linejoin="round"/>
<polygon points="365.1,513.7 365.5,514.6 366.0,515.5 366.5,516.4 366.9,517.2 367.4,517.9 367.9,518.6 368.4,519.3 369.0,519.9 369.5,520.5 370.0,521.0 370.6,521.6 371.1,522.1 371.7,522.7 372.2,523.2 372.8,523.8 368.6,529.7 368.0,528.9 367.4,528.1 366.9,527.3 366.3,526.5 365.7,525.7 365.2,525.0 364.7,524.1 364.2,523.3 363.7,522.4 363.2,521.5 362.8,520.6 362.4,519.6 362.0,518.5 361.6,517.4 361.3,516.2" fill="#95c665" stroke="#263d12" stroke-width="0.85" stroke-linejoin="round"/>
<polygon points="372.8,523.8 373.4,524.3 373.9,524.9 374.5,525.5 375.1,526.2 375.6,526.8 376.2,527.5 376.8,528.2 377.3,528.9 377.9,529.7 378.5,530.4 379.1,531.1 375.5,540.6 374.8,539.5 374.1,538.4 373.5,537.3 372.9,536.2 372.3,535.2 371.6,534.2 371.0,533.2 370.4,532.2 369.8,531.3 369.2,530.5 368.6,529.7" fill="#96c665" stroke="#263d12" stroke-width="0.85" stroke-linejoin="round"/>
<polygon points="379.1,531.1 379.7,531.8 380.3,532.4 380.9,533.1 381.5,533.7 382.2,534.3 382.8,534.8 383.5,535.3 384.2,535.8 384.9,536.2 385.7,536.6 386.5,537.0 387.3,537.4 388.1,537.7 386.2,550.4 385.2,550.0 384.2,549.5 383.3,549.0 382.4,548.4 381.5,547.8 380.6,547.1 379.8,546.3 379.1,545.5 378.3,544.6 377.6,543.7 376.8,542.7 376.1,541.6 375.5,540.6" fill="#96c665" stroke="#263d12" stroke-width="0.85" stroke-linejoin="round"/>
<polygon points="388.1,537.7 388.9,538.0 389.8,538.3 390.6,538.5 391.5,538.7 392.4,538.9 393.2,539.1 394.1,539.2 394.9,539.3 395.8,539.4 396.6,539.5 397.4,539.5 398.2,539.5 398.6,552.6 397.7,552.6 396.7,552.6 395.7,552.6 394.7,552.5 393.6,552.3 392.5,552.2 391.5,552.0 390.4,551.7 389.3,551.5 388.3,551.2 387.2,550.8 386.2,550.4" fill="#96c766" stroke="#263d12" stroke-width="0.85" stroke-linejoin="round"/>
<polygon points="398.2,539.5 399.0,539.4 399.8,539.3 400.6,539.2 401.4,539.1 402.2,538.9 403.0,538.7 403.8,538.5 404.6,538.2 405.3,537.9 406.1,537.6 406.8,537.3 407.6,537.0 408.3,536.6 409.0,536.2 409.6,535.8 412.2,547.8 411.5,548.4 410.7,548.9 409.8,549.4 409.0,549.9 408.1,550.3 407.2,550.7 406.3,551.1 405.4,551.4 404.4,551.7 403.5,551.9 402.5,552.1 401.5,552.3 400.6,552.4 399.6,552.5 398.6,552.6" fill="#96c766" stroke="#263d12" stroke-width="0.85" stroke-linejoin="round"/>
<polygon points="409.6,535.8 410.3,535.4 410.9,534.9 411.5,534.4 412.1,533.9 412.6,533.3 413.2,532.7 413.7,532.1 414.3,531.5 414.8,530.9 415.3,530.2 415.8,529.6 416.3,528.9 419.9,537.3 419.3,538.3 418.8,539.3 418.2,540.2 417.6,541.2 417.0,542.2 416.4,543.1 415.7,544.0 415.1,544.9 414.4,545.7 413.7,546.4 413.0,547.1 412.2,547.8" fill="#96c665" stroke="#263d12" stroke-width="0.85" stroke-linejoin="round"/>
<polygon points="416.3,528.9 416.8,528.3 417.3,527.7 417.8,527.1 418.3,526.5 418.8,525.9 419.3,525.3 419.8,524.8 420.3,524.3 420.8,523.8 421.3,523.3 421.8,522.8 422.2,522.3 422.7,521.8 423.2,521.2 427.1,526.0 426.6,526.8 426.1,527.5 425.7,528.3 425.2,529.0 424.7,529.7 424.2,530.4 423.7,531.2 423.1,532.0 422.6,532.8 422.1,533.6 421.5,534.5 421.0,535.4 420.4,536.3 419.9,537.3" fill="#96c665" stroke="#263d12" stroke-width="0.85" stroke-linejoin="round"/>
<polygon points="423.2,521.2 423.6,520.7 424.1,520.0 424.5,519.3 425.0,518.6 425.4,517.8 425.9,516.9 426.3,516.0 426.8,515.0 427.2,513.9 427.7,512.8 428.2,511.7 428.6,510.5 431.6,512.5 431.3,513.9 430.9,515.3 430.6,516.6 430.3,517.9 429.9,519.1 429.6,520.3 429.2,521.4 428.8,522.4 428.4,523.4 428.0,524.3 427.5,525.2 427.1,526.0" fill="#95c665" stroke="#263d12" stroke-width="0.85" stroke-linejoin="round"/>
<polygon points="428.6,510.5 429.1,509.3 429.5,508.0 430.0,506.8 430.4,505.4 430.8,504.1 431.2,502.7 431.6,501.3 432.0,499.9 432.3,498.5 433.8,498.6 433.6,500.2 433.4,501.7 433.1,503.3 432.9,504.9 432.7,506.4 432.4,508.0 432.1,509.5 431.8,511.0 431.6,512.5" fill="#95c664" stroke="#263d12" stroke-width="0.85" stroke-linejoin="round"/>
<polygon points="359.2,502.9 359.4,504.4 359.6,505.8 359.8,507.2 359.9,508.6 360.1,509.9 360.3,511.2 360.5,512.5 360.8,513.8 361.0,515.0 361.3,516.2 359.5,517.2 359.3,515.9 359.1,514.5 358.9,513.1 358.7,511.7 358.6,510.3 358.4,508.9 358.2,507.4 358.1,506.0 357.9,504.5 357.7,503.1" fill="#95c664" stroke="#263d12" stroke-width="0.85" stroke-linejoin="round"/>
<polygon points="361.3,516.2 361.6,517.4 362.0,518.5 362.4,519.6 362.8,520.6 363.2,521.5 363.7,522.4 364.2,523.3 364.7,524.1 365.2,525.0 365.7,525.7 366.3,526.5 366.9,527.3 367.4,528.1 368.0,528.9 363.2,535.6 362.9,534.3 362.5,533.0 362.2,531.7 361.9,530.5 361.7,529.2 361.4,527.9 361.2,526.6 360.9,525.3 360.7,524.0 360.5,522.7 360.2,521.4 360.0,520.0 359.8,518.6 359.5,517.2" fill="#95c665" stroke="#263d12" stroke-width="0.85" stroke-linejoin="round"/>
<polygon points="368.0,528.9 368.6,529.7 369.2,530.5 369.8,531.3 370.4,532.2 371.0,533.2 371.6,534.2 372.3,535.2 372.9,536.2 373.5,537.3 374.1,538.4 374.8,539.5 369.5,552.3 368.8,550.6 368.1,548.9 367.4,547.3 366.8,545.7 366.2,544.1 365.6,542.5 365.1,541.1 364.5,539.7 364.1,538.3 363.6,537.0 363.2,535.6" fill="#96c665" stroke="#263d12" stroke-width="0.85" stroke-linejoin="round"/>
<polygon points="374.8,539.5 375.5,540.6 376.1,541.6 376.8,542.7 377.6,543.7 378.3,544.6 379.1,545.5 379.8,546.3 380.6,547.1 381.5,547.8 377.4,565.5 376.4,564.3 375.5,563.1 374.5,561.7 373.6,560.3 372.7,558.8 371.9,557.2 371.1,555.6 370.3,554.0 369.5,552.3" fill="#96c766" stroke="#263d12" stroke-width="0.85" stroke-linejoin="round"/>
<polygon points="381.5,547.8 382.4,548.4 383.3,549.0 384.2,549.5 385.2,550.0 386.2,550.4 387.2,550.8 388.3,551.2 389.3,551.5 390.4,551.7 391.5,552.0 390.2,573.7 388.8,573.1 387.4,572.5 386.1,571.8 384.7,571.1 383.4,570.2 382.1,569.4 380.9,568.5 379.7,567.5 378.5,566.5 377.4,565.5" fill="#97c766" stroke="#263d12" stroke-width="0.85" stroke-linejoin="round"/>
<polygon points="391.5,552.0 392.5,552.2 393.6,552.3 394.7,552.5 395.7,552.6 396.7,552.6 397.7,552.6 398.6,552.6 399.6,552.5 400.6,552.4 401.5,552.3 402.5,552.1 403.5,551.9 405.4,573.6 404.2,574.1 403.0,574.5 401.8,574.8 400.6,575.0 399.3,575.2 398.1,575.2 396.9,575.2 395.6,575.1 394.3,574.8 393.0,574.5 391.6,574.1 390.2,573.7" fill="#97c766" stroke="#263d12" stroke-width="0.85" stroke-linejoin="round"/>
<polygon points="403.5,551.9 404.4,551.7 405.4,551.4 406.3,551.1 407.2,550.7 408.1,550.3 409.0,549.9 409.8,549.4 410.7,548.9 411.5,548.4 412.2,547.8 413.0,547.1 413.7,546.4 417.9,563.2 417.0,564.4 416.1,565.5 415.2,566.4 414.2,567.4 413.2,568.3 412.2,569.2 411.1,570.1 410.0,570.9 408.9,571.7 407.7,572.4 406.6,573.0 405.4,573.6" fill="#97c766" stroke="#263d12" stroke-width="0.85" stroke-linejoin="round"/>
<polygon points="413.7,546.4 414.4,545.7 415.1,544.9 415.7,544.0 416.4,543.1 417.0,542.2 417.6,541.2 418.2,540.2 418.8,539.3 419.3,538.3 419.9,537.3 420.4,536.3 425.5,547.3 424.9,548.8 424.3,550.4 423.7,551.9 423.1,553.4 422.4,554.9 421.7,556.4 421.0,557.9 420.3,559.3 419.5,560.7 418.7,562.0 417.9,563.2" fill="#96c766" stroke="#263d12" stroke-width="0.85" stroke-linejoin="round"/>
<polygon points="420.4,536.3 421.0,535.4 421.5,534.5 422.1,533.6 422.6,532.8 423.1,532.0 423.7,531.2 424.2,530.4 424.7,529.7 425.2,529.0 425.7,528.3 426.1,527.5 426.6,526.8 427.1,526.0 427.5,525.2 430.3,528.8 430.1,530.1 429.8,531.4 429.6,532.7 429.4,533.9 429.1,535.2 428.9,536.5 428.6,537.8 428.2,539.1 427.9,540.4 427.4,541.7 427.0,543.0 426.5,544.4 426.0,545.8 425.5,547.3" fill="#96c665" stroke="#263d12" stroke-width="0.85" stroke-linejoin="round"/>
<polygon points="427.5,525.2 428.0,524.3 428.4,523.4 428.8,522.4 429.2,521.4 429.6,520.3 429.9,519.1 430.3,517.9 430.6,516.6 430.9,515.3 431.3,513.9 431.6,512.5 431.8,511.0 433.3,511.4 433.1,513.0 432.8,514.5 432.5,516.1 432.2,517.6 431.9,519.1 431.7,520.6 431.4,522.0 431.1,523.4 430.9,524.8 430.7,526.2 430.5,527.5 430.3,528.8" fill="#95c665" stroke="#263d12" stroke-width="0.85" stroke-linejoin="round"/>
<polygon points="365.1,541.1 365.6,542.5 366.2,544.1 366.8,545.7 367.4,547.3 368.1,548.9 368.8,550.6 369.5,552.3 370.3,554.0 368.8,558.2 368.2,556.0 367.6,553.8 367.1,551.7 366.5,549.6 366.0,547.6 365.5,545.6 365.0,543.7 364.5,542.0" fill="#96c766" stroke="#263d12" stroke-width="0.85" stroke-linejoin="round"/>
<polygon points="370.3,554.0 371.1,555.6 371.9,557.2 372.7,558.8 373.6,560.3 374.5,561.7 375.5,563.1 376.4,564.3 377.4,565.5 378.5,566.5 379.7,567.5 377.8,577.3 376.6,575.6 375.5,574.0 374.5,572.3 373.5,570.5 372.6,568.6 371.8,566.6 371.0,564.6 370.2,562.5 369.5,560.3 368.8,558.2" fill="#97c766" stroke="#263d12" stroke-width="0.85" stroke-linejoin="round"/>
<polygon points="379.7,567.5 380.9,568.5 382.1,569.4 383.4,570.2 384.7,571.1 386.1,571.8 387.4,572.5 388.8,573.1 390.2,573.7 391.6,574.1 391.2,590.7 389.6,589.6 388.0,588.3 386.5,587.0 384.9,585.5 383.4,583.9 381.9,582.3 380.5,580.7 379.1,579.0 377.8,577.3" fill="#97c767" stroke="#263d12" stroke-width="0.85" stroke-linejoin="round"/>
<polygon points="391.6,574.1 393.0,574.5 394.3,574.8 395.6,575.1 396.9,575.2 398.1,575.2 399.3,575.2 400.6,575.0 401.8,574.8 403.0,574.5 404.2,574.1 405.4,573.6 406.5,589.5 405.2,590.6 403.9,591.6 402.5,592.4 401.2,593.0 399.8,593.4 398.5,593.5 397.1,593.4 395.7,593.0 394.2,592.4 392.7,591.7 391.2,590.7" fill="#97c767" stroke="#263d12" stroke-width="0.85" stroke-linejoin="round"/>
<polygon points="405.4,573.6 406.6,573.0 407.7,572.4 408.9,571.7 410.0,570.9 411.1,570.1 412.2,569.2 413.2,568.3 414.2,567.4 415.2,566.4 416.1,565.5 418.0,574.0 417.1,575.6 416.1,577.2 415.0,578.9 413.9,580.5 412.8,582.2 411.6,583.8 410.3,585.4 409.1,586.8 407.8,588.2 406.5,589.5" fill="#97c767" stroke="#263d12" stroke-width="0.85" stroke-linejoin="round"/>
<polygon points="416.1,565.5 417.0,564.4 417.9,563.2 418.7,562.0 419.5,560.7 420.3,559.3 421.0,557.9 421.7,556.4 422.4,554.9 423.1,553.4 423.7,551.9 424.8,555.1 424.3,557.1 423.7,559.2 423.1,561.2 422.5,563.2 421.9,565.1 421.2,567.1 420.5,568.9 419.7,570.7 418.9,572.4 418.0,574.0" fill="#97c766" stroke="#263d12" stroke-width="0.85" stroke-linejoin="round"/>
<polygon points="423.7,551.9 424.3,550.4 424.9,548.8 425.5,547.3 426.0,545.8 426.5,544.4 427.0,543.0 427.4,541.7 427.9,540.4 428.2,539.1 428.6,537.8 428.9,538.0 428.6,539.4 428.3,540.9 427.9,542.4 427.5,544.0 427.1,545.7 426.6,547.4 426.2,549.3 425.8,551.2 425.3,553.1 424.8,555.1" fill="#96c766" stroke="#263d12" stroke-width="0.85" stroke-linejoin="round"/>
<circle cx="373.3" cy="457.1" r="1.1" fill="#bfe684"/>
<circle cx="372.8" cy="465.7" r="1.1" fill="#bfe684"/>
<circle cx="372.9" cy="474.6" r="1.1" fill="#bfe684"/>
<circle cx="373.6" cy="482.9" r="1.1" fill="#bfe684"/>
<circle cx="374.5" cy="490.7" r="1.1" fill="#bfe684"/>
<circle cx="375.9" cy="499.0" r="1.1" fill="#bfe684"/>
<circle cx="378.1" cy="505.9" r="1.1" fill="#bfe684"/>
<circle cx="381.9" cy="512.6" r="1.1" fill="#bfe684"/>
<circle cx="386.8" cy="518.0" r="1.1" fill="#bfe684"/>
<circle cx="392.7" cy="521.5" r="1.1" fill="#bfe684"/>
<circle cx="399.9" cy="521.9" r="1.1" fill="#bfe684"/>
<circle cx="406.7" cy="518.3" r="1.1" fill="#bfe684"/>
<circle cx="410.9" cy="513.7" r="1.1" fill="#bfe684"/>
<circle cx="413.9" cy="508.0" r="1.1" fill="#bfe684"/>
<circle cx="416.1" cy="501.5" r="1.1" fill="#bfe684"/>
<circle cx="417.4" cy="492.9" r="1.1" fill="#bfe684"/>
<circle cx="418.3" cy="483.8" r="1.1" fill="#bfe684"/>
<circle cx="418.9" cy="474.6" r="1.1" fill="#bfe684"/>
<circle cx="419.0" cy="464.8" r="1.1" fill="#bfe684"/>
<circle cx="369.6" cy="397.5" r="1.1" fill="#bfe684"/>
<circle cx="369.4" cy="410.8" r="1.1" fill="#bfe684"/>
<circle cx="369.2" cy="424.6" r="1.1" fill="#bfe684"/>
<circle cx="369.0" cy="437.1" r="1.1" fill="#bfe684"/>
<circle cx="368.5" cy="447.7" r="1.1" fill="#bfe684"/>
<circle cx="367.6" cy="458.0" r="1.1" fill="#bfe684"/>
<circle cx="367.1" cy="467.4" r="1.1" fill="#bfe684"/>
<circle cx="367.5" cy="476.4" r="1.1" fill="#bfe684"/>
<circle cx="368.6" cy="485.5" r="1.1" fill="#bfe684"/>
<circle cx="370.1" cy="494.2" r="1.1" fill="#bfe684"/>
<circle cx="372.2" cy="502.9" r="1.1" fill="#bfe684"/>
<circle cx="375.8" cy="510.7" r="1.1" fill="#bfe684"/>
<circle cx="381.1" cy="517.6" r="1.1" fill="#bfe684"/>
<circle cx="387.8" cy="523.5" r="1.1" fill="#bfe684"/>
<circle cx="395.8" cy="526.6" r="1.1" fill="#bfe684"/>
<circle cx="403.7" cy="525.0" r="1.1" fill="#bfe684"/>
<circle cx="410.1" cy="520.4" r="1.1" fill="#bfe684"/>
<circle cx="415.0" cy="514.2" r="1.1" fill="#bfe684"/>
<circle cx="418.8" cy="507.3" r="1.1" fill="#bfe684"/>
<circle cx="421.2" cy="500.1" r="1.1" fill="#bfe684"/>
<circle cx="422.8" cy="490.4" r="1.1" fill="#bfe684"/>
<circle cx="423.9" cy="479.1" r="1.1" fill="#bfe684"/>
<circle cx="424.5" cy="469.2" r="1.1" fill="#bfe684"/>
<circle cx="424.3" cy="459.7" r="1.1" fill="#bfe684"/>
<circle cx="423.8" cy="449.7" r="1.1" fill="#bfe684"/>
<circle cx="423.9" cy="438.4" r="1.1" fill="#bfe684"/>
<circle cx="424.6" cy="424.8" r="1.1" fill="#bfe684"/>
<circle cx="425.6" cy="411.1" r="1.1" fill="#bfe684"/>
<circle cx="426.7" cy="398.0" r="1.1" fill="#bfe684"/>
<circle cx="362.0" cy="459.7" r="1.1" fill="#bfe684"/>
<circle cx="361.8" cy="470.1" r="1.1" fill="#bfe684"/>
<circle cx="362.8" cy="480.9" r="1.1" fill="#bfe684"/>
<circle cx="364.6" cy="491.1" r="1.1" fill="#bfe684"/>
<circle cx="366.9" cy="500.9" r="1.1" fill="#bfe684"/>
<circle cx="370.3" cy="510.2" r="1.1" fill="#bfe684"/>
<circle cx="375.1" cy="517.2" r="1.1" fill="#bfe684"/>
<circle cx="380.9" cy="523.5" r="1.1" fill="#bfe684"/>
<circle cx="387.7" cy="528.9" r="1.1" fill="#bfe684"/>
<circle cx="395.8" cy="531.4" r="1.1" fill="#bfe684"/>
<circle cx="404.4" cy="529.8" r="1.1" fill="#bfe684"/>
<circle cx="411.4" cy="525.0" r="1.1" fill="#bfe684"/>
<circle cx="417.0" cy="518.6" r="1.1" fill="#bfe684"/>
<circle cx="421.6" cy="511.8" r="1.1" fill="#bfe684"/>
<circle cx="424.9" cy="503.3" r="1.1" fill="#bfe684"/>
<circle cx="427.2" cy="493.3" r="1.1" fill="#bfe684"/>
<circle cx="428.6" cy="482.6" r="1.1" fill="#bfe684"/>
<circle cx="429.5" cy="470.9" r="1.1" fill="#bfe684"/>
<circle cx="358.7" cy="400.4" r="1.1" fill="#bfe684"/>
<circle cx="358.8" cy="417.7" r="1.1" fill="#bfe684"/>
<circle cx="358.8" cy="432.7" r="1.1" fill="#bfe684"/>
<circle cx="358.5" cy="447.6" r="1.1" fill="#bfe684"/>
<circle cx="357.8" cy="459.7" r="1.1" fill="#bfe684"/>
<circle cx="357.9" cy="470.9" r="1.1" fill="#bfe684"/>
<circle cx="359.3" cy="483.4" r="1.1" fill="#bfe684"/>
<circle cx="361.2" cy="494.0" r="1.1" fill="#bfe684"/>
<circle cx="363.5" cy="503.3" r="1.1" fill="#bfe684"/>
<circle cx="366.8" cy="512.4" r="1.1" fill="#bfe684"/>
<circle cx="372.5" cy="520.5" r="1.1" fill="#bfe684"/>
<circle cx="379.7" cy="528.4" r="1.1" fill="#bfe684"/>
<circle cx="387.4" cy="534.4" r="1.1" fill="#bfe684"/>
<circle cx="396.9" cy="536.6" r="1.1" fill="#bfe684"/>
<circle cx="406.3" cy="534.6" r="1.1" fill="#bfe684"/>
<circle cx="413.7" cy="528.8" r="1.1" fill="#bfe684"/>
<circle cx="420.0" cy="521.5" r="1.1" fill="#bfe684"/>
<circle cx="424.8" cy="514.5" r="1.1" fill="#bfe684"/>
<circle cx="428.2" cy="506.1" r="1.1" fill="#bfe684"/>
<circle cx="430.7" cy="496.2" r="1.1" fill="#bfe684"/>
<circle cx="432.2" cy="485.9" r="1.1" fill="#bfe684"/>
<circle cx="433.2" cy="473.6" r="1.1" fill="#bfe684"/>
<circle cx="433.4" cy="459.6" r="1.1" fill="#bfe684"/>
<circle cx="433.2" cy="446.5" r="1.1" fill="#bfe684"/>
<circle cx="433.8" cy="432.9" r="1.1" fill="#bfe684"/>
<circle cx="435.2" cy="416.7" r="1.1" fill="#bfe684"/>
<circle cx="436.8" cy="400.2" r="1.1" fill="#bfe684"/>
<circle cx="361.5" cy="508.4" r="1.1" fill="#bfe684"/>
<circle cx="366.7" cy="521.3" r="1.1" fill="#bfe684"/>
<circle cx="373.9" cy="531.1" r="1.1" fill="#bfe684"/>
<circle cx="381.9" cy="540.5" r="1.1" fill="#bfe684"/>
<circle cx="392.8" cy="545.4" r="1.1" fill="#bfe684"/>
<circle cx="404.9" cy="544.5" r="1.1" fill="#bfe684"/>
<circle cx="414.7" cy="537.7" r="1.1" fill="#bfe684"/>
<circle cx="421.7" cy="528.2" r="1.1" fill="#bfe684"/>
<circle cx="427.7" cy="518.2" r="1.1" fill="#bfe684"/>
<circle cx="431.6" cy="505.1" r="1.1" fill="#bfe684"/>
<circle cx="362.8" cy="524.8" r="1.1" fill="#bfe684"/>
<circle cx="368.7" cy="538.7" r="1.1" fill="#bfe684"/>
<circle cx="375.7" cy="551.6" r="1.1" fill="#bfe684"/>
<circle cx="384.9" cy="560.1" r="1.1" fill="#bfe684"/>
<circle cx="397.8" cy="563.5" r="1.1" fill="#bfe684"/>
<circle cx="410.4" cy="559.3" r="1.1" fill="#bfe684"/>
<circle cx="419.6" cy="548.6" r="1.1" fill="#bfe684"/>
<circle cx="426.2" cy="534.2" r="1.1" fill="#bfe684"/>
<circle cx="430.8" cy="519.5" r="1.1" fill="#bfe684"/>
<circle cx="367.1" cy="548.6" r="1.1" fill="#bfe684"/>
<circle cx="373.8" cy="564.8" r="1.1" fill="#bfe684"/>
<circle cx="384.9" cy="577.8" r="1.1" fill="#bfe684"/>
<circle cx="398.8" cy="583.4" r="1.1" fill="#bfe684"/>
<circle cx="411.8" cy="575.9" r="1.1" fill="#bfe684"/>
<circle cx="420.9" cy="562.0" r="1.1" fill="#bfe684"/>
<circle cx="426.7" cy="545.3" r="1.1" fill="#bfe684"/>
<polygon points="381.3,392.0 381.3,393.7 381.3,395.8 381.3,398.3 381.2,401.0 381.2,404.1 381.2,407.3 375.4,407.3 375.5,404.1 375.6,401.0 375.6,398.3 375.7,395.8 375.8,393.7 375.8,392.0" fill="#637f3e" stroke="#23380f" stroke-width="0.8" stroke-linejoin="round"/>
<polygon points="381.2,407.3 381.2,410.6 381.1,414.1 381.1,417.7 375.1,417.7 375.2,414.1 375.3,410.6 375.4,407.3" fill="#637f3e" stroke="#23380f" stroke-width="0.8" stroke-linejoin="round"/>
<polygon points="381.1,417.7 381.1,421.2 381.1,424.7 381.0,428.1 374.8,428.1 374.9,424.7 375.0,421.2 375.1,417.7" fill="#637f3e" stroke="#23380f" stroke-width="0.8" stroke-linejoin="round"/>
<polygon points="381.0,428.1 381.0,431.4 381.0,434.5 380.9,437.4 380.9,440.0 374.6,440.0 374.6,437.4 374.7,434.5 374.8,431.4 374.8,428.1" fill="#637f3e" stroke="#23380f" stroke-width="0.8" stroke-linejoin="round"/>
<polygon points="380.9,440.0 380.9,442.4 380.8,444.6 380.8,446.8 380.7,448.9 380.6,450.9 374.5,450.8 374.5,448.8 374.5,446.8 374.5,444.6 374.6,442.4 374.6,440.0" fill="#637f3e" stroke="#23380f" stroke-width="0.8" stroke-linejoin="round"/>
<polygon points="380.6,450.9 380.6,452.8 380.5,454.6 380.5,456.4 380.4,458.2 380.3,459.9 380.3,461.6 374.5,461.5 374.5,459.8 374.5,458.1 374.4,456.3 374.5,454.5 374.5,452.7 374.5,450.8" fill="#637f3e" stroke="#23380f" stroke-width="0.8" stroke-linejoin="round"/>
<polygon points="380.3,461.6 380.3,463.3 380.2,464.9 380.2,466.6 380.2,468.3 380.2,470.0 380.2,471.7 380.3,473.5 375.0,473.6 374.9,471.8 374.8,470.0 374.7,468.2 374.6,466.5 374.6,464.8 374.5,463.1 374.5,461.5" fill="#637f3e" stroke="#23380f" stroke-width="0.8" stroke-linejoin="round"/>
<polygon points="380.3,473.5 380.3,475.3 380.3,477.0 380.4,478.8 380.5,480.5 380.6,482.3 380.6,483.9 376.1,484.9 375.9,483.0 375.7,481.2 375.5,479.3 375.3,477.4 375.2,475.5 375.0,473.6" fill="#637f3e" stroke="#23380f" stroke-width="0.8" stroke-linejoin="round"/>
<polygon points="380.6,483.9 380.7,485.6 380.8,487.2 380.9,488.7 381.0,490.1 381.1,491.5 381.1,492.8 381.2,493.9 381.3,495.0 381.4,495.9 377.8,498.0 377.6,497.0 377.4,495.8 377.3,494.6 377.1,493.2 376.9,491.7 376.7,490.1 376.5,488.4 376.3,486.7 376.1,484.9" fill="#637f3e" stroke="#23380f" stroke-width="0.8" stroke-linejoin="round"/>
<polygon points="381.4,495.9 381.4,496.7 381.5,497.4 381.6,498.0 381.6,498.6 381.7,499.0 381.7,499.4 381.8,499.7 381.9,500.0 382.0,500.2 382.0,500.5 382.1,500.7 382.2,501.0 382.3,501.3 382.4,501.6 382.5,502.0 382.6,502.4 382.7,502.8 382.9,503.2 383.0,503.6 383.1,504.0 383.2,504.3 383.4,504.7 381.1,508.0 381.0,507.6 380.8,507.2 380.6,506.8 380.5,506.3 380.3,505.9 380.2,505.4 380.0,505.0 379.8,504.6 379.7,504.2 379.5,503.9 379.4,503.6 379.2,503.2 379.1,502.9 378.9,502.6 378.8,502.3 378.6,501.9 378.5,501.5 378.4,501.0 378.2,500.4 378.1,499.7 377.9,498.9 377.8,498.0" fill="#637f3e" stroke="#23380f" stroke-width="0.8" stroke-linejoin="round"/>
<polygon points="383.4,504.7 383.5,505.1 383.7,505.5 383.8,505.8 384.0,506.2 384.2,506.6 384.4,506.9 384.6,507.3 384.8,507.6 385.0,508.0 385.2,508.4 385.5,508.7 385.8,509.1 386.0,509.5 386.3,509.8 386.6,510.2 386.9,510.6 387.2,510.9 387.5,511.3 387.9,511.7 388.2,512.0 388.6,512.3 388.9,512.6 389.3,512.9 389.6,513.2 390.0,513.5 390.4,513.8 390.8,514.0 389.4,517.6 388.9,517.3 388.5,517.0 388.1,516.7 387.7,516.4 387.2,516.1 386.9,515.8 386.5,515.5 386.1,515.1 385.8,514.8 385.4,514.4 385.1,514.1 384.7,513.7 384.4,513.4 384.1,513.0 383.8,512.6 383.5,512.2 383.3,511.9 383.0,511.5 382.7,511.1 382.5,510.7 382.3,510.4 382.1,510.0 381.9,509.6 381.7,509.2 381.5,508.8 381.3,508.4 381.1,508.0" fill="#637f3e" stroke="#23380f" stroke-width="0.8" stroke-linejoin="round"/>
<polygon points="390.8,514.0 391.2,514.3 391.6,514.5 392.0,514.8 392.5,515.0 392.9,515.2 393.4,515.4 393.8,515.6 394.3,515.8 394.7,515.9 395.2,516.1 395.7,516.2 396.1,516.2 396.6,516.3 397.0,516.3 397.4,516.3 397.9,516.2 398.3,516.2 398.8,516.1 399.3,515.9 399.7,515.8 400.3,519.8 399.8,520.0 399.2,520.2 398.6,520.3 398.1,520.4 397.5,520.5 397.0,520.5 396.5,520.5 395.9,520.4 395.4,520.3 394.8,520.2 394.2,520.0 393.7,519.8 393.1,519.6 392.6,519.3 392.0,519.0 391.5,518.8 390.9,518.5 390.4,518.2 389.9,517.9 389.4,517.6" fill="#637f3e" stroke="#23380f" stroke-width="0.8" stroke-linejoin="round"/>
<polygon points="399.7,515.8 400.2,515.6 400.7,515.4 401.1,515.2 401.6,515.0 402.0,514.8 402.4,514.5 402.8,514.3 403.2,514.0 403.6,513.8 404.0,513.5 404.4,513.2 404.7,512.9 405.0,512.6 405.3,512.3 405.7,512.0 406.0,511.7 406.2,511.3 406.5,510.9 406.8,510.6 407.1,510.2 407.3,509.8 407.6,509.5 409.5,513.0 409.2,513.4 409.0,513.7 408.7,514.1 408.4,514.4 408.1,514.8 407.7,515.1 407.4,515.5 407.1,515.8 406.7,516.1 406.3,516.4 405.9,516.7 405.5,517.0 405.1,517.3 404.6,517.6 404.1,517.9 403.6,518.2 403.1,518.5 402.6,518.8 402.0,519.0 401.5,519.3 400.9,519.6 400.3,519.8" fill="#637f3e" stroke="#23380f" stroke-width="0.8" stroke-linejoin="round"/>
<polygon points="407.6,509.5 407.8,509.1 408.1,508.7 408.3,508.4 408.5,508.0 408.7,507.6 408.9,507.3 409.1,506.9 409.3,506.6 409.5,506.2 409.6,505.8 409.8,505.5 410.0,505.1 410.1,504.7 410.2,504.3 410.4,504.0 410.5,503.6 410.6,503.2 410.8,502.8 410.9,502.4 411.0,502.0 411.1,501.6 411.2,501.3 411.3,501.0 411.4,500.7 411.5,500.5 411.5,500.2 411.6,500.0 411.7,499.7 411.8,499.4 414.0,501.9 413.9,502.3 413.8,502.6 413.7,502.9 413.6,503.2 413.5,503.6 413.4,503.9 413.3,504.2 413.1,504.6 413.0,505.0 412.9,505.4 412.7,505.9 412.6,506.3 412.5,506.8 412.4,507.2 412.2,507.6 412.1,508.0 411.9,508.4 411.8,508.8 411.7,509.2 411.5,509.6 411.3,510.0 411.1,510.4 410.9,510.7 410.7,511.1 410.5,511.5 410.3,511.9 410.0,512.2 409.8,512.6 409.5,513.0" fill="#637f3e" stroke="#23380f" stroke-width="0.8" stroke-linejoin="round"/>
<polygon points="411.8,499.4 411.8,499.0 411.9,498.6 411.9,498.0 412.0,497.4 412.1,496.7 412.1,495.9 412.2,495.0 412.3,493.9 412.3,492.8 412.4,491.5 412.5,490.1 412.6,488.7 415.5,490.1 415.3,491.7 415.2,493.2 415.1,494.6 414.9,495.8 414.8,497.0 414.7,498.0 414.6,498.9 414.4,499.7 414.3,500.4 414.2,501.0 414.1,501.5 414.0,501.9" fill="#637f3e" stroke="#23380f" stroke-width="0.8" stroke-linejoin="round"/>
<polygon points="412.6,488.7 412.7,487.2 412.7,485.6 412.8,483.9 412.9,482.3 413.0,480.5 413.0,478.8 413.1,477.0 416.5,477.4 416.4,479.3 416.2,481.2 416.1,483.0 415.9,484.9 415.8,486.7 415.6,488.4 415.5,490.1" fill="#637f3e" stroke="#23380f" stroke-width="0.8" stroke-linejoin="round"/>
<polygon points="413.1,477.0 413.2,475.3 413.2,473.5 413.3,471.7 413.3,470.0 413.3,468.3 413.4,466.6 417.2,466.5 417.1,468.2 417.0,470.0 416.9,471.8 416.8,473.6 416.6,475.5 416.5,477.4" fill="#637f3e" stroke="#23380f" stroke-width="0.8" stroke-linejoin="round"/>
<polygon points="413.4,466.6 413.4,464.9 413.4,463.3 413.4,461.6 413.4,459.9 413.4,458.2 413.3,456.4 417.7,456.3 417.6,458.1 417.5,459.8 417.4,461.5 417.4,463.1 417.3,464.8 417.2,466.5" fill="#637f3e" stroke="#23380f" stroke-width="0.8" stroke-linejoin="round"/>
<polygon points="413.3,456.4 413.3,454.6 413.3,452.8 413.3,450.9 413.3,448.9 413.4,446.8 413.4,444.6 418.2,444.6 418.1,446.8 418.0,448.8 417.9,450.8 417.8,452.7 417.7,454.5 417.7,456.3" fill="#637f3e" stroke="#23380f" stroke-width="0.8" stroke-linejoin="round"/>
<polygon points="413.4,444.6 413.4,442.4 413.5,440.0 413.6,437.4 413.7,434.5 413.8,431.4 418.9,431.4 418.7,434.5 418.5,437.4 418.4,440.0 418.3,442.4 418.2,444.6" fill="#637f3e" stroke="#23380f" stroke-width="0.8" stroke-linejoin="round"/>
<polygon points="413.8,431.4 413.9,428.1 414.1,424.7 414.2,421.2 414.4,417.7 419.7,417.7 419.5,421.2 419.3,424.7 419.1,428.1 418.9,431.4" fill="#637f3e" stroke="#23380f" stroke-width="0.8" stroke-linejoin="round"/>
<polygon points="414.4,417.7 414.5,414.1 414.7,410.6 414.8,407.3 420.4,407.3 420.2,410.6 419.9,414.1 419.7,417.7" fill="#637f3e" stroke="#23380f" stroke-width="0.8" stroke-linejoin="round"/>
<polygon points="414.8,407.3 415.0,404.1 415.1,401.0 415.2,398.3 415.3,395.8 415.4,393.7 415.5,392.0 421.3,392.0 421.2,393.7 421.1,395.8 420.9,398.3 420.7,401.0 420.6,404.1 420.4,407.3" fill="#637f3e" stroke="#23380f" stroke-width="0.8" stroke-linejoin="round"/>
<circle cx="378.4" cy="398.9" r="0.8" fill="#9cc06a"/>
<circle cx="378.2" cy="412.4" r="0.8" fill="#9cc06a"/>
<circle cx="378.0" cy="422.9" r="0.8" fill="#9cc06a"/>
<circle cx="377.8" cy="434.3" r="0.8" fill="#9cc06a"/>
<circle cx="377.7" cy="445.6" r="0.8" fill="#9cc06a"/>
<circle cx="377.5" cy="456.3" r="0.8" fill="#9cc06a"/>
<circle cx="377.5" cy="467.5" r="0.8" fill="#9cc06a"/>
<circle cx="378.0" cy="479.0" r="0.8" fill="#9cc06a"/>
<circle cx="379.0" cy="491.2" r="0.8" fill="#9cc06a"/>
<circle cx="380.8" cy="502.1" r="0.8" fill="#9cc06a"/>
<circle cx="385.6" cy="511.3" r="0.8" fill="#9cc06a"/>
<circle cx="395.0" cy="517.6" r="0.8" fill="#9cc06a"/>
<circle cx="404.8" cy="514.8" r="0.8" fill="#9cc06a"/>
<circle cx="411.1" cy="505.8" r="0.8" fill="#9cc06a"/>
<circle cx="413.4" cy="496.2" r="0.8" fill="#9cc06a"/>
<circle cx="414.4" cy="483.4" r="0.8" fill="#9cc06a"/>
<circle cx="415.1" cy="471.8" r="0.8" fill="#9cc06a"/>
<circle cx="415.4" cy="461.5" r="0.8" fill="#9cc06a"/>
<circle cx="415.6" cy="450.7" r="0.8" fill="#9cc06a"/>
<circle cx="416.0" cy="438.4" r="0.8" fill="#9cc06a"/>
<circle cx="416.7" cy="424.6" r="0.8" fill="#9cc06a"/>
<circle cx="417.3" cy="412.4" r="0.8" fill="#9cc06a"/>
<circle cx="418.0" cy="398.9" r="0.8" fill="#9cc06a"/>
<clipPath id="ya303_0"><path d="M381.3,392.0 L381.3,394.4 L381.3,397.4 L381.2,401.0 L381.2,405.1 L381.2,409.5 L381.1,414.1 L381.1,418.8 L381.1,423.6 L381.0,428.1 L381.0,432.5 L380.9,436.5 L380.9,440.0 L380.8,443.2 L380.8,446.2 L380.7,449.0 L380.6,451.7 L380.6,454.3 L380.5,456.8 L380.4,459.1 L380.3,461.4 L380.3,463.6 L380.2,465.8 L380.2,467.9 L380.2,470.0 L380.2,472.0 L380.2,474.0 L380.2,475.9 L380.3,477.8 L380.3,479.5 L380.4,481.2 L380.5,482.9 L380.5,484.4 L380.6,485.9 L380.7,487.4 L380.7,488.7 L380.8,490.0 L380.9,491.2 L381.0,492.4 L381.0,493.4 L381.1,494.4 L381.2,495.4 L381.3,496.2 L381.4,497.0 L381.5,497.8 L381.6,498.4 L381.7,499.0 L381.8,499.5 L381.8,500.0 Q381.8,516.3 393.8,516.3 L400.2,516.3 Q412.2,516.3 412.2,500.0 L412.2,500.0 L412.2,499.5 L412.3,499.0 L412.3,498.4 L412.4,497.8 L412.4,497.0 L412.5,496.2 L412.5,495.4 L412.6,494.4 L412.6,493.4 L412.7,492.4 L412.8,491.2 L412.8,490.0 L412.8,488.7 L412.9,487.4 L412.9,485.9 L413.0,484.4 L413.0,482.9 L413.1,481.2 L413.1,479.5 L413.2,477.8 L413.2,475.9 L413.2,474.0 L413.3,472.0 L413.3,470.0 L413.3,467.9 L413.3,465.8 L413.3,463.6 L413.3,461.4 L413.3,459.1 L413.3,456.8 L413.3,454.3 L413.3,451.7 L413.3,449.0 L413.4,446.2 L413.4,443.2 L413.5,440.0 L413.6,436.5 L413.8,432.5 L413.9,428.1 L414.1,423.6 L414.3,418.8 L414.5,414.1 L414.7,409.5 L414.9,405.1 L415.1,401.0 L415.3,397.4 L415.4,394.4 L415.5,392.0 Z"/></clipPath>
<g clip-path="url(#ya303_0)">
<polygon points="381.0,392.6 387.0,392.6 386.9,520.3 381.5,520.3" fill="#4a3f0c" stroke="none" stroke-width="0" stroke-linejoin="round"/>
<polygon points="381.9,393.4 386.6,394.0 386.2,407.6 381.7,407.6" fill="#f9eb45" stroke="none" stroke-width="0" stroke-linejoin="round"/>
<polygon points="381.7,408.5 386.0,408.0 385.9,418.6 381.6,418.6" fill="#f9eb45" stroke="none" stroke-width="0" stroke-linejoin="round"/>
<polygon points="381.8,419.5 386.2,419.8 385.9,430.6 381.5,430.6" fill="#f9eb45" stroke="none" stroke-width="0" stroke-linejoin="round"/>
<polygon points="381.3,431.5 385.5,431.4 385.4,446.2 381.1,446.2" fill="#f9eb45" stroke="none" stroke-width="0" stroke-linejoin="round"/>
<polygon points="381.0,447.1 385.5,447.3 385.3,456.4 380.8,456.4" fill="#f9eb45" stroke="none" stroke-width="0" stroke-linejoin="round"/>
<polygon points="380.8,457.3 385.5,458.0 385.2,468.4 380.6,468.4" fill="#f9eb45" stroke="none" stroke-width="0" stroke-linejoin="round"/>
<polygon points="380.3,469.3 384.7,469.8 385.0,480.0 380.7,480.0" fill="#f9eb45" stroke="none" stroke-width="0" stroke-linejoin="round"/>
<polygon points="381.0,480.9 385.2,480.6 385.4,488.3 381.2,488.3" fill="#f9eb45" stroke="none" stroke-width="0" stroke-linejoin="round"/>
<polygon points="380.8,489.2 385.2,489.2 386.0,498.3 381.9,498.3" fill="#f9eb45" stroke="none" stroke-width="0" stroke-linejoin="round"/>
<polygon points="382.3,499.2 385.9,498.7 386.1,504.1 382.3,504.1" fill="#f9eb45" stroke="none" stroke-width="0" stroke-linejoin="round"/>
<polygon points="382.3,505.0 386.2,505.2 386.2,510.0 382.3,510.0" fill="#f9eb45" stroke="none" stroke-width="0" stroke-linejoin="round"/>
<polygon points="382.4,510.9 386.5,511.1 386.4,519.2 382.3,519.2" fill="#f9eb45" stroke="none" stroke-width="0" stroke-linejoin="round"/>
<polygon points="386.4,391.3 391.6,391.3 391.0,520.3 386.3,520.3" fill="#4a3f0c" stroke="none" stroke-width="0" stroke-linejoin="round"/>
<polygon points="386.9,392.1 390.5,392.1 390.5,406.6 386.9,406.6" fill="#f9eb45" stroke="none" stroke-width="0" stroke-linejoin="round"/>
<polygon points="386.8,407.5 390.5,407.3 390.3,420.3 386.7,420.3" fill="#f9eb45" stroke="none" stroke-width="0" stroke-linejoin="round"/>
<polygon points="386.8,421.2 390.5,421.5 390.2,433.9 386.6,433.9" fill="#f9eb45" stroke="none" stroke-width="0" stroke-linejoin="round"/>
<polygon points="386.8,434.8 390.4,434.2 390.0,445.0 386.5,445.0" fill="#f9eb45" stroke="none" stroke-width="0" stroke-linejoin="round"/>
<polygon points="386.5,445.9 389.6,445.9 389.4,460.5 386.1,460.5" fill="#f9eb45" stroke="none" stroke-width="0" stroke-linejoin="round"/>
<polygon points="386.3,461.4 389.5,461.5 389.4,473.5 386.0,473.5" fill="#f9eb45" stroke="none" stroke-width="0" stroke-linejoin="round"/>
<polygon points="386.1,474.4 389.8,474.3 389.8,488.5 386.4,488.5" fill="#f9eb45" stroke="none" stroke-width="0" stroke-linejoin="round"/>
<polygon points="386.1,489.4 389.8,489.9 390.2,497.8 386.8,497.8" fill="#f9eb45" stroke="none" stroke-width="0" stroke-linejoin="round"/>
<polygon points="387.1,498.7 390.0,499.2 390.2,507.0 387.1,507.0" fill="#f9eb45" stroke="none" stroke-width="0" stroke-linejoin="round"/>
<polygon points="387.4,507.9 390.3,508.3 390.3,518.0 387.2,518.0" fill="#f9eb45" stroke="none" stroke-width="0" stroke-linejoin="round"/>
<polygon points="391.0,392.1 396.2,392.1 395.1,520.3 390.4,520.3" fill="#4a3f0c" stroke="none" stroke-width="0" stroke-linejoin="round"/>
<polygon points="392.0,392.9 395.4,392.4 395.0,410.4 391.5,410.4" fill="#f9eb45" stroke="none" stroke-width="0" stroke-linejoin="round"/>
<polygon points="391.4,411.3 395.2,411.3 394.8,421.9 391.2,421.9" fill="#f9eb45" stroke="none" stroke-width="0" stroke-linejoin="round"/>
<polygon points="391.4,422.8 394.4,423.3 394.4,430.2 391.1,430.2" fill="#f9eb45" stroke="none" stroke-width="0" stroke-linejoin="round"/>
<polygon points="390.9,431.1 394.7,430.6 394.5,439.6 390.8,439.6" fill="#f9eb45" stroke="none" stroke-width="0" stroke-linejoin="round"/>
<polygon points="390.9,440.5 394.5,440.9 394.3,448.7 390.7,448.7" fill="#f9eb45" stroke="none" stroke-width="0" stroke-linejoin="round"/>
<polygon points="391.0,449.6 394.2,450.3 394.0,462.3 390.5,462.3" fill="#f9eb45" stroke="none" stroke-width="0" stroke-linejoin="round"/>
<polygon points="390.2,463.2 394.0,462.9 393.9,471.0 390.2,471.0" fill="#f9eb45" stroke="none" stroke-width="0" stroke-linejoin="round"/>
<polygon points="390.4,471.9 393.9,472.3 394.0,484.8 390.5,484.8" fill="#f9eb45" stroke="none" stroke-width="0" stroke-linejoin="round"/>
<polygon points="390.3,485.7 393.9,486.2 394.1,493.5 390.7,493.5" fill="#f9eb45" stroke="none" stroke-width="0" stroke-linejoin="round"/>
<polygon points="390.5,494.4 394.4,495.1 394.5,504.2 391.0,504.2" fill="#f9eb45" stroke="none" stroke-width="0" stroke-linejoin="round"/>
<polygon points="391.2,505.1 394.1,505.1 394.2,512.7 391.1,512.7" fill="#f9eb45" stroke="none" stroke-width="0" stroke-linejoin="round"/>
<polygon points="391.2,513.6 394.0,514.3 394.2,519.8 391.1,519.8" fill="#f9eb45" stroke="none" stroke-width="0" stroke-linejoin="round"/>
<polygon points="395.5,395.4 401.6,395.4 399.9,520.3 394.5,520.3" fill="#4a3f0c" stroke="none" stroke-width="0" stroke-linejoin="round"/>
<polygon points="396.5,396.2 400.9,396.2 400.5,410.2 396.0,410.2" fill="#f9eb45" stroke="none" stroke-width="0" stroke-linejoin="round"/>
<polygon points="395.6,411.1 400.5,410.9 400.1,423.7 395.4,423.7" fill="#f9eb45" stroke="none" stroke-width="0" stroke-linejoin="round"/>
<polygon points="395.9,424.6 399.9,424.5 399.5,439.3 395.4,439.3" fill="#f9eb45" stroke="none" stroke-width="0" stroke-linejoin="round"/>
<polygon points="395.2,440.2 399.8,440.8 399.6,448.4 395.0,448.4" fill="#f9eb45" stroke="none" stroke-width="0" stroke-linejoin="round"/>
<polygon points="394.9,449.3 399.2,449.4 399.2,460.2 394.8,460.2" fill="#f9eb45" stroke="none" stroke-width="0" stroke-linejoin="round"/>
<polygon points="394.6,461.1 399.5,460.4 399.3,475.6 394.6,475.6" fill="#f9eb45" stroke="none" stroke-width="0" stroke-linejoin="round"/>
<polygon points="394.5,476.5 399.3,476.2 399.2,485.1 394.7,485.1" fill="#f9eb45" stroke="none" stroke-width="0" stroke-linejoin="round"/>
<polygon points="394.9,486.0 398.9,486.3 399.0,492.7 395.0,492.7" fill="#f9eb45" stroke="none" stroke-width="0" stroke-linejoin="round"/>
<polygon points="394.9,493.6 399.0,493.2 399.1,499.0 395.2,499.0" fill="#f9eb45" stroke="none" stroke-width="0" stroke-linejoin="round"/>
<polygon points="395.1,499.9 399.1,499.8 399.2,507.6 395.2,507.6" fill="#f9eb45" stroke="none" stroke-width="0" stroke-linejoin="round"/>
<polygon points="394.9,508.5 399.0,508.7 399.1,516.1 395.1,516.1" fill="#f9eb45" stroke="none" stroke-width="0" stroke-linejoin="round"/>
<polygon points="395.2,517.0 399.5,517.2 399.4,519.8 395.2,519.8" fill="#f9eb45" stroke="none" stroke-width="0" stroke-linejoin="round"/>
<polygon points="400.9,396.3 405.6,396.3 403.6,520.3 399.3,520.3" fill="#4a3f0c" stroke="none" stroke-width="0" stroke-linejoin="round"/>
<polygon points="401.8,397.1 405.1,397.7 404.6,409.9 401.4,409.9" fill="#f9eb45" stroke="none" stroke-width="0" stroke-linejoin="round"/>
<polygon points="401.2,410.8 404.8,410.4 404.3,420.4 401.0,420.4" fill="#f9eb45" stroke="none" stroke-width="0" stroke-linejoin="round"/>
<polygon points="401.3,421.3 403.9,420.9 403.5,436.4 400.7,436.4" fill="#f9eb45" stroke="none" stroke-width="0" stroke-linejoin="round"/>
<polygon points="400.4,437.3 403.3,437.8 403.2,450.2 400.2,450.2" fill="#f9eb45" stroke="none" stroke-width="0" stroke-linejoin="round"/>
<polygon points="400.4,451.1 403.1,451.0 403.1,461.6 400.2,461.6" fill="#f9eb45" stroke="none" stroke-width="0" stroke-linejoin="round"/>
<polygon points="399.8,462.5 403.0,462.7 403.0,475.1 399.8,475.1" fill="#f9eb45" stroke="none" stroke-width="0" stroke-linejoin="round"/>
<polygon points="400.3,476.0 402.9,476.0 402.9,490.4 400.2,490.4" fill="#f9eb45" stroke="none" stroke-width="0" stroke-linejoin="round"/>
<polygon points="400.0,491.3 403.1,490.8 402.9,500.2 400.1,500.2" fill="#f9eb45" stroke="none" stroke-width="0" stroke-linejoin="round"/>
<polygon points="399.8,501.1 402.6,501.2 402.7,506.2 399.9,506.2" fill="#f9eb45" stroke="none" stroke-width="0" stroke-linejoin="round"/>
<polygon points="400.1,507.1 402.6,506.6 402.8,514.7 400.1,514.7" fill="#f9eb45" stroke="none" stroke-width="0" stroke-linejoin="round"/>
<polygon points="400.3,515.6 403.2,516.2 403.1,519.8 400.2,519.8" fill="#f9eb45" stroke="none" stroke-width="0" stroke-linejoin="round"/>
<polygon points="405.2,392.1 411.1,392.1 408.4,520.3 403.0,520.3" fill="#4a3f0c" stroke="none" stroke-width="0" stroke-linejoin="round"/>
<polygon points="406.2,392.9 410.4,393.3 409.9,404.5 405.6,404.5" fill="#f9eb45" stroke="none" stroke-width="0" stroke-linejoin="round"/>
<polygon points="405.4,405.4 409.9,405.3 409.6,415.1 405.2,415.1" fill="#f9eb45" stroke="none" stroke-width="0" stroke-linejoin="round"/>
<polygon points="404.8,416.0 409.7,416.5 409.1,427.9 404.5,427.9" fill="#f9eb45" stroke="none" stroke-width="0" stroke-linejoin="round"/>
<polygon points="404.7,428.8 409.2,428.7 408.8,437.4 404.5,437.4" fill="#f9eb45" stroke="none" stroke-width="0" stroke-linejoin="round"/>
<polygon points="404.2,438.3 408.7,437.6 408.5,446.9 404.1,446.9" fill="#f9eb45" stroke="none" stroke-width="0" stroke-linejoin="round"/>
<polygon points="404.5,447.8 408.7,448.3 408.5,462.1 404.2,462.1" fill="#f9eb45" stroke="none" stroke-width="0" stroke-linejoin="round"/>
<polygon points="404.0,463.0 408.5,463.0 408.3,475.1 403.9,475.1" fill="#f9eb45" stroke="none" stroke-width="0" stroke-linejoin="round"/>
<polygon points="404.2,476.0 408.1,476.6 407.9,491.0 403.9,491.0" fill="#f9eb45" stroke="none" stroke-width="0" stroke-linejoin="round"/>
<polygon points="404.0,491.9 408.2,491.7 407.7,500.7 403.8,500.7" fill="#f9eb45" stroke="none" stroke-width="0" stroke-linejoin="round"/>
<polygon points="404.0,501.6 407.8,502.0 407.7,511.3 403.9,511.3" fill="#f9eb45" stroke="none" stroke-width="0" stroke-linejoin="round"/>
<polygon points="403.7,512.2 407.8,511.6 407.7,519.8 403.7,519.8" fill="#f9eb45" stroke="none" stroke-width="0" stroke-linejoin="round"/>
<polygon points="410.5,392.1 415.8,392.1 412.5,520.3 407.8,520.3" fill="#4a3f0c" stroke="none" stroke-width="0" stroke-linejoin="round"/>
<polygon points="410.9,392.9 415.0,393.1 414.2,407.3 410.4,407.3" fill="#f9eb45" stroke="none" stroke-width="0" stroke-linejoin="round"/>
<polygon points="410.4,408.2 414.6,408.5 414.0,420.3 410.1,420.3" fill="#f9eb45" stroke="none" stroke-width="0" stroke-linejoin="round"/>
<polygon points="410.3,421.2 413.9,421.3 413.4,431.0 409.8,431.0" fill="#f9eb45" stroke="none" stroke-width="0" stroke-linejoin="round"/>
<polygon points="410.1,431.9 413.4,432.2 413.1,442.1 409.6,442.1" fill="#f9eb45" stroke="none" stroke-width="0" stroke-linejoin="round"/>
<polygon points="409.7,443.0 412.7,443.2 412.7,456.2 409.4,456.2" fill="#f9eb45" stroke="none" stroke-width="0" stroke-linejoin="round"/>
<polygon points="409.1,457.1 412.8,456.5 412.8,470.1 409.1,470.1" fill="#f9eb45" stroke="none" stroke-width="0" stroke-linejoin="round"/>
<polygon points="409.1,471.0 412.6,470.7 412.6,479.7 409.0,479.7" fill="#f9eb45" stroke="none" stroke-width="0" stroke-linejoin="round"/>
<polygon points="409.1,480.6 412.7,481.3 412.1,495.0 408.7,495.0" fill="#f9eb45" stroke="none" stroke-width="0" stroke-linejoin="round"/>
<polygon points="409.0,495.9 412.2,496.3 411.8,503.7 408.7,503.7" fill="#f9eb45" stroke="none" stroke-width="0" stroke-linejoin="round"/>
<polygon points="408.5,504.6 412.0,504.0 411.9,509.8 408.5,509.8" fill="#f9eb45" stroke="none" stroke-width="0" stroke-linejoin="round"/>
<polygon points="408.2,510.7 411.8,510.2 411.8,519.8 408.4,519.8" fill="#f9eb45" stroke="none" stroke-width="0" stroke-linejoin="round"/>
</g>
<line x1="139.6" y1="130.7" x2="171.5" y2="113.2" stroke="#c0392b" stroke-width="0.7" stroke-dasharray="2.5,1.5"/>
<line x1="139.6" y1="158.5" x2="168" y2="218.5" stroke="#c0392b" stroke-width="0.7" stroke-dasharray="2.5,1.5"/>
<line x1="445.5" y1="129" x2="468.5" y2="112.5" stroke="#c0392b" stroke-width="0.7" stroke-dasharray="2.5,1.5"/>
<line x1="446" y1="158" x2="462.5" y2="226" stroke="#c0392b" stroke-width="0.7" stroke-dasharray="2.5,1.5"/>
<text x="93" y="85.5" font-size="8.8" fill="#231f20" stroke="#231f20" stroke-width="0.22" transform="rotate(-30 93 85.5)">Vasc</text>
<text x="116.5" y="86" font-size="8.8" fill="#231f20" stroke="#231f20" stroke-width="0.22" transform="rotate(-30 116.5 86)">En</text>
<text x="136.2" y="86.3" font-size="8.8" fill="#231f20" stroke="#231f20" stroke-width="0.22" transform="rotate(-30 136.2 86.3)">Co</text>
<text x="150.5" y="95" font-size="8.8" fill="#231f20" stroke="#231f20" stroke-width="0.22" transform="rotate(-30 150.5 95)">Ep</text>
<line x1="125.3" y1="87" x2="142.8" y2="90" stroke="#231f20" stroke-width="0.6"/>
<text x="396" y="85.5" font-size="8.8" fill="#231f20" stroke="#231f20" stroke-width="0.22" transform="rotate(-30 396 85.5)">Vasc</text>
<text x="419.5" y="86" font-size="8.8" fill="#231f20" stroke="#231f20" stroke-width="0.22" transform="rotate(-30 419.5 86)">En</text>
<text x="439.2" y="86.3" font-size="8.8" fill="#231f20" stroke="#231f20" stroke-width="0.22" transform="rotate(-30 439.2 86.3)">Co</text>
<text x="453.5" y="95" font-size="8.8" fill="#231f20" stroke="#231f20" stroke-width="0.22" transform="rotate(-30 453.5 95)">Ep</text>
<line x1="428.3" y1="87" x2="445.8" y2="90" stroke="#231f20" stroke-width="0.6"/>
<text x="16.8" y="246.5" font-size="8.8" fill="#231f20" stroke="#231f20" stroke-width="0.22">Lrc</text>
<text x="38.9" y="303" font-size="8.8" fill="#231f20" stroke="#231f20" stroke-width="0.22">Col</text>
<line x1="23" y1="231" x2="26.95" y2="210.43" stroke="#231f20" stroke-width="0.8"/>
<path d="M27.7,206.5 L28.92,211.82 L24.60,211.00 Z" fill="#231f20"/>
<line x1="50.4" y1="290.5" x2="60.88" y2="277.60" stroke="#231f20" stroke-width="0.8"/>
<path d="M63.4,274.5 L61.95,279.77 L58.54,276.99 Z" fill="#231f20"/>
<text x="321.3" y="246.5" font-size="8.8" fill="#231f20" stroke="#231f20" stroke-width="0.22">Lrc</text>
<text x="343.4" y="303" font-size="8.8" fill="#231f20" stroke="#231f20" stroke-width="0.22">Col</text>
<line x1="327.5" y1="231" x2="331.45" y2="210.43" stroke="#231f20" stroke-width="0.8"/>
<path d="M332.2,206.5 L333.42,211.82 L329.10,211.00 Z" fill="#231f20"/>
<line x1="354.9" y1="290.5" x2="365.38" y2="277.60" stroke="#231f20" stroke-width="0.8"/>
<path d="M367.9,274.5 L366.45,279.77 L363.04,276.99 Z" fill="#231f20"/>
<text x="90.5" y="390.5" font-size="8.8" fill="#231f20" stroke="#231f20" stroke-width="0.22" transform="rotate(-30 90.5 390.5)">Vasc</text>
<text x="112.3" y="391" font-size="8.8" fill="#231f20" stroke="#231f20" stroke-width="0.22" transform="rotate(-30 112.3 391)">En</text>
<text x="127" y="390" font-size="8.8" fill="#231f20" stroke="#231f20" stroke-width="0.22" transform="rotate(-30 127 390)">Co</text>
<text x="141.5" y="393.5" font-size="8.8" fill="#231f20" stroke="#231f20" stroke-width="0.22" transform="rotate(-30 141.5 393.5)">Ep</text>
<text x="393.5" y="390.5" font-size="8.8" fill="#231f20" stroke="#231f20" stroke-width="0.22" transform="rotate(-30 393.5 390.5)">Vasc</text>
<text x="415.3" y="391" font-size="8.8" fill="#231f20" stroke="#231f20" stroke-width="0.22" transform="rotate(-30 415.3 391)">En</text>
<text x="430" y="390" font-size="8.8" fill="#231f20" stroke="#231f20" stroke-width="0.22" transform="rotate(-30 430 390)">Co</text>
<text x="444.5" y="393.5" font-size="8.8" fill="#231f20" stroke="#231f20" stroke-width="0.22" transform="rotate(-30 444.5 393.5)">Ep</text>
<text x="30" y="516.8" font-size="8.8" fill="#231f20" stroke="#231f20" stroke-width="0.22">Lrc</text>
<text x="45" y="584" font-size="8.8" fill="#231f20" stroke="#231f20" stroke-width="0.22">Col</text>
<line x1="37.3" y1="504" x2="44.44" y2="482.59" stroke="#231f20" stroke-width="0.8"/>
<path d="M45.7,478.8 L46.21,484.24 L42.03,482.85 Z" fill="#231f20"/>
<line x1="56.2" y1="572.2" x2="66.32" y2="559.43" stroke="#231f20" stroke-width="0.8"/>
<path d="M68.8,556.3 L67.42,561.59 L63.97,558.85 Z" fill="#231f20"/>
<text x="333.8" y="516.8" font-size="8.8" fill="#231f20" stroke="#231f20" stroke-width="0.22">Lrc</text>
<text x="348.8" y="587.8" font-size="8.8" fill="#231f20" stroke="#231f20" stroke-width="0.22">Col</text>
<line x1="341.1" y1="504" x2="348.24" y2="482.59" stroke="#231f20" stroke-width="0.8"/>
<path d="M349.5,478.8 L350.01,484.24 L345.83,482.85 Z" fill="#231f20"/>
<line x1="360.0" y1="576.0" x2="370.12" y2="563.23" stroke="#231f20" stroke-width="0.8"/>
<path d="M372.6,560.0999999999999 L371.22,565.39 L367.77,562.65 Z" fill="#231f20"/>
<rect x="415.5" y="407" width="5.5" height="30.5" fill="#6e6a2c" opacity="0.75"/>
<rect x="421" y="407.0" width="5.5" height="5.2" rx="0.8" fill="#8fc35c" stroke="#2a4014" stroke-width="0.8"/>
<circle cx="423.8" cy="409.6" r="0.8" fill="#b9e07e"/>
<rect x="421" y="412.2" width="5.5" height="5.4" rx="0.8" fill="#8fc35c" stroke="#2a4014" stroke-width="0.8"/>
<circle cx="423.8" cy="414.9" r="0.8" fill="#b9e07e"/>
<rect x="421" y="417.6" width="5.5" height="5.5" rx="0.8" fill="#8fc35c" stroke="#2a4014" stroke-width="0.8"/>
<circle cx="423.8" cy="420.3" r="0.8" fill="#b9e07e"/>
<rect x="421" y="423.1" width="5.5" height="5.7" rx="0.8" fill="#8fc35c" stroke="#2a4014" stroke-width="0.8"/>
<circle cx="423.8" cy="425.9" r="0.8" fill="#b9e07e"/>
<rect x="421" y="428.8" width="5.5" height="5.4" rx="0.8" fill="#8fc35c" stroke="#2a4014" stroke-width="0.8"/>
<circle cx="423.8" cy="431.5" r="0.8" fill="#b9e07e"/>
<rect x="421" y="434.1" width="5.5" height="3.4" rx="0.8" fill="#8fc35c" stroke="#2a4014" stroke-width="0.8"/>
<circle cx="423.8" cy="435.8" r="0.8" fill="#b9e07e"/>
<rect x="426.5" y="407.0" width="5.5" height="4.2" rx="0.8" fill="#8fc35c" stroke="#2a4014" stroke-width="0.8"/>
<circle cx="429.2" cy="409.1" r="0.8" fill="#b9e07e"/>
<rect x="426.5" y="411.2" width="5.5" height="4.9" rx="0.8" fill="#8fc35c" stroke="#2a4014" stroke-width="0.8"/>
<circle cx="429.2" cy="413.7" r="0.8" fill="#b9e07e"/>
<rect x="426.5" y="416.2" width="5.5" height="5.7" rx="0.8" fill="#8fc35c" stroke="#2a4014" stroke-width="0.8"/>
<circle cx="429.2" cy="419.0" r="0.8" fill="#b9e07e"/>
<rect x="426.5" y="421.9" width="5.5" height="5.2" rx="0.8" fill="#8fc35c" stroke="#2a4014" stroke-width="0.8"/>
<circle cx="429.2" cy="424.5" r="0.8" fill="#b9e07e"/>
<rect x="426.5" y="427.1" width="5.5" height="5.6" rx="0.8" fill="#8fc35c" stroke="#2a4014" stroke-width="0.8"/>
<circle cx="429.2" cy="430.0" r="0.8" fill="#b9e07e"/>
<rect x="426.5" y="432.8" width="5.5" height="4.4" rx="0.8" fill="#8fc35c" stroke="#2a4014" stroke-width="0.8"/>
<circle cx="429.2" cy="435.0" r="0.8" fill="#b9e07e"/>
<rect x="432" y="407.0" width="5.0" height="5.0" rx="0.8" fill="#8fc35c" stroke="#2a4014" stroke-width="0.8"/>
<circle cx="434.5" cy="409.5" r="0.8" fill="#b9e07e"/>
<rect x="432" y="412.0" width="5.0" height="4.6" rx="0.8" fill="#8fc35c" stroke="#2a4014" stroke-width="0.8"/>
<circle cx="434.5" cy="414.2" r="0.8" fill="#b9e07e"/>
<rect x="432" y="416.5" width="5.0" height="5.1" rx="0.8" fill="#8fc35c" stroke="#2a4014" stroke-width="0.8"/>
<circle cx="434.5" cy="419.1" r="0.8" fill="#b9e07e"/>
<rect x="432" y="421.6" width="5.0" height="5.1" rx="0.8" fill="#8fc35c" stroke="#2a4014" stroke-width="0.8"/>
<circle cx="434.5" cy="424.2" r="0.8" fill="#b9e07e"/>
<rect x="432" y="426.7" width="5.0" height="4.2" rx="0.8" fill="#8fc35c" stroke="#2a4014" stroke-width="0.8"/>
<circle cx="434.5" cy="428.8" r="0.8" fill="#b9e07e"/>
<rect x="432" y="431.0" width="5.0" height="4.5" rx="0.8" fill="#8fc35c" stroke="#2a4014" stroke-width="0.8"/>
<circle cx="434.5" cy="433.2" r="0.8" fill="#b9e07e"/>
<rect x="432" y="435.5" width="5.0" height="2.0" rx="0.8" fill="#8fc35c" stroke="#2a4014" stroke-width="0.8"/>
<circle cx="434.5" cy="436.5" r="0.8" fill="#b9e07e"/>
<rect x="437" y="407.0" width="4.5" height="5.7" rx="0.8" fill="#8fc35c" stroke="#2a4014" stroke-width="0.8"/>
<circle cx="439.2" cy="409.8" r="0.8" fill="#b9e07e"/>
<rect x="437" y="412.7" width="4.5" height="5.4" rx="0.8" fill="#8fc35c" stroke="#2a4014" stroke-width="0.8"/>
<circle cx="439.2" cy="415.4" r="0.8" fill="#b9e07e"/>
<rect x="437" y="418.1" width="4.5" height="4.5" rx="0.8" fill="#8fc35c" stroke="#2a4014" stroke-width="0.8"/>
<circle cx="439.2" cy="420.3" r="0.8" fill="#b9e07e"/>
<rect x="437" y="422.5" width="4.5" height="5.5" rx="0.8" fill="#8fc35c" stroke="#2a4014" stroke-width="0.8"/>
<circle cx="439.2" cy="425.3" r="0.8" fill="#b9e07e"/>
<rect x="437" y="428.0" width="4.5" height="4.4" rx="0.8" fill="#8fc35c" stroke="#2a4014" stroke-width="0.8"/>
<circle cx="439.2" cy="430.2" r="0.8" fill="#b9e07e"/>
<rect x="437" y="432.4" width="4.5" height="5.1" rx="0.8" fill="#8fc35c" stroke="#2a4014" stroke-width="0.8"/>
<circle cx="439.2" cy="435.0" r="0.8" fill="#b9e07e"/>
<rect x="415" y="407" width="24.5" height="30.5" fill="none" stroke="#8a5a2a" stroke-width="0.8" opacity="0.8"/>
<rect x="116.6" y="410.2" width="12.6" height="27.8" fill="none" stroke="#b5522e" stroke-width="0.7" stroke-dasharray="2,1"/>
<line x1="129.2" y1="410.4" x2="176" y2="411" stroke="#c0392b" stroke-width="0.7" stroke-dasharray="2.5,1.5"/>
<line x1="129.2" y1="438" x2="167" y2="500" stroke="#c0392b" stroke-width="0.7" stroke-dasharray="2.5,1.5"/>
<line x1="439" y1="407" x2="478" y2="410.3" stroke="#c0392b" stroke-width="0.7" stroke-dasharray="2.5,1.5"/>
<line x1="438.5" y1="442" x2="470.3" y2="495.3" stroke="#c0392b" stroke-width="0.7" stroke-dasharray="2.5,1.5"/></svg>
</body></html>
